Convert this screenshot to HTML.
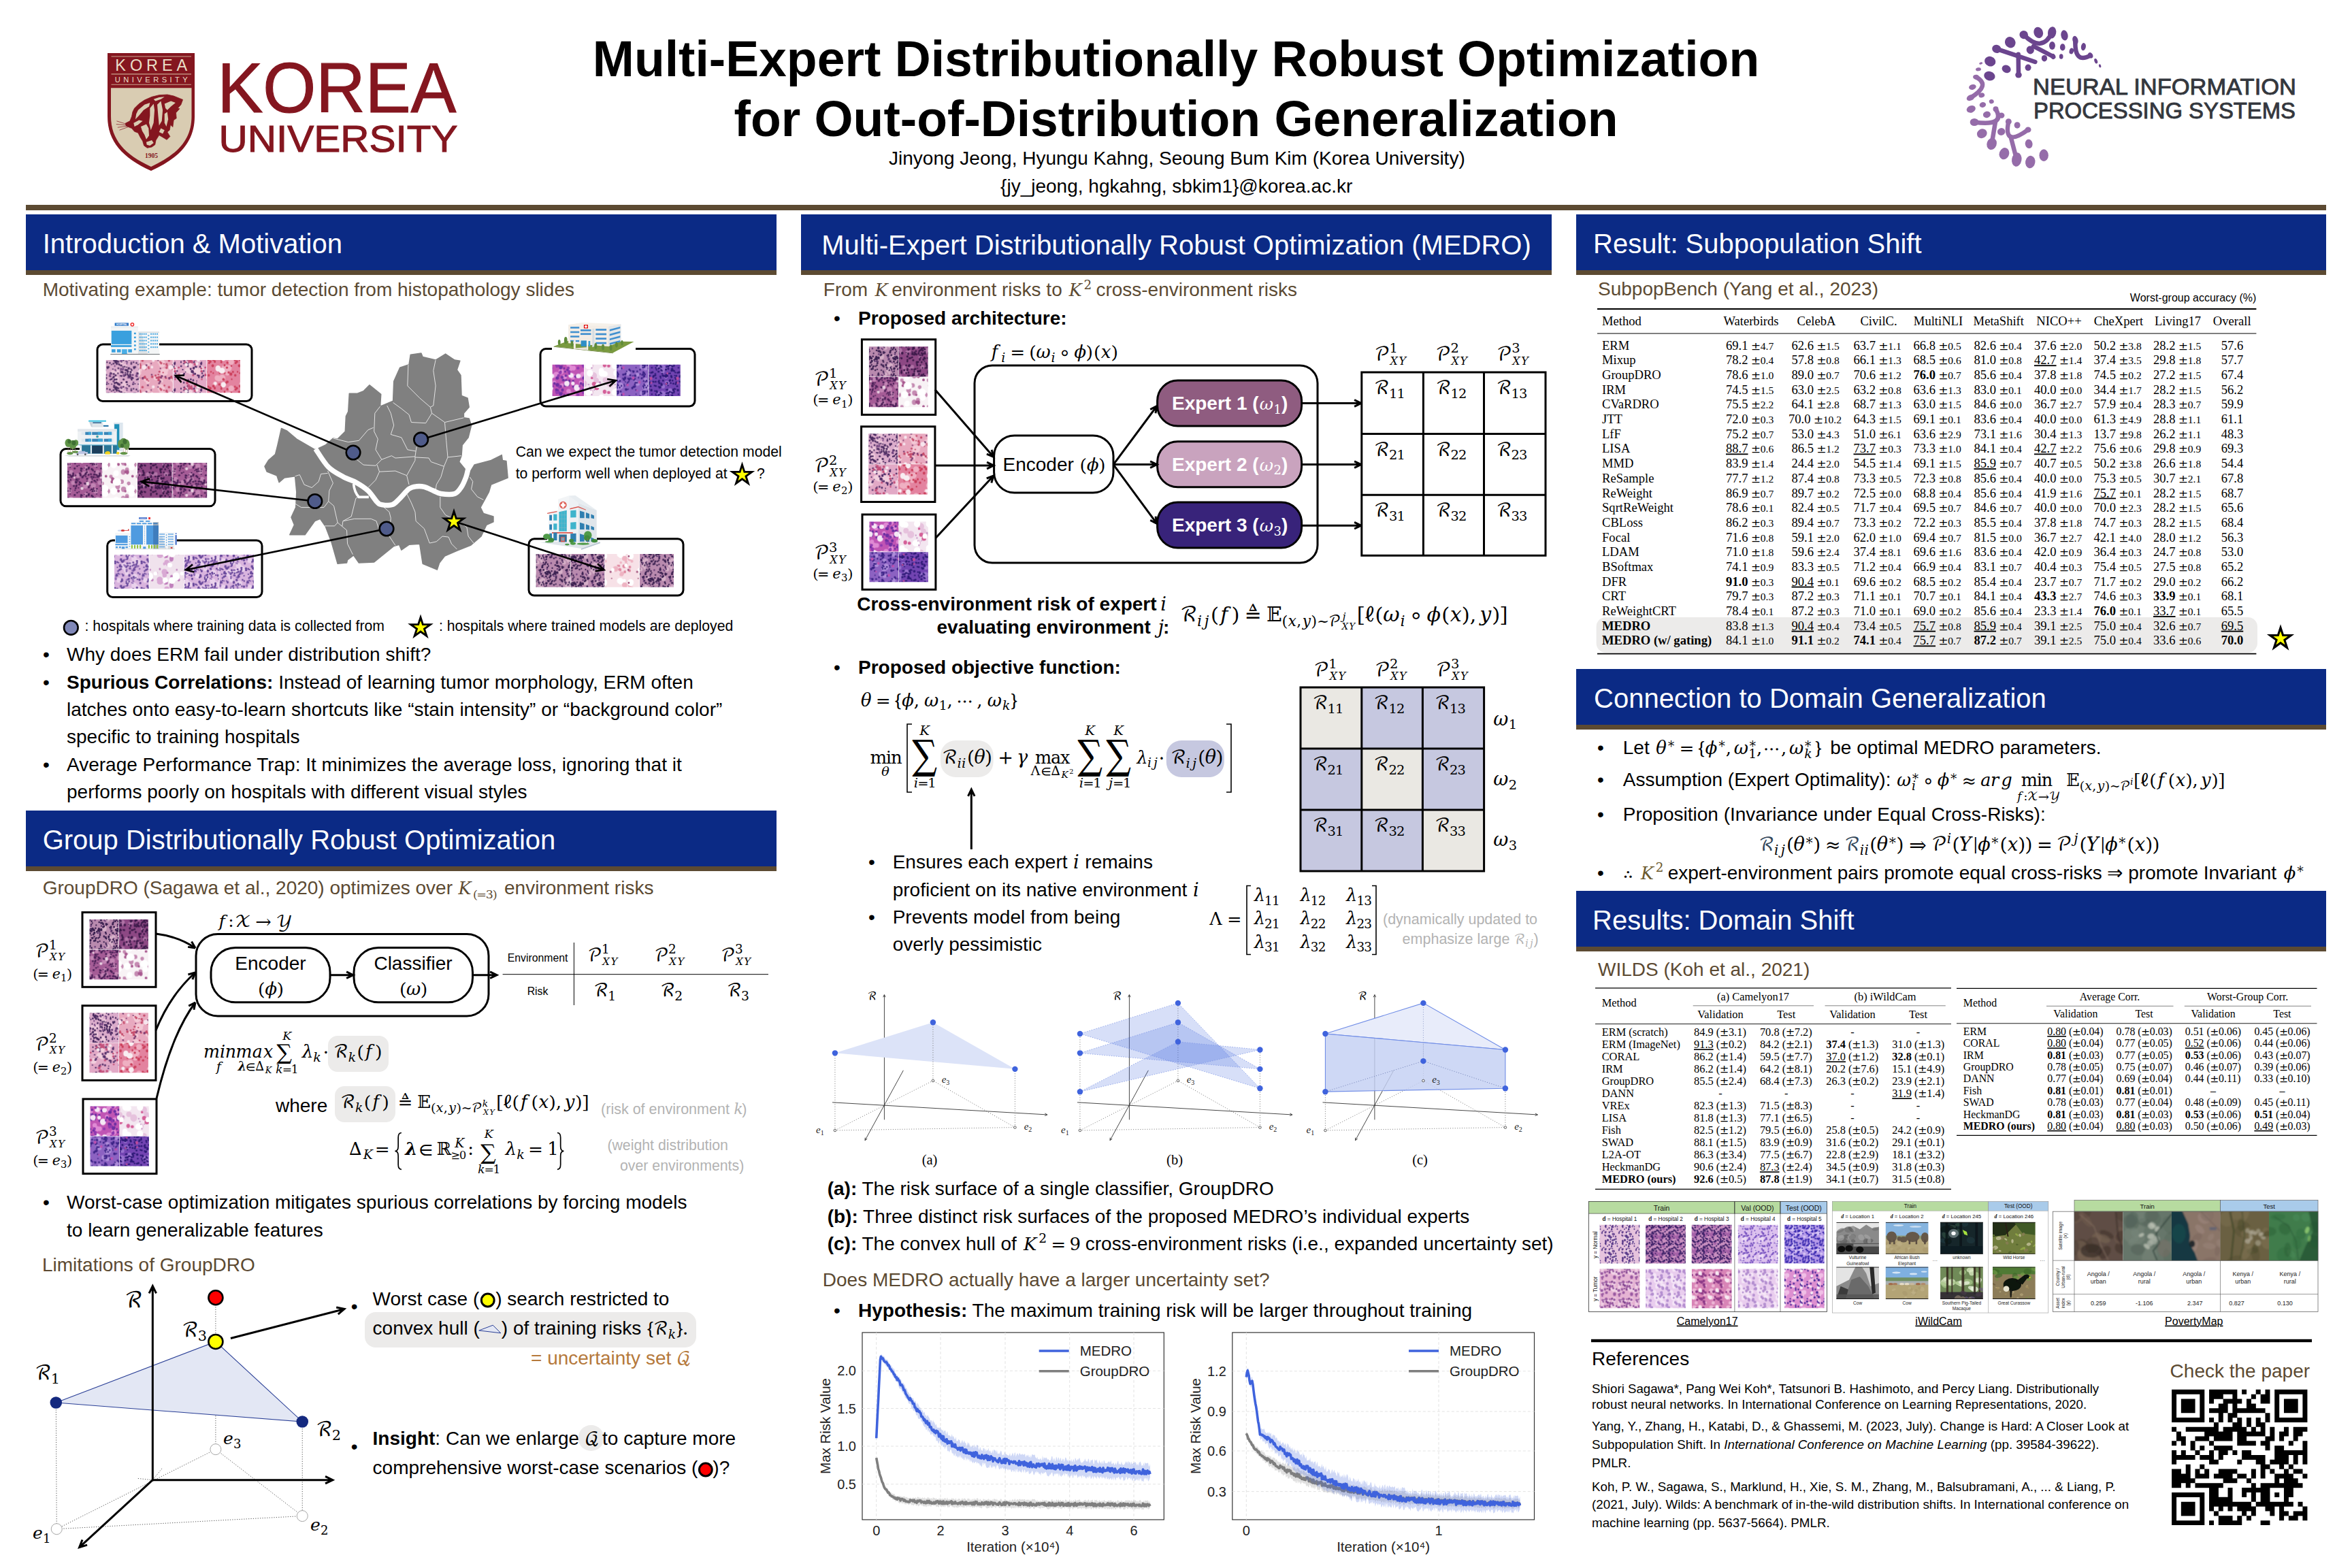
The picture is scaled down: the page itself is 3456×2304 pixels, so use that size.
<!DOCTYPE html>
<html lang="en"><head><meta charset="utf-8"><title>Multi-Expert Distributionally Robust Optimization for Out-of-Distribution Generalization</title>
<style>
html,body{margin:0;padding:0;background:#fff}
#poster{position:relative;width:3456px;height:2304px;background:#fff;overflow:hidden;font-family:"Liberation Sans",sans-serif}
.t{position:absolute;white-space:nowrap}
.bar{position:absolute;background:#0b2a85}
.brn{position:absolute;background:#5c4a32}
#ov{position:absolute;left:0;top:0}
</style></head>
<body>
<div id="poster">
<div class="brn" style="left:38px;top:301px;width:3380px;height:8px"></div>
<div class="t" style="left:1728px;top:43px;font-size:73.3px;line-height:88px;color:#000;font-weight:bold;transform:translateX(-50%);">Multi-Expert Distributionally Robust Optimization</div>
<div class="t" style="left:1728px;top:131px;font-size:73.3px;line-height:88px;color:#000;font-weight:bold;transform:translateX(-50%);">for Out-of-Distribution Generalization</div>
<div class="t" style="left:1729.4px;top:216px;font-size:28px;line-height:34px;color:#000;transform:translateX(-50%);">Jinyong Jeong, Hyungu Kahng, Seoung Bum Kim (Korea University)</div>
<div class="t" style="left:1728.7px;top:257px;font-size:28px;line-height:34px;color:#000;transform:translateX(-50%);">{jy_jeong, hgkahng, sbkim1}@korea.ac.kr</div>
<div class="bar" style="left:38px;top:315px;width:1103px;height:82px"></div>
<div class="brn" style="left:38px;top:397px;width:1103px;height:7px"></div>
<div class="t" style="left:62.7px;top:334px;font-size:40px;line-height:48px;color:#fff;">Introduction &amp; Motivation</div>
<div class="bar" style="left:1177px;top:315px;width:1103px;height:82px"></div>
<div class="brn" style="left:1177px;top:397px;width:1103px;height:7px"></div>
<div class="t" style="left:1207.3px;top:336px;font-size:40px;line-height:48px;color:#fff;">Multi-Expert Distributionally Robust Optimization (MEDRO)</div>
<div class="bar" style="left:2316px;top:315px;width:1102px;height:82px"></div>
<div class="brn" style="left:2316px;top:397px;width:1102px;height:7px"></div>
<div class="t" style="left:2341px;top:334px;font-size:40px;line-height:48px;color:#fff;">Result: Subpopulation Shift</div>
<div class="bar" style="left:38px;top:1191px;width:1103px;height:82px"></div>
<div class="brn" style="left:38px;top:1273px;width:1103px;height:7px"></div>
<div class="t" style="left:62.7px;top:1210px;font-size:40px;line-height:48px;color:#fff;">Group Distributionally Robust Optimization</div>
<div class="bar" style="left:2316px;top:983px;width:1102px;height:81.5px"></div>
<div class="brn" style="left:2316px;top:1064.5px;width:1102px;height:7px"></div>
<div class="t" style="left:2342px;top:1002px;font-size:40px;line-height:48px;color:#fff;">Connection to Domain Generalization</div>
<div class="bar" style="left:2316px;top:1309px;width:1102px;height:82px"></div>
<div class="brn" style="left:2316px;top:1391px;width:1102px;height:7px"></div>
<div class="t" style="left:2340px;top:1328px;font-size:40px;line-height:48px;color:#fff;">Results: Domain Shift</div>
<div class="t" style="left:62.7px;top:409px;font-size:28px;line-height:34px;color:#5c4a32;">Motivating example: tumor detection from histopathology slides</div>
<div class="t" style="left:63px;top:945px;font-size:28px;line-height:34px;color:#000;">•</div>
<div class="t" style="left:98px;top:945px;font-size:28px;line-height:34px;color:#000;">Why does ERM fail under distribution shift?</div>
<div class="t" style="left:63px;top:986px;font-size:28px;line-height:34px;color:#000;">•</div>
<div class="t" style="left:98px;top:986px;font-size:28px;line-height:34px;color:#000;"><b>Spurious Correlations:</b> Instead of learning tumor morphology, ERM often</div>
<div class="t" style="left:98px;top:1026px;font-size:28px;line-height:34px;color:#000;">latches onto easy-to-learn shortcuts like “stain intensity” or “background color”</div>
<div class="t" style="left:98px;top:1066px;font-size:28px;line-height:34px;color:#000;">specific to training hospitals</div>
<div class="t" style="left:63px;top:1107px;font-size:28px;line-height:34px;color:#000;">•</div>
<div class="t" style="left:98px;top:1107px;font-size:28px;line-height:34px;color:#000;">Average Performance Trap: It minimizes the average loss, ignoring that it</div>
<div class="t" style="left:98px;top:1147px;font-size:28px;line-height:34px;color:#000;">performs poorly on hospitals with different visual styles</div>
<div class="t" style="left:62.7px;top:1288px;font-size:28px;line-height:34px;color:#5c4a32;">GroupDRO (Sagawa et al., 2020) optimizes over</div>
<div class="t" style="left:741px;top:1288px;font-size:28px;line-height:34px;color:#5c4a32;">environment risks</div>
<div class="t" style="left:405px;top:1608px;font-size:28px;line-height:34px;color:#000;">where</div>
<div class="t" style="left:63px;top:1750px;font-size:28px;line-height:34px;color:#000;">•</div>
<div class="t" style="left:98px;top:1750px;font-size:28px;line-height:34px;color:#000;">Worst-case optimization mitigates spurious correlations by forcing models</div>
<div class="t" style="left:98px;top:1791px;font-size:28px;line-height:34px;color:#000;">to learn generalizable features</div>
<div class="t" style="left:62px;top:1842px;font-size:28px;line-height:34px;color:#5c4a32;">Limitations of GroupDRO</div>
<div class="t" style="left:1209.8px;top:409px;font-size:28px;line-height:34px;color:#5c4a32;">From</div>
<div class="t" style="left:1310.2px;top:409px;font-size:28px;line-height:34px;color:#5c4a32;">environment risks to</div>
<div class="t" style="left:1610.4px;top:409px;font-size:28px;line-height:34px;color:#5c4a32;">cross-environment risks</div>
<div class="t" style="left:1225px;top:451px;font-size:28px;line-height:34px;color:#000;">•</div>
<div class="t" style="left:1261px;top:451px;font-size:28px;line-height:34px;color:#000;font-weight:bold;">Proposed architecture:</div>
<div class="t" style="left:1225px;top:964px;font-size:28px;line-height:34px;color:#000;">•</div>
<div class="t" style="left:1261px;top:964px;font-size:28px;line-height:34px;color:#000;font-weight:bold;">Proposed objective function:</div>
<div class="t" style="left:1276px;top:1250px;font-size:28px;line-height:34px;color:#000;">•</div>
<div class="t" style="left:1311.7px;top:1250px;font-size:28px;line-height:34px;color:#000;">Ensures each expert</div>
<div class="t" style="left:1594.32px;top:1250px;font-size:28px;line-height:34px;color:#000;">remains</div>
<div class="t" style="left:1311.7px;top:1291px;font-size:28px;line-height:34px;color:#000;">proficient on its native environment</div>
<div class="t" style="left:1276px;top:1331px;font-size:28px;line-height:34px;color:#000;">•</div>
<div class="t" style="left:1311.7px;top:1331px;font-size:28px;line-height:34px;color:#000;">Prevents model from being</div>
<div class="t" style="left:1311.7px;top:1371px;font-size:28px;line-height:34px;color:#000;">overly pessimistic</div>
<div class="t" style="left:1215.7px;top:1730px;font-size:28px;line-height:34px;color:#000;"><b>(a):</b> The risk surface of a single classifier, GroupDRO</div>
<div class="t" style="left:1215.7px;top:1771px;font-size:28px;line-height:34px;color:#000;"><b>(b):</b> Three distinct risk surfaces of the proposed MEDRO’s individual experts</div>
<div class="t" style="left:1215.7px;top:1811px;font-size:28px;line-height:34px;color:#000;"><b>(c):</b> The convex hull of</div>
<div class="t" style="left:1594.81px;top:1811px;font-size:28px;line-height:34px;color:#000;">cross-environment risks (i.e., expanded uncertainty set)</div>
<div class="t" style="left:1208.8px;top:1864px;font-size:28px;line-height:34px;color:#5c4a32;">Does MEDRO actually have a larger uncertainty set?</div>
<div class="t" style="left:1225px;top:1909px;font-size:28px;line-height:34px;color:#000;">•</div>
<div class="t" style="left:1261px;top:1909px;font-size:28px;line-height:34px;color:#000;"><b>Hypothesis:</b> The maximum training risk will be larger throughout training</div>
<div class="t" style="left:2348px;top:408px;font-size:28px;line-height:34px;color:#5c4a32;">SubpopBench (Yang et al., 2023)</div>
<div class="t" style="left:2347px;top:1082px;font-size:28px;line-height:34px;color:#000;">•</div>
<div class="t" style="left:2384.8px;top:1082px;font-size:28px;line-height:34px;color:#000;">Let</div>
<div class="t" style="left:2689.21px;top:1082px;font-size:28px;line-height:34px;color:#000;">be optimal MEDRO parameters.</div>
<div class="t" style="left:2347px;top:1129px;font-size:28px;line-height:34px;color:#000;">•</div>
<div class="t" style="left:2384.8px;top:1129px;font-size:28px;line-height:34px;color:#000;">Assumption (Expert Optimality):</div>
<div class="t" style="left:2347px;top:1180px;font-size:28px;line-height:34px;color:#000;">•</div>
<div class="t" style="left:2384.8px;top:1180px;font-size:28px;line-height:34px;color:#000;">Proposition (Invariance under Equal Cross-Risks):</div>
<div class="t" style="left:2347px;top:1266px;font-size:28px;line-height:34px;color:#000;">•</div>
<div class="t" style="left:2450.67px;top:1266px;font-size:28px;line-height:34px;color:#000;">expert-environment pairs promote equal cross-risks ⇒ promote Invariant</div>
<div class="t" style="left:2348px;top:1408px;font-size:28px;line-height:34px;color:#5c4a32;">WILDS (Koh et al., 2021)</div>
<div class="t" style="left:2339px;top:1980px;font-size:28px;line-height:34px;color:#000;">References</div>
<div class="t" style="left:2339px;top:2030px;font-size:18.7px;line-height:22px;color:#000;">Shiori Sagawa*, Pang Wei Koh*, Tatsunori B. Hashimoto, and Percy Liang. Distributionally</div>
<div class="t" style="left:2339px;top:2053px;font-size:18.7px;line-height:22px;color:#000;">robust neural networks. In International Conference on Learning Representations, 2020.</div>
<div class="t" style="left:2339px;top:2084px;font-size:18.8px;line-height:23px;color:#000;">Yang, Y., Zhang, H., Katabi, D., &amp; Ghassemi, M. (2023, July). Change is Hard: A Closer Look at</div>
<div class="t" style="left:2339px;top:2111px;font-size:18.8px;line-height:23px;color:#000;">Subpopulation Shift. In <i>International Conference on Machine Learning</i> (pp. 39584-39622).</div>
<div class="t" style="left:2339px;top:2138px;font-size:18.8px;line-height:23px;color:#000;">PMLR.</div>
<div class="t" style="left:2339px;top:2173px;font-size:18.8px;line-height:23px;color:#000;">Koh, P. W., Sagawa, S., Marklund, H., Xie, S. M., Zhang, M., Balsubramani, A., ... &amp; Liang, P.</div>
<div class="t" style="left:2339px;top:2199px;font-size:18.8px;line-height:23px;color:#000;">(2021, July). Wilds: A benchmark of in-the-wild distribution shifts. In International conference on</div>
<div class="t" style="left:2339px;top:2226px;font-size:18.8px;line-height:23px;color:#000;">machine learning (pp. 5637-5664). PMLR.</div>
<div class="t" style="left:3188.6px;top:1998px;font-size:28px;line-height:34px;color:#5c4a32;">Check the paper</div>
<svg id="ov" width="3456" height="2304" viewBox="0 0 3456 2304" font-family="&quot;Liberation Sans&quot;, sans-serif">
<defs>
<pattern id="pA" width="50" height="50" patternUnits="userSpaceOnUse"><rect width="50" height="50" fill="#dbaccb"/><path d="M6.9 3.5a5.8 4.8 0 1 0 11.5 0a5.8 5.8 0 1 0 -11.5 0M6.9 53.5a5.8 6.6 0 1 0 11.5 0a5.8 5.8 0 1 0 -11.5 0M-0 25.2a3.4 3.2 0 1 0 6.9 0a3.4 3.4 0 1 0 -6.9 0M50 25.2a3.4 3.2 0 1 0 6.9 0a3.4 3.4 0 1 0 -6.9 0M-0.7 39.7a3.3 3.5 0 1 0 6.7 0a3.3 3.3 0 1 0 -6.7 0M49.3 39.7a3.3 3.3 0 1 0 6.7 0a3.3 3.3 0 1 0 -6.7 0M26.5 1.5a3.4 2.9 0 1 0 6.9 0a3.4 3.4 0 1 0 -6.9 0M26.5 51.5a3.4 3.6 0 1 0 6.9 0a3.4 3.4 0 1 0 -6.9 0M33.7 1.6a4.3 4.8 0 1 0 8.6 0a4.3 4.3 0 1 0 -8.6 0M33.7 51.6a4.3 3.8 0 1 0 8.6 0a4.3 4.3 0 1 0 -8.6 0M42.9 33.5a3.7 4.2 0 1 0 7.3 0a3.7 3.7 0 1 0 -7.3 0M-7.1 33.5a3.7 3.4 0 1 0 7.3 0a3.7 3.7 0 1 0 -7.3 0M-3.4 24.6a5.1 4.6 0 1 0 10.2 0a5.1 5.1 0 1 0 -10.2 0M46.6 24.6a5.1 5.4 0 1 0 10.2 0a5.1 5.1 0 1 0 -10.2 0M31.6 15.6a5.1 6.1 0 1 0 10.1 0a5.1 5.1 0 1 0 -10.1 0" fill="#ecc6da"/><path d="M38.2 4.2a1.4 1.3 0 1 0 2.7 0a1.4 1.4 0 1 0 -2.7 0M35.5 35.7a1.9 2.2 0 1 0 3.7 0a1.9 1.9 0 1 0 -3.7 0M2.1 7.1a1.6 1.8 0 1 0 3.1 0a1.6 1.6 0 1 0 -3.1 0M47.7 42a1.5 1.5 0 1 0 3 0a1.5 1.5 0 1 0 -3 0M-2.3 42a1.5 1.3 0 1 0 3 0a1.5 1.5 0 1 0 -3 0M39.4 36.6a1.4 1.4 0 1 0 2.8 0a1.4 1.4 0 1 0 -2.8 0M17.4 33.1a1.6 1.6 0 1 0 3.2 0a1.6 1.6 0 1 0 -3.2 0M38.6 44.6a1.8 1.5 0 1 0 3.7 0a1.8 1.8 0 1 0 -3.7 0M30.8 27.1a1.7 1.9 0 1 0 3.5 0a1.7 1.7 0 1 0 -3.5 0M29.6 19.3a1.5 1.3 0 1 0 2.9 0a1.5 1.5 0 1 0 -2.9 0M5.5 5.7a2 1.7 0 1 0 4.1 0a2 2 0 1 0 -4.1 0M14 48.2a1.6 1.7 0 1 0 3.2 0a1.6 1.6 0 1 0 -3.2 0M10.7 9.7a1.9 1.9 0 1 0 3.9 0a1.9 1.9 0 1 0 -3.9 0M22.7 34.6a1.7 1.5 0 1 0 3.4 0a1.7 1.7 0 1 0 -3.4 0M16.4 13a1.5 1.8 0 1 0 3.1 0a1.5 1.5 0 1 0 -3.1 0M29.4 35.9a1.8 1.6 0 1 0 3.7 0a1.8 1.8 0 1 0 -3.7 0M13.5 13.9a1.3 1.3 0 1 0 2.5 0a1.3 1.3 0 1 0 -2.5 0M10.8 6.1a1.7 1.5 0 1 0 3.3 0a1.7 1.7 0 1 0 -3.3 0M16.3 24.6a1.7 1.6 0 1 0 3.5 0a1.7 1.7 0 1 0 -3.5 0M41 37a1.3 1.2 0 1 0 2.6 0a1.3 1.3 0 1 0 -2.6 0M40.1 25a2.1 2.4 0 1 0 4.2 0a2.1 2.1 0 1 0 -4.2 0M47.2 3a1.7 1.5 0 1 0 3.4 0a1.7 1.7 0 1 0 -3.4 0M-2.8 3a1.7 1.4 0 1 0 3.4 0a1.7 1.7 0 1 0 -3.4 0M0.8 41.6a1.5 1.6 0 1 0 3 0a1.5 1.5 0 1 0 -3 0M22.3 9.2a1.7 1.8 0 1 0 3.5 0a1.7 1.7 0 1 0 -3.5 0M45.7 1.6a2 1.6 0 1 0 4 0a2 2 0 1 0 -4 0M45.7 51.6a2 1.7 0 1 0 4 0a2 2 0 1 0 -4 0M36.7 31.5a1.9 1.6 0 1 0 3.8 0a1.9 1.9 0 1 0 -3.8 0M7.3 8.3a1.7 1.9 0 1 0 3.5 0a1.7 1.7 0 1 0 -3.5 0M26.5 24.4a1.2 1.2 0 1 0 2.5 0a1.2 1.2 0 1 0 -2.5 0M1.9 47.8a1.8 2.1 0 1 0 3.6 0a1.8 1.8 0 1 0 -3.6 0M18.6 44.2a1.4 1.5 0 1 0 2.7 0a1.4 1.4 0 1 0 -2.7 0M24.7 4.2a2 2.4 0 1 0 4 0a2 2 0 1 0 -4 0M9 28a1.8 1.7 0 1 0 3.6 0a1.8 1.8 0 1 0 -3.6 0M26.2 37.6a1.4 1.2 0 1 0 2.8 0a1.4 1.4 0 1 0 -2.8 0M6.2 2.2a1.6 1.4 0 1 0 3.3 0a1.6 1.6 0 1 0 -3.3 0M11.4 1.5a1.9 2.1 0 1 0 3.9 0a1.9 1.9 0 1 0 -3.9 0M11.4 51.5a1.9 2.1 0 1 0 3.9 0a1.9 1.9 0 1 0 -3.9 0M12 2.2a1.7 1.5 0 1 0 3.4 0a1.7 1.7 0 1 0 -3.4 0M25.9 15a1.7 1.7 0 1 0 3.5 0a1.7 1.7 0 1 0 -3.5 0M2.3 3.2a1.4 1.2 0 1 0 2.7 0a1.4 1.4 0 1 0 -2.7 0M34.3 29.9a1.8 1.9 0 1 0 3.7 0a1.8 1.8 0 1 0 -3.7 0M35.3 15.4a1.7 2 0 1 0 3.4 0a1.7 1.7 0 1 0 -3.4 0M4.6 48.3a2.1 2 0 1 0 4.2 0a2.1 2.1 0 1 0 -4.2 0M4.6 -1.7a2.1 2.3 0 1 0 4.2 0a2.1 2.1 0 1 0 -4.2 0M42.8 8.9a1.4 1.4 0 1 0 2.8 0a1.4 1.4 0 1 0 -2.8 0M5.7 32.6a1.3 1.1 0 1 0 2.6 0a1.3 1.3 0 1 0 -2.6 0M-1.7 29.4a1.7 1.5 0 1 0 3.4 0a1.7 1.7 0 1 0 -3.4 0M48.3 29.4a1.7 1.7 0 1 0 3.4 0a1.7 1.7 0 1 0 -3.4 0M20.3 42.5a1.7 1.4 0 1 0 3.3 0a1.7 1.7 0 1 0 -3.3 0M23.6 15.9a1.4 1.7 0 1 0 2.9 0a1.4 1.4 0 1 0 -2.9 0M43.9 1.7a1.8 1.9 0 1 0 3.6 0a1.8 1.8 0 1 0 -3.6 0M43.9 51.7a1.8 2.1 0 1 0 3.6 0a1.8 1.8 0 1 0 -3.6 0M43.7 39.3a2 1.8 0 1 0 4 0a2 2 0 1 0 -4 0M29.7 10.9a2 2.2 0 1 0 4.1 0a2 2 0 1 0 -4.1 0M6.6 0.5a1.9 2.2 0 1 0 3.8 0a1.9 1.9 0 1 0 -3.8 0M6.6 50.5a1.9 1.9 0 1 0 3.8 0a1.9 1.9 0 1 0 -3.8 0M34.9 21.4a1.9 2 0 1 0 3.9 0a1.9 1.9 0 1 0 -3.9 0M29.7 5.3a1.9 1.9 0 1 0 3.9 0a1.9 1.9 0 1 0 -3.9 0M44.8 9.2a1.6 1.7 0 1 0 3.3 0a1.6 1.6 0 1 0 -3.3 0M37.4 23.3a2 2.1 0 1 0 4 0a2 2 0 1 0 -4 0M13.2 36a1.6 1.6 0 1 0 3.1 0a1.6 1.6 0 1 0 -3.1 0M31.9 22.4a1.7 1.6 0 1 0 3.3 0a1.7 1.7 0 1 0 -3.3 0M31.5 16a1.9 1.6 0 1 0 3.7 0a1.9 1.9 0 1 0 -3.7 0M13.5 33.2a1.2 1.1 0 1 0 2.4 0a1.2 1.2 0 1 0 -2.4 0M4.8 48a1.6 1.6 0 1 0 3.3 0a1.6 1.6 0 1 0 -3.3 0M43.7 48a1.4 1.3 0 1 0 2.8 0a1.4 1.4 0 1 0 -2.8 0M13.9 15.9a1.6 1.9 0 1 0 3.2 0a1.6 1.6 0 1 0 -3.2 0M33 32.3a2.1 2.4 0 1 0 4.1 0a2.1 2.1 0 1 0 -4.1 0M10.7 8.8a2 2.2 0 1 0 4 0a2 2 0 1 0 -4 0M5.8 25.5a1.3 1.2 0 1 0 2.5 0a1.3 1.3 0 1 0 -2.5 0M38.1 24.9a1.3 1.4 0 1 0 2.6 0a1.3 1.3 0 1 0 -2.6 0M28.8 45.8a1.2 1.5 0 1 0 2.5 0a1.2 1.2 0 1 0 -2.5 0M41 38.1a1.4 1.5 0 1 0 2.8 0a1.4 1.4 0 1 0 -2.8 0M28.7 12.5a1.5 1.3 0 1 0 3.1 0a1.5 1.5 0 1 0 -3.1 0M4.1 20.8a1.9 1.5 0 1 0 3.7 0a1.9 1.9 0 1 0 -3.7 0M8 44.9a2.1 1.9 0 1 0 4.1 0a2.1 2.1 0 1 0 -4.1 0M12.9 46.1a1.3 1.2 0 1 0 2.6 0a1.3 1.3 0 1 0 -2.6 0M44.4 21.8a1.8 1.7 0 1 0 3.7 0a1.8 1.8 0 1 0 -3.7 0M-1.8 15.7a2 1.9 0 1 0 4 0a2 2 0 1 0 -4 0M48.2 15.7a2 1.6 0 1 0 4 0a2 2 0 1 0 -4 0M4.6 42.5a1.3 1.1 0 1 0 2.6 0a1.3 1.3 0 1 0 -2.6 0M30.4 29.6a2 2.3 0 1 0 4 0a2 2 0 1 0 -4 0M38.8 32.2a1.6 1.9 0 1 0 3.3 0a1.6 1.6 0 1 0 -3.3 0M13.9 12.3a2.1 2.2 0 1 0 4.2 0a2.1 2.1 0 1 0 -4.2 0M16.3 7.2a1.6 1.7 0 1 0 3.2 0a1.6 1.6 0 1 0 -3.2 0M45.3 32.4a1.3 1.2 0 1 0 2.6 0a1.3 1.3 0 1 0 -2.6 0M20.6 23.7a1.2 1.2 0 1 0 2.4 0a1.2 1.2 0 1 0 -2.4 0M33.3 7.9a1.9 2 0 1 0 3.8 0a1.9 1.9 0 1 0 -3.8 0M2.6 47.9a1.9 1.6 0 1 0 3.9 0a1.9 1.9 0 1 0 -3.9 0M23.9 4a1.7 1.6 0 1 0 3.4 0a1.7 1.7 0 1 0 -3.4 0M8.2 12a1.8 1.5 0 1 0 3.5 0a1.8 1.8 0 1 0 -3.5 0M17.9 42.5a1.4 1.5 0 1 0 2.7 0a1.4 1.4 0 1 0 -2.7 0M-0.5 9.5a1.6 1.4 0 1 0 3.2 0a1.6 1.6 0 1 0 -3.2 0M49.5 9.5a1.6 1.5 0 1 0 3.2 0a1.6 1.6 0 1 0 -3.2 0" fill="#4a2a60"/><path d="M3.4 31.6a1.5 1.4 0 1 0 3.1 0a1.5 1.5 0 1 0 -3.1 0M31.1 19.1a1.3 1.3 0 1 0 2.6 0a1.3 1.3 0 1 0 -2.6 0M32.1 40.2a1.5 1.8 0 1 0 3.1 0a1.5 1.5 0 1 0 -3.1 0M23.3 9.7a2 1.9 0 1 0 4 0a2 2 0 1 0 -4 0M11.9 12.8a1.4 1.6 0 1 0 2.7 0a1.4 1.4 0 1 0 -2.7 0M32.9 47.5a1.6 1.8 0 1 0 3.2 0a1.6 1.6 0 1 0 -3.2 0M16.1 7.8a1.5 1.4 0 1 0 3 0a1.5 1.5 0 1 0 -3 0M43.1 30.9a2 2 0 1 0 4 0a2 2 0 1 0 -4 0M-1.4 7.2a1.8 1.5 0 1 0 3.6 0a1.8 1.8 0 1 0 -3.6 0M48.6 7.2a1.8 1.8 0 1 0 3.6 0a1.8 1.8 0 1 0 -3.6 0M17.2 21.2a1.7 1.9 0 1 0 3.4 0a1.7 1.7 0 1 0 -3.4 0M7 12.2a1.7 1.9 0 1 0 3.4 0a1.7 1.7 0 1 0 -3.4 0M5 35.6a1.5 1.7 0 1 0 3 0a1.5 1.5 0 1 0 -3 0M14.7 6.9a1.5 1.8 0 1 0 3 0a1.5 1.5 0 1 0 -3 0M23.4 6.1a1.7 1.7 0 1 0 3.3 0a1.7 1.7 0 1 0 -3.3 0M43.7 45.4a1.7 1.7 0 1 0 3.3 0a1.7 1.7 0 1 0 -3.3 0M30 18a1.9 2.2 0 1 0 3.8 0a1.9 1.9 0 1 0 -3.8 0M34.3 49.4a1.4 1.4 0 1 0 2.8 0a1.4 1.4 0 1 0 -2.8 0M34.3 -0.6a1.4 1.2 0 1 0 2.8 0a1.4 1.4 0 1 0 -2.8 0M47 46.6a1.8 1.9 0 1 0 3.5 0a1.8 1.8 0 1 0 -3.5 0M-3 46.6a1.8 1.7 0 1 0 3.5 0a1.8 1.8 0 1 0 -3.5 0M44.6 30.3a1.8 2.2 0 1 0 3.7 0a1.8 1.8 0 1 0 -3.7 0M47.8 45.5a1.8 1.7 0 1 0 3.6 0a1.8 1.8 0 1 0 -3.6 0M-2.2 45.5a1.8 1.8 0 1 0 3.6 0a1.8 1.8 0 1 0 -3.6 0" fill="#7a4a86"/></pattern>
<pattern id="pB" width="50" height="50" patternUnits="userSpaceOnUse"><rect width="50" height="50" fill="#e8a9bf"/><path d="M19.9 14.7a6.3 7.5 0 1 0 12.6 0a6.3 6.3 0 1 0 -12.6 0M27.5 32.5a4.7 4.3 0 1 0 9.5 0a4.7 4.7 0 1 0 -9.5 0M45.6 48.7a3.8 4.3 0 1 0 7.5 0a3.8 3.8 0 1 0 -7.5 0M45.6 -1.3a3.8 4.5 0 1 0 7.5 0a3.8 3.8 0 1 0 -7.5 0M-4.4 48.7a3.8 3.4 0 1 0 7.5 0a3.8 3.8 0 1 0 -7.5 0M-4.4 -1.3a3.8 3.5 0 1 0 7.5 0a3.8 3.8 0 1 0 -7.5 0M31 26.9a3.7 3.7 0 1 0 7.4 0a3.7 3.7 0 1 0 -7.4 0M44.9 17.4a4.2 4 0 1 0 8.5 0a4.2 4.2 0 1 0 -8.5 0M-5.1 17.4a4.2 4.1 0 1 0 8.5 0a4.2 4.2 0 1 0 -8.5 0M22.4 30.6a6.7 7.1 0 1 0 13.4 0a6.7 6.7 0 1 0 -13.4 0M10.3 41.1a4.5 4.8 0 1 0 9 0a4.5 4.5 0 1 0 -9 0M17.3 10.2a6.6 6.2 0 1 0 13.3 0a6.6 6.6 0 1 0 -13.3 0M21.2 47.2a3.5 3.9 0 1 0 7 0a3.5 3.5 0 1 0 -7 0M21.2 -2.8a3.5 3.7 0 1 0 7 0a3.5 3.5 0 1 0 -7 0M41.9 45.7a3.6 3.1 0 1 0 7.3 0a3.6 3.6 0 1 0 -7.3 0" fill="#f3c8d5"/><path d="M43.1 24.9a1.9 2 0 1 0 3.9 0a1.9 1.9 0 1 0 -3.9 0M12.2 37.4a1.8 1.6 0 1 0 3.5 0a1.8 1.8 0 1 0 -3.5 0M43.1 41.8a1.8 1.6 0 1 0 3.6 0a1.8 1.8 0 1 0 -3.6 0M20.7 40a1.8 2 0 1 0 3.6 0a1.8 1.8 0 1 0 -3.6 0M34.5 19a1.4 1.6 0 1 0 2.9 0a1.4 1.4 0 1 0 -2.9 0M20.9 11.7a1.6 1.7 0 1 0 3.3 0a1.6 1.6 0 1 0 -3.3 0M17.6 35.6a1.6 1.3 0 1 0 3.2 0a1.6 1.6 0 1 0 -3.2 0M31.6 41.8a1.9 1.9 0 1 0 3.8 0a1.9 1.9 0 1 0 -3.8 0M17 40.8a2.3 2.5 0 1 0 4.7 0a2.3 2.3 0 1 0 -4.7 0M32.3 16.1a2.3 2.3 0 1 0 4.6 0a2.3 2.3 0 1 0 -4.6 0M19.2 30.3a2.1 1.7 0 1 0 4.2 0a2.1 2.1 0 1 0 -4.2 0M41.9 39.1a1.9 2 0 1 0 3.8 0a1.9 1.9 0 1 0 -3.8 0M-0.3 23.7a1.6 1.7 0 1 0 3.3 0a1.6 1.6 0 1 0 -3.3 0M49.7 23.7a1.6 2 0 1 0 3.3 0a1.6 1.6 0 1 0 -3.3 0M32.4 22.6a2.3 2.5 0 1 0 4.6 0a2.3 2.3 0 1 0 -4.6 0M40.3 41a1.6 1.8 0 1 0 3.1 0a1.6 1.6 0 1 0 -3.1 0M-1 21.2a1.8 2 0 1 0 3.6 0a1.8 1.8 0 1 0 -3.6 0M49 21.2a1.8 2.1 0 1 0 3.6 0a1.8 1.8 0 1 0 -3.6 0M22.3 13.8a2.2 2.3 0 1 0 4.4 0a2.2 2.2 0 1 0 -4.4 0M26.7 31.8a1.5 1.2 0 1 0 3 0a1.5 1.5 0 1 0 -3 0M37.1 9.3a2.3 2 0 1 0 4.6 0a2.3 2.3 0 1 0 -4.6 0M28.3 15.2a1.5 1.3 0 1 0 3 0a1.5 1.5 0 1 0 -3 0M28.9 6.2a1.8 1.6 0 1 0 3.6 0a1.8 1.8 0 1 0 -3.6 0M-0.7 47.2a1.3 1.6 0 1 0 2.7 0a1.3 1.3 0 1 0 -2.7 0M49.3 47.2a1.3 1.2 0 1 0 2.7 0a1.3 1.3 0 1 0 -2.7 0M46 44.7a1.9 1.7 0 1 0 3.7 0a1.9 1.9 0 1 0 -3.7 0M5.6 39.8a2.1 1.8 0 1 0 4.1 0a2.1 2.1 0 1 0 -4.1 0M17.4 45.6a2.4 1.9 0 1 0 4.7 0a2.4 2.4 0 1 0 -4.7 0M14 41.6a2.1 2.1 0 1 0 4.3 0a2.1 2.1 0 1 0 -4.3 0" fill="#c64d6c"/><path d="M5.1 35.7a1.6 1.5 0 1 0 3.3 0a1.6 1.6 0 1 0 -3.3 0M4.5 14.5a1.2 1.4 0 1 0 2.5 0a1.2 1.2 0 1 0 -2.5 0M24 38.4a2 1.8 0 1 0 4 0a2 2 0 1 0 -4 0M30.7 39.7a1.8 2.1 0 1 0 3.6 0a1.8 1.8 0 1 0 -3.6 0M17.2 9.1a1.4 1.3 0 1 0 2.9 0a1.4 1.4 0 1 0 -2.9 0M22.4 41.3a1.9 1.7 0 1 0 3.9 0a1.9 1.9 0 1 0 -3.9 0M37.8 42.5a2 1.8 0 1 0 3.9 0a2 2 0 1 0 -3.9 0M18.7 2a2 1.8 0 1 0 4 0a2 2 0 1 0 -4 0M44.9 18.2a1.8 1.6 0 1 0 3.5 0a1.8 1.8 0 1 0 -3.5 0M20.9 48.6a1.8 1.9 0 1 0 3.5 0a1.8 1.8 0 1 0 -3.5 0M20.9 -1.4a1.8 1.7 0 1 0 3.5 0a1.8 1.8 0 1 0 -3.5 0M21.7 24a1.3 1.3 0 1 0 2.7 0a1.3 1.3 0 1 0 -2.7 0M47.7 5.6a1.8 1.6 0 1 0 3.6 0a1.8 1.8 0 1 0 -3.6 0M-2.3 5.6a1.8 2 0 1 0 3.6 0a1.8 1.8 0 1 0 -3.6 0" fill="#7c3b70"/><path d="M5.1 21.3a2.2 2.3 0 1 0 4.3 0a2.2 2.2 0 1 0 -4.3 0M38.1 21.7a4.3 4.5 0 1 0 8.7 0a4.3 4.3 0 1 0 -8.7 0M6.9 8.4a2.8 3.3 0 1 0 5.6 0a2.8 2.8 0 1 0 -5.6 0" fill="#f7e6ee"/></pattern>
<pattern id="pAB" width="50" height="50" patternUnits="userSpaceOnUse"><rect width="50" height="50" fill="#e2a9c6"/><path d="M22.3 6.6a5.1 4.7 0 1 0 10.3 0a5.1 5.1 0 1 0 -10.3 0M41.6 9.6a5.3 4.6 0 1 0 10.6 0a5.3 5.3 0 1 0 -10.6 0M-8.4 9.6a5.3 6.3 0 1 0 10.6 0a5.3 5.3 0 1 0 -10.6 0M38.7 5.4a4.9 4.4 0 1 0 9.9 0a4.9 4.9 0 1 0 -9.9 0M22.1 42.5a3.5 3.1 0 1 0 6.9 0a3.5 3.5 0 1 0 -6.9 0M-0.8 3.2a4.5 3.9 0 1 0 9 0a4.5 4.5 0 1 0 -9 0M-0.8 53.2a4.5 3.8 0 1 0 9 0a4.5 4.5 0 1 0 -9 0M49.2 3.2a4.5 4.9 0 1 0 9 0a4.5 4.5 0 1 0 -9 0M49.2 53.2a4.5 4.1 0 1 0 9 0a4.5 4.5 0 1 0 -9 0M11.4 16.9a5.5 5 0 1 0 11 0a5.5 5.5 0 1 0 -11 0M27.7 46.8a4.7 4.3 0 1 0 9.4 0a4.7 4.7 0 1 0 -9.4 0M27.7 -3.2a4.7 4 0 1 0 9.4 0a4.7 4.7 0 1 0 -9.4 0M28.4 8.8a4.2 4.7 0 1 0 8.4 0a4.2 4.2 0 1 0 -8.4 0" fill="#f2cfdd"/><path d="M37.6 13.9a1.5 1.4 0 1 0 3.1 0a1.5 1.5 0 1 0 -3.1 0M13.3 24.8a1.3 1.1 0 1 0 2.6 0a1.3 1.3 0 1 0 -2.6 0M5.7 16.5a1.7 1.6 0 1 0 3.4 0a1.7 1.7 0 1 0 -3.4 0M19.6 38.7a1.9 1.8 0 1 0 3.8 0a1.9 1.9 0 1 0 -3.8 0M42.6 0a1.7 1.9 0 1 0 3.4 0a1.7 1.7 0 1 0 -3.4 0M42.6 50a1.7 1.7 0 1 0 3.4 0a1.7 1.7 0 1 0 -3.4 0M19.5 12.9a1.9 1.7 0 1 0 3.8 0a1.9 1.9 0 1 0 -3.8 0M26.3 35.8a1.9 2.3 0 1 0 3.9 0a1.9 1.9 0 1 0 -3.9 0M6.8 7.8a1.4 1.6 0 1 0 2.9 0a1.4 1.4 0 1 0 -2.9 0M27.5 36.7a1.6 1.6 0 1 0 3.2 0a1.6 1.6 0 1 0 -3.2 0M47.4 19.6a1.6 1.7 0 1 0 3.2 0a1.6 1.6 0 1 0 -3.2 0M-2.6 19.6a1.6 1.8 0 1 0 3.2 0a1.6 1.6 0 1 0 -3.2 0M43.9 26.5a1.2 1 0 1 0 2.5 0a1.2 1.2 0 1 0 -2.5 0M-0.4 0.1a1.8 1.7 0 1 0 3.6 0a1.8 1.8 0 1 0 -3.6 0M-0.4 50.1a1.8 1.5 0 1 0 3.6 0a1.8 1.8 0 1 0 -3.6 0M49.6 0.1a1.8 2 0 1 0 3.6 0a1.8 1.8 0 1 0 -3.6 0M49.6 50.1a1.8 1.9 0 1 0 3.6 0a1.8 1.8 0 1 0 -3.6 0M24.2 42a1.3 1.3 0 1 0 2.6 0a1.3 1.3 0 1 0 -2.6 0M27.8 24.1a1.4 1.6 0 1 0 2.8 0a1.4 1.4 0 1 0 -2.8 0M41.1 49.7a1.7 1.5 0 1 0 3.5 0a1.7 1.7 0 1 0 -3.5 0M41.1 -0.3a1.7 1.6 0 1 0 3.5 0a1.7 1.7 0 1 0 -3.5 0M0 49.2a1.6 1.4 0 1 0 3.2 0a1.6 1.6 0 1 0 -3.2 0M0 -0.8a1.6 1.3 0 1 0 3.2 0a1.6 1.6 0 1 0 -3.2 0M13.9 48.7a1.8 1.5 0 1 0 3.6 0a1.8 1.8 0 1 0 -3.6 0M13.9 -1.3a1.8 1.6 0 1 0 3.6 0a1.8 1.8 0 1 0 -3.6 0M45.1 15.9a1.9 2 0 1 0 3.8 0a1.9 1.9 0 1 0 -3.8 0M1.5 43.6a2 2.3 0 1 0 3.9 0a2 2 0 1 0 -3.9 0M3.8 11.9a1.5 1.7 0 1 0 3 0a1.5 1.5 0 1 0 -3 0M26.4 48.4a1.9 1.6 0 1 0 3.8 0a1.9 1.9 0 1 0 -3.8 0M26.4 -1.6a1.9 2 0 1 0 3.8 0a1.9 1.9 0 1 0 -3.8 0M3.1 41.1a1.2 1.1 0 1 0 2.4 0a1.2 1.2 0 1 0 -2.4 0M29.5 41.5a1.3 1.5 0 1 0 2.6 0a1.3 1.3 0 1 0 -2.6 0M2.9 19a1.9 1.9 0 1 0 3.8 0a1.9 1.9 0 1 0 -3.8 0M32.1 23.4a1.8 2 0 1 0 3.6 0a1.8 1.8 0 1 0 -3.6 0M22.8 9.5a1.2 1.2 0 1 0 2.4 0a1.2 1.2 0 1 0 -2.4 0M9.6 15.5a1.4 1.2 0 1 0 2.8 0a1.4 1.4 0 1 0 -2.8 0M47 16.8a2 1.6 0 1 0 4 0a2 2 0 1 0 -4 0M-3 16.8a2 2.1 0 1 0 4 0a2 2 0 1 0 -4 0M43.1 30.8a1.4 1.5 0 1 0 2.8 0a1.4 1.4 0 1 0 -2.8 0M25.8 26.3a1.7 1.8 0 1 0 3.4 0a1.7 1.7 0 1 0 -3.4 0M37.4 2.4a2.1 2.2 0 1 0 4.1 0a2.1 2.1 0 1 0 -4.1 0M17.3 5.3a1.4 1.2 0 1 0 2.8 0a1.4 1.4 0 1 0 -2.8 0M37.5 11a1.3 1.3 0 1 0 2.6 0a1.3 1.3 0 1 0 -2.6 0M33.9 8.4a2 2.3 0 1 0 3.9 0a2 2 0 1 0 -3.9 0M31.8 3.9a1.9 2.2 0 1 0 3.8 0a1.9 1.9 0 1 0 -3.8 0M19.4 43.9a1.5 1.3 0 1 0 3 0a1.5 1.5 0 1 0 -3 0M40 12.8a2 2.2 0 1 0 4 0a2 2 0 1 0 -4 0M19.1 29.6a1.7 1.6 0 1 0 3.4 0a1.7 1.7 0 1 0 -3.4 0M38.5 41.7a1.4 1.5 0 1 0 2.8 0a1.4 1.4 0 1 0 -2.8 0M36.5 25a1.9 2.3 0 1 0 3.8 0a1.9 1.9 0 1 0 -3.8 0M35.4 8.8a2.1 2.4 0 1 0 4.1 0a2.1 2.1 0 1 0 -4.1 0M14.2 40.8a1.3 1.4 0 1 0 2.5 0a1.3 1.3 0 1 0 -2.5 0M26.6 44.3a1.6 1.7 0 1 0 3.2 0a1.6 1.6 0 1 0 -3.2 0M39 40.2a1.4 1.2 0 1 0 2.9 0a1.4 1.4 0 1 0 -2.9 0M18.2 15.1a2.1 1.7 0 1 0 4.2 0a2.1 2.1 0 1 0 -4.2 0" fill="#54306a"/><path d="M39.6 35.9a2.4 2.1 0 1 0 4.8 0a2.4 2.4 0 1 0 -4.8 0M39 44.9a2.4 2.6 0 1 0 4.9 0a2.4 2.4 0 1 0 -4.9 0M30.3 39.4a2.5 2.8 0 1 0 4.9 0a2.5 2.5 0 1 0 -4.9 0M1.4 3a2.1 1.7 0 1 0 4.2 0a2.1 2.1 0 1 0 -4.2 0M34.3 41a2 2 0 1 0 3.9 0a2 2 0 1 0 -3.9 0M9.8 15.4a2 1.8 0 1 0 3.9 0a2 2 0 1 0 -3.9 0M36.3 15.6a2 2 0 1 0 4 0a2 2 0 1 0 -4 0M28.4 27a1.5 1.8 0 1 0 3 0a1.5 1.5 0 1 0 -3 0M24.6 30a2.5 2.7 0 1 0 5.1 0a2.5 2.5 0 1 0 -5.1 0M33.2 36.6a1.9 1.9 0 1 0 3.8 0a1.9 1.9 0 1 0 -3.8 0M20.6 41a2.2 2.6 0 1 0 4.5 0a2.2 2.2 0 1 0 -4.5 0M3 23.3a1.6 1.8 0 1 0 3.3 0a1.6 1.6 0 1 0 -3.3 0M9.4 1.3a1.8 1.7 0 1 0 3.6 0a1.8 1.8 0 1 0 -3.6 0M9.4 51.3a1.8 2 0 1 0 3.6 0a1.8 1.8 0 1 0 -3.6 0M27.5 35.6a2.5 2.3 0 1 0 4.9 0a2.5 2.5 0 1 0 -4.9 0M1.8 8.4a2.3 2 0 1 0 4.7 0a2.3 2.3 0 1 0 -4.7 0M28 41a1.6 1.4 0 1 0 3.2 0a1.6 1.6 0 1 0 -3.2 0" fill="#c4507a"/><path d="M45.1 38a2.9 2.4 0 1 0 5.9 0a2.9 2.9 0 1 0 -5.9 0M-4.9 38a2.9 3.3 0 1 0 5.9 0a2.9 2.9 0 1 0 -5.9 0M22.3 46.1a3 2.6 0 1 0 6.1 0a3 3 0 1 0 -6.1 0M42.8 43.9a2.8 2.9 0 1 0 5.6 0a2.8 2.8 0 1 0 -5.6 0" fill="#f6e9ef"/></pattern>
<pattern id="pB2" width="50" height="50" patternUnits="userSpaceOnUse"><rect width="50" height="50" fill="#e3839f"/><path d="M32.4 49.8a5.2 5.1 0 1 0 10.4 0a5.2 5.2 0 1 0 -10.4 0M32.4 -0.2a5.2 5.5 0 1 0 10.4 0a5.2 5.2 0 1 0 -10.4 0M36.6 2.2a3.7 4.2 0 1 0 7.5 0a3.7 3.7 0 1 0 -7.5 0M36.6 52.2a3.7 3.8 0 1 0 7.5 0a3.7 3.7 0 1 0 -7.5 0M1.7 39.5a4.7 5 0 1 0 9.3 0a4.7 4.7 0 1 0 -9.3 0M3.6 31.1a5.5 5.9 0 1 0 11 0a5.5 5.5 0 1 0 -11 0M-4.2 30.8a6 5 0 1 0 12.1 0a6 6 0 1 0 -12.1 0M45.8 30.8a6 6.4 0 1 0 12.1 0a6 6 0 1 0 -12.1 0M40 49.9a6.4 6.6 0 1 0 12.8 0a6.4 6.4 0 1 0 -12.8 0M40 -0.1a6.4 5.9 0 1 0 12.8 0a6.4 6.4 0 1 0 -12.8 0M-10 49.9a6.4 7 0 1 0 12.8 0a6.4 6.4 0 1 0 -12.8 0M-10 -0.1a6.4 6.1 0 1 0 12.8 0a6.4 6.4 0 1 0 -12.8 0M28.8 11.4a3.8 3.4 0 1 0 7.5 0a3.8 3.8 0 1 0 -7.5 0M8 19.7a5.5 5.1 0 1 0 11 0a5.5 5.5 0 1 0 -11 0" fill="#efb0c2"/><path d="M-0.6 26a1.8 1.6 0 1 0 3.5 0a1.8 1.8 0 1 0 -3.5 0M49.4 26a1.8 1.9 0 1 0 3.5 0a1.8 1.8 0 1 0 -3.5 0M46.5 2.6a2.5 2.3 0 1 0 5 0a2.5 2.5 0 1 0 -5 0M-3.5 2.6a2.5 2.5 0 1 0 5 0a2.5 2.5 0 1 0 -5 0M40.1 40.7a1.8 1.7 0 1 0 3.6 0a1.8 1.8 0 1 0 -3.6 0M26.2 26.7a2.5 3 0 1 0 5.1 0a2.5 2.5 0 1 0 -5.1 0M15.3 38.5a1.7 1.6 0 1 0 3.3 0a1.7 1.7 0 1 0 -3.3 0M1.7 9.4a2 1.6 0 1 0 3.9 0a2 2 0 1 0 -3.9 0M3.7 7.1a2.5 2.4 0 1 0 5.1 0a2.5 2.5 0 1 0 -5.1 0M30.8 19a1.9 2 0 1 0 3.7 0a1.9 1.9 0 1 0 -3.7 0M13 2.2a1.6 1.5 0 1 0 3.2 0a1.6 1.6 0 1 0 -3.2 0M28.2 40.5a1.5 1.6 0 1 0 3 0a1.5 1.5 0 1 0 -3 0M4.5 21.1a1.8 1.7 0 1 0 3.5 0a1.8 1.8 0 1 0 -3.5 0M27.7 15.1a2.4 2.8 0 1 0 4.9 0a2.4 2.4 0 1 0 -4.9 0M3.4 30.4a2.1 2.2 0 1 0 4.3 0a2.1 2.1 0 1 0 -4.3 0M43.2 19.8a1.8 2 0 1 0 3.5 0a1.8 1.8 0 1 0 -3.5 0M43.1 16a1.4 1.5 0 1 0 2.8 0a1.4 1.4 0 1 0 -2.8 0M10.4 42.5a2.6 2.7 0 1 0 5.1 0a2.6 2.6 0 1 0 -5.1 0M18.9 16.3a1.8 2.1 0 1 0 3.6 0a1.8 1.8 0 1 0 -3.6 0M47 11.8a2.5 2.3 0 1 0 5.1 0a2.5 2.5 0 1 0 -5.1 0M-3 11.8a2.5 2.6 0 1 0 5.1 0a2.5 2.5 0 1 0 -5.1 0M18.8 45a2.4 2.2 0 1 0 4.8 0a2.4 2.4 0 1 0 -4.8 0M12.4 27.1a1.5 1.8 0 1 0 3.1 0a1.5 1.5 0 1 0 -3.1 0M-0.4 40.4a1.8 2.1 0 1 0 3.6 0a1.8 1.8 0 1 0 -3.6 0M49.6 40.4a1.8 1.9 0 1 0 3.6 0a1.8 1.8 0 1 0 -3.6 0M40.8 36.2a2.1 2 0 1 0 4.1 0a2.1 2.1 0 1 0 -4.1 0M21.7 19a2.4 2.6 0 1 0 4.9 0a2.4 2.4 0 1 0 -4.9 0M24 38.2a1.5 1.7 0 1 0 3.1 0a1.5 1.5 0 1 0 -3.1 0M4.5 21a2 2.4 0 1 0 4.1 0a2 2 0 1 0 -4.1 0M1.5 9.5a2 2 0 1 0 4 0a2 2 0 1 0 -4 0M38.9 12a2.3 2.3 0 1 0 4.6 0a2.3 2.3 0 1 0 -4.6 0M19.9 21.4a2.1 2.3 0 1 0 4.2 0a2.1 2.1 0 1 0 -4.2 0M6.7 39.2a2.1 2.6 0 1 0 4.3 0a2.1 2.1 0 1 0 -4.3 0M37.2 35.3a2.3 2.2 0 1 0 4.5 0a2.3 2.3 0 1 0 -4.5 0" fill="#cc405c"/><path d="M34 31.7a4.8 5.3 0 1 0 9.5 0a4.8 4.8 0 1 0 -9.5 0M44.2 12.3a4.7 5.6 0 1 0 9.5 0a4.7 4.7 0 1 0 -9.5 0M-5.8 12.3a4.7 5.1 0 1 0 9.5 0a4.7 4.7 0 1 0 -9.5 0M31 10.1a2.8 2.6 0 1 0 5.5 0a2.8 2.8 0 1 0 -5.5 0M40.2 36.5a5.8 4.8 0 1 0 11.7 0a5.8 5.8 0 1 0 -11.7 0M-9.8 36.5a5.8 5.9 0 1 0 11.7 0a5.8 5.8 0 1 0 -11.7 0" fill="#f8eef2"/></pattern>
<pattern id="pD" width="50" height="50" patternUnits="userSpaceOnUse"><rect width="50" height="50" fill="#a55c96"/><path d="M0.6 18.9a4.3 4.5 0 1 0 8.6 0a4.3 4.3 0 1 0 -8.6 0M16.2 5.2a3.9 3.8 0 1 0 7.9 0a3.9 3.9 0 1 0 -7.9 0M28.9 38.2a4.9 4.3 0 1 0 9.8 0a4.9 4.9 0 1 0 -9.8 0M12.4 14.9a3.4 3.7 0 1 0 6.7 0a3.4 3.4 0 1 0 -6.7 0M14.5 38.1a4.6 5.6 0 1 0 9.3 0a4.6 4.6 0 1 0 -9.3 0M17.9 13.6a4.1 4.1 0 1 0 8.3 0a4.1 4.1 0 1 0 -8.3 0M37.9 13.4a4.2 4.8 0 1 0 8.3 0a4.2 4.2 0 1 0 -8.3 0M23.7 27.8a3.7 3 0 1 0 7.4 0a3.7 3.7 0 1 0 -7.4 0M33.7 47.9a4.5 3.6 0 1 0 8.9 0a4.5 4.5 0 1 0 -8.9 0M33.7 -2.1a4.5 4.4 0 1 0 8.9 0a4.5 4.5 0 1 0 -8.9 0M42.1 32.5a3.8 4.4 0 1 0 7.7 0a3.8 3.8 0 1 0 -7.7 0" fill="#c284b3"/><path d="M-0.1 26.6a1.9 2.1 0 1 0 3.9 0a1.9 1.9 0 1 0 -3.9 0M49.9 26.6a1.9 2 0 1 0 3.9 0a1.9 1.9 0 1 0 -3.9 0M23.2 5.3a1.9 2.2 0 1 0 3.7 0a1.9 1.9 0 1 0 -3.7 0M32.5 22.1a2 1.9 0 1 0 4.1 0a2 2 0 1 0 -4.1 0M34.6 16.7a1.8 2 0 1 0 3.7 0a1.8 1.8 0 1 0 -3.7 0M3.1 29a1.4 1.7 0 1 0 2.9 0a1.4 1.4 0 1 0 -2.9 0M11.5 22a2 1.8 0 1 0 3.9 0a2 2 0 1 0 -3.9 0M39.5 27.3a1.6 1.8 0 1 0 3.3 0a1.6 1.6 0 1 0 -3.3 0M30.8 48.6a1.5 1.7 0 1 0 2.9 0a1.5 1.5 0 1 0 -2.9 0M30.8 -1.4a1.5 1.2 0 1 0 2.9 0a1.5 1.5 0 1 0 -2.9 0M14.1 19.5a1.5 1.8 0 1 0 3.1 0a1.5 1.5 0 1 0 -3.1 0M27 46.7a1.2 1.1 0 1 0 2.4 0a1.2 1.2 0 1 0 -2.4 0M9 5.8a1.9 1.9 0 1 0 3.8 0a1.9 1.9 0 1 0 -3.8 0M27.4 16.6a2 1.9 0 1 0 4 0a2 2 0 1 0 -4 0M10.7 6.3a1.6 1.7 0 1 0 3.3 0a1.6 1.6 0 1 0 -3.3 0M25.9 38a1.5 1.4 0 1 0 3 0a1.5 1.5 0 1 0 -3 0M18.3 20.9a1.4 1.6 0 1 0 2.8 0a1.4 1.4 0 1 0 -2.8 0M40.4 21.2a2.1 2.1 0 1 0 4.1 0a2.1 2.1 0 1 0 -4.1 0M0.4 30.9a1.5 1.6 0 1 0 3 0a1.5 1.5 0 1 0 -3 0M-0.3 32.3a2.1 2 0 1 0 4.2 0a2.1 2.1 0 1 0 -4.2 0M49.7 32.3a2.1 2.4 0 1 0 4.2 0a2.1 2.1 0 1 0 -4.2 0M34.5 11.8a1.9 1.8 0 1 0 3.8 0a1.9 1.9 0 1 0 -3.8 0M-1.1 18.8a1.6 1.4 0 1 0 3.2 0a1.6 1.6 0 1 0 -3.2 0M48.9 18.8a1.6 1.5 0 1 0 3.2 0a1.6 1.6 0 1 0 -3.2 0M44.2 15.2a1.7 1.7 0 1 0 3.3 0a1.7 1.7 0 1 0 -3.3 0M20.5 0.8a1.3 1.2 0 1 0 2.6 0a1.3 1.3 0 1 0 -2.6 0M20.5 50.8a1.3 1.4 0 1 0 2.6 0a1.3 1.3 0 1 0 -2.6 0M1.8 1.3a1.6 1.8 0 1 0 3.2 0a1.6 1.6 0 1 0 -3.2 0M1.8 51.3a1.6 1.3 0 1 0 3.2 0a1.6 1.6 0 1 0 -3.2 0M10.8 41a1.5 1.4 0 1 0 3 0a1.5 1.5 0 1 0 -3 0M19.3 8.2a1.8 1.7 0 1 0 3.7 0a1.8 1.8 0 1 0 -3.7 0M30.2 25.8a1.5 1.2 0 1 0 2.9 0a1.5 1.5 0 1 0 -2.9 0M20.6 30.1a1.4 1.5 0 1 0 2.8 0a1.4 1.4 0 1 0 -2.8 0M29.7 21.5a1.4 1.5 0 1 0 2.7 0a1.4 1.4 0 1 0 -2.7 0M16.4 17.9a1.5 1.7 0 1 0 3 0a1.5 1.5 0 1 0 -3 0M34 28.8a1.6 1.8 0 1 0 3.2 0a1.6 1.6 0 1 0 -3.2 0M46.7 5.6a2 2 0 1 0 4 0a2 2 0 1 0 -4 0M-3.3 5.6a2 1.9 0 1 0 4 0a2 2 0 1 0 -4 0M28.9 45a1.9 1.6 0 1 0 3.8 0a1.9 1.9 0 1 0 -3.8 0M20.2 25.3a2.1 1.8 0 1 0 4.2 0a2.1 2.1 0 1 0 -4.2 0M43.6 18.6a1.3 1.1 0 1 0 2.6 0a1.3 1.3 0 1 0 -2.6 0M6.6 31.9a1.6 1.4 0 1 0 3.1 0a1.6 1.6 0 1 0 -3.1 0M39 3.6a1.2 1.3 0 1 0 2.4 0a1.2 1.2 0 1 0 -2.4 0M5.3 25.7a1.4 1.5 0 1 0 2.8 0a1.4 1.4 0 1 0 -2.8 0M2 25.9a1.5 1.5 0 1 0 3 0a1.5 1.5 0 1 0 -3 0M6.6 30.9a1.4 1.4 0 1 0 2.9 0a1.4 1.4 0 1 0 -2.9 0M17.6 15.8a2 1.9 0 1 0 3.9 0a2 2 0 1 0 -3.9 0M37.3 22.6a1.2 1.2 0 1 0 2.4 0a1.2 1.2 0 1 0 -2.4 0M38.9 44.2a1.6 1.7 0 1 0 3.3 0a1.6 1.6 0 1 0 -3.3 0M8.4 33.2a1.9 2.2 0 1 0 3.8 0a1.9 1.9 0 1 0 -3.8 0M19 8.2a1.8 1.7 0 1 0 3.7 0a1.8 1.8 0 1 0 -3.7 0M31.1 8.9a1.9 2.2 0 1 0 3.8 0a1.9 1.9 0 1 0 -3.8 0M6.6 15.2a2 1.7 0 1 0 4 0a2 2 0 1 0 -4 0M48 46.7a1.3 1.5 0 1 0 2.7 0a1.3 1.3 0 1 0 -2.7 0M-2 46.7a1.3 1.4 0 1 0 2.7 0a1.3 1.3 0 1 0 -2.7 0M5.8 35.9a1.5 1.6 0 1 0 2.9 0a1.5 1.5 0 1 0 -2.9 0M9 9.6a1.3 1.1 0 1 0 2.5 0a1.3 1.3 0 1 0 -2.5 0M4.4 42.4a1.3 1.1 0 1 0 2.7 0a1.3 1.3 0 1 0 -2.7 0M22.9 17.5a1.9 2.2 0 1 0 3.9 0a1.9 1.9 0 1 0 -3.9 0M28.3 21.7a1.5 1.7 0 1 0 3.1 0a1.5 1.5 0 1 0 -3.1 0M34.1 48.3a1.6 1.3 0 1 0 3.2 0a1.6 1.6 0 1 0 -3.2 0M29 6.8a2 2.4 0 1 0 4 0a2 2 0 1 0 -4 0M35.5 29a1.4 1.5 0 1 0 2.9 0a1.4 1.4 0 1 0 -2.9 0M-0.9 31.5a2.1 1.8 0 1 0 4.1 0a2.1 2.1 0 1 0 -4.1 0M49.1 31.5a2.1 2.2 0 1 0 4.1 0a2.1 2.1 0 1 0 -4.1 0M33.5 17.4a1.7 1.3 0 1 0 3.3 0a1.7 1.7 0 1 0 -3.3 0M19.7 12.5a2 2.1 0 1 0 4 0a2 2 0 1 0 -4 0M44.3 18a1.6 1.7 0 1 0 3.1 0a1.6 1.6 0 1 0 -3.1 0M7.8 18.2a1.9 1.9 0 1 0 3.7 0a1.9 1.9 0 1 0 -3.7 0M23.6 3.9a1.9 2.1 0 1 0 3.9 0a1.9 1.9 0 1 0 -3.9 0M41.2 19.7a1.3 1.4 0 1 0 2.6 0a1.3 1.3 0 1 0 -2.6 0M37.6 31.3a1.2 1.3 0 1 0 2.4 0a1.2 1.2 0 1 0 -2.4 0M-0.1 39.4a1.8 1.5 0 1 0 3.5 0a1.8 1.8 0 1 0 -3.5 0M49.9 39.4a1.8 1.5 0 1 0 3.5 0a1.8 1.8 0 1 0 -3.5 0M28.9 31.1a1.8 1.8 0 1 0 3.7 0a1.8 1.8 0 1 0 -3.7 0M45.5 38.6a1.7 2 0 1 0 3.4 0a1.7 1.7 0 1 0 -3.4 0M37.9 17.9a2.1 1.9 0 1 0 4.2 0a2.1 2.1 0 1 0 -4.2 0M23.6 41a1.7 1.7 0 1 0 3.3 0a1.7 1.7 0 1 0 -3.3 0M1.1 37.5a1.5 1.2 0 1 0 3 0a1.5 1.5 0 1 0 -3 0M33.1 42.5a1.3 1.5 0 1 0 2.6 0a1.3 1.3 0 1 0 -2.6 0M-1.2 43a1.7 2 0 1 0 3.4 0a1.7 1.7 0 1 0 -3.4 0M48.8 43a1.7 1.7 0 1 0 3.4 0a1.7 1.7 0 1 0 -3.4 0M38.7 48.1a1.3 1.2 0 1 0 2.6 0a1.3 1.3 0 1 0 -2.6 0M43.4 19.6a2 1.7 0 1 0 3.9 0a2 2 0 1 0 -3.9 0M15.6 4.8a1.2 1.2 0 1 0 2.4 0a1.2 1.2 0 1 0 -2.4 0M5.6 49.6a1.3 1.3 0 1 0 2.6 0a1.3 1.3 0 1 0 -2.6 0M5.6 -0.4a1.3 1.2 0 1 0 2.6 0a1.3 1.3 0 1 0 -2.6 0M18 34.8a1.3 1.6 0 1 0 2.6 0a1.3 1.3 0 1 0 -2.6 0M19.4 6.9a1.6 1.8 0 1 0 3.3 0a1.6 1.6 0 1 0 -3.3 0M10.4 10.8a1.3 1.1 0 1 0 2.5 0a1.3 1.3 0 1 0 -2.5 0M32.8 45.3a1.4 1.4 0 1 0 2.8 0a1.4 1.4 0 1 0 -2.8 0M16.3 34.1a1.5 1.6 0 1 0 2.9 0a1.5 1.5 0 1 0 -2.9 0" fill="#4a1f57"/><path d="M20.4 34.2a2.9 3 0 1 0 5.7 0a2.9 2.9 0 1 0 -5.7 0M46.3 22.8a1.9 2.2 0 1 0 3.8 0a1.9 1.9 0 1 0 -3.8 0M-3.7 22.8a1.9 2 0 1 0 3.8 0a1.9 1.9 0 1 0 -3.8 0M9.8 43.1a2.8 3.1 0 1 0 5.6 0a2.8 2.8 0 1 0 -5.6 0" fill="#e8cfe0"/></pattern>
<pattern id="pC" width="50" height="50" patternUnits="userSpaceOnUse"><rect width="50" height="50" fill="#f8f2f5"/><path d="M9.7 25.1a2.5 2.8 0 1 0 5 0a2.5 2.5 0 1 0 -5 0M6.8 27.6a4.8 4.6 0 1 0 9.6 0a4.8 4.8 0 1 0 -9.6 0M44.7 36.6a3.6 3.8 0 1 0 7.3 0a3.6 3.6 0 1 0 -7.3 0M-5.3 36.6a3.6 3.8 0 1 0 7.3 0a3.6 3.6 0 1 0 -7.3 0M14.8 49.8a3.2 3.8 0 1 0 6.4 0a3.2 3.2 0 1 0 -6.4 0M14.8 -0.2a3.2 3.7 0 1 0 6.4 0a3.2 3.2 0 1 0 -6.4 0M-2 12.9a3.4 3.9 0 1 0 6.9 0a3.4 3.4 0 1 0 -6.9 0M48 12.9a3.4 3 0 1 0 6.9 0a3.4 3.4 0 1 0 -6.9 0M26.4 18.4a4.4 5.1 0 1 0 8.7 0a4.4 4.4 0 1 0 -8.7 0M33.8 9.7a4.3 4.2 0 1 0 8.6 0a4.3 4.3 0 1 0 -8.6 0M37.1 23.5a4.7 5.6 0 1 0 9.4 0a4.7 4.7 0 1 0 -9.4 0M36.8 41.3a4.5 4.6 0 1 0 8.9 0a4.5 4.5 0 1 0 -8.9 0" fill="#c58bb2"/><path d="M6.3 49.3a2.4 2 0 1 0 4.9 0a2.4 2.4 0 1 0 -4.9 0M6.3 -0.7a2.4 2.4 0 1 0 4.9 0a2.4 2.4 0 1 0 -4.9 0M17.3 10a3.4 2.9 0 1 0 6.8 0a3.4 3.4 0 1 0 -6.8 0M43.3 27.5a1.9 1.8 0 1 0 3.7 0a1.9 1.9 0 1 0 -3.7 0M19.5 5.9a3 3.2 0 1 0 6.1 0a3 3 0 1 0 -6.1 0M46 41.5a3.1 3.7 0 1 0 6.1 0a3.1 3.1 0 1 0 -6.1 0M-4 41.5a3.1 3.6 0 1 0 6.1 0a3.1 3.1 0 1 0 -6.1 0M29.7 27a2.5 2.9 0 1 0 5.1 0a2.5 2.5 0 1 0 -5.1 0M43.1 41.5a3.2 2.6 0 1 0 6.4 0a3.2 3.2 0 1 0 -6.4 0M18.4 4.4a2.7 2.8 0 1 0 5.3 0a2.7 2.7 0 1 0 -5.3 0" fill="#a8588f"/><path d="M23.1 42.9a4.9 5.3 0 1 0 9.8 0a4.9 4.9 0 1 0 -9.8 0M21.4 10.7a7.9 6.5 0 1 0 15.8 0a7.9 7.9 0 1 0 -15.8 0M16.9 26.8a6.4 7.6 0 1 0 12.8 0a6.4 6.4 0 1 0 -12.8 0M22.4 44.3a5.2 5.1 0 1 0 10.4 0a5.2 5.2 0 1 0 -10.4 0M1.7 32a5.7 6.3 0 1 0 11.4 0a5.7 5.7 0 1 0 -11.4 0M-2.2 23.2a7.8 6.3 0 1 0 15.7 0a7.8 7.8 0 1 0 -15.7 0M47.8 23.2a7.8 8.3 0 1 0 15.7 0a7.8 7.8 0 1 0 -15.7 0" fill="#ffffff"/></pattern>
<pattern id="pD2" width="50" height="50" patternUnits="userSpaceOnUse"><rect width="50" height="50" fill="#8d4884"/><path d="M15.7 6.1a2.6 2.2 0 1 0 5.1 0a2.6 2.6 0 1 0 -5.1 0M34.9 25.1a3.5 4 0 1 0 6.9 0a3.5 3.5 0 1 0 -6.9 0M6.1 35.2a4.5 5.1 0 1 0 9 0a4.5 4.5 0 1 0 -9 0M25.8 43.6a4.4 5.2 0 1 0 8.7 0a4.4 4.4 0 1 0 -8.7 0M36.8 34.1a4.1 3.4 0 1 0 8.3 0a4.1 4.1 0 1 0 -8.3 0M0.1 24a3.4 3.7 0 1 0 6.8 0a3.4 3.4 0 1 0 -6.8 0M45 24.9a3 3.4 0 1 0 6 0a3 3 0 1 0 -6 0M-5 24.9a3 3.5 0 1 0 6 0a3 3 0 1 0 -6 0M45.6 44.4a2.5 2.8 0 1 0 5.1 0a2.5 2.5 0 1 0 -5.1 0M-4.4 44.4a2.5 2.9 0 1 0 5.1 0a2.5 2.5 0 1 0 -5.1 0M19 24.6a3.9 3.6 0 1 0 7.8 0a3.9 3.9 0 1 0 -7.8 0M40.5 46.7a3.5 3.6 0 1 0 7.1 0a3.5 3.5 0 1 0 -7.1 0M40.5 -3.3a3.5 3.6 0 1 0 7.1 0a3.5 3.5 0 1 0 -7.1 0" fill="#b073a6"/><path d="M15.9 11.2a1.8 1.7 0 1 0 3.6 0a1.8 1.8 0 1 0 -3.6 0M21.8 26.3a1.3 1.2 0 1 0 2.5 0a1.3 1.3 0 1 0 -2.5 0M25.4 8.4a2 1.9 0 1 0 4.1 0a2 2 0 1 0 -4.1 0M44 48.8a1.8 2.1 0 1 0 3.6 0a1.8 1.8 0 1 0 -3.6 0M44 -1.2a1.8 2 0 1 0 3.6 0a1.8 1.8 0 1 0 -3.6 0M23.2 48.5a1.3 1.5 0 1 0 2.6 0a1.3 1.3 0 1 0 -2.6 0M46.2 7.9a1.9 1.9 0 1 0 3.9 0a1.9 1.9 0 1 0 -3.9 0M-3.8 7.9a1.9 1.7 0 1 0 3.9 0a1.9 1.9 0 1 0 -3.9 0M44.6 0.6a1.4 1.5 0 1 0 2.8 0a1.4 1.4 0 1 0 -2.8 0M44.6 50.6a1.4 1.2 0 1 0 2.8 0a1.4 1.4 0 1 0 -2.8 0M5.7 33a1.9 1.5 0 1 0 3.8 0a1.9 1.9 0 1 0 -3.8 0M40.1 21.4a1.9 1.7 0 1 0 3.9 0a1.9 1.9 0 1 0 -3.9 0M26 41a1.6 1.8 0 1 0 3.2 0a1.6 1.6 0 1 0 -3.2 0M12.1 33.4a1.8 1.5 0 1 0 3.7 0a1.8 1.8 0 1 0 -3.7 0M9.5 0.9a1.9 1.6 0 1 0 3.7 0a1.9 1.9 0 1 0 -3.7 0M9.5 50.9a1.9 1.7 0 1 0 3.7 0a1.9 1.9 0 1 0 -3.7 0M36.8 30.5a1.7 1.5 0 1 0 3.3 0a1.7 1.7 0 1 0 -3.3 0M1.1 29a1.7 1.6 0 1 0 3.4 0a1.7 1.7 0 1 0 -3.4 0M3.3 11.5a2 2.2 0 1 0 4 0a2 2 0 1 0 -4 0M24.4 40.9a1.3 1.4 0 1 0 2.6 0a1.3 1.3 0 1 0 -2.6 0M17.1 32.9a1.5 1.2 0 1 0 2.9 0a1.5 1.5 0 1 0 -2.9 0M17.2 21.1a1.6 1.7 0 1 0 3.2 0a1.6 1.6 0 1 0 -3.2 0M40.5 36a1.6 1.4 0 1 0 3.1 0a1.6 1.6 0 1 0 -3.1 0M44.3 35a1.9 2.2 0 1 0 3.8 0a1.9 1.9 0 1 0 -3.8 0M31.6 35.7a1.8 1.9 0 1 0 3.6 0a1.8 1.8 0 1 0 -3.6 0M26.2 45.7a1.4 1.7 0 1 0 2.8 0a1.4 1.4 0 1 0 -2.8 0M10.3 15.5a1.7 1.5 0 1 0 3.5 0a1.7 1.7 0 1 0 -3.5 0M28.5 19.9a1.6 1.8 0 1 0 3.2 0a1.6 1.6 0 1 0 -3.2 0M30.4 7.3a1.3 1.3 0 1 0 2.7 0a1.3 1.3 0 1 0 -2.7 0M9 44.6a1.6 1.8 0 1 0 3.1 0a1.6 1.6 0 1 0 -3.1 0M15 44.4a1.8 1.6 0 1 0 3.6 0a1.8 1.8 0 1 0 -3.6 0M17.9 6.7a1.5 1.6 0 1 0 3 0a1.5 1.5 0 1 0 -3 0M1.8 49.7a2 2 0 1 0 3.9 0a2 2 0 1 0 -3.9 0M1.8 -0.3a2 2 0 1 0 3.9 0a2 2 0 1 0 -3.9 0M6.2 46.5a1.4 1.2 0 1 0 2.9 0a1.4 1.4 0 1 0 -2.9 0M10.5 18.6a1.5 1.5 0 1 0 3.1 0a1.5 1.5 0 1 0 -3.1 0M23.5 38.1a1.4 1.6 0 1 0 2.7 0a1.4 1.4 0 1 0 -2.7 0M44.4 41.6a2 2.1 0 1 0 4 0a2 2 0 1 0 -4 0M6.2 39.6a1.4 1.4 0 1 0 2.8 0a1.4 1.4 0 1 0 -2.8 0M42.7 11.2a1.7 1.8 0 1 0 3.5 0a1.7 1.7 0 1 0 -3.5 0M5.8 47.8a1.5 1.5 0 1 0 2.9 0a1.5 1.5 0 1 0 -2.9 0M42.5 30.3a1.8 2 0 1 0 3.6 0a1.8 1.8 0 1 0 -3.6 0M32.7 48.3a2.1 2.5 0 1 0 4.1 0a2.1 2.1 0 1 0 -4.1 0M32.7 -1.7a2.1 2.1 0 1 0 4.1 0a2.1 2.1 0 1 0 -4.1 0M25.7 49a1.9 1.9 0 1 0 3.7 0a1.9 1.9 0 1 0 -3.7 0M25.7 -1a1.9 1.9 0 1 0 3.7 0a1.9 1.9 0 1 0 -3.7 0M11.1 20.9a2 2.1 0 1 0 4 0a2 2 0 1 0 -4 0M16.7 2.2a1.6 1.8 0 1 0 3.3 0a1.6 1.6 0 1 0 -3.3 0M19.4 15.3a1.8 2 0 1 0 3.6 0a1.8 1.8 0 1 0 -3.6 0M24.3 7a2.1 2.3 0 1 0 4.2 0a2.1 2.1 0 1 0 -4.2 0M16.4 42.9a2 1.9 0 1 0 4 0a2 2 0 1 0 -4 0M11.8 32.1a2 2 0 1 0 4 0a2 2 0 1 0 -4 0M12.3 26.9a1.2 1.3 0 1 0 2.4 0a1.2 1.2 0 1 0 -2.4 0M21.5 0.4a1.9 2.3 0 1 0 3.8 0a1.9 1.9 0 1 0 -3.8 0M21.5 50.4a1.9 1.8 0 1 0 3.8 0a1.9 1.9 0 1 0 -3.8 0M17.6 30.6a1.3 1.4 0 1 0 2.6 0a1.3 1.3 0 1 0 -2.6 0M43.9 40.3a1.6 1.6 0 1 0 3.2 0a1.6 1.6 0 1 0 -3.2 0M3.1 37.9a1.3 1.3 0 1 0 2.6 0a1.3 1.3 0 1 0 -2.6 0M22.4 10.4a2 2.3 0 1 0 4 0a2 2 0 1 0 -4 0M-1.3 7.8a1.7 1.4 0 1 0 3.5 0a1.7 1.7 0 1 0 -3.5 0M48.7 7.8a1.7 2.1 0 1 0 3.5 0a1.7 1.7 0 1 0 -3.5 0M42.2 4.6a2.1 2.3 0 1 0 4.2 0a2.1 2.1 0 1 0 -4.2 0M28.6 19.3a1.5 1.7 0 1 0 3 0a1.5 1.5 0 1 0 -3 0M27.6 17.7a1.9 1.7 0 1 0 3.8 0a1.9 1.9 0 1 0 -3.8 0M21.8 43.8a1.7 1.6 0 1 0 3.5 0a1.7 1.7 0 1 0 -3.5 0M19.3 48.3a1.8 1.7 0 1 0 3.7 0a1.8 1.8 0 1 0 -3.7 0M19.3 -1.7a1.8 2.1 0 1 0 3.7 0a1.8 1.8 0 1 0 -3.7 0M3.5 38.4a2 2.2 0 1 0 4 0a2 2 0 1 0 -4 0M13.7 49.4a1.8 1.9 0 1 0 3.6 0a1.8 1.8 0 1 0 -3.6 0M13.7 -0.6a1.8 1.9 0 1 0 3.6 0a1.8 1.8 0 1 0 -3.6 0M14.3 37.7a1.8 1.9 0 1 0 3.7 0a1.8 1.8 0 1 0 -3.7 0M5.6 29.2a1.9 2 0 1 0 3.9 0a1.9 1.9 0 1 0 -3.9 0M46.2 40.6a1.7 1.6 0 1 0 3.4 0a1.7 1.7 0 1 0 -3.4 0M46.3 21.4a2 1.8 0 1 0 3.9 0a2 2 0 1 0 -3.9 0M-3.7 21.4a2 2.3 0 1 0 3.9 0a2 2 0 1 0 -3.9 0M31.2 34.6a1.9 2.2 0 1 0 3.8 0a1.9 1.9 0 1 0 -3.8 0M13 15a1.8 1.6 0 1 0 3.6 0a1.8 1.8 0 1 0 -3.6 0M42.6 14a1.7 1.6 0 1 0 3.4 0a1.7 1.7 0 1 0 -3.4 0M5.5 36.6a1.7 1.6 0 1 0 3.5 0a1.7 1.7 0 1 0 -3.5 0M44.9 22.2a1.9 2.3 0 1 0 3.9 0a1.9 1.9 0 1 0 -3.9 0M7.4 49.7a2 1.7 0 1 0 3.9 0a2 2 0 1 0 -3.9 0M7.4 -0.3a2 1.6 0 1 0 3.9 0a2 2 0 1 0 -3.9 0M1.5 6.4a1.8 1.6 0 1 0 3.7 0a1.8 1.8 0 1 0 -3.7 0M2.1 45.7a1.3 1.5 0 1 0 2.6 0a1.3 1.3 0 1 0 -2.6 0M31.6 8a1.9 2 0 1 0 3.8 0a1.9 1.9 0 1 0 -3.8 0M31.7 31.8a1.7 1.6 0 1 0 3.4 0a1.7 1.7 0 1 0 -3.4 0M26.4 26.3a1.5 1.8 0 1 0 3 0a1.5 1.5 0 1 0 -3 0M7.8 28.2a1.8 1.6 0 1 0 3.7 0a1.8 1.8 0 1 0 -3.7 0M14.4 47.2a1.4 1.5 0 1 0 2.7 0a1.4 1.4 0 1 0 -2.7 0M18.2 42.3a1.8 2.1 0 1 0 3.7 0a1.8 1.8 0 1 0 -3.7 0M2.6 40.8a1.9 2.2 0 1 0 3.9 0a1.9 1.9 0 1 0 -3.9 0M10.3 15.7a2.1 1.9 0 1 0 4.1 0a2.1 2.1 0 1 0 -4.1 0M29.3 21.8a1.9 2.2 0 1 0 3.8 0a1.9 1.9 0 1 0 -3.8 0M5.4 1.5a1.6 1.7 0 1 0 3.3 0a1.6 1.6 0 1 0 -3.3 0M5.4 51.5a1.6 1.9 0 1 0 3.3 0a1.6 1.6 0 1 0 -3.3 0M20.7 2.1a1.5 1.7 0 1 0 2.9 0a1.5 1.5 0 1 0 -2.9 0M19.6 40a2 2.3 0 1 0 3.9 0a2 2 0 1 0 -3.9 0M43.4 28a1.6 1.8 0 1 0 3.2 0a1.6 1.6 0 1 0 -3.2 0M45.7 23.1a1.9 2 0 1 0 3.8 0a1.9 1.9 0 1 0 -3.8 0M25.7 13.5a1.3 1.4 0 1 0 2.6 0a1.3 1.3 0 1 0 -2.6 0M40.6 47.2a1.2 1.3 0 1 0 2.4 0a1.2 1.2 0 1 0 -2.4 0M29.3 25.5a1.7 1.9 0 1 0 3.3 0a1.7 1.7 0 1 0 -3.3 0M13.8 32.5a2 1.9 0 1 0 4 0a2 2 0 1 0 -4 0M15.9 9.6a1.9 1.6 0 1 0 3.8 0a1.9 1.9 0 1 0 -3.8 0" fill="#3d194a"/></pattern>
<pattern id="pE" width="50" height="50" patternUnits="userSpaceOnUse"><rect width="50" height="50" fill="#d9b4de"/><path d="M23.6 14.5a4.7 4 0 1 0 9.5 0a4.7 4.7 0 1 0 -9.5 0M40.7 24.9a5.8 5 0 1 0 11.7 0a5.8 5.8 0 1 0 -11.7 0M-9.3 24.9a5.8 6.9 0 1 0 11.7 0a5.8 5.8 0 1 0 -11.7 0M20.7 41.5a3.8 3.1 0 1 0 7.6 0a3.8 3.8 0 1 0 -7.6 0M35 19.2a5.4 4.6 0 1 0 10.8 0a5.4 5.4 0 1 0 -10.8 0M29.9 28.5a4.7 5.3 0 1 0 9.3 0a4.7 4.7 0 1 0 -9.3 0M39.3 2.9a3.5 3.9 0 1 0 7 0a3.5 3.5 0 1 0 -7 0M39.3 52.9a3.5 3.2 0 1 0 7 0a3.5 3.5 0 1 0 -7 0M15.6 32.5a5.8 6.6 0 1 0 11.7 0a5.8 5.8 0 1 0 -11.7 0M7.1 9a4.4 4.9 0 1 0 8.8 0a4.4 4.4 0 1 0 -8.8 0M36 2.7a5.4 5.9 0 1 0 10.9 0a5.4 5.4 0 1 0 -10.9 0M36 52.7a5.4 6.2 0 1 0 10.9 0a5.4 5.4 0 1 0 -10.9 0M22.7 45.6a3.7 4.4 0 1 0 7.5 0a3.7 3.7 0 1 0 -7.5 0" fill="#ead2ec"/><path d="M-1.7 8.2a2.2 2.4 0 1 0 4.4 0a2.2 2.2 0 1 0 -4.4 0M48.3 8.2a2.2 2.6 0 1 0 4.4 0a2.2 2.2 0 1 0 -4.4 0M44 26.6a1.8 1.8 0 1 0 3.6 0a1.8 1.8 0 1 0 -3.6 0M29.7 27.2a1.6 1.5 0 1 0 3.2 0a1.6 1.6 0 1 0 -3.2 0M34.3 45.5a2.2 2.2 0 1 0 4.4 0a2.2 2.2 0 1 0 -4.4 0M11.8 31a2.1 2.2 0 1 0 4.2 0a2.1 2.1 0 1 0 -4.2 0M4.5 6.9a1.4 1.6 0 1 0 2.7 0a1.4 1.4 0 1 0 -2.7 0M37.3 3a2.1 2.5 0 1 0 4.2 0a2.1 2.1 0 1 0 -4.2 0M25.5 27.2a1.9 2.3 0 1 0 3.8 0a1.9 1.9 0 1 0 -3.8 0M13.4 20.6a2.2 2 0 1 0 4.3 0a2.2 2.2 0 1 0 -4.3 0M16.4 24a2.1 2 0 1 0 4.1 0a2.1 2.1 0 1 0 -4.1 0M40.3 34.9a1.7 2 0 1 0 3.4 0a1.7 1.7 0 1 0 -3.4 0M41.7 33.4a1.8 1.7 0 1 0 3.5 0a1.8 1.8 0 1 0 -3.5 0M26.6 7.9a1.8 1.7 0 1 0 3.6 0a1.8 1.8 0 1 0 -3.6 0M15.5 9.4a2.1 2.3 0 1 0 4.1 0a2.1 2.1 0 1 0 -4.1 0M9.6 26.2a1.3 1.2 0 1 0 2.7 0a1.3 1.3 0 1 0 -2.7 0M31.5 33.1a1.5 1.7 0 1 0 2.9 0a1.5 1.5 0 1 0 -2.9 0M38.4 37.7a1.6 1.4 0 1 0 3.1 0a1.6 1.6 0 1 0 -3.1 0M34.1 5.2a1.6 1.5 0 1 0 3.3 0a1.6 1.6 0 1 0 -3.3 0M4.6 1.2a1.7 1.7 0 1 0 3.5 0a1.7 1.7 0 1 0 -3.5 0M4.6 51.2a1.7 1.7 0 1 0 3.5 0a1.7 1.7 0 1 0 -3.5 0M8.2 42a1.8 1.7 0 1 0 3.6 0a1.8 1.8 0 1 0 -3.6 0M35.4 46.6a1.8 1.5 0 1 0 3.6 0a1.8 1.8 0 1 0 -3.6 0M43.6 22.9a2.1 2.5 0 1 0 4.2 0a2.1 2.1 0 1 0 -4.2 0M30 37.2a1.8 1.6 0 1 0 3.6 0a1.8 1.8 0 1 0 -3.6 0M7.3 34.8a1.4 1.5 0 1 0 2.8 0a1.4 1.4 0 1 0 -2.8 0M14 33.8a2.1 1.9 0 1 0 4.3 0a2.1 2.1 0 1 0 -4.3 0M27.3 14.9a1.5 1.6 0 1 0 3.1 0a1.5 1.5 0 1 0 -3.1 0M19.5 20.9a1.4 1.2 0 1 0 2.8 0a1.4 1.4 0 1 0 -2.8 0M29.3 11.4a1.5 1.5 0 1 0 2.9 0a1.5 1.5 0 1 0 -2.9 0M28.5 6.5a1.9 2.2 0 1 0 3.8 0a1.9 1.9 0 1 0 -3.8 0M15.8 7.4a1.4 1.2 0 1 0 2.7 0a1.4 1.4 0 1 0 -2.7 0M38.8 5.3a1.6 1.7 0 1 0 3.2 0a1.6 1.6 0 1 0 -3.2 0M45 7.4a1.5 1.6 0 1 0 3 0a1.5 1.5 0 1 0 -3 0M46.3 45.7a1.6 1.3 0 1 0 3.1 0a1.6 1.6 0 1 0 -3.1 0M2.1 24.2a2.2 2.6 0 1 0 4.4 0a2.2 2.2 0 1 0 -4.4 0M37.8 30.2a2 2.1 0 1 0 4 0a2 2 0 1 0 -4 0M39.5 39.4a1.8 1.9 0 1 0 3.6 0a1.8 1.8 0 1 0 -3.6 0M23.6 33.7a1.9 2.1 0 1 0 3.7 0a1.9 1.9 0 1 0 -3.7 0M13.9 11.9a1.7 1.6 0 1 0 3.5 0a1.7 1.7 0 1 0 -3.5 0M-0.8 37.8a1.4 1.2 0 1 0 2.9 0a1.4 1.4 0 1 0 -2.9 0M49.2 37.8a1.4 1.6 0 1 0 2.9 0a1.4 1.4 0 1 0 -2.9 0M-0.7 47.6a1.6 1.9 0 1 0 3.2 0a1.6 1.6 0 1 0 -3.2 0M49.3 47.6a1.6 1.6 0 1 0 3.2 0a1.6 1.6 0 1 0 -3.2 0M23.9 14.6a1.7 1.8 0 1 0 3.4 0a1.7 1.7 0 1 0 -3.4 0M15.2 23.7a1.7 2 0 1 0 3.5 0a1.7 1.7 0 1 0 -3.5 0M25.5 19.6a1.5 1.5 0 1 0 3 0a1.5 1.5 0 1 0 -3 0M17.8 50a1.9 1.6 0 1 0 3.7 0a1.9 1.9 0 1 0 -3.7 0M17.8 -0a1.9 1.8 0 1 0 3.7 0a1.9 1.9 0 1 0 -3.7 0M5.3 48.3a1.7 1.8 0 1 0 3.5 0a1.7 1.7 0 1 0 -3.5 0M5.3 -1.7a1.7 1.6 0 1 0 3.5 0a1.7 1.7 0 1 0 -3.5 0M7.4 0.6a1.5 1.6 0 1 0 3.1 0a1.5 1.5 0 1 0 -3.1 0M7.4 50.6a1.5 1.8 0 1 0 3.1 0a1.5 1.5 0 1 0 -3.1 0M6.7 25a1.9 1.8 0 1 0 3.8 0a1.9 1.9 0 1 0 -3.8 0M24.7 42.3a1.4 1.4 0 1 0 2.7 0a1.4 1.4 0 1 0 -2.7 0M8.9 46.9a1.4 1.3 0 1 0 2.7 0a1.4 1.4 0 1 0 -2.7 0M10.7 39.4a2 2.3 0 1 0 4.1 0a2 2 0 1 0 -4.1 0M42.1 4.5a1.4 1.3 0 1 0 2.9 0a1.4 1.4 0 1 0 -2.9 0M15.7 7.6a1.9 1.8 0 1 0 3.8 0a1.9 1.9 0 1 0 -3.8 0M37 40.6a1.8 2.1 0 1 0 3.5 0a1.8 1.8 0 1 0 -3.5 0M23.9 11.8a1.6 1.4 0 1 0 3.2 0a1.6 1.6 0 1 0 -3.2 0M33.8 5.2a1.5 1.4 0 1 0 2.9 0a1.5 1.5 0 1 0 -2.9 0M11.5 33.1a1.7 1.6 0 1 0 3.3 0a1.7 1.7 0 1 0 -3.3 0M29.2 6.6a1.4 1.4 0 1 0 2.8 0a1.4 1.4 0 1 0 -2.8 0M25.9 17.8a1.8 1.8 0 1 0 3.5 0a1.8 1.8 0 1 0 -3.5 0M42.1 29.8a2.2 1.9 0 1 0 4.4 0a2.2 2.2 0 1 0 -4.4 0M35.3 31.9a1.5 1.5 0 1 0 3.1 0a1.5 1.5 0 1 0 -3.1 0M36.7 26a1.8 1.5 0 1 0 3.6 0a1.8 1.8 0 1 0 -3.6 0M26.5 31.8a1.9 1.7 0 1 0 3.9 0a1.9 1.9 0 1 0 -3.9 0M13.4 38.3a1.9 1.7 0 1 0 3.9 0a1.9 1.9 0 1 0 -3.9 0M46.4 32.5a1.6 1.8 0 1 0 3.2 0a1.6 1.6 0 1 0 -3.2 0M0.2 14.6a1.8 1.9 0 1 0 3.5 0a1.8 1.8 0 1 0 -3.5 0M2.4 27.4a2.1 1.8 0 1 0 4.2 0a2.1 2.1 0 1 0 -4.2 0M32.2 37.7a1.4 1.1 0 1 0 2.8 0a1.4 1.4 0 1 0 -2.8 0M19.2 22.6a1.8 1.8 0 1 0 3.6 0a1.8 1.8 0 1 0 -3.6 0M29.2 0a2.1 2.4 0 1 0 4.1 0a2.1 2.1 0 1 0 -4.1 0M29.2 50a2.1 2.3 0 1 0 4.1 0a2.1 2.1 0 1 0 -4.1 0M16.3 47.5a1.3 1.1 0 1 0 2.6 0a1.3 1.3 0 1 0 -2.6 0" fill="#69499c"/><path d="M40.3 31.4a1.7 1.6 0 1 0 3.4 0a1.7 1.7 0 1 0 -3.4 0M36.7 10.9a1.9 2.1 0 1 0 3.8 0a1.9 1.9 0 1 0 -3.8 0M19.7 30.3a1.5 1.5 0 1 0 3.1 0a1.5 1.5 0 1 0 -3.1 0M36.1 7.8a1.8 1.9 0 1 0 3.6 0a1.8 1.8 0 1 0 -3.6 0M34.9 41a1.8 1.6 0 1 0 3.6 0a1.8 1.8 0 1 0 -3.6 0M11.4 47.6a1.6 1.8 0 1 0 3.2 0a1.6 1.6 0 1 0 -3.2 0M36.4 15a1.4 1.2 0 1 0 2.8 0a1.4 1.4 0 1 0 -2.8 0M3.5 6a2.2 2.1 0 1 0 4.3 0a2.2 2.2 0 1 0 -4.3 0M21.1 32a2.1 2.4 0 1 0 4.3 0a2.1 2.1 0 1 0 -4.3 0M24.4 8.9a2.1 1.7 0 1 0 4.2 0a2.1 2.1 0 1 0 -4.2 0M30.9 27.2a1.8 2.1 0 1 0 3.7 0a1.8 1.8 0 1 0 -3.7 0M22.3 20.3a1.6 1.4 0 1 0 3.3 0a1.6 1.6 0 1 0 -3.3 0M34.4 13.7a1.3 1.2 0 1 0 2.6 0a1.3 1.3 0 1 0 -2.6 0M44.2 33a2.2 2.4 0 1 0 4.4 0a2.2 2.2 0 1 0 -4.4 0M24.1 39.7a2 2.4 0 1 0 4.1 0a2 2 0 1 0 -4.1 0M41 31.6a1.5 1.6 0 1 0 2.9 0a1.5 1.5 0 1 0 -2.9 0" fill="#9570b8"/></pattern>
<pattern id="pE2" width="50" height="50" patternUnits="userSpaceOnUse"><rect width="50" height="50" fill="#f0e2ed"/><path d="M10.2 34.2a5.5 5.4 0 1 0 11 0a5.5 5.5 0 1 0 -11 0M31.4 24.8a2.5 2.9 0 1 0 5 0a2.5 2.5 0 1 0 -5 0M34.4 41.5a5.8 4.8 0 1 0 11.6 0a5.8 5.8 0 1 0 -11.6 0M44.6 29.2a4.2 4 0 1 0 8.5 0a4.2 4.2 0 1 0 -8.5 0M-5.4 29.2a4.2 3.8 0 1 0 8.5 0a4.2 4.2 0 1 0 -8.5 0M45.9 7.1a2.3 2.5 0 1 0 4.5 0a2.3 2.3 0 1 0 -4.5 0M-4.1 7.1a2.3 2 0 1 0 4.5 0a2.3 2.3 0 1 0 -4.5 0M3.4 7.9a3.9 3.4 0 1 0 7.7 0a3.9 3.9 0 1 0 -7.7 0M43 22.5a5.5 6.6 0 1 0 11.1 0a5.5 5.5 0 1 0 -11.1 0M-7 22.5a5.5 6.4 0 1 0 11.1 0a5.5 5.5 0 1 0 -11.1 0M-2 4.7a5 4.3 0 1 0 10 0a5 5 0 1 0 -10 0M-2 54.7a5 4.4 0 1 0 10 0a5 5 0 1 0 -10 0M48 4.7a5 5.7 0 1 0 10 0a5 5 0 1 0 -10 0M48 54.7a5 5.2 0 1 0 10 0a5 5 0 1 0 -10 0M33.9 37.1a5.6 5.1 0 1 0 11.3 0a5.6 5.6 0 1 0 -11.3 0M1.5 9.4a2.2 2 0 1 0 4.5 0a2.2 2.2 0 1 0 -4.5 0" fill="#d9a9d4"/><path d="M22.7 37.6a2.6 2.9 0 1 0 5.3 0a2.6 2.6 0 1 0 -5.3 0M9.1 31.2a3.2 3 0 1 0 6.4 0a3.2 3.2 0 1 0 -6.4 0M8 0.2a3.2 2.9 0 1 0 6.5 0a3.2 3.2 0 1 0 -6.5 0M8 50.2a3.2 3.3 0 1 0 6.5 0a3.2 3.2 0 1 0 -6.5 0M37.9 17a1.9 2.3 0 1 0 3.8 0a1.9 1.9 0 1 0 -3.8 0M2 24.4a2.1 1.8 0 1 0 4.2 0a2.1 2.1 0 1 0 -4.2 0M20 18.5a1.7 1.8 0 1 0 3.4 0a1.7 1.7 0 1 0 -3.4 0M7.8 47.6a3.9 3.5 0 1 0 7.7 0a3.9 3.9 0 1 0 -7.7 0M7.8 -2.4a3.9 4.6 0 1 0 7.7 0a3.9 3.9 0 1 0 -7.7 0M-2.1 43.5a3.6 2.9 0 1 0 7.2 0a3.6 3.6 0 1 0 -7.2 0M47.9 43.5a3.6 4.2 0 1 0 7.2 0a3.6 3.6 0 1 0 -7.2 0" fill="#c07fbc"/><path d="M27.7 25.8a3.8 3.2 0 1 0 7.6 0a3.8 3.8 0 1 0 -7.6 0M6.5 39a6.3 6 0 1 0 12.7 0a6.3 6.3 0 1 0 -12.7 0M3.8 9.8a4.7 4.2 0 1 0 9.5 0a4.7 4.7 0 1 0 -9.5 0M-4.7 38.5a4.8 3.9 0 1 0 9.5 0a4.8 4.8 0 1 0 -9.5 0M45.3 38.5a4.8 5 0 1 0 9.5 0a4.8 4.8 0 1 0 -9.5 0M14 30.4a6.5 7.7 0 1 0 12.9 0a6.5 6.5 0 1 0 -12.9 0" fill="#ffffff"/></pattern>
<pattern id="pG" width="50" height="50" patternUnits="userSpaceOnUse"><rect width="50" height="50" fill="#c055b4"/><path d="M6.9 33.4a4.1 4.8 0 1 0 8.2 0a4.1 4.1 0 1 0 -8.2 0M-2.7 27.1a4.2 4.1 0 1 0 8.4 0a4.2 4.2 0 1 0 -8.4 0M47.3 27.1a4.2 4.4 0 1 0 8.4 0a4.2 4.2 0 1 0 -8.4 0M22.6 46.6a5.9 6.4 0 1 0 11.8 0a5.9 5.9 0 1 0 -11.8 0M22.6 -3.4a5.9 6.4 0 1 0 11.8 0a5.9 5.9 0 1 0 -11.8 0M1.7 33.9a4.6 4.2 0 1 0 9.1 0a4.6 4.6 0 1 0 -9.1 0M21 10.4a3.4 4.1 0 1 0 6.9 0a3.4 3.4 0 1 0 -6.9 0M38.6 1.3a4.8 3.9 0 1 0 9.6 0a4.8 4.8 0 1 0 -9.6 0M38.6 51.3a4.8 4 0 1 0 9.6 0a4.8 4.8 0 1 0 -9.6 0M32.7 40.2a4.8 4.7 0 1 0 9.5 0a4.8 4.8 0 1 0 -9.5 0M11.8 20.6a5.5 6.1 0 1 0 10.9 0a5.5 5.5 0 1 0 -10.9 0M4.6 49.4a5 5.3 0 1 0 9.9 0a5 5 0 1 0 -9.9 0M4.6 -0.6a5 4.9 0 1 0 9.9 0a5 5 0 1 0 -9.9 0M35.7 15.8a3.5 3.4 0 1 0 7 0a3.5 3.5 0 1 0 -7 0" fill="#e08ad4"/><path d="M12.1 49.7a2.5 2.4 0 1 0 5 0a2.5 2.5 0 1 0 -5 0M12.1 -0.3a2.5 2.4 0 1 0 5 0a2.5 2.5 0 1 0 -5 0M22.4 12.4a2.5 2.8 0 1 0 5 0a2.5 2.5 0 1 0 -5 0M44.8 10.4a2.4 2.8 0 1 0 4.8 0a2.4 2.4 0 1 0 -4.8 0M34.1 18.4a2.5 2.1 0 1 0 4.9 0a2.5 2.5 0 1 0 -4.9 0M44.1 47.7a2.2 2.5 0 1 0 4.5 0a2.2 2.2 0 1 0 -4.5 0M18.1 20.8a2.3 2.3 0 1 0 4.6 0a2.3 2.3 0 1 0 -4.6 0M42.5 15.9a2.4 2.5 0 1 0 4.7 0a2.4 2.4 0 1 0 -4.7 0M44.6 6.9a2.4 2.4 0 1 0 4.7 0a2.4 2.4 0 1 0 -4.7 0M8 8.1a2.2 2.5 0 1 0 4.4 0a2.2 2.2 0 1 0 -4.4 0M33.6 32.5a3.1 3.7 0 1 0 6.3 0a3.1 3.1 0 1 0 -6.3 0M27.1 15a3.5 3.8 0 1 0 7 0a3.5 3.5 0 1 0 -7 0M39.2 6.4a2.5 2 0 1 0 4.9 0a2.5 2.5 0 1 0 -4.9 0M30 48a2.2 2.7 0 1 0 4.5 0a2.2 2.2 0 1 0 -4.5 0M30 -2a2.2 2.1 0 1 0 4.5 0a2.2 2.2 0 1 0 -4.5 0M41.4 34a1.9 1.9 0 1 0 3.9 0a1.9 1.9 0 1 0 -3.9 0M36.6 0.8a2.8 2.9 0 1 0 5.7 0a2.8 2.8 0 1 0 -5.7 0M36.6 50.8a2.8 3.1 0 1 0 5.7 0a2.8 2.8 0 1 0 -5.7 0M35.5 31.2a2.7 2.7 0 1 0 5.4 0a2.7 2.7 0 1 0 -5.4 0M37.7 24.8a2.5 2.5 0 1 0 4.9 0a2.5 2.5 0 1 0 -4.9 0M46.9 37a2.5 2.1 0 1 0 5 0a2.5 2.5 0 1 0 -5 0M-3.1 37a2.5 2.8 0 1 0 5 0a2.5 2.5 0 1 0 -5 0M10.8 20.5a2.5 2.2 0 1 0 5 0a2.5 2.5 0 1 0 -5 0M29.3 25.2a2.2 2.6 0 1 0 4.4 0a2.2 2.2 0 1 0 -4.4 0M43.2 40.4a2 1.7 0 1 0 4.1 0a2 2 0 1 0 -4.1 0M34.9 40.1a1.9 2.1 0 1 0 3.8 0a1.9 1.9 0 1 0 -3.8 0M-2.1 13.7a2.9 3.2 0 1 0 5.8 0a2.9 2.9 0 1 0 -5.8 0M47.9 13.7a2.9 2.7 0 1 0 5.8 0a2.9 2.9 0 1 0 -5.8 0M31.6 29.7a2.3 2.7 0 1 0 4.6 0a2.3 2.3 0 1 0 -4.6 0M-1.4 14.6a2.6 2.7 0 1 0 5.1 0a2.6 2.6 0 1 0 -5.1 0M48.6 14.6a2.6 2.5 0 1 0 5.1 0a2.6 2.6 0 1 0 -5.1 0M26 24.4a2.7 3 0 1 0 5.4 0a2.7 2.7 0 1 0 -5.4 0M8.2 18.7a2.2 1.9 0 1 0 4.4 0a2.2 2.2 0 1 0 -4.4 0M-0.9 11.9a2.4 2.5 0 1 0 4.8 0a2.4 2.4 0 1 0 -4.8 0M49.1 11.9a2.4 2.6 0 1 0 4.8 0a2.4 2.4 0 1 0 -4.8 0M26.9 2.3a3.3 3 0 1 0 6.7 0a3.3 3.3 0 1 0 -6.7 0M26.9 52.3a3.3 3.7 0 1 0 6.7 0a3.3 3.3 0 1 0 -6.7 0M1 7.9a2.2 2 0 1 0 4.3 0a2.2 2.2 0 1 0 -4.3 0" fill="#6d2fa2"/><path d="M6.5 12.4a3.3 3.6 0 1 0 6.6 0a3.3 3.3 0 1 0 -6.6 0M11.5 20.3a5.6 6.2 0 1 0 11.3 0a5.6 5.6 0 1 0 -11.3 0M15.5 48.8a4.5 4.2 0 1 0 9 0a4.5 4.5 0 1 0 -9 0M15.5 -1.2a4.5 4 0 1 0 9 0a4.5 4.5 0 1 0 -9 0M1.4 47.4a4.7 5.7 0 1 0 9.5 0a4.7 4.7 0 1 0 -9.5 0M1.4 -2.6a4.7 4.6 0 1 0 9.5 0a4.7 4.7 0 1 0 -9.5 0M43.4 12.6a4.9 5 0 1 0 9.9 0a4.9 4.9 0 1 0 -9.9 0M-6.6 12.6a4.9 5.8 0 1 0 9.9 0a4.9 4.9 0 1 0 -9.9 0" fill="#f5e8f5"/><path d="M32 19.8a2.3 1.9 0 1 0 4.5 0a2.3 2.3 0 1 0 -4.5 0M30.5 30.6a2 1.8 0 1 0 4 0a2 2 0 1 0 -4 0M26.1 28.4a1.8 1.8 0 1 0 3.6 0a1.8 1.8 0 1 0 -3.6 0M-0.3 40.5a2.8 3.1 0 1 0 5.7 0a2.8 2.8 0 1 0 -5.7 0M49.7 40.5a2.8 2.4 0 1 0 5.7 0a2.8 2.8 0 1 0 -5.7 0M16.7 33.9a2.7 2.4 0 1 0 5.4 0a2.7 2.7 0 1 0 -5.4 0M27.3 30.9a2 1.7 0 1 0 3.9 0a2 2 0 1 0 -3.9 0M32.8 42.1a3.1 3.1 0 1 0 6.3 0a3.1 3.1 0 1 0 -6.3 0M0.7 44a2.3 2.5 0 1 0 4.6 0a2.3 2.3 0 1 0 -4.6 0M-1.5 33.5a2.6 2.4 0 1 0 5.3 0a2.6 2.6 0 1 0 -5.3 0M48.5 33.5a2.6 2.6 0 1 0 5.3 0a2.6 2.6 0 1 0 -5.3 0M30.5 47.6a2.2 2 0 1 0 4.3 0a2.2 2.2 0 1 0 -4.3 0M20.4 17.6a2 2.4 0 1 0 4.1 0a2 2 0 1 0 -4.1 0M30 29.1a2.4 2.1 0 1 0 4.9 0a2.4 2.4 0 1 0 -4.9 0" fill="#9038b0"/></pattern>
<pattern id="pH" width="50" height="50" patternUnits="userSpaceOnUse"><rect width="50" height="50" fill="#f3e6f0"/><path d="M-1.2 26.9a6.3 7.5 0 1 0 12.6 0a6.3 6.3 0 1 0 -12.6 0M48.8 26.9a6.3 5.7 0 1 0 12.6 0a6.3 6.3 0 1 0 -12.6 0M5.5 36.3a4.8 4.6 0 1 0 9.5 0a4.8 4.8 0 1 0 -9.5 0M12.7 41.4a3.5 4 0 1 0 6.9 0a3.5 3.5 0 1 0 -6.9 0M-4.6 8.1a4.9 4.4 0 1 0 9.7 0a4.9 4.9 0 1 0 -9.7 0M45.4 8.1a4.9 4.5 0 1 0 9.7 0a4.9 4.9 0 1 0 -9.7 0M25.1 34a3.1 3.5 0 1 0 6.2 0a3.1 3.1 0 1 0 -6.2 0M22.2 35.2a5.1 5.1 0 1 0 10.2 0a5.1 5.1 0 1 0 -10.2 0M29.8 41.7a6.4 7.5 0 1 0 12.9 0a6.4 6.4 0 1 0 -12.9 0M15.9 22.1a3 2.7 0 1 0 6.1 0a3 3 0 1 0 -6.1 0" fill="#e6c2dd"/><path d="M2 42.6a4 4 0 1 0 8 0a4 4 0 1 0 -8 0M22.5 7.2a3.4 3.4 0 1 0 6.7 0a3.4 3.4 0 1 0 -6.7 0M6.7 0.1a4.3 4.1 0 1 0 8.6 0a4.3 4.3 0 1 0 -8.6 0M6.7 50.1a4.3 5 0 1 0 8.6 0a4.3 4.3 0 1 0 -8.6 0M-0.3 31.4a2.2 2.1 0 1 0 4.5 0a2.2 2.2 0 1 0 -4.5 0M49.7 31.4a2.2 1.9 0 1 0 4.5 0a2.2 2.2 0 1 0 -4.5 0M30.4 8.8a3.1 2.8 0 1 0 6.3 0a3.1 3.1 0 1 0 -6.3 0" fill="#d45f98"/><path d="M39.1 9a7.1 5.8 0 1 0 14.2 0a7.1 7.1 0 1 0 -14.2 0M-10.9 9a7.1 7.1 0 1 0 14.2 0a7.1 7.1 0 1 0 -14.2 0M20.3 24a5.8 5.2 0 1 0 11.6 0a5.8 5.8 0 1 0 -11.6 0M15 17.7a4.8 5.3 0 1 0 9.5 0a4.8 4.8 0 1 0 -9.5 0M42.2 21.8a6 6.8 0 1 0 12 0a6 6 0 1 0 -12 0M-7.8 21.8a6 6.8 0 1 0 12 0a6 6 0 1 0 -12 0M14.7 21.8a6 6.9 0 1 0 12 0a6 6 0 1 0 -12 0M8.5 45.4a4.4 4.6 0 1 0 8.7 0a4.4 4.4 0 1 0 -8.7 0" fill="#ffffff"/><path d="M15 39.5a1.9 2.2 0 1 0 3.8 0a1.9 1.9 0 1 0 -3.8 0M0 12.5a1.6 1.6 0 1 0 3.2 0a1.6 1.6 0 1 0 -3.2 0M46.7 48.9a1.3 1 0 1 0 2.5 0a1.3 1.3 0 1 0 -2.5 0M46.7 -1.1a1.3 1.2 0 1 0 2.5 0a1.3 1.3 0 1 0 -2.5 0M48.3 4.3a1.3 1.1 0 1 0 2.6 0a1.3 1.3 0 1 0 -2.6 0M-1.7 4.3a1.3 1.4 0 1 0 2.6 0a1.3 1.3 0 1 0 -2.6 0M5.3 3.9a1.2 1.3 0 1 0 2.4 0a1.2 1.2 0 1 0 -2.4 0M44.3 43.6a1.5 1.7 0 1 0 3 0a1.5 1.5 0 1 0 -3 0" fill="#c89ac8"/></pattern>
<pattern id="pF" width="50" height="50" patternUnits="userSpaceOnUse"><rect width="50" height="50" fill="#8c62c2"/><path d="M3.8 28.3a3.3 3.9 0 1 0 6.5 0a3.3 3.3 0 1 0 -6.5 0M38.1 18.3a2.6 2.4 0 1 0 5.1 0a2.6 2.6 0 1 0 -5.1 0M21.8 0.6a4.4 5.2 0 1 0 8.8 0a4.4 4.4 0 1 0 -8.8 0M21.8 50.6a4.4 3.9 0 1 0 8.8 0a4.4 4.4 0 1 0 -8.8 0M6.4 13a3.3 3.2 0 1 0 6.6 0a3.3 3.3 0 1 0 -6.6 0M40.6 4a3.5 3.8 0 1 0 7 0a3.5 3.5 0 1 0 -7 0M4.2 27.5a5 5.4 0 1 0 10 0a5 5 0 1 0 -10 0M7.7 24.5a4.9 5.7 0 1 0 9.7 0a4.9 4.9 0 1 0 -9.7 0M40.6 21.5a4 3.5 0 1 0 8 0a4 4 0 1 0 -8 0M6 41.8a3.7 4.1 0 1 0 7.4 0a3.7 3.7 0 1 0 -7.4 0M-1.5 38.9a4.9 4.8 0 1 0 9.8 0a4.9 4.9 0 1 0 -9.8 0M48.5 38.9a4.9 3.9 0 1 0 9.8 0a4.9 4.9 0 1 0 -9.8 0" fill="#ad8cd9"/><path d="M5.2 22.4a1.4 1.4 0 1 0 2.9 0a1.4 1.4 0 1 0 -2.9 0M2.6 40.6a1.9 1.7 0 1 0 3.9 0a1.9 1.9 0 1 0 -3.9 0M38.3 25.9a1.6 1.7 0 1 0 3.2 0a1.6 1.6 0 1 0 -3.2 0M11.3 36a1.5 1.3 0 1 0 2.9 0a1.5 1.5 0 1 0 -2.9 0M2.5 36.1a2 2.1 0 1 0 4 0a2 2 0 1 0 -4 0M0.4 10.9a1.9 2 0 1 0 3.8 0a1.9 1.9 0 1 0 -3.8 0M20.4 31.3a1.3 1.2 0 1 0 2.7 0a1.3 1.3 0 1 0 -2.7 0M7.2 3.6a1.4 1.3 0 1 0 2.7 0a1.4 1.4 0 1 0 -2.7 0M6 1.2a1.5 1.2 0 1 0 3 0a1.5 1.5 0 1 0 -3 0M6 51.2a1.5 1.8 0 1 0 3 0a1.5 1.5 0 1 0 -3 0M38.4 19.3a1.8 1.7 0 1 0 3.7 0a1.8 1.8 0 1 0 -3.7 0M3.4 49.3a2 2.3 0 1 0 4 0a2 2 0 1 0 -4 0M3.4 -0.7a2 2.3 0 1 0 4 0a2 2 0 1 0 -4 0M28.7 11.5a1.8 1.7 0 1 0 3.5 0a1.8 1.8 0 1 0 -3.5 0M39.6 32.8a1.5 1.3 0 1 0 3.1 0a1.5 1.5 0 1 0 -3.1 0M40.4 40.7a1.2 1.3 0 1 0 2.5 0a1.2 1.2 0 1 0 -2.5 0M28.6 5a1.9 1.6 0 1 0 3.8 0a1.9 1.9 0 1 0 -3.8 0M36.5 12.1a1.5 1.7 0 1 0 3 0a1.5 1.5 0 1 0 -3 0M5.2 7.3a1.9 1.6 0 1 0 3.8 0a1.9 1.9 0 1 0 -3.8 0M12.4 25a1.5 1.8 0 1 0 3.1 0a1.5 1.5 0 1 0 -3.1 0M30.2 5.4a1.2 1.4 0 1 0 2.4 0a1.2 1.2 0 1 0 -2.4 0M32.3 28.9a2 1.8 0 1 0 4 0a2 2 0 1 0 -4 0M19.4 3.2a1.8 1.9 0 1 0 3.5 0a1.8 1.8 0 1 0 -3.5 0M17.9 22.5a1.2 1.3 0 1 0 2.4 0a1.2 1.2 0 1 0 -2.4 0M47.6 44.8a1.5 1.2 0 1 0 2.9 0a1.5 1.5 0 1 0 -2.9 0M-2.4 44.8a1.5 1.4 0 1 0 2.9 0a1.5 1.5 0 1 0 -2.9 0M4.6 28.7a1.5 1.6 0 1 0 3 0a1.5 1.5 0 1 0 -3 0M3.4 26a1.9 1.6 0 1 0 3.8 0a1.9 1.9 0 1 0 -3.8 0M37 27.3a1.8 1.6 0 1 0 3.7 0a1.8 1.8 0 1 0 -3.7 0M45 9.6a1.3 1.2 0 1 0 2.5 0a1.3 1.3 0 1 0 -2.5 0M35 47.8a2 2.1 0 1 0 4 0a2 2 0 1 0 -4 0M22.1 48.1a1.7 1.4 0 1 0 3.4 0a1.7 1.7 0 1 0 -3.4 0M24.9 11.2a1.6 1.8 0 1 0 3.2 0a1.6 1.6 0 1 0 -3.2 0M13.1 42a1.5 1.7 0 1 0 3.1 0a1.5 1.5 0 1 0 -3.1 0M24 18.8a1.5 1.8 0 1 0 3 0a1.5 1.5 0 1 0 -3 0M16.7 12.9a2 2.1 0 1 0 3.9 0a2 2 0 1 0 -3.9 0M20.2 17.5a1.2 1.3 0 1 0 2.4 0a1.2 1.2 0 1 0 -2.4 0M19.9 2a2 1.8 0 1 0 4 0a2 2 0 1 0 -4 0M19.9 52a2 2.2 0 1 0 4 0a2 2 0 1 0 -4 0M27.3 44.6a1.7 1.8 0 1 0 3.3 0a1.7 1.7 0 1 0 -3.3 0M4.5 35.6a1.5 1.5 0 1 0 3.1 0a1.5 1.5 0 1 0 -3.1 0M4.2 16.5a1.4 1.3 0 1 0 2.8 0a1.4 1.4 0 1 0 -2.8 0M27 13.9a1.7 1.6 0 1 0 3.4 0a1.7 1.7 0 1 0 -3.4 0M6.7 24.4a1.5 1.3 0 1 0 3 0a1.5 1.5 0 1 0 -3 0M32.5 12.2a1.3 1.2 0 1 0 2.7 0a1.3 1.3 0 1 0 -2.7 0M5.9 39a1.8 1.7 0 1 0 3.6 0a1.8 1.8 0 1 0 -3.6 0M5.8 5.8a1.3 1.1 0 1 0 2.6 0a1.3 1.3 0 1 0 -2.6 0M23.2 23a1.7 1.6 0 1 0 3.3 0a1.7 1.7 0 1 0 -3.3 0M5.1 15.2a1.2 1.1 0 1 0 2.4 0a1.2 1.2 0 1 0 -2.4 0M22.2 32.2a1.8 1.4 0 1 0 3.6 0a1.8 1.8 0 1 0 -3.6 0M37.2 12a2 1.6 0 1 0 4 0a2 2 0 1 0 -4 0M21.3 32.5a1.9 1.9 0 1 0 3.9 0a1.9 1.9 0 1 0 -3.9 0M48.2 2.9a1.3 1.2 0 1 0 2.5 0a1.3 1.3 0 1 0 -2.5 0M-1.8 2.9a1.3 1.3 0 1 0 2.5 0a1.3 1.3 0 1 0 -2.5 0M1.3 4.6a1.7 1.5 0 1 0 3.5 0a1.7 1.7 0 1 0 -3.5 0M35.2 27.1a2 1.8 0 1 0 3.9 0a2 2 0 1 0 -3.9 0M29.6 46.9a1.4 1.3 0 1 0 2.7 0a1.4 1.4 0 1 0 -2.7 0M19 9.7a2 2 0 1 0 3.9 0a2 2 0 1 0 -3.9 0M5.6 39.8a1.7 1.7 0 1 0 3.5 0a1.7 1.7 0 1 0 -3.5 0M41.3 19.6a1.5 1.2 0 1 0 3 0a1.5 1.5 0 1 0 -3 0M20.6 32.2a2.1 1.7 0 1 0 4.1 0a2.1 2.1 0 1 0 -4.1 0M15.3 3.9a2.1 2.1 0 1 0 4.2 0a2.1 2.1 0 1 0 -4.2 0M6.6 35.8a1.7 1.9 0 1 0 3.5 0a1.7 1.7 0 1 0 -3.5 0M34.2 6.1a1.3 1.2 0 1 0 2.6 0a1.3 1.3 0 1 0 -2.6 0M26.1 12.9a1.9 1.6 0 1 0 3.9 0a1.9 1.9 0 1 0 -3.9 0M7.5 17.4a1.2 1.1 0 1 0 2.5 0a1.2 1.2 0 1 0 -2.5 0M37.4 22.5a1.8 1.8 0 1 0 3.6 0a1.8 1.8 0 1 0 -3.6 0M15.3 11.2a1.5 1.3 0 1 0 3.1 0a1.5 1.5 0 1 0 -3.1 0M3.9 8.6a1.4 1.3 0 1 0 2.8 0a1.4 1.4 0 1 0 -2.8 0M9 28.2a1.7 1.9 0 1 0 3.4 0a1.7 1.7 0 1 0 -3.4 0M34.8 48.9a1.7 1.8 0 1 0 3.4 0a1.7 1.7 0 1 0 -3.4 0M34.8 -1.1a1.7 1.8 0 1 0 3.4 0a1.7 1.7 0 1 0 -3.4 0M42.2 48.2a1.6 1.3 0 1 0 3.1 0a1.6 1.6 0 1 0 -3.1 0M18.5 25.3a1.3 1.1 0 1 0 2.6 0a1.3 1.3 0 1 0 -2.6 0M25.3 31.4a1.4 1.4 0 1 0 2.8 0a1.4 1.4 0 1 0 -2.8 0M3 3.5a1.8 2 0 1 0 3.5 0a1.8 1.8 0 1 0 -3.5 0M18.5 14.9a1.2 1.2 0 1 0 2.4 0a1.2 1.2 0 1 0 -2.4 0M19.6 11.8a1.6 1.5 0 1 0 3.2 0a1.6 1.6 0 1 0 -3.2 0M33.5 47.2a1.3 1 0 1 0 2.6 0a1.3 1.3 0 1 0 -2.6 0M9.7 15.9a1.6 1.5 0 1 0 3.1 0a1.6 1.6 0 1 0 -3.1 0M42.8 19.3a1.2 1.1 0 1 0 2.4 0a1.2 1.2 0 1 0 -2.4 0M37.6 5.7a2 2.3 0 1 0 4 0a2 2 0 1 0 -4 0M38.2 5.9a1.9 1.9 0 1 0 3.7 0a1.9 1.9 0 1 0 -3.7 0M26.2 17.3a1.6 1.4 0 1 0 3.2 0a1.6 1.6 0 1 0 -3.2 0M32.9 30.4a1.7 1.4 0 1 0 3.4 0a1.7 1.7 0 1 0 -3.4 0M35.8 13.4a1.8 2 0 1 0 3.6 0a1.8 1.8 0 1 0 -3.6 0" fill="#3b2286"/><path d="M33.6 10.1a2.6 3.1 0 1 0 5.3 0a2.6 2.6 0 1 0 -5.3 0M23.1 23.7a2.4 2.1 0 1 0 4.8 0a2.4 2.4 0 1 0 -4.8 0M41.8 34.1a1.6 1.4 0 1 0 3.2 0a1.6 1.6 0 1 0 -3.2 0M46 18.3a2 2.1 0 1 0 3.9 0a2 2 0 1 0 -3.9 0M15.3 40.7a2.4 2.7 0 1 0 4.9 0a2.4 2.4 0 1 0 -4.9 0" fill="#c050b0"/></pattern>
<pattern id="pF2" width="50" height="50" patternUnits="userSpaceOnUse"><rect width="50" height="50" fill="#7244b2"/><path d="M44.4 27a3.9 3.8 0 1 0 7.8 0a3.9 3.9 0 1 0 -7.8 0M-5.6 27a3.9 3.4 0 1 0 7.8 0a3.9 3.9 0 1 0 -7.8 0M-1.9 19.9a3.8 4.2 0 1 0 7.5 0a3.8 3.8 0 1 0 -7.5 0M48.1 19.9a3.8 3.5 0 1 0 7.5 0a3.8 3.8 0 1 0 -7.5 0M44.4 5.6a4.1 3.4 0 1 0 8.3 0a4.1 4.1 0 1 0 -8.3 0M-5.6 5.6a4.1 3.7 0 1 0 8.3 0a4.1 4.1 0 1 0 -8.3 0M2.2 48.9a4.2 4.3 0 1 0 8.4 0a4.2 4.2 0 1 0 -8.4 0M2.2 -1.1a4.2 4.8 0 1 0 8.4 0a4.2 4.2 0 1 0 -8.4 0M43 18.9a4.7 4.3 0 1 0 9.3 0a4.7 4.7 0 1 0 -9.3 0M-7 18.9a4.7 5 0 1 0 9.3 0a4.7 4.7 0 1 0 -9.3 0M37.3 18.9a4.1 4.5 0 1 0 8.3 0a4.1 4.1 0 1 0 -8.3 0M1.4 38.1a3 2.7 0 1 0 6 0a3 3 0 1 0 -6 0M7.2 14.2a4.9 4.7 0 1 0 9.7 0a4.9 4.9 0 1 0 -9.7 0" fill="#9770ce"/><path d="M41.4 6.8a1.4 1.1 0 1 0 2.8 0a1.4 1.4 0 1 0 -2.8 0M22 47.5a1.7 1.8 0 1 0 3.3 0a1.7 1.7 0 1 0 -3.3 0M6.8 3a1.4 1.7 0 1 0 2.8 0a1.4 1.4 0 1 0 -2.8 0M33 46.5a1.9 1.7 0 1 0 3.8 0a1.9 1.9 0 1 0 -3.8 0M8.2 30.6a1.3 1.3 0 1 0 2.7 0a1.3 1.3 0 1 0 -2.7 0M24.8 12.6a2.1 1.7 0 1 0 4.1 0a2.1 2.1 0 1 0 -4.1 0M44.1 2a2.1 2 0 1 0 4.1 0a2.1 2.1 0 1 0 -4.1 0M44.1 52a2.1 1.8 0 1 0 4.1 0a2.1 2.1 0 1 0 -4.1 0M29.7 35.4a1.6 1.5 0 1 0 3.1 0a1.6 1.6 0 1 0 -3.1 0M31.9 13.7a1.5 1.6 0 1 0 3 0a1.5 1.5 0 1 0 -3 0M21.2 41.7a1.6 1.7 0 1 0 3.2 0a1.6 1.6 0 1 0 -3.2 0M25.8 11.9a1.5 1.6 0 1 0 3.1 0a1.5 1.5 0 1 0 -3.1 0M21.8 35.2a1.8 1.9 0 1 0 3.6 0a1.8 1.8 0 1 0 -3.6 0M10.2 43.4a2 1.9 0 1 0 4 0a2 2 0 1 0 -4 0M43.7 23.8a1.4 1.2 0 1 0 2.9 0a1.4 1.4 0 1 0 -2.9 0M32.5 34.4a1.8 1.7 0 1 0 3.6 0a1.8 1.8 0 1 0 -3.6 0M3.1 0.2a1.8 1.9 0 1 0 3.5 0a1.8 1.8 0 1 0 -3.5 0M3.1 50.2a1.8 2.1 0 1 0 3.5 0a1.8 1.8 0 1 0 -3.5 0M38.2 27.4a2.1 1.7 0 1 0 4.2 0a2.1 2.1 0 1 0 -4.2 0M45.2 25.7a1.6 1.7 0 1 0 3.2 0a1.6 1.6 0 1 0 -3.2 0M15.6 25.1a2 2.1 0 1 0 4 0a2 2 0 1 0 -4 0M44.3 24.6a1.4 1.4 0 1 0 2.7 0a1.4 1.4 0 1 0 -2.7 0M35.7 15.6a1.8 1.9 0 1 0 3.5 0a1.8 1.8 0 1 0 -3.5 0M16.3 0a1.8 1.7 0 1 0 3.7 0a1.8 1.8 0 1 0 -3.7 0M16.3 50a1.8 2.2 0 1 0 3.7 0a1.8 1.8 0 1 0 -3.7 0M-1.1 35.2a1.7 2 0 1 0 3.5 0a1.7 1.7 0 1 0 -3.5 0M48.9 35.2a1.7 2 0 1 0 3.5 0a1.7 1.7 0 1 0 -3.5 0M42 36.3a1.8 2 0 1 0 3.6 0a1.8 1.8 0 1 0 -3.6 0M35.1 24a1.5 1.3 0 1 0 3.1 0a1.5 1.5 0 1 0 -3.1 0M17.7 26.1a2 1.8 0 1 0 4 0a2 2 0 1 0 -4 0M42.9 39a1.5 1.6 0 1 0 3 0a1.5 1.5 0 1 0 -3 0M47 44.2a1.9 1.8 0 1 0 3.8 0a1.9 1.9 0 1 0 -3.8 0M-3 44.2a1.9 1.8 0 1 0 3.8 0a1.9 1.9 0 1 0 -3.8 0M18 14a1.6 1.8 0 1 0 3.2 0a1.6 1.6 0 1 0 -3.2 0M34.9 14.1a1.8 1.9 0 1 0 3.6 0a1.8 1.8 0 1 0 -3.6 0M3.5 11.7a1.4 1.2 0 1 0 2.9 0a1.4 1.4 0 1 0 -2.9 0M32.8 31.8a1.5 1.8 0 1 0 3.1 0a1.5 1.5 0 1 0 -3.1 0M18.8 9.5a1.6 1.5 0 1 0 3.2 0a1.6 1.6 0 1 0 -3.2 0M7.1 17.6a1.8 1.9 0 1 0 3.7 0a1.8 1.8 0 1 0 -3.7 0M2.9 33.1a1.7 1.5 0 1 0 3.5 0a1.7 1.7 0 1 0 -3.5 0M12.3 35.6a1.9 2.1 0 1 0 3.8 0a1.9 1.9 0 1 0 -3.8 0M15 44.1a1.7 1.8 0 1 0 3.4 0a1.7 1.7 0 1 0 -3.4 0M13.3 16.1a1.3 1.1 0 1 0 2.7 0a1.3 1.3 0 1 0 -2.7 0M33.5 4.4a1.8 1.7 0 1 0 3.6 0a1.8 1.8 0 1 0 -3.6 0M14 22.6a2 2 0 1 0 3.9 0a2 2 0 1 0 -3.9 0M20.2 29.2a1.7 1.4 0 1 0 3.4 0a1.7 1.7 0 1 0 -3.4 0M9.4 44.2a1.9 2.1 0 1 0 3.9 0a1.9 1.9 0 1 0 -3.9 0M46.3 34.5a1.8 2 0 1 0 3.6 0a1.8 1.8 0 1 0 -3.6 0M6.7 22.1a1.9 1.6 0 1 0 3.8 0a1.9 1.9 0 1 0 -3.8 0M31.4 3.7a1.3 1.2 0 1 0 2.5 0a1.3 1.3 0 1 0 -2.5 0M33.9 39.5a1.6 1.7 0 1 0 3.2 0a1.6 1.6 0 1 0 -3.2 0M18.1 16.6a1.4 1.3 0 1 0 2.7 0a1.4 1.4 0 1 0 -2.7 0M45.6 31.2a1.6 1.6 0 1 0 3.2 0a1.6 1.6 0 1 0 -3.2 0M28.7 36.9a1.7 1.7 0 1 0 3.3 0a1.7 1.7 0 1 0 -3.3 0M12.7 37.4a2 2.1 0 1 0 4.1 0a2 2 0 1 0 -4.1 0M3.2 18.4a1.8 1.6 0 1 0 3.6 0a1.8 1.8 0 1 0 -3.6 0M41.9 6.5a2 2.2 0 1 0 4 0a2 2 0 1 0 -4 0M27.1 28.4a2 2 0 1 0 4 0a2 2 0 1 0 -4 0M44.3 49.2a1.3 1.5 0 1 0 2.6 0a1.3 1.3 0 1 0 -2.6 0M44.3 -0.8a1.3 1.3 0 1 0 2.6 0a1.3 1.3 0 1 0 -2.6 0M40.4 7.4a1.9 1.9 0 1 0 3.9 0a1.9 1.9 0 1 0 -3.9 0M33.7 19.5a1.3 1.3 0 1 0 2.6 0a1.3 1.3 0 1 0 -2.6 0M44.5 18.6a1.5 1.6 0 1 0 3 0a1.5 1.5 0 1 0 -3 0M20.9 0.8a1.6 1.4 0 1 0 3.1 0a1.6 1.6 0 1 0 -3.1 0M20.9 50.8a1.6 1.8 0 1 0 3.1 0a1.6 1.6 0 1 0 -3.1 0M32.6 31.4a1.6 1.5 0 1 0 3.2 0a1.6 1.6 0 1 0 -3.2 0M20 38.7a1.5 1.6 0 1 0 3 0a1.5 1.5 0 1 0 -3 0M9.4 15.5a2.1 1.9 0 1 0 4.2 0a2.1 2.1 0 1 0 -4.2 0M12.9 25.4a1.9 2.2 0 1 0 3.8 0a1.9 1.9 0 1 0 -3.8 0M11.7 48.9a1.6 1.4 0 1 0 3.3 0a1.6 1.6 0 1 0 -3.3 0M11.7 -1.1a1.6 1.3 0 1 0 3.3 0a1.6 1.6 0 1 0 -3.3 0M6.1 17.4a1.5 1.6 0 1 0 3.1 0a1.5 1.5 0 1 0 -3.1 0M39.8 48.7a2.1 2.3 0 1 0 4.2 0a2.1 2.1 0 1 0 -4.2 0M39.8 -1.3a2.1 2.2 0 1 0 4.2 0a2.1 2.1 0 1 0 -4.2 0M38.6 46.2a1.5 1.5 0 1 0 3 0a1.5 1.5 0 1 0 -3 0M2.2 35.9a2.1 2.4 0 1 0 4.1 0a2.1 2.1 0 1 0 -4.1 0M24.4 29.5a1.9 1.7 0 1 0 3.8 0a1.9 1.9 0 1 0 -3.8 0M42.2 17.1a1.9 1.9 0 1 0 3.9 0a1.9 1.9 0 1 0 -3.9 0M28.8 45.8a1.3 1.4 0 1 0 2.5 0a1.3 1.3 0 1 0 -2.5 0M10.7 30.4a1.5 1.5 0 1 0 3 0a1.5 1.5 0 1 0 -3 0M4.9 34.9a1.9 1.7 0 1 0 3.8 0a1.9 1.9 0 1 0 -3.8 0M29.5 46.8a1.6 1.4 0 1 0 3.2 0a1.6 1.6 0 1 0 -3.2 0M2.3 23a2 2.4 0 1 0 4 0a2 2 0 1 0 -4 0M19.2 34.5a1.2 1.1 0 1 0 2.5 0a1.2 1.2 0 1 0 -2.5 0M39.6 44.4a1.8 1.6 0 1 0 3.6 0a1.8 1.8 0 1 0 -3.6 0M21.1 10.2a1.2 1.3 0 1 0 2.5 0a1.2 1.2 0 1 0 -2.5 0M34.2 21.2a1.3 1.5 0 1 0 2.6 0a1.3 1.3 0 1 0 -2.6 0M41.7 20.5a1.2 1.2 0 1 0 2.5 0a1.2 1.2 0 1 0 -2.5 0M23.5 4.8a1.9 1.5 0 1 0 3.9 0a1.9 1.9 0 1 0 -3.9 0M46.4 34.8a1.3 1.5 0 1 0 2.6 0a1.3 1.3 0 1 0 -2.6 0M16.1 11.9a2.1 1.7 0 1 0 4.1 0a2.1 2.1 0 1 0 -4.1 0M26.2 19.9a1.6 1.6 0 1 0 3.2 0a1.6 1.6 0 1 0 -3.2 0M14.4 17.5a1.9 1.7 0 1 0 3.8 0a1.9 1.9 0 1 0 -3.8 0M38.4 21.1a2 2.3 0 1 0 4 0a2 2 0 1 0 -4 0M6.1 35.8a1.3 1.4 0 1 0 2.7 0a1.3 1.3 0 1 0 -2.7 0M30.2 37.3a1.2 1 0 1 0 2.4 0a1.2 1.2 0 1 0 -2.4 0M39.1 5.8a1.7 1.4 0 1 0 3.4 0a1.7 1.7 0 1 0 -3.4 0M5 48.6a1.7 1.7 0 1 0 3.5 0a1.7 1.7 0 1 0 -3.5 0M5 -1.4a1.7 1.9 0 1 0 3.5 0a1.7 1.7 0 1 0 -3.5 0M5.3 11.3a1.7 2 0 1 0 3.5 0a1.7 1.7 0 1 0 -3.5 0" fill="#2d1976"/><path d="M24.8 48.5a1.7 1.8 0 1 0 3.4 0a1.7 1.7 0 1 0 -3.4 0M24.8 -1.5a1.7 1.7 0 1 0 3.4 0a1.7 1.7 0 1 0 -3.4 0M23.9 40.1a2.3 2.7 0 1 0 4.5 0a2.3 2.3 0 1 0 -4.5 0M3.2 0.2a1.7 1.7 0 1 0 3.4 0a1.7 1.7 0 1 0 -3.4 0M3.2 50.2a1.7 1.8 0 1 0 3.4 0a1.7 1.7 0 1 0 -3.4 0M5.2 30.6a1.9 1.6 0 1 0 3.8 0a1.9 1.9 0 1 0 -3.8 0" fill="#c04a9a"/></pattern>
<pattern id="pI" width="50" height="50" patternUnits="userSpaceOnUse"><rect width="50" height="50" fill="#b98aae"/><path d="M-3.7 45.2a4.5 5.4 0 1 0 9 0a4.5 4.5 0 1 0 -9 0M46.3 45.2a4.5 4.2 0 1 0 9 0a4.5 4.5 0 1 0 -9 0M3.3 26.6a3.7 4 0 1 0 7.3 0a3.7 3.7 0 1 0 -7.3 0M47 7.1a2.5 2.4 0 1 0 5 0a2.5 2.5 0 1 0 -5 0M-3 7.1a2.5 2.7 0 1 0 5 0a2.5 2.5 0 1 0 -5 0M16.5 33.3a4.4 3.7 0 1 0 8.9 0a4.4 4.4 0 1 0 -8.9 0M29.9 25.5a4.7 5.5 0 1 0 9.4 0a4.7 4.7 0 1 0 -9.4 0M15.1 31a2.8 2.4 0 1 0 5.6 0a2.8 2.8 0 1 0 -5.6 0M38.5 9.5a3.5 3 0 1 0 6.9 0a3.5 3.5 0 1 0 -6.9 0M-2 42.2a4 3.8 0 1 0 8.1 0a4 4 0 1 0 -8.1 0M48 42.2a4 4.7 0 1 0 8.1 0a4 4 0 1 0 -8.1 0M40.4 45.1a4.6 5.1 0 1 0 9.2 0a4.6 4.6 0 1 0 -9.2 0M43.3 1.7a4.4 3.9 0 1 0 8.7 0a4.4 4.4 0 1 0 -8.7 0M43.3 51.7a4.4 4.1 0 1 0 8.7 0a4.4 4.4 0 1 0 -8.7 0M-6.7 1.7a4.4 3.9 0 1 0 8.7 0a4.4 4.4 0 1 0 -8.7 0M-6.7 51.7a4.4 4.2 0 1 0 8.7 0a4.4 4.4 0 1 0 -8.7 0" fill="#d6b0c8"/><path d="M6.4 31.1a1.7 1.4 0 1 0 3.4 0a1.7 1.7 0 1 0 -3.4 0M14 29.3a1.9 1.8 0 1 0 3.9 0a1.9 1.9 0 1 0 -3.9 0M32.8 22a1.6 1.7 0 1 0 3.1 0a1.6 1.6 0 1 0 -3.1 0M19.3 32a1.5 1.5 0 1 0 2.9 0a1.5 1.5 0 1 0 -2.9 0M14.4 41.7a1.6 1.3 0 1 0 3.2 0a1.6 1.6 0 1 0 -3.2 0M48.3 1a1.4 1.5 0 1 0 2.8 0a1.4 1.4 0 1 0 -2.8 0M48.3 51a1.4 1.3 0 1 0 2.8 0a1.4 1.4 0 1 0 -2.8 0M-1.7 1a1.4 1.4 0 1 0 2.8 0a1.4 1.4 0 1 0 -2.8 0M-1.7 51a1.4 1.3 0 1 0 2.8 0a1.4 1.4 0 1 0 -2.8 0M11.2 27.2a1.6 1.7 0 1 0 3.1 0a1.6 1.6 0 1 0 -3.1 0M9.5 12.6a1.5 1.2 0 1 0 2.9 0a1.5 1.5 0 1 0 -2.9 0M45.9 22.5a1.7 1.4 0 1 0 3.4 0a1.7 1.7 0 1 0 -3.4 0M11.4 26.2a1.7 1.7 0 1 0 3.3 0a1.7 1.7 0 1 0 -3.3 0M1.6 9.6a1.5 1.7 0 1 0 3.1 0a1.5 1.5 0 1 0 -3.1 0M16.8 45.3a1.5 1.9 0 1 0 3.1 0a1.5 1.5 0 1 0 -3.1 0M14.7 34.5a1.3 1.4 0 1 0 2.6 0a1.3 1.3 0 1 0 -2.6 0M23.1 34.6a1.2 1 0 1 0 2.5 0a1.2 1.2 0 1 0 -2.5 0M8.4 47.9a1.3 1.1 0 1 0 2.5 0a1.3 1.3 0 1 0 -2.5 0M24.4 42a1.5 1.6 0 1 0 3.1 0a1.5 1.5 0 1 0 -3.1 0M24.3 31.3a1.7 1.6 0 1 0 3.4 0a1.7 1.7 0 1 0 -3.4 0M17.4 49.2a1.3 1.3 0 1 0 2.6 0a1.3 1.3 0 1 0 -2.6 0M17.4 -0.8a1.3 1.3 0 1 0 2.6 0a1.3 1.3 0 1 0 -2.6 0M18.1 19.7a1.5 1.5 0 1 0 3 0a1.5 1.5 0 1 0 -3 0M22.9 26a1.8 2.1 0 1 0 3.6 0a1.8 1.8 0 1 0 -3.6 0M41.2 42.7a1.9 1.7 0 1 0 3.8 0a1.9 1.9 0 1 0 -3.8 0M0 46.7a1.7 2 0 1 0 3.5 0a1.7 1.7 0 1 0 -3.5 0M9 31.1a1.9 1.9 0 1 0 3.8 0a1.9 1.9 0 1 0 -3.8 0M37 6.1a1.6 1.4 0 1 0 3.2 0a1.6 1.6 0 1 0 -3.2 0M8.7 18.7a1.7 1.4 0 1 0 3.4 0a1.7 1.7 0 1 0 -3.4 0M-1.2 34.7a1.4 1.5 0 1 0 2.9 0a1.4 1.4 0 1 0 -2.9 0M48.8 34.7a1.4 1.3 0 1 0 2.9 0a1.4 1.4 0 1 0 -2.9 0M14.5 34.1a2 2.1 0 1 0 3.9 0a2 2 0 1 0 -3.9 0M23 27.9a2.1 1.8 0 1 0 4.1 0a2.1 2.1 0 1 0 -4.1 0M32.7 1.5a1.5 1.4 0 1 0 3 0a1.5 1.5 0 1 0 -3 0M32.7 51.5a1.5 1.7 0 1 0 3 0a1.5 1.5 0 1 0 -3 0M28.2 20.9a1.2 1.3 0 1 0 2.5 0a1.2 1.2 0 1 0 -2.5 0M22.1 44a1.6 1.7 0 1 0 3.2 0a1.6 1.6 0 1 0 -3.2 0M16.8 25.4a1.6 1.7 0 1 0 3.2 0a1.6 1.6 0 1 0 -3.2 0M16.4 48.6a1.7 1.6 0 1 0 3.4 0a1.7 1.7 0 1 0 -3.4 0M16.4 -1.4a1.7 1.8 0 1 0 3.4 0a1.7 1.7 0 1 0 -3.4 0M7.3 3.4a1.4 1.3 0 1 0 2.8 0a1.4 1.4 0 1 0 -2.8 0M36.6 3.4a1.3 1.5 0 1 0 2.7 0a1.3 1.3 0 1 0 -2.7 0M12.4 37.3a1.9 1.7 0 1 0 3.8 0a1.9 1.9 0 1 0 -3.8 0M21.1 1.4a1.7 1.8 0 1 0 3.4 0a1.7 1.7 0 1 0 -3.4 0M21.1 51.4a1.7 1.9 0 1 0 3.4 0a1.7 1.7 0 1 0 -3.4 0M7.9 26.3a1.7 1.4 0 1 0 3.4 0a1.7 1.7 0 1 0 -3.4 0M18.2 44a1.7 1.6 0 1 0 3.5 0a1.7 1.7 0 1 0 -3.5 0M9.7 43.9a1.6 1.3 0 1 0 3.3 0a1.6 1.6 0 1 0 -3.3 0M6.1 35.3a1.8 1.7 0 1 0 3.7 0a1.8 1.8 0 1 0 -3.7 0M27.2 15.5a1.5 1.7 0 1 0 2.9 0a1.5 1.5 0 1 0 -2.9 0M37.7 45a1.4 1.4 0 1 0 2.7 0a1.4 1.4 0 1 0 -2.7 0M30.6 17.3a2 2.3 0 1 0 4.1 0a2 2 0 1 0 -4.1 0M-0.6 15.4a1.9 1.7 0 1 0 3.8 0a1.9 1.9 0 1 0 -3.8 0M49.4 15.4a1.9 1.6 0 1 0 3.8 0a1.9 1.9 0 1 0 -3.8 0M6.5 48.6a1.9 1.9 0 1 0 3.7 0a1.9 1.9 0 1 0 -3.7 0M6.5 -1.4a1.9 1.8 0 1 0 3.7 0a1.9 1.9 0 1 0 -3.7 0M35.7 42.4a1.9 2.2 0 1 0 3.9 0a1.9 1.9 0 1 0 -3.9 0M21.7 29.9a2.1 2.2 0 1 0 4.1 0a2.1 2.1 0 1 0 -4.1 0M9.3 27.3a1.6 1.7 0 1 0 3.2 0a1.6 1.6 0 1 0 -3.2 0M27.2 28.2a2 2 0 1 0 3.9 0a2 2 0 1 0 -3.9 0M8.9 38.4a1.3 1.1 0 1 0 2.7 0a1.3 1.3 0 1 0 -2.7 0M-0 34.5a1.6 1.9 0 1 0 3.3 0a1.6 1.6 0 1 0 -3.3 0M50 34.5a1.6 1.8 0 1 0 3.3 0a1.6 1.6 0 1 0 -3.3 0M43.7 23.5a1.2 1.4 0 1 0 2.4 0a1.2 1.2 0 1 0 -2.4 0M42.2 46.4a1.8 1.7 0 1 0 3.6 0a1.8 1.8 0 1 0 -3.6 0M23.5 14.1a1.7 1.7 0 1 0 3.5 0a1.7 1.7 0 1 0 -3.5 0M25.2 38.1a1.7 1.5 0 1 0 3.3 0a1.7 1.7 0 1 0 -3.3 0M41.3 40.9a1.9 2.3 0 1 0 3.9 0a1.9 1.9 0 1 0 -3.9 0M47.9 1.7a1.4 1.6 0 1 0 2.9 0a1.4 1.4 0 1 0 -2.9 0M-2.1 1.7a1.4 1.2 0 1 0 2.9 0a1.4 1.4 0 1 0 -2.9 0M26.7 9.7a2 2 0 1 0 3.9 0a2 2 0 1 0 -3.9 0M6.4 8.8a1.6 1.3 0 1 0 3.1 0a1.6 1.6 0 1 0 -3.1 0M25 49.8a1.4 1.5 0 1 0 2.9 0a1.4 1.4 0 1 0 -2.9 0M25 -0.2a1.4 1.3 0 1 0 2.9 0a1.4 1.4 0 1 0 -2.9 0M36.9 18.5a1.9 1.9 0 1 0 3.7 0a1.9 1.9 0 1 0 -3.7 0M43.4 49.5a1.5 1.4 0 1 0 3 0a1.5 1.5 0 1 0 -3 0M43.4 -0.5a1.5 1.2 0 1 0 3 0a1.5 1.5 0 1 0 -3 0M-1.2 18a2.1 2 0 1 0 4.2 0a2.1 2.1 0 1 0 -4.2 0M48.8 18a2.1 1.9 0 1 0 4.2 0a2.1 2.1 0 1 0 -4.2 0M10.7 44a2.1 2.2 0 1 0 4.2 0a2.1 2.1 0 1 0 -4.2 0M8.2 29.3a1.3 1.2 0 1 0 2.6 0a1.3 1.3 0 1 0 -2.6 0M11.1 15.8a1.3 1.3 0 1 0 2.7 0a1.3 1.3 0 1 0 -2.7 0M47.1 30.5a1.6 1.8 0 1 0 3.1 0a1.6 1.6 0 1 0 -3.1 0M-2.9 30.5a1.6 1.3 0 1 0 3.1 0a1.6 1.6 0 1 0 -3.1 0M1.3 23.2a1.9 1.7 0 1 0 3.9 0a1.9 1.9 0 1 0 -3.9 0M4.5 28.4a2 2.1 0 1 0 4.1 0a2 2 0 1 0 -4.1 0M35.6 33.5a1.8 1.9 0 1 0 3.6 0a1.8 1.8 0 1 0 -3.6 0M12.3 28.6a2.1 1.7 0 1 0 4.1 0a2.1 2.1 0 1 0 -4.1 0M1 13.7a1.4 1.5 0 1 0 2.8 0a1.4 1.4 0 1 0 -2.8 0M30.7 23.5a1.9 1.9 0 1 0 3.8 0a1.9 1.9 0 1 0 -3.8 0M43.7 37.4a1.3 1.5 0 1 0 2.6 0a1.3 1.3 0 1 0 -2.6 0M14.1 49.5a1.7 1.5 0 1 0 3.3 0a1.7 1.7 0 1 0 -3.3 0M14.1 -0.5a1.7 1.4 0 1 0 3.3 0a1.7 1.7 0 1 0 -3.3 0M38.5 8.9a1.2 1.4 0 1 0 2.5 0a1.2 1.2 0 1 0 -2.5 0M45.1 25a2 1.8 0 1 0 3.9 0a2 2 0 1 0 -3.9 0M29.2 15.4a1.8 2.1 0 1 0 3.6 0a1.8 1.8 0 1 0 -3.6 0M6.1 10a1.5 1.3 0 1 0 2.9 0a1.5 1.5 0 1 0 -2.9 0M39.6 17.9a1.3 1.1 0 1 0 2.6 0a1.3 1.3 0 1 0 -2.6 0M2.2 49.7a1.5 1.8 0 1 0 3 0a1.5 1.5 0 1 0 -3 0M2.2 -0.3a1.5 1.6 0 1 0 3 0a1.5 1.5 0 1 0 -3 0M27.2 7a1.5 1.3 0 1 0 3.1 0a1.5 1.5 0 1 0 -3.1 0M32.9 40.8a1.5 1.6 0 1 0 2.9 0a1.5 1.5 0 1 0 -2.9 0M25.8 34.9a1.5 1.7 0 1 0 3.1 0a1.5 1.5 0 1 0 -3.1 0M36.6 17.1a1.7 1.9 0 1 0 3.4 0a1.7 1.7 0 1 0 -3.4 0M4.7 4.5a1.3 1.3 0 1 0 2.6 0a1.3 1.3 0 1 0 -2.6 0M35.5 43.4a1.8 2.1 0 1 0 3.6 0a1.8 1.8 0 1 0 -3.6 0M3.8 12.7a1.8 1.5 0 1 0 3.7 0a1.8 1.8 0 1 0 -3.7 0M36.9 36.1a1.4 1.2 0 1 0 2.7 0a1.4 1.4 0 1 0 -2.7 0" fill="#3a2050"/><path d="M15.8 10.4a1.6 1.9 0 1 0 3.3 0a1.6 1.6 0 1 0 -3.3 0M8.1 21.6a1.7 1.5 0 1 0 3.4 0a1.7 1.7 0 1 0 -3.4 0M45 47a1.5 1.8 0 1 0 3 0a1.5 1.5 0 1 0 -3 0M27.8 21.7a1.4 1.6 0 1 0 2.8 0a1.4 1.4 0 1 0 -2.8 0M33.5 10.2a1.3 1.2 0 1 0 2.6 0a1.3 1.3 0 1 0 -2.6 0M2.4 2.1a1.3 1.4 0 1 0 2.6 0a1.3 1.3 0 1 0 -2.6 0M35 12a1.4 1.5 0 1 0 2.9 0a1.4 1.4 0 1 0 -2.9 0M46 31.3a1.6 1.7 0 1 0 3.2 0a1.6 1.6 0 1 0 -3.2 0M20.1 34.5a1.7 1.9 0 1 0 3.4 0a1.7 1.7 0 1 0 -3.4 0M24.6 34.8a1.6 1.5 0 1 0 3.2 0a1.6 1.6 0 1 0 -3.2 0M1.8 44.7a1.3 1.3 0 1 0 2.6 0a1.3 1.3 0 1 0 -2.6 0M45.4 26.9a1.5 1.7 0 1 0 2.9 0a1.5 1.5 0 1 0 -2.9 0M3 36.9a1.3 1.6 0 1 0 2.7 0a1.3 1.3 0 1 0 -2.7 0M38.1 6.9a1.2 1.4 0 1 0 2.4 0a1.2 1.2 0 1 0 -2.4 0" fill="#6b3f7a"/></pattern>
<pattern id="pJ" width="50" height="50" patternUnits="userSpaceOnUse"><rect width="50" height="50" fill="#f7e1e7"/><path d="M20.6 15a2.7 2.5 0 1 0 5.4 0a2.7 2.7 0 1 0 -5.4 0M4.9 9.9a4.8 4 0 1 0 9.7 0a4.8 4.8 0 1 0 -9.7 0M0.8 37.9a3.9 3.2 0 1 0 7.9 0a3.9 3.9 0 1 0 -7.9 0M15.6 10.1a3.3 3.7 0 1 0 6.5 0a3.3 3.3 0 1 0 -6.5 0M37.5 29.2a5.1 5.6 0 1 0 10.2 0a5.1 5.1 0 1 0 -10.2 0M3 38.6a2.2 2.4 0 1 0 4.3 0a2.2 2.2 0 1 0 -4.3 0M-0.1 39.9a3.8 3.3 0 1 0 7.6 0a3.8 3.8 0 1 0 -7.6 0M49.9 39.9a3.8 3.7 0 1 0 7.6 0a3.8 3.8 0 1 0 -7.6 0M9.5 15.3a2.7 2.4 0 1 0 5.5 0a2.7 2.7 0 1 0 -5.5 0M9.9 20.9a3 3.3 0 1 0 5.9 0a3 3 0 1 0 -5.9 0M0.3 17.4a2.2 2.1 0 1 0 4.5 0a2.2 2.2 0 1 0 -4.5 0" fill="#eeb3c2"/><path d="M46.8 23.6a2.2 1.9 0 1 0 4.5 0a2.2 2.2 0 1 0 -4.5 0M-3.2 23.6a2.2 2.5 0 1 0 4.5 0a2.2 2.2 0 1 0 -4.5 0M45.3 22.8a1.7 1.6 0 1 0 3.4 0a1.7 1.7 0 1 0 -3.4 0M-2.4 30.5a3.1 3.4 0 1 0 6.2 0a3.1 3.1 0 1 0 -6.2 0M47.6 30.5a3.1 2.5 0 1 0 6.2 0a3.1 3.1 0 1 0 -6.2 0M17 25.5a2.5 2.9 0 1 0 5 0a2.5 2.5 0 1 0 -5 0M5.5 24.1a3.5 3.7 0 1 0 7 0a3.5 3.5 0 1 0 -7 0M8 34.7a2.2 2.2 0 1 0 4.3 0a2.2 2.2 0 1 0 -4.3 0M16.3 32.4a2.6 2.9 0 1 0 5.2 0a2.6 2.6 0 1 0 -5.2 0" fill="#e08aa2"/><path d="M-4.8 2.2a6 6.5 0 1 0 12 0a6 6 0 1 0 -12 0M-4.8 52.2a6 5.8 0 1 0 12 0a6 6 0 1 0 -12 0M45.2 2.2a6 5.4 0 1 0 12 0a6 6 0 1 0 -12 0M45.2 52.2a6 6.5 0 1 0 12 0a6 6 0 1 0 -12 0M6 1.1a3.1 3.2 0 1 0 6.2 0a3.1 3.1 0 1 0 -6.2 0M6 51.1a3.1 3.2 0 1 0 6.2 0a3.1 3.1 0 1 0 -6.2 0M15.7 4.8a5.5 5.6 0 1 0 10.9 0a5.5 5.5 0 1 0 -10.9 0M15.7 54.8a5.5 6.1 0 1 0 10.9 0a5.5 5.5 0 1 0 -10.9 0M34.3 31.1a3.1 3.1 0 1 0 6.1 0a3.1 3.1 0 1 0 -6.1 0M9.1 22.4a3.2 3.6 0 1 0 6.4 0a3.2 3.2 0 1 0 -6.4 0" fill="#ffffff"/><path d="M34.1 47.2a1.2 1.2 0 1 0 2.4 0a1.2 1.2 0 1 0 -2.4 0M15.8 5.7a1.7 1.5 0 1 0 3.3 0a1.7 1.7 0 1 0 -3.3 0M14.7 30.9a1.9 2.1 0 1 0 3.8 0a1.9 1.9 0 1 0 -3.8 0M31.3 34.8a2 2.1 0 1 0 4 0a2 2 0 1 0 -4 0" fill="#a0507a"/></pattern>
<pattern id="pK" width="50" height="50" patternUnits="userSpaceOnUse"><rect width="50" height="50" fill="#e6c3dd"/><path d="M7 4.9a5 4.5 0 1 0 10 0a5 5 0 1 0 -10 0M7 54.9a5 5.2 0 1 0 10 0a5 5 0 1 0 -10 0M2.7 49a5 4.6 0 1 0 10 0a5 5 0 1 0 -10 0M2.7 -1a5 4.1 0 1 0 10 0a5 5 0 1 0 -10 0M37.8 44.9a4 3.4 0 1 0 8 0a4 4 0 1 0 -8 0M44.5 44.7a4.4 3.7 0 1 0 8.8 0a4.4 4.4 0 1 0 -8.8 0M-5.5 44.7a4.4 4.8 0 1 0 8.8 0a4.4 4.4 0 1 0 -8.8 0M44.4 15.1a4.1 4.7 0 1 0 8.2 0a4.1 4.1 0 1 0 -8.2 0M-5.6 15.1a4.1 4.5 0 1 0 8.2 0a4.1 4.1 0 1 0 -8.2 0M42.1 31.1a3.7 4.4 0 1 0 7.4 0a3.7 3.7 0 1 0 -7.4 0M36.5 43.3a4 3.7 0 1 0 8 0a4 4 0 1 0 -8 0M45.4 46.3a3.3 2.7 0 1 0 6.6 0a3.3 3.3 0 1 0 -6.6 0M-4.6 46.3a3.3 2.8 0 1 0 6.6 0a3.3 3.3 0 1 0 -6.6 0" fill="#f3e0ee"/><path d="M31.1 12.5a2 2 0 1 0 4 0a2 2 0 1 0 -4 0M46.3 24a1.9 1.6 0 1 0 3.8 0a1.9 1.9 0 1 0 -3.8 0M-3.7 24a1.9 1.7 0 1 0 3.8 0a1.9 1.9 0 1 0 -3.8 0M14.8 10.5a1.9 1.8 0 1 0 3.8 0a1.9 1.9 0 1 0 -3.8 0M9 10.3a1.9 2 0 1 0 3.8 0a1.9 1.9 0 1 0 -3.8 0M35.9 17.6a1.9 1.9 0 1 0 3.9 0a1.9 1.9 0 1 0 -3.9 0M1.6 6.7a2.1 2.5 0 1 0 4.2 0a2.1 2.1 0 1 0 -4.2 0M1 24.3a1.8 1.7 0 1 0 3.6 0a1.8 1.8 0 1 0 -3.6 0M46.7 42.1a2.4 2.1 0 1 0 4.7 0a2.4 2.4 0 1 0 -4.7 0M-3.3 42.1a2.4 2.1 0 1 0 4.7 0a2.4 2.4 0 1 0 -4.7 0M25 21.9a2.1 1.7 0 1 0 4.2 0a2.1 2.1 0 1 0 -4.2 0M36.1 50a3 3 0 1 0 5.9 0a3 3 0 1 0 -5.9 0M36.1 -0a3 2.8 0 1 0 5.9 0a3 3 0 1 0 -5.9 0M3.5 49.4a2.3 1.9 0 1 0 4.7 0a2.3 2.3 0 1 0 -4.7 0M3.5 -0.6a2.3 2.8 0 1 0 4.7 0a2.3 2.3 0 1 0 -4.7 0M30.1 37.1a2.4 2.2 0 1 0 4.9 0a2.4 2.4 0 1 0 -4.9 0M37.7 37.3a2.4 2.8 0 1 0 4.8 0a2.4 2.4 0 1 0 -4.8 0M6.5 48a2.5 2.1 0 1 0 5 0a2.5 2.5 0 1 0 -5 0M6.5 -2a2.5 2.8 0 1 0 5 0a2.5 2.5 0 1 0 -5 0M40.8 41a2.3 2.4 0 1 0 4.7 0a2.3 2.3 0 1 0 -4.7 0M28 35.8a2.3 1.9 0 1 0 4.6 0a2.3 2.3 0 1 0 -4.6 0M15 17.8a1.9 1.6 0 1 0 3.7 0a1.9 1.9 0 1 0 -3.7 0M31.5 25.8a2 2.3 0 1 0 4.1 0a2 2 0 1 0 -4.1 0M-0.2 0a2.6 3 0 1 0 5.2 0a2.6 2.6 0 1 0 -5.2 0M-0.2 50a2.6 3 0 1 0 5.2 0a2.6 2.6 0 1 0 -5.2 0M49.8 0a2.6 2.7 0 1 0 5.2 0a2.6 2.6 0 1 0 -5.2 0M49.8 50a2.6 2.5 0 1 0 5.2 0a2.6 2.6 0 1 0 -5.2 0M10.3 46.9a2.6 2.3 0 1 0 5.2 0a2.6 2.6 0 1 0 -5.2 0M41 37.3a3 2.8 0 1 0 5.9 0a3 3 0 1 0 -5.9 0M19.7 28.8a2.2 2 0 1 0 4.3 0a2.2 2.2 0 1 0 -4.3 0M43.6 41.2a2.9 3.2 0 1 0 5.7 0a2.9 2.9 0 1 0 -5.7 0M29.9 2a2.8 2.4 0 1 0 5.6 0a2.8 2.8 0 1 0 -5.6 0M29.9 52a2.8 2.9 0 1 0 5.6 0a2.8 2.8 0 1 0 -5.6 0M29.7 10a2.7 2.2 0 1 0 5.3 0a2.7 2.7 0 1 0 -5.3 0M3.2 38.1a2.2 2.2 0 1 0 4.4 0a2.2 2.2 0 1 0 -4.4 0M29 26.9a2.8 3.2 0 1 0 5.6 0a2.8 2.8 0 1 0 -5.6 0M10.6 4.9a2.4 2.8 0 1 0 4.7 0a2.4 2.4 0 1 0 -4.7 0M9.7 39.4a2.3 2.8 0 1 0 4.7 0a2.3 2.3 0 1 0 -4.7 0M-0 10a2.7 3.2 0 1 0 5.5 0a2.7 2.7 0 1 0 -5.5 0M50 10a2.7 3.2 0 1 0 5.5 0a2.7 2.7 0 1 0 -5.5 0M40.6 14.3a2.4 2 0 1 0 4.9 0a2.4 2.4 0 1 0 -4.9 0M21.3 24.7a1.9 1.7 0 1 0 3.8 0a1.9 1.9 0 1 0 -3.8 0M41.1 26.7a2.6 3 0 1 0 5.2 0a2.6 2.6 0 1 0 -5.2 0M44.8 47.6a2.1 2.2 0 1 0 4.2 0a2.1 2.1 0 1 0 -4.2 0M1.7 12a2.3 1.8 0 1 0 4.5 0a2.3 2.3 0 1 0 -4.5 0M3.5 31.9a2.8 2.6 0 1 0 5.6 0a2.8 2.8 0 1 0 -5.6 0M6 32.5a2 2.3 0 1 0 4 0a2 2 0 1 0 -4 0M-1.7 11.2a2.9 3.1 0 1 0 5.8 0a2.9 2.9 0 1 0 -5.8 0M48.3 11.2a2.9 2.7 0 1 0 5.8 0a2.9 2.9 0 1 0 -5.8 0M1.1 32.3a2.4 1.9 0 1 0 4.7 0a2.4 2.4 0 1 0 -4.7 0M43.5 5.1a2.7 2.7 0 1 0 5.4 0a2.7 2.7 0 1 0 -5.4 0M30.2 5a2.8 3.4 0 1 0 5.7 0a2.8 2.8 0 1 0 -5.7 0M-2.2 17.9a2.6 2.6 0 1 0 5.1 0a2.6 2.6 0 1 0 -5.1 0M47.8 17.9a2.6 2.9 0 1 0 5.1 0a2.6 2.6 0 1 0 -5.1 0" fill="#5a3a8a"/></pattern>
<pattern id="pM" width="50" height="50" patternUnits="userSpaceOnUse"><rect width="50" height="50" fill="#e5b3d3"/><path d="M35.5 37.5a4.4 3.6 0 1 0 8.8 0a4.4 4.4 0 1 0 -8.8 0M15.2 43.1a7.2 7.5 0 1 0 14.4 0a7.2 7.2 0 1 0 -14.4 0M15.2 -6.9a7.2 8.3 0 1 0 14.4 0a7.2 7.2 0 1 0 -14.4 0M12 39.5a7.1 6 0 1 0 14.3 0a7.1 7.1 0 1 0 -14.3 0M34.1 47.3a5.5 5.4 0 1 0 11 0a5.5 5.5 0 1 0 -11 0M34.1 -2.7a5.5 4.6 0 1 0 11 0a5.5 5.5 0 1 0 -11 0M31.4 48.2a6.6 7.6 0 1 0 13.3 0a6.6 6.6 0 1 0 -13.3 0M31.4 -1.8a6.6 7.2 0 1 0 13.3 0a6.6 6.6 0 1 0 -13.3 0M27.3 47.9a5.4 4.7 0 1 0 10.9 0a5.4 5.4 0 1 0 -10.9 0M27.3 -2.1a5.4 4.5 0 1 0 10.9 0a5.4 5.4 0 1 0 -10.9 0M20.8 22.4a4.7 5.1 0 1 0 9.5 0a4.7 4.7 0 1 0 -9.5 0M17.8 27a5.9 6.1 0 1 0 11.8 0a5.9 5.9 0 1 0 -11.8 0M35.9 27.9a6.5 6.6 0 1 0 13 0a6.5 6.5 0 1 0 -13 0M2.4 30.3a5.1 4.5 0 1 0 10.2 0a5.1 5.1 0 1 0 -10.2 0" fill="#f1d3e6"/><path d="M-1.9 3.9a4 4.3 0 1 0 8 0a4 4 0 1 0 -8 0M-1.9 53.9a4 3.9 0 1 0 8 0a4 4 0 1 0 -8 0M48.1 3.9a4 4.5 0 1 0 8 0a4 4 0 1 0 -8 0M48.1 53.9a4 4 0 1 0 8 0a4 4 0 1 0 -8 0M39.8 30.9a3 2.8 0 1 0 6 0a3 3 0 1 0 -6 0M21.4 8.3a4.4 5.1 0 1 0 8.7 0a4.4 4.4 0 1 0 -8.7 0M36.9 13.5a2.7 3 0 1 0 5.5 0a2.7 2.7 0 1 0 -5.5 0M8 41.1a2.9 2.7 0 1 0 5.8 0a2.9 2.9 0 1 0 -5.8 0M9.7 34.8a3.7 4.4 0 1 0 7.4 0a3.7 3.7 0 1 0 -7.4 0M35.4 9.1a3.1 3.2 0 1 0 6.3 0a3.1 3.1 0 1 0 -6.3 0M14.6 22.6a2.7 3.2 0 1 0 5.4 0a2.7 2.7 0 1 0 -5.4 0M9.3 23.3a2.5 2.1 0 1 0 5 0a2.5 2.5 0 1 0 -5 0M21.2 24.9a3.8 3.6 0 1 0 7.7 0a3.8 3.8 0 1 0 -7.7 0M10.4 37.8a2.8 2.3 0 1 0 5.6 0a2.8 2.8 0 1 0 -5.6 0M36.8 25.7a3.1 3.6 0 1 0 6.2 0a3.1 3.1 0 1 0 -6.2 0M-2.9 22.8a4.3 4.8 0 1 0 8.6 0a4.3 4.3 0 1 0 -8.6 0M47.1 22.8a4.3 4 0 1 0 8.6 0a4.3 4.3 0 1 0 -8.6 0M39.2 7.9a2.7 2.7 0 1 0 5.3 0a2.7 2.7 0 1 0 -5.3 0M16.5 36.4a3.3 3 0 1 0 6.6 0a3.3 3.3 0 1 0 -6.6 0M19 41.3a3.1 2.6 0 1 0 6.2 0a3.1 3.1 0 1 0 -6.2 0M33.9 48.1a4.4 5 0 1 0 8.9 0a4.4 4.4 0 1 0 -8.9 0M33.9 -1.9a4.4 3.8 0 1 0 8.9 0a4.4 4.4 0 1 0 -8.9 0M44.1 44.2a3.6 3.8 0 1 0 7.2 0a3.6 3.6 0 1 0 -7.2 0M-5.9 44.2a3.6 3.4 0 1 0 7.2 0a3.6 3.6 0 1 0 -7.2 0" fill="#9a5aa2"/><path d="M2.3 42.5a2.3 2.2 0 1 0 4.7 0a2.3 2.3 0 1 0 -4.7 0M18.2 33.6a2 2 0 1 0 4.1 0a2 2 0 1 0 -4.1 0M-0.8 30.6a2.6 2.3 0 1 0 5.1 0a2.6 2.6 0 1 0 -5.1 0M49.2 30.6a2.6 2.9 0 1 0 5.1 0a2.6 2.6 0 1 0 -5.1 0M8.5 45.4a2.7 2.4 0 1 0 5.5 0a2.7 2.7 0 1 0 -5.5 0M3.4 33.2a2.9 3.3 0 1 0 5.7 0a2.9 2.9 0 1 0 -5.7 0M15.7 21.6a2.8 2.4 0 1 0 5.7 0a2.8 2.8 0 1 0 -5.7 0M42.5 25.1a2.2 2.1 0 1 0 4.4 0a2.2 2.2 0 1 0 -4.4 0M28.8 43.5a2.6 2.4 0 1 0 5.3 0a2.6 2.6 0 1 0 -5.3 0" fill="#7a3c8a"/></pattern>
<pattern id="pL" width="50" height="50" patternUnits="userSpaceOnUse"><rect width="50" height="50" fill="#c98fc0"/><path d="M41.8 46.2a3.4 3.4 0 1 0 6.8 0a3.4 3.4 0 1 0 -6.8 0M18.5 0.4a5.4 6.4 0 1 0 10.7 0a5.4 5.4 0 1 0 -10.7 0M18.5 50.4a5.4 5.7 0 1 0 10.7 0a5.4 5.4 0 1 0 -10.7 0M39.1 5.5a4.9 5.4 0 1 0 9.7 0a4.9 4.9 0 1 0 -9.7 0M35.2 49.3a5.5 4.6 0 1 0 11.1 0a5.5 5.5 0 1 0 -11.1 0M35.2 -0.7a5.5 6.2 0 1 0 11.1 0a5.5 5.5 0 1 0 -11.1 0M39.2 39.7a3.2 2.9 0 1 0 6.3 0a3.2 3.2 0 1 0 -6.3 0M12.8 46.6a4.3 3.8 0 1 0 8.7 0a4.3 4.3 0 1 0 -8.7 0M12.8 -3.4a4.3 3.8 0 1 0 8.7 0a4.3 4.3 0 1 0 -8.7 0M24.4 45.9a5.9 5.4 0 1 0 11.8 0a5.9 5.9 0 1 0 -11.8 0M24.4 -4.1a5.9 6.6 0 1 0 11.8 0a5.9 5.9 0 1 0 -11.8 0M33 16.6a4.7 4.4 0 1 0 9.4 0a4.7 4.7 0 1 0 -9.4 0M-2.9 25.7a4.6 4.2 0 1 0 9.2 0a4.6 4.6 0 1 0 -9.2 0M47.1 25.7a4.6 4.4 0 1 0 9.2 0a4.6 4.6 0 1 0 -9.2 0M18.3 44.9a3.6 3.4 0 1 0 7.2 0a3.6 3.6 0 1 0 -7.2 0" fill="#a562a8"/><path d="M34.4 31.8a2.5 2.3 0 1 0 5.1 0a2.5 2.5 0 1 0 -5.1 0M26.8 39.8a3 2.6 0 1 0 6 0a3 3 0 1 0 -6 0M8.2 41.4a2.9 2.6 0 1 0 5.8 0a2.9 2.9 0 1 0 -5.8 0M25.7 33.2a2.7 2.2 0 1 0 5.4 0a2.7 2.7 0 1 0 -5.4 0M4.6 32.7a1.9 1.8 0 1 0 3.9 0a1.9 1.9 0 1 0 -3.9 0M15.1 40.9a1.8 1.9 0 1 0 3.7 0a1.8 1.8 0 1 0 -3.7 0M8.8 27.6a2.5 2.5 0 1 0 4.9 0a2.5 2.5 0 1 0 -4.9 0M18 6.1a1.8 1.8 0 1 0 3.7 0a1.8 1.8 0 1 0 -3.7 0M15.1 11.5a2 1.8 0 1 0 3.9 0a2 2 0 1 0 -3.9 0M15.6 20.5a2.9 3.2 0 1 0 5.8 0a2.9 2.9 0 1 0 -5.8 0M15.3 37.3a2.4 2.2 0 1 0 4.7 0a2.4 2.4 0 1 0 -4.7 0M-2.8 47a2.9 2.5 0 1 0 5.9 0a2.9 2.9 0 1 0 -5.9 0M47.2 47a2.9 2.9 0 1 0 5.9 0a2.9 2.9 0 1 0 -5.9 0M25.6 47.5a2.1 1.8 0 1 0 4.2 0a2.1 2.1 0 1 0 -4.2 0M15.9 44.4a2.2 2.3 0 1 0 4.4 0a2.2 2.2 0 1 0 -4.4 0M27.5 20a2 1.9 0 1 0 3.9 0a2 2 0 1 0 -3.9 0M1.3 18a2.6 3 0 1 0 5.1 0a2.6 2.6 0 1 0 -5.1 0M30.1 29.3a2.6 2.2 0 1 0 5.1 0a2.6 2.6 0 1 0 -5.1 0M35.9 19.6a2.9 3.3 0 1 0 5.9 0a2.9 2.9 0 1 0 -5.9 0M16.5 34.4a2.6 3 0 1 0 5.2 0a2.6 2.6 0 1 0 -5.2 0M15.6 14.7a2.6 2.9 0 1 0 5.1 0a2.6 2.6 0 1 0 -5.1 0M36.6 35.5a2.1 2.1 0 1 0 4.3 0a2.1 2.1 0 1 0 -4.3 0M24.5 12.3a2.8 2.6 0 1 0 5.6 0a2.8 2.8 0 1 0 -5.6 0M46.7 37.9a2.8 2.4 0 1 0 5.6 0a2.8 2.8 0 1 0 -5.6 0M-3.3 37.9a2.8 2.8 0 1 0 5.6 0a2.8 2.8 0 1 0 -5.6 0M3.1 33.8a2.1 1.8 0 1 0 4.2 0a2.1 2.1 0 1 0 -4.2 0M40.9 28.4a2.6 3.1 0 1 0 5.2 0a2.6 2.6 0 1 0 -5.2 0M45.2 13.5a1.9 1.7 0 1 0 3.8 0a1.9 1.9 0 1 0 -3.8 0M19.6 39a2.6 2.1 0 1 0 5.1 0a2.6 2.6 0 1 0 -5.1 0M44.9 49.4a2.1 2.5 0 1 0 4.2 0a2.1 2.1 0 1 0 -4.2 0M44.9 -0.6a2.1 1.7 0 1 0 4.2 0a2.1 2.1 0 1 0 -4.2 0M7.1 15.5a3 2.5 0 1 0 6 0a3 3 0 1 0 -6 0M12.5 47.6a2.4 2 0 1 0 4.7 0a2.4 2.4 0 1 0 -4.7 0M20.6 21.6a1.9 2.2 0 1 0 3.8 0a1.9 1.9 0 1 0 -3.8 0M13.5 21a2.1 2.2 0 1 0 4.3 0a2.1 2.1 0 1 0 -4.3 0M17.3 16.4a1.8 1.7 0 1 0 3.7 0a1.8 1.8 0 1 0 -3.7 0M7.1 4.2a2.3 2.6 0 1 0 4.5 0a2.3 2.3 0 1 0 -4.5 0M13.9 45.9a2.9 2.5 0 1 0 5.7 0a2.9 2.9 0 1 0 -5.7 0M40.2 37.3a2.6 2.8 0 1 0 5.2 0a2.6 2.6 0 1 0 -5.2 0M11.5 8.3a2 2.4 0 1 0 4 0a2 2 0 1 0 -4 0M46.9 20.4a2.7 2.8 0 1 0 5.4 0a2.7 2.7 0 1 0 -5.4 0M-3.1 20.4a2.7 3 0 1 0 5.4 0a2.7 2.7 0 1 0 -5.4 0M-0.9 42.6a2.9 2.6 0 1 0 5.8 0a2.9 2.9 0 1 0 -5.8 0M49.1 42.6a2.9 2.9 0 1 0 5.8 0a2.9 2.9 0 1 0 -5.8 0M14.5 23.9a2.1 2.4 0 1 0 4.1 0a2.1 2.1 0 1 0 -4.1 0M47.2 2.5a1.9 1.8 0 1 0 3.8 0a1.9 1.9 0 1 0 -3.8 0M-2.8 2.5a1.9 1.5 0 1 0 3.8 0a1.9 1.9 0 1 0 -3.8 0M15.4 6.8a1.8 1.7 0 1 0 3.7 0a1.8 1.8 0 1 0 -3.7 0M34.9 10.8a1.9 2.1 0 1 0 3.8 0a1.9 1.9 0 1 0 -3.8 0M26.8 13a2.3 2.3 0 1 0 4.7 0a2.3 2.3 0 1 0 -4.7 0M20.8 18.1a1.9 1.9 0 1 0 3.9 0a1.9 1.9 0 1 0 -3.9 0M21.8 9.9a1.9 2.1 0 1 0 3.8 0a1.9 1.9 0 1 0 -3.8 0M30.1 2.3a2 1.7 0 1 0 4 0a2 2 0 1 0 -4 0M4 46.6a2.7 3.1 0 1 0 5.4 0a2.7 2.7 0 1 0 -5.4 0M1.4 48.8a1.9 1.6 0 1 0 3.8 0a1.9 1.9 0 1 0 -3.8 0M1.4 -1.2a1.9 2 0 1 0 3.8 0a1.9 1.9 0 1 0 -3.8 0M9.3 17.2a2 1.7 0 1 0 4.1 0a2 2 0 1 0 -4.1 0M23 17.8a1.9 1.8 0 1 0 3.7 0a1.9 1.9 0 1 0 -3.7 0M16.5 0.7a2.9 3.1 0 1 0 5.7 0a2.9 2.9 0 1 0 -5.7 0M16.5 50.7a2.9 2.9 0 1 0 5.7 0a2.9 2.9 0 1 0 -5.7 0M39.8 21.7a3 3.2 0 1 0 6 0a3 3 0 1 0 -6 0M42.9 8.9a2.3 2.2 0 1 0 4.6 0a2.3 2.3 0 1 0 -4.6 0M-1.5 43a2 2 0 1 0 3.9 0a2 2 0 1 0 -3.9 0M48.5 43a2 2.2 0 1 0 3.9 0a2 2 0 1 0 -3.9 0M42.3 7.3a1.9 1.6 0 1 0 3.7 0a1.9 1.9 0 1 0 -3.7 0M22.5 33.5a2.8 2.7 0 1 0 5.6 0a2.8 2.8 0 1 0 -5.6 0M40.5 21.9a2.5 2.3 0 1 0 5 0a2.5 2.5 0 1 0 -5 0M33.3 30.2a2.2 2.1 0 1 0 4.4 0a2.2 2.2 0 1 0 -4.4 0M33.7 17a2.6 2.7 0 1 0 5.3 0a2.6 2.6 0 1 0 -5.3 0" fill="#3d2068"/></pattern>
<pattern id="pP" width="50" height="50" patternUnits="userSpaceOnUse"><rect width="50" height="50" fill="#e9cdee"/><path d="M19.9 24.4a4.8 5.7 0 1 0 9.6 0a4.8 4.8 0 1 0 -9.6 0M33.7 17.3a6.9 5.8 0 1 0 13.7 0a6.9 6.9 0 1 0 -13.7 0M40.4 26.3a7.9 8.5 0 1 0 15.8 0a7.9 7.9 0 1 0 -15.8 0M-9.6 26.3a7.9 8.6 0 1 0 15.8 0a7.9 7.9 0 1 0 -15.8 0M8.9 43.1a7.7 9.1 0 1 0 15.4 0a7.7 7.7 0 1 0 -15.4 0M8.9 -6.9a7.7 6.4 0 1 0 15.4 0a7.7 7.7 0 1 0 -15.4 0M7.4 31.6a4.7 4.7 0 1 0 9.4 0a4.7 4.7 0 1 0 -9.4 0M5.1 30.8a4.4 4.2 0 1 0 8.8 0a4.4 4.4 0 1 0 -8.8 0M10.3 25.4a5.8 6.2 0 1 0 11.6 0a5.8 5.8 0 1 0 -11.6 0M8.3 41.2a4.7 4.1 0 1 0 9.4 0a4.7 4.7 0 1 0 -9.4 0M-5.7 42.8a7.1 6.4 0 1 0 14.1 0a7.1 7.1 0 1 0 -14.1 0M44.3 42.8a7.1 8.4 0 1 0 14.1 0a7.1 7.1 0 1 0 -14.1 0M35.1 10.9a6.1 6.4 0 1 0 12.3 0a6.1 6.1 0 1 0 -12.3 0" fill="#f5e6f7"/><path d="M12.2 48.8a4.2 4.4 0 1 0 8.3 0a4.2 4.2 0 1 0 -8.3 0M12.2 -1.2a4.2 4.8 0 1 0 8.3 0a4.2 4.2 0 1 0 -8.3 0M4.6 23.1a4.1 4.4 0 1 0 8.2 0a4.1 4.1 0 1 0 -8.2 0M32.2 16.3a4.1 4.3 0 1 0 8.1 0a4.1 4.1 0 1 0 -8.1 0M24.8 47.6a3.9 3.7 0 1 0 7.9 0a3.9 3.9 0 1 0 -7.9 0M24.8 -2.4a3.9 4.1 0 1 0 7.9 0a3.9 3.9 0 1 0 -7.9 0M29.5 5.9a4.3 3.7 0 1 0 8.6 0a4.3 4.3 0 1 0 -8.6 0M9.2 18.3a4.1 4.4 0 1 0 8.2 0a4.1 4.1 0 1 0 -8.2 0M23.8 49.9a4.4 5.2 0 1 0 8.8 0a4.4 4.4 0 1 0 -8.8 0M23.8 -0.1a4.4 4.9 0 1 0 8.8 0a4.4 4.4 0 1 0 -8.8 0M29.2 17.5a2.6 2.7 0 1 0 5.2 0a2.6 2.6 0 1 0 -5.2 0M45.5 27.4a2.9 2.4 0 1 0 5.8 0a2.9 2.9 0 1 0 -5.8 0M-4.5 27.4a2.9 2.5 0 1 0 5.8 0a2.9 2.9 0 1 0 -5.8 0M7.9 11.8a4.4 3.8 0 1 0 8.8 0a4.4 4.4 0 1 0 -8.8 0M26.5 35.3a3.7 3.7 0 1 0 7.3 0a3.7 3.7 0 1 0 -7.3 0M-1.2 16.1a2.8 2.6 0 1 0 5.7 0a2.8 2.8 0 1 0 -5.7 0M48.8 16.1a2.8 3.1 0 1 0 5.7 0a2.8 2.8 0 1 0 -5.7 0M-0.4 40.2a3.9 4.2 0 1 0 7.8 0a3.9 3.9 0 1 0 -7.8 0M49.6 40.2a3.9 3.2 0 1 0 7.8 0a3.9 3.9 0 1 0 -7.8 0M15.7 26.1a3.7 3.2 0 1 0 7.4 0a3.7 3.7 0 1 0 -7.4 0M11 45.6a3.1 2.6 0 1 0 6.2 0a3.1 3.1 0 1 0 -6.2 0M2.8 44.4a4 3.7 0 1 0 8.1 0a4 4 0 1 0 -8.1 0" fill="#b48fd0"/></pattern>
<pattern id="pN" width="50" height="50" patternUnits="userSpaceOnUse"><rect width="50" height="50" fill="#d884b6"/><path d="M44.2 26.3a4.7 4.6 0 1 0 9.4 0a4.7 4.7 0 1 0 -9.4 0M-5.8 26.3a4.7 4.3 0 1 0 9.4 0a4.7 4.7 0 1 0 -9.4 0M8.7 0.2a4.5 4.1 0 1 0 8.9 0a4.5 4.5 0 1 0 -8.9 0M8.7 50.2a4.5 4.8 0 1 0 8.9 0a4.5 4.5 0 1 0 -8.9 0M5 35.5a5.6 4.6 0 1 0 11.1 0a5.6 5.6 0 1 0 -11.1 0M1.4 14.3a6.6 5.8 0 1 0 13.2 0a6.6 6.6 0 1 0 -13.2 0M33.6 35.6a3.4 4.1 0 1 0 6.8 0a3.4 3.4 0 1 0 -6.8 0M3.1 32.4a4.6 5 0 1 0 9.2 0a4.6 4.6 0 1 0 -9.2 0M5.8 37.4a3.4 2.9 0 1 0 6.8 0a3.4 3.4 0 1 0 -6.8 0M9.2 21.1a4.8 4.8 0 1 0 9.7 0a4.8 4.8 0 1 0 -9.7 0M36.7 0.2a4.1 3.4 0 1 0 8.2 0a4.1 4.1 0 1 0 -8.2 0M36.7 50.2a4.1 3.4 0 1 0 8.2 0a4.1 4.1 0 1 0 -8.2 0M33.5 25.9a4.9 4.1 0 1 0 9.9 0a4.9 4.9 0 1 0 -9.9 0" fill="#edb7d6"/><path d="M31.8 46.2a4.3 4.8 0 1 0 8.6 0a4.3 4.3 0 1 0 -8.6 0M31.8 -3.8a4.3 5.1 0 1 0 8.6 0a4.3 4.3 0 1 0 -8.6 0M30.5 15.2a3.9 3.6 0 1 0 7.7 0a3.9 3.9 0 1 0 -7.7 0M10.3 17.5a4.3 4.2 0 1 0 8.6 0a4.3 4.3 0 1 0 -8.6 0M2 35.2a2.8 2.6 0 1 0 5.7 0a2.8 2.8 0 1 0 -5.7 0M31.7 35.5a4 3.4 0 1 0 7.9 0a4 4 0 1 0 -7.9 0M2.6 36.6a2.8 3.1 0 1 0 5.6 0a2.8 2.8 0 1 0 -5.6 0M36.4 19.8a3.9 3.5 0 1 0 7.8 0a3.9 3.9 0 1 0 -7.8 0M13.6 40.9a2.7 2.5 0 1 0 5.3 0a2.7 2.7 0 1 0 -5.3 0M-0.6 18a2.6 3 0 1 0 5.2 0a2.6 2.6 0 1 0 -5.2 0M49.4 18a2.6 2.5 0 1 0 5.2 0a2.6 2.6 0 1 0 -5.2 0M18.8 13.8a4.1 4.6 0 1 0 8.2 0a4.1 4.1 0 1 0 -8.2 0M34.7 2.9a3.2 3.4 0 1 0 6.3 0a3.2 3.2 0 1 0 -6.3 0M34.7 52.9a3.2 3.6 0 1 0 6.3 0a3.2 3.2 0 1 0 -6.3 0M19.8 37a3.1 3.2 0 1 0 6.3 0a3.1 3.1 0 1 0 -6.3 0M24.9 38.8a4.4 5 0 1 0 8.8 0a4.4 4.4 0 1 0 -8.8 0M23.1 38.6a4.3 3.9 0 1 0 8.7 0a4.3 4.3 0 1 0 -8.7 0M19.5 18.1a4.3 4 0 1 0 8.5 0a4.3 4.3 0 1 0 -8.5 0M25 21.6a3.9 3.6 0 1 0 7.8 0a3.9 3.9 0 1 0 -7.8 0M15.6 32.3a3.1 3 0 1 0 6.2 0a3.1 3.1 0 1 0 -6.2 0M30.6 23.5a2.5 2.9 0 1 0 5 0a2.5 2.5 0 1 0 -5 0" fill="#8e3a88"/><path d="M24.2 16.7a3.2 2.7 0 1 0 6.4 0a3.2 3.2 0 1 0 -6.4 0M-3.1 32.3a4.4 3.8 0 1 0 8.8 0a4.4 4.4 0 1 0 -8.8 0M46.9 32.3a4.4 5 0 1 0 8.8 0a4.4 4.4 0 1 0 -8.8 0M0 34.1a5 5.4 0 1 0 9.9 0a5 5 0 1 0 -9.9 0M19.7 12.4a5 5.7 0 1 0 9.9 0a5 5 0 1 0 -9.9 0" fill="#f8eaf2"/></pattern>
<pattern id="pO" width="50" height="50" patternUnits="userSpaceOnUse"><rect width="50" height="50" fill="#dcc0ee"/><path d="M16.2 9.2a3.6 4 0 1 0 7.1 0a3.6 3.6 0 1 0 -7.1 0M37.8 46.1a3.5 3.2 0 1 0 7.1 0a3.5 3.5 0 1 0 -7.1 0M10.6 25.6a4.4 4.7 0 1 0 8.9 0a4.4 4.4 0 1 0 -8.9 0M30.5 22.7a5.9 5.8 0 1 0 11.8 0a5.9 5.9 0 1 0 -11.8 0M11.5 36.1a3.2 2.6 0 1 0 6.3 0a3.2 3.2 0 1 0 -6.3 0M27.1 21.1a5 5.7 0 1 0 10.1 0a5 5 0 1 0 -10.1 0M25.9 33a4.5 4.3 0 1 0 8.9 0a4.5 4.5 0 1 0 -8.9 0M36.1 21.2a3.5 3.4 0 1 0 7 0a3.5 3.5 0 1 0 -7 0M15.7 3.2a3.1 3.5 0 1 0 6.3 0a3.1 3.1 0 1 0 -6.3 0M30.8 15.4a5.9 6.5 0 1 0 11.7 0a5.9 5.9 0 1 0 -11.7 0" fill="#eddcf6"/><path d="M22.6 32.5a2.1 1.7 0 1 0 4.2 0a2.1 2.1 0 1 0 -4.2 0M37 3.4a2.4 2.3 0 1 0 4.8 0a2.4 2.4 0 1 0 -4.8 0M-2.6 17.8a2.7 2.8 0 1 0 5.5 0a2.7 2.7 0 1 0 -5.5 0M47.4 17.8a2.7 2.5 0 1 0 5.5 0a2.7 2.7 0 1 0 -5.5 0M46.7 21.1a2.1 2.3 0 1 0 4.1 0a2.1 2.1 0 1 0 -4.1 0M-3.3 21.1a2.1 2.2 0 1 0 4.1 0a2.1 2.1 0 1 0 -4.1 0M3.1 33.8a2.9 3.4 0 1 0 5.8 0a2.9 2.9 0 1 0 -5.8 0M11.1 33a2.6 2.6 0 1 0 5.2 0a2.6 2.6 0 1 0 -5.2 0M43.4 23.9a2.1 2 0 1 0 4.3 0a2.1 2.1 0 1 0 -4.3 0M3.9 7.5a2.4 2.6 0 1 0 4.8 0a2.4 2.4 0 1 0 -4.8 0M7.4 37.9a2.7 2.3 0 1 0 5.5 0a2.7 2.7 0 1 0 -5.5 0M42.6 42a2.8 2.5 0 1 0 5.5 0a2.8 2.8 0 1 0 -5.5 0M5 47.9a1.9 1.9 0 1 0 3.9 0a1.9 1.9 0 1 0 -3.9 0M-0.1 21.6a1.9 2.1 0 1 0 3.9 0a1.9 1.9 0 1 0 -3.9 0M49.9 21.6a1.9 1.6 0 1 0 3.9 0a1.9 1.9 0 1 0 -3.9 0M42.2 25.4a2.3 2.8 0 1 0 4.7 0a2.3 2.3 0 1 0 -4.7 0M18.4 11.2a2.6 2.1 0 1 0 5.1 0a2.6 2.6 0 1 0 -5.1 0M1.4 40.9a2.4 2.6 0 1 0 4.7 0a2.4 2.4 0 1 0 -4.7 0M13.2 17.5a1.9 1.7 0 1 0 3.8 0a1.9 1.9 0 1 0 -3.8 0M15.8 14.3a2.8 3 0 1 0 5.6 0a2.8 2.8 0 1 0 -5.6 0M31.4 26.8a2.7 2.7 0 1 0 5.4 0a2.7 2.7 0 1 0 -5.4 0M6.8 40.2a2.4 2.4 0 1 0 4.8 0a2.4 2.4 0 1 0 -4.8 0M35.8 40.3a2.5 2.4 0 1 0 5 0a2.5 2.5 0 1 0 -5 0M31.9 33.9a1.9 1.6 0 1 0 3.7 0a1.9 1.9 0 1 0 -3.7 0M11.2 30.3a1.9 2 0 1 0 3.9 0a1.9 1.9 0 1 0 -3.9 0M9.2 22.8a2.5 2.1 0 1 0 4.9 0a2.5 2.5 0 1 0 -4.9 0M28.9 40.7a2.2 2.3 0 1 0 4.4 0a2.2 2.2 0 1 0 -4.4 0M4.5 2.6a1.9 1.8 0 1 0 3.8 0a1.9 1.9 0 1 0 -3.8 0M30.2 14.6a2.2 2.5 0 1 0 4.4 0a2.2 2.2 0 1 0 -4.4 0M25.1 8.7a2.7 2.4 0 1 0 5.4 0a2.7 2.7 0 1 0 -5.4 0M14.3 46a2 2.2 0 1 0 4.1 0a2 2 0 1 0 -4.1 0M27.5 34.8a1.8 1.5 0 1 0 3.7 0a1.8 1.8 0 1 0 -3.7 0M17.3 4.1a1.8 1.9 0 1 0 3.7 0a1.8 1.8 0 1 0 -3.7 0M31.6 12.2a2.3 2.1 0 1 0 4.5 0a2.3 2.3 0 1 0 -4.5 0M0.6 39.6a2.3 2.5 0 1 0 4.5 0a2.3 2.3 0 1 0 -4.5 0M38.5 5.1a2.9 2.9 0 1 0 5.7 0a2.9 2.9 0 1 0 -5.7 0M40.4 11.4a2.9 3 0 1 0 5.8 0a2.9 2.9 0 1 0 -5.8 0M38.2 42.2a2.7 3.1 0 1 0 5.4 0a2.7 2.7 0 1 0 -5.4 0M35.2 11.7a2.3 2.7 0 1 0 4.5 0a2.3 2.3 0 1 0 -4.5 0M44.8 10.4a2.5 2.2 0 1 0 5.1 0a2.5 2.5 0 1 0 -5.1 0M34.7 50a2.8 3.2 0 1 0 5.6 0a2.8 2.8 0 1 0 -5.6 0M34.7 -0a2.8 2.4 0 1 0 5.6 0a2.8 2.8 0 1 0 -5.6 0" fill="#7a55c2"/></pattern>
<pattern id="pQ" width="50" height="50" patternUnits="userSpaceOnUse"><rect width="50" height="50" fill="#b59ae8"/><path d="M5.9 22.2a4 3.4 0 1 0 8.1 0a4 4 0 1 0 -8.1 0M22.8 1.8a4.9 5.1 0 1 0 9.8 0a4.9 4.9 0 1 0 -9.8 0M22.8 51.8a4.9 3.9 0 1 0 9.8 0a4.9 4.9 0 1 0 -9.8 0M23 26a5.4 6.2 0 1 0 10.8 0a5.4 5.4 0 1 0 -10.8 0M18.1 1.3a5.3 4.4 0 1 0 10.5 0a5.3 5.3 0 1 0 -10.5 0M18.1 51.3a5.3 5.4 0 1 0 10.5 0a5.3 5.3 0 1 0 -10.5 0M26 43.4a5.5 5.4 0 1 0 11 0a5.5 5.5 0 1 0 -11 0M42.6 11.6a5.8 5.9 0 1 0 11.5 0a5.8 5.8 0 1 0 -11.5 0M-7.4 11.6a5.8 5.7 0 1 0 11.5 0a5.8 5.8 0 1 0 -11.5 0M0.8 4.6a3.9 3.4 0 1 0 7.9 0a3.9 3.9 0 1 0 -7.9 0M30.3 14a4.1 4.2 0 1 0 8.2 0a4.1 4.1 0 1 0 -8.2 0" fill="#d5c4f4"/><path d="M21.8 42.4a2.5 2.2 0 1 0 5.1 0a2.5 2.5 0 1 0 -5.1 0M13.8 48.4a2.1 1.9 0 1 0 4.2 0a2.1 2.1 0 1 0 -4.2 0M13.8 -1.6a2.1 2.2 0 1 0 4.2 0a2.1 2.1 0 1 0 -4.2 0M28.4 6.9a2 2.1 0 1 0 4 0a2 2 0 1 0 -4 0M3.7 12.9a2 2.2 0 1 0 4 0a2 2 0 1 0 -4 0M41.3 19.3a2.1 1.9 0 1 0 4.2 0a2.1 2.1 0 1 0 -4.2 0M31.2 7.2a2.7 2.8 0 1 0 5.4 0a2.7 2.7 0 1 0 -5.4 0M4.1 35.8a2.4 2.8 0 1 0 4.8 0a2.4 2.4 0 1 0 -4.8 0M17.9 48.2a2.1 2.5 0 1 0 4.1 0a2.1 2.1 0 1 0 -4.1 0M17.9 -1.8a2.1 1.7 0 1 0 4.1 0a2.1 2.1 0 1 0 -4.1 0M43.7 3.8a2.8 3.3 0 1 0 5.6 0a2.8 2.8 0 1 0 -5.6 0M12 31.1a2.7 3.1 0 1 0 5.3 0a2.7 2.7 0 1 0 -5.3 0M2.7 40a2.8 2.4 0 1 0 5.7 0a2.8 2.8 0 1 0 -5.7 0M7.1 47.1a2.5 2.4 0 1 0 5.1 0a2.5 2.5 0 1 0 -5.1 0M19.3 36.7a2.7 2.7 0 1 0 5.3 0a2.7 2.7 0 1 0 -5.3 0M45 41.9a2.6 2.4 0 1 0 5.3 0a2.6 2.6 0 1 0 -5.3 0M-5 41.9a2.6 2.5 0 1 0 5.3 0a2.6 2.6 0 1 0 -5.3 0M28.7 33.7a2 1.7 0 1 0 3.9 0a2 2 0 1 0 -3.9 0M10.3 41.6a2 2.4 0 1 0 4.1 0a2 2 0 1 0 -4.1 0M5.3 33.9a2.6 2.1 0 1 0 5.2 0a2.6 2.6 0 1 0 -5.2 0M28.4 35.6a2.2 2.2 0 1 0 4.4 0a2.2 2.2 0 1 0 -4.4 0M11.1 36.7a2.3 2.2 0 1 0 4.6 0a2.3 2.3 0 1 0 -4.6 0M35.7 39.9a2.3 2.2 0 1 0 4.5 0a2.3 2.3 0 1 0 -4.5 0M35.8 22.5a2.8 2.5 0 1 0 5.6 0a2.8 2.8 0 1 0 -5.6 0M18.4 30.1a2.1 1.7 0 1 0 4.2 0a2.1 2.1 0 1 0 -4.2 0M16 13.3a2.9 2.3 0 1 0 5.8 0a2.9 2.9 0 1 0 -5.8 0M28.6 23.5a2.6 3.1 0 1 0 5.2 0a2.6 2.6 0 1 0 -5.2 0M34.5 23.6a2.1 2.3 0 1 0 4.3 0a2.1 2.1 0 1 0 -4.3 0M30 38.2a2.1 1.9 0 1 0 4.1 0a2.1 2.1 0 1 0 -4.1 0M18.8 46.2a2.1 2 0 1 0 4.1 0a2.1 2.1 0 1 0 -4.1 0M21.2 16.4a2.7 3.2 0 1 0 5.5 0a2.7 2.7 0 1 0 -5.5 0M0.7 26.9a2.7 2.4 0 1 0 5.4 0a2.7 2.7 0 1 0 -5.4 0M45.4 27.7a2.1 2 0 1 0 4.1 0a2.1 2.1 0 1 0 -4.1 0M38.6 17.6a2.8 2.6 0 1 0 5.5 0a2.8 2.8 0 1 0 -5.5 0M1.9 5.7a1.9 1.6 0 1 0 3.7 0a1.9 1.9 0 1 0 -3.7 0M19.5 30.8a2.7 2.8 0 1 0 5.3 0a2.7 2.7 0 1 0 -5.3 0M35.2 46.9a1.9 2 0 1 0 3.9 0a1.9 1.9 0 1 0 -3.9 0M28.6 48.4a2.5 2.8 0 1 0 4.9 0a2.5 2.5 0 1 0 -4.9 0M28.6 -1.6a2.5 2.4 0 1 0 4.9 0a2.5 2.5 0 1 0 -4.9 0M7 45.1a2.9 2.6 0 1 0 5.9 0a2.9 2.9 0 1 0 -5.9 0M18.9 44.8a2.4 2.1 0 1 0 4.9 0a2.4 2.4 0 1 0 -4.9 0M45 27.3a3 2.9 0 1 0 6 0a3 3 0 1 0 -6 0M-5 27.3a3 2.8 0 1 0 6 0a3 3 0 1 0 -6 0M27.9 14.5a2 2.2 0 1 0 4 0a2 2 0 1 0 -4 0M30 41.6a1.9 1.5 0 1 0 3.8 0a1.9 1.9 0 1 0 -3.8 0M20.1 29.2a2.9 2.4 0 1 0 5.8 0a2.9 2.9 0 1 0 -5.8 0M41.9 5.3a2.3 2.4 0 1 0 4.5 0a2.3 2.3 0 1 0 -4.5 0M42.4 15.2a2.1 2 0 1 0 4.2 0a2.1 2.1 0 1 0 -4.2 0M34.3 39.3a2.1 2.1 0 1 0 4.2 0a2.1 2.1 0 1 0 -4.2 0M12.7 9.7a2.8 2.4 0 1 0 5.7 0a2.8 2.8 0 1 0 -5.7 0M19.8 20.1a2 2.1 0 1 0 4.1 0a2 2 0 1 0 -4.1 0M36.5 46.6a2.7 2.4 0 1 0 5.4 0a2.7 2.7 0 1 0 -5.4 0M31.6 3.8a2.1 1.8 0 1 0 4.2 0a2.1 2.1 0 1 0 -4.2 0M18.6 44.9a2.6 2.8 0 1 0 5.2 0a2.6 2.6 0 1 0 -5.2 0M39.5 3.8a2.5 2.4 0 1 0 4.9 0a2.5 2.5 0 1 0 -4.9 0M0 30.5a2.5 2.1 0 1 0 5 0a2.5 2.5 0 1 0 -5 0M3.6 45.7a2.5 2.2 0 1 0 4.9 0a2.5 2.5 0 1 0 -4.9 0M11.1 32a2.8 3 0 1 0 5.7 0a2.8 2.8 0 1 0 -5.7 0M38.6 5.6a2.9 3.4 0 1 0 5.8 0a2.9 2.9 0 1 0 -5.8 0M39.4 27.7a2.5 2 0 1 0 5 0a2.5 2.5 0 1 0 -5 0" fill="#3a2ab0"/></pattern>
<pattern id="pR" width="50" height="50" patternUnits="userSpaceOnUse"><rect width="50" height="50" fill="#dd8fd0"/><path d="M13.3 9.5a6.6 6.9 0 1 0 13.2 0a6.6 6.6 0 1 0 -13.2 0M19.9 34.8a6.4 6.9 0 1 0 12.8 0a6.4 6.4 0 1 0 -12.8 0M3.3 49.6a3.5 3 0 1 0 7 0a3.5 3.5 0 1 0 -7 0M3.3 -0.4a3.5 3 0 1 0 7 0a3.5 3.5 0 1 0 -7 0M17 33.5a3.6 3.1 0 1 0 7.1 0a3.6 3.6 0 1 0 -7.1 0M20 43.1a3.2 3.8 0 1 0 6.5 0a3.2 3.2 0 1 0 -6.5 0M8.5 44a3.9 4.5 0 1 0 7.8 0a3.9 3.9 0 1 0 -7.8 0M43.8 48.8a5.6 6.6 0 1 0 11.2 0a5.6 5.6 0 1 0 -11.2 0M43.8 -1.2a5.6 6.2 0 1 0 11.2 0a5.6 5.6 0 1 0 -11.2 0M-6.2 48.8a5.6 4.5 0 1 0 11.2 0a5.6 5.6 0 1 0 -11.2 0M-6.2 -1.2a5.6 5.6 0 1 0 11.2 0a5.6 5.6 0 1 0 -11.2 0M13.9 19.3a5 5 0 1 0 10 0a5 5 0 1 0 -10 0M14.4 6.9a4.7 4.4 0 1 0 9.4 0a4.7 4.7 0 1 0 -9.4 0M39.1 1a3.5 3.6 0 1 0 7.1 0a3.5 3.5 0 1 0 -7.1 0M39.1 51a3.5 2.9 0 1 0 7.1 0a3.5 3.5 0 1 0 -7.1 0" fill="#f0c0e6"/><path d="M10.8 35.4a3.5 3.3 0 1 0 6.9 0a3.5 3.5 0 1 0 -6.9 0M-1.3 23.2a2.5 2.4 0 1 0 5.1 0a2.5 2.5 0 1 0 -5.1 0M48.7 23.2a2.5 2.7 0 1 0 5.1 0a2.5 2.5 0 1 0 -5.1 0M16.4 17.3a3 3.1 0 1 0 6.1 0a3 3 0 1 0 -6.1 0M25.8 16.8a2.7 2.9 0 1 0 5.4 0a2.7 2.7 0 1 0 -5.4 0M44.6 40a3.4 3.8 0 1 0 6.8 0a3.4 3.4 0 1 0 -6.8 0M-5.4 40a3.4 2.8 0 1 0 6.8 0a3.4 3.4 0 1 0 -6.8 0M13.4 12a2.7 3 0 1 0 5.3 0a2.7 2.7 0 1 0 -5.3 0M33.3 4a2.1 1.9 0 1 0 4.2 0a2.1 2.1 0 1 0 -4.2 0M-0.7 28a2.3 2.7 0 1 0 4.6 0a2.3 2.3 0 1 0 -4.6 0M49.3 28a2.3 2.4 0 1 0 4.6 0a2.3 2.3 0 1 0 -4.6 0M34.7 21.8a2.7 2.3 0 1 0 5.4 0a2.7 2.7 0 1 0 -5.4 0M15.8 48.6a3.4 3.8 0 1 0 6.9 0a3.4 3.4 0 1 0 -6.9 0M15.8 -1.4a3.4 3.7 0 1 0 6.9 0a3.4 3.4 0 1 0 -6.9 0M3.4 49.6a3.3 3.1 0 1 0 6.7 0a3.3 3.3 0 1 0 -6.7 0M3.4 -0.4a3.3 3.5 0 1 0 6.7 0a3.3 3.3 0 1 0 -6.7 0M11.7 44.4a2.4 2.8 0 1 0 4.8 0a2.4 2.4 0 1 0 -4.8 0M42.7 9.5a3.1 2.5 0 1 0 6.2 0a3.1 3.1 0 1 0 -6.2 0M13.7 10a2.6 2.7 0 1 0 5.2 0a2.6 2.6 0 1 0 -5.2 0M6.5 26.5a2.6 2.8 0 1 0 5.2 0a2.6 2.6 0 1 0 -5.2 0M31.7 12.3a3.3 2.7 0 1 0 6.6 0a3.3 3.3 0 1 0 -6.6 0" fill="#4a2a9a"/><path d="M43 18.3a2.9 3.4 0 1 0 5.9 0a2.9 2.9 0 1 0 -5.9 0M13.9 22.1a4.1 3.9 0 1 0 8.1 0a4.1 4.1 0 1 0 -8.1 0M37.3 16.7a3.2 2.9 0 1 0 6.4 0a3.2 3.2 0 1 0 -6.4 0M15.7 9.2a2.9 2.7 0 1 0 5.8 0a2.9 2.9 0 1 0 -5.8 0M44.3 36.8a4.3 5 0 1 0 8.6 0a4.3 4.3 0 1 0 -8.6 0M-5.7 36.8a4.3 3.8 0 1 0 8.6 0a4.3 4.3 0 1 0 -8.6 0" fill="#f8eaf6"/></pattern>
<filter id="bl" x="-20%" y="-20%" width="140%" height="140%"><feGaussianBlur stdDeviation="0.9"/></filter>
<filter id="bl2" x="-20%" y="-20%" width="140%" height="140%"><feGaussianBlur stdDeviation="1.8"/></filter>
</defs>
<path d="M158 78 H286 V171 C286 208 264 232 222 251 C180 232 158 208 158 171 Z" fill="#84161f"/>
<path d="M163 129.3 H281.5 V171 C281.5 205 261 227 222 245 C183 227 163 205 163 171 Z" fill="#d9ccb2"/>
<line x1="163.5" y1="83" x2="281" y2="83" stroke="#c9a58f" stroke-width="1.1"/>
<line x1="163.5" y1="108.9" x2="281" y2="108.9" stroke="#c9a58f" stroke-width="1.1"/>
<line x1="163.5" y1="124.3" x2="281" y2="124.3" stroke="#c9a58f" stroke-width="1.1"/>
<text x="222.3" y="104.3" font-size="23.5" fill="#eadfc8" text-anchor="middle" textLength="106" lengthAdjust="spacing">KOREA</text>
<text x="222.3" y="121" font-size="11.2" fill="#eadfc8" text-anchor="middle" textLength="107" lengthAdjust="spacing">UNIVERSITY</text>
<text x="222.5" y="231.5" font-size="9.5" font-family='"Liberation Serif", serif' fill="#84161f" text-anchor="middle" font-weight="bold">1905</text>
<polygon points="197.59,159.1 204.28,152.41 212.32,147.05 223.03,142.36 233.75,139.68 245.8,139.01 255.17,141.02 268.57,146.38 265.89,153.75 261.2,159.1 263.88,159.77 258.52,165.8 259.19,173.83 255.17,176.51 253.83,186.56 250.49,183.21 249.15,191.24 245.8,193.92 249.82,200.62 245.13,205.31 238.43,201.29 233.75,198.61 229.06,205.98 227.72,212.67 223.03,216.02 216.34,217.36 211.65,214.01 209.64,207.31 206.29,201.96 202.94,195.26 197.59,193.25 193.57,188.57 185.53,185.22 184.19,181.2 190.89,177.85 193.57,171.16 194.91,164.46" fill="#84161f" stroke="#84161f" stroke-width="0.8" stroke-linejoin="round"/>
<polygon points="202.94,161.78 212.32,153.75 220.35,151.07 219.01,156.42 210.98,161.78 204.28,169.82 198.93,175.17 200.27,167.14" fill="#d9ccb2"/>
<polygon points="220.35,159.1 225.71,152.41 227.05,161.78 225.71,180.53 221.69,191.24 219.01,180.53 220.35,169.82" fill="#d9ccb2"/>
<polygon points="231.07,153.75 236.42,148.39 239.1,161.78 237.76,177.85 233.75,184.55 232.41,169.82" fill="#d9ccb2"/>
<polygon points="241.78,152.41 251.16,148.39 257.85,151.07 251.16,156.42 245.8,161.78 243.12,159.1" fill="#d9ccb2"/>
<polygon points="206.96,185.89 215,182.54 218.34,188.57 219.01,199.28 215,204.64 212.32,197.94 208.97,192.58" fill="#d9ccb2"/>
<polygon points="215,208.65 223.03,205.98 225.71,209.99 220.35,214.01 215.67,212.67" fill="#d9ccb2"/>
<polygon points="196.25,180.53 204.28,176.51 209.64,177.85 202.94,183.21 197.59,185.89" fill="#d9ccb2"/>
<polygon points="241.78,167.14 245.8,164.46 247.14,175.17 244.46,185.89 241.78,180.53" fill="#d9ccb2"/>
<polygon points="236.42,188.57 241.78,191.24 239.1,196.6 233.75,193.92" fill="#d9ccb2"/>
<polygon points="225.71,145.71 233.75,143.03 241.78,142.36 236.42,145.71 228.39,148.39" fill="#d9ccb2"/>
<line x1="186.2" y1="182.54" x2="171.47" y2="177.85" stroke="#84161f" stroke-width="0.7"/>
<line x1="186.2" y1="183.88" x2="170.8" y2="182.54" stroke="#84161f" stroke-width="0.7"/>
<line x1="186.87" y1="185.22" x2="172.81" y2="187.23" stroke="#84161f" stroke-width="0.7"/>
<line x1="188.21" y1="186.56" x2="175.49" y2="191.24" stroke="#84161f" stroke-width="0.7"/>
<line x1="196.25" y1="180.53" x2="202.94" y2="176.51" stroke="#84161f" stroke-width="0.7"/>
<text x="319.5" y="164.5" font-size="104" fill="#84161f" textLength="351" lengthAdjust="spacingAndGlyphs" stroke="#84161f" stroke-width="1.2">KOREA</text>
<text x="321.5" y="223" font-size="55" fill="#84161f" textLength="351" lengthAdjust="spacingAndGlyphs" stroke="#84161f" stroke-width="1.1">UNIVERSITY</text>
<path d="M2973.67 51.1 Q3000.78 78.21 3015.14 47.91" fill="none" stroke="#6b458e" stroke-width="6.5" stroke-linecap="round"/>
<path d="M2933.8 71.83 Q2962.9 81.4 2990.41 90.97" fill="none" stroke="#6b458e" stroke-width="6.5" stroke-linecap="round"/>
<path d="M2965.69 79.81 L2966.01 110.11" fill="none" stroke="#6b458e" stroke-width="6.5" stroke-linecap="round"/>
<path d="M2988.02 67.85 L3016.73 83" fill="none" stroke="#6b458e" stroke-width="6.5" stroke-linecap="round"/>
<path d="M3049.43 59.07 Q3047.83 94.8 3071.75 81.4" fill="none" stroke="#6b458e" stroke-width="6.5" stroke-linecap="round"/>
<path d="M2903.81 113.3 Q2925.82 125.26 2895.52 143.6" fill="none" stroke="#956ca9" stroke-width="6.5" stroke-linecap="round"/>
<path d="M2932.52 160.35 Q2947.59 185.87 2901.1 179.49" fill="none" stroke="#956ca9" stroke-width="6.5" stroke-linecap="round"/>
<path d="M2932.2 177.89 L2926.62 211.39" fill="none" stroke="#956ca9" stroke-width="6.5" stroke-linecap="round"/>
<path d="M2951.34 178.69 Q2943.37 217.37 2980.05 190.65" fill="none" stroke="#956ca9" stroke-width="6.5" stroke-linecap="round"/>
<path d="M2954.53 201.02 L2963.3 234.51" fill="none" stroke="#956ca9" stroke-width="6.5" stroke-linecap="round"/>
<ellipse cx="2995.2" cy="47.91" rx="6.7" ry="8.29" fill="#6b458e" transform="rotate(-20 2995.2 47.91)"/>
<ellipse cx="3015.14" cy="47.91" rx="6.06" ry="8.77" fill="#6b458e" transform="rotate(10 3015.14 47.91)"/>
<ellipse cx="3033.48" cy="51.9" rx="5.1" ry="7.66" fill="#6b458e" transform="rotate(-10 3033.48 51.9)"/>
<ellipse cx="3049.43" cy="59.07" rx="3.99" ry="6.38" fill="#6b458e" transform="rotate(-15 3049.43 59.07)"/>
<ellipse cx="3061.39" cy="68.64" rx="3.51" ry="5.58" fill="#6b458e" transform="rotate(10 3061.39 68.64)"/>
<ellipse cx="2973.67" cy="51.1" rx="6.38" ry="6.06" fill="#6b458e" transform="rotate(30 2973.67 51.1)"/>
<ellipse cx="2953.73" cy="62.26" rx="7.66" ry="8.29" fill="#6b458e" transform="rotate(-30 2953.73 62.26)"/>
<ellipse cx="2933.8" cy="71.83" rx="6.7" ry="6.06" fill="#6b458e" transform="rotate(20 2933.8 71.83)"/>
<ellipse cx="2924.23" cy="90.18" rx="8.29" ry="7.18" fill="#6b458e" transform="rotate(20 2924.23 90.18)"/>
<ellipse cx="2923.43" cy="111.71" rx="8.29" ry="6.7" fill="#6b458e" transform="rotate(15 2923.43 111.71)"/>
<ellipse cx="2948.15" cy="101.34" rx="6.7" ry="5.58" fill="#6b458e" transform="rotate(25 2948.15 101.34)"/>
<ellipse cx="2983.24" cy="73.43" rx="5.58" ry="6.06" fill="#6b458e" transform="rotate(-20 2983.24 73.43)"/>
<ellipse cx="2980.05" cy="99.27" rx="4.47" ry="4.78" fill="#6b458e" transform="rotate(0 2980.05 99.27)"/>
<ellipse cx="3003.97" cy="85.71" rx="4.15" ry="4.78" fill="#6b458e" transform="rotate(0 3003.97 85.71)"/>
<ellipse cx="3015.45" cy="67.05" rx="4.47" ry="6.06" fill="#6b458e" transform="rotate(0 3015.45 67.05)"/>
<ellipse cx="3030.77" cy="69.44" rx="3.83" ry="5.1" fill="#6b458e" transform="rotate(0 3030.77 69.44)"/>
<ellipse cx="3043.84" cy="75.02" rx="3.19" ry="4.47" fill="#6b458e" transform="rotate(15 3043.84 75.02)"/>
<ellipse cx="3028.69" cy="83" rx="2.87" ry="3.83" fill="#6b458e" transform="rotate(0 3028.69 83)"/>
<ellipse cx="3016.73" cy="83" rx="3.51" ry="4.15" fill="#6b458e" transform="rotate(-30 3016.73 83)"/>
<ellipse cx="3079.73" cy="89.7" rx="2.23" ry="3.83" fill="#6b458e" transform="rotate(-20 3079.73 89.7)"/>
<ellipse cx="3085.63" cy="96.87" rx="1.59" ry="2.55" fill="#6b458e" transform="rotate(-20 3085.63 96.87)"/>
<ellipse cx="2966.01" cy="110.11" rx="4.78" ry="4.47" fill="#6b458e" transform="rotate(0 2966.01 110.11)"/>
<ellipse cx="3071.75" cy="81.4" rx="3.19" ry="4.47" fill="#6b458e" transform="rotate(-30 3071.75 81.4)"/>
<ellipse cx="3054.21" cy="83" rx="2.23" ry="2.23" fill="#6b458e" transform="rotate(0 3054.21 83)"/>
<ellipse cx="2910.67" cy="93.05" rx="2.55" ry="1.59" fill="#956ca9" transform="rotate(-15 2910.67 93.05)"/>
<ellipse cx="2907" cy="101.82" rx="3.99" ry="2.55" fill="#956ca9" transform="rotate(-10 2907 101.82)"/>
<ellipse cx="2903.81" cy="113.3" rx="4.78" ry="3.51" fill="#956ca9" transform="rotate(10 2903.81 113.3)"/>
<ellipse cx="2898.39" cy="127.97" rx="5.42" ry="3.83" fill="#956ca9" transform="rotate(-15 2898.39 127.97)"/>
<ellipse cx="2911.79" cy="139.94" rx="4.47" ry="3.51" fill="#956ca9" transform="rotate(-15 2911.79 139.94)"/>
<ellipse cx="2895.52" cy="143.6" rx="6.06" ry="4.15" fill="#956ca9" transform="rotate(-25 2895.52 143.6)"/>
<ellipse cx="2926.3" cy="149.19" rx="3.51" ry="3.19" fill="#956ca9" transform="rotate(-10 2926.3 149.19)"/>
<ellipse cx="2913.38" cy="153.97" rx="4.78" ry="3.83" fill="#956ca9" transform="rotate(-15 2913.38 153.97)"/>
<ellipse cx="2896.32" cy="160.35" rx="6.7" ry="5.1" fill="#956ca9" transform="rotate(-20 2896.32 160.35)"/>
<ellipse cx="2932.52" cy="160.35" rx="3.99" ry="3.99" fill="#956ca9" transform="rotate(0 2932.52 160.35)"/>
<ellipse cx="2919.44" cy="168.33" rx="5.58" ry="4.78" fill="#956ca9" transform="rotate(-15 2919.44 168.33)"/>
<ellipse cx="2940.97" cy="169.6" rx="4.47" ry="4.15" fill="#956ca9" transform="rotate(0 2940.97 169.6)"/>
<ellipse cx="2901.1" cy="179.49" rx="6.38" ry="5.58" fill="#956ca9" transform="rotate(0 2901.1 179.49)"/>
<ellipse cx="2951.34" cy="178.69" rx="4.47" ry="4.47" fill="#956ca9" transform="rotate(0 2951.34 178.69)"/>
<ellipse cx="2964.1" cy="183.96" rx="4.47" ry="4.78" fill="#956ca9" transform="rotate(0 2964.1 183.96)"/>
<ellipse cx="2980.05" cy="190.65" rx="4.47" ry="4.15" fill="#956ca9" transform="rotate(0 2980.05 190.65)"/>
<ellipse cx="2912.26" cy="196.24" rx="7.66" ry="6.7" fill="#956ca9" transform="rotate(-30 2912.26 196.24)"/>
<ellipse cx="2940.65" cy="193.52" rx="5.74" ry="5.42" fill="#956ca9" transform="rotate(-20 2940.65 193.52)"/>
<ellipse cx="2926.62" cy="211.39" rx="7.18" ry="8.77" fill="#956ca9" transform="rotate(20 2926.62 211.39)"/>
<ellipse cx="2981.16" cy="211.39" rx="5.42" ry="6.7" fill="#956ca9" transform="rotate(-10 2981.16 211.39)"/>
<ellipse cx="2944.96" cy="225.74" rx="7.18" ry="8.77" fill="#956ca9" transform="rotate(20 2944.96 225.74)"/>
<ellipse cx="3003.17" cy="228.13" rx="6.7" ry="8.77" fill="#956ca9" transform="rotate(0 3003.17 228.13)"/>
<ellipse cx="2963.3" cy="234.51" rx="7.18" ry="10.37" fill="#956ca9" transform="rotate(10 2963.3 234.51)"/>
<ellipse cx="2983.24" cy="238.02" rx="7.18" ry="9.25" fill="#956ca9" transform="rotate(10 2983.24 238.02)"/>
<text x="2987" y="138.5" font-size="33.5" fill="#34373d" textLength="387" lengthAdjust="spacingAndGlyphs" stroke="#34373d" stroke-width="0.9">NEURAL INFORMATION</text>
<text x="2988" y="174" font-size="33.5" fill="#34373d" textLength="385" lengthAdjust="spacingAndGlyphs" stroke="#34373d" stroke-width="0.9">PROCESSING SYSTEMS</text>
<polygon points="413.49,629.49 407.91,654.05 404.56,667.45 394.51,676.38 388.93,685.31 392.28,693.12 406.79,698.71 410.14,708.75 417.95,702.05 433.58,699.82 435.82,723.26 434.7,745.59 428,760.1 432.47,771.27 425.77,785.78 448.1,785.78 462.61,765.68 470.42,762.34 478.24,773.5 487.17,796.94 496.1,828.2 509.49,827.08 510.61,822.62 519.54,815.92 527.35,827.08 549.68,825.97 578.71,802.52 586.52,800.29 589.87,808.1 601.03,800.29 616.66,799.17 621.13,828.2 642.34,837.13 645.68,827.08 653.5,817.04 671.36,809.22 691.45,801.41 707.08,788.01 714.9,771.27 724.94,766.8 724.94,758.99 710.43,754.52 705.97,745.59 718.25,723.26 721.59,712.1 746.15,702.05 743.92,677.49 738.34,676.38 737.22,668.56 721.59,676.38 697.04,683.08 690.34,694.24 683.64,689.77 674.71,678.61 678.06,669.68 679.17,654.05 688.1,642.89 692.57,625.03 689.22,614.98 681.41,613.86 681.41,607.17 689.22,598.24 686.99,584.84 678.06,581.49 676.94,551.35 671.36,543.54 675.82,530.14 668.01,529.02 654.61,520.09 640.1,529.02 621.13,524.56 618.89,518.98 603.26,521.21 601.03,535.72 587.64,540.19 578.71,560.28 577.59,589.31 558.61,597.12 559.73,579.26 542.98,565.86 534.05,574.79 525.12,578.14 513.29,578.14 511.73,604.93 508.38,611.63 507.26,633.96 496.1,645.12 489.4,644.01 478.24,654.05 465.96,659.63 462.61,660.75 435.82,645.12 421.3,632.84" fill="#808080" stroke="#808080" stroke-width="1.5" stroke-linejoin="round"/>
<polyline points="599.92,535.72 598.8,566.98 616.66,584.84 632.29,598.24 636.75,596 640.1,566.98 636.75,544.65 640.1,529.02" fill="none" stroke="#e3e3e3" stroke-width="1"/>
<polyline points="577.59,591.54 589.87,600.47 601.03,609.4 604.38,620.56 625.59,621.68 634.52,607.17 632.29,598.24" fill="none" stroke="#e3e3e3" stroke-width="1"/>
<polyline points="634.52,607.17 653.5,620.56 681.41,613.86" fill="none" stroke="#e3e3e3" stroke-width="1"/>
<polyline points="653.5,620.56 655.73,647.35 657.96,671.91 678.06,669.68" fill="none" stroke="#e3e3e3" stroke-width="1"/>
<polyline points="568.66,596 574.24,607.17 578.71,625.03 574.24,638.42 589.87,642.89 598.8,660.75 611.08,662.98 612.19,656.28" fill="none" stroke="#e3e3e3" stroke-width="1"/>
<polyline points="558.61,597.12 550.8,607.17 549.68,633.96 555.26,645.12 551.91,660.75 560.84,675.26 575.36,669.68 580.94,673.03 609.96,670.8 611.08,662.98" fill="none" stroke="#e3e3e3" stroke-width="1"/>
<polyline points="489.4,644.01 511.73,649.59 527.35,647.35 540.75,631.73 548.56,628.38" fill="none" stroke="#e3e3e3" stroke-width="1"/>
<polyline points="522.89,674.15 534.05,683.08 551.91,684.19 560.84,675.26" fill="none" stroke="#e3e3e3" stroke-width="1"/>
<polyline points="554.15,683.08 557.49,693.12 580.94,692.01 597.68,698.71 609.96,676.38 609.96,670.8" fill="none" stroke="#e3e3e3" stroke-width="1"/>
<polyline points="609.96,671.91 630.06,673.03 633.4,678.61 652.38,685.31 657.96,671.91" fill="none" stroke="#e3e3e3" stroke-width="1"/>
<polyline points="652.38,685.31 647.92,700.94 641.22,712.1 640.1,721.03" fill="none" stroke="#e3e3e3" stroke-width="1"/>
<polyline points="597.68,698.71 601.03,712.1" fill="none" stroke="#e3e3e3" stroke-width="1"/>
<polyline points="557.49,693.12 551.91,705.4 540.75,716.57" fill="none" stroke="#e3e3e3" stroke-width="1"/>
<polyline points="433.58,699.82 440.28,697.59 446.98,712.1 458.14,716.57 468.19,707.64 471.54,696.47 481.59,695.36" fill="none" stroke="#e3e3e3" stroke-width="1"/>
<polyline points="481.59,692.01 489.4,709.87 483.82,721.03 482.7,736.66 476,745.59 442.51,745.59 433.58,740.01" fill="none" stroke="#e3e3e3" stroke-width="1"/>
<polyline points="482.7,736.66 490.52,743.36 496.1,767.92 502.8,773.5 503.91,765.68 516.19,758.99 522.89,732.19 527.35,729.96" fill="none" stroke="#e3e3e3" stroke-width="1"/>
<polyline points="477.12,772.83 491.63,772.83 496.1,767.92" fill="none" stroke="#e3e3e3" stroke-width="1"/>
<polyline points="502.8,773.5 509.49,779.08 510.61,799.17 518.42,814.8" fill="none" stroke="#e3e3e3" stroke-width="1"/>
<polyline points="503.91,765.68 520.66,762.34 545.22,762.34 553.03,765.68 556.38,776.85" fill="none" stroke="#e3e3e3" stroke-width="1"/>
<polyline points="563.08,744.47 572.01,752.29 574.24,761.22 572.01,788.01 580.94,801.41" fill="none" stroke="#e3e3e3" stroke-width="1"/>
<polyline points="597.68,725.5 604.38,738.89 609.96,752.29 611.08,765.68 623.36,776.85 631.17,798.06 641.22,795.82 650.15,788.01 659.08,789.13 663.55,799.17 671.36,806.99" fill="none" stroke="#e3e3e3" stroke-width="1"/>
<polyline points="646.8,729.96 646.8,745.59 654.61,756.75 668.01,763.45 685.87,774.61 688.1,788.01 695.92,798.06" fill="none" stroke="#e3e3e3" stroke-width="1"/>
<polyline points="690.34,700.94 694.8,707.64 692.57,718.8 701.5,729.96 710.43,734.43" fill="none" stroke="#e3e3e3" stroke-width="1"/>
<path d="M463.72 659.63C466.89 664.1 475.82 679.54 482.7 686.43C489.59 693.31 498.33 697.22 505.03 700.94C511.73 704.66 516.94 705.4 522.89 708.75C528.84 712.1 535.54 716.19 540.75 721.03C545.96 725.87 550.8 734.35 554.15 737.78C557.49 741.2 557.12 740.94 560.84 741.57C564.57 742.2 572.01 743.13 576.47 741.57C580.94 740.01 583.54 736.06 587.64 732.19C591.73 728.32 596.94 721.25 601.03 718.35C605.12 715.45 608.47 715.26 612.19 714.78C615.92 714.3 619.26 714.41 623.36 715.45C627.45 716.49 632.66 719.36 636.75 721.03C640.85 722.71 642.71 724.75 647.92 725.5C653.13 726.24 662.99 727.17 668.01 725.5C673.03 723.82 675.27 719.54 678.06 715.45C680.85 711.36 683.16 705.22 684.76 700.94C686.36 696.66 687.17 691.64 687.66 689.77" fill="none" stroke="#fff" stroke-width="7.4" stroke-linecap="butt"/>
<path d="M519.54 710.98 Q520.66 723.26 527.35 730.41 L541.87 730.41" fill="none" stroke="#fff" stroke-width="3.6"/>
<path d="M234 506 H362 a8 8 0 0 1 8 8 V581.5 a8 8 0 0 1 -8 8 H151 a8 8 0 0 1 -8 -8 V514 a8 8 0 0 1 8 -8 H163" fill="#fff" stroke="#000" stroke-width="3"/>
<svg x="155.7" y="529" width="48.7" height="48.3" viewBox="17 29 62.44 61.92" preserveAspectRatio="none"><rect x="0" y="0" width="122.44" height="121.92" fill="url(#pA)"/></svg>
<svg x="205.2" y="529" width="48.7" height="48.3" viewBox="34 8 62.44 61.92" preserveAspectRatio="none"><rect x="0" y="0" width="122.44" height="121.92" fill="url(#pB)"/></svg>
<svg x="254.7" y="529" width="48.7" height="48.3" viewBox="1 37 62.44 61.92" preserveAspectRatio="none"><rect x="0" y="0" width="122.44" height="121.92" fill="url(#pAB)"/></svg>
<svg x="304.2" y="529" width="48.7" height="48.3" viewBox="18 16 62.44 61.92" preserveAspectRatio="none"><rect x="0" y="0" width="122.44" height="121.92" fill="url(#pB2)"/></svg>
<rect x="163.01" y="479.8" width="40.05" height="40.56" fill="#f3f5f6"/>
<rect x="163.01" y="479.8" width="40.05" height="1.02" fill="#e2e6e8"/>
<rect x="163.78" y="485.92" width="29.59" height="19.9" fill="#3aa0de"/>
<rect x="163.01" y="507.09" width="30.36" height="2.81" fill="#3aa0de"/>
<rect x="164.03" y="513.21" width="5.61" height="4.59" fill="#3aa0de"/>
<rect x="171.94" y="513.21" width="5.61" height="4.59" fill="#3aa0de"/>
<rect x="188.27" y="513.21" width="5.61" height="4.59" fill="#3aa0de"/>
<rect x="179.08" y="513.21" width="7.65" height="6.89" fill="#4aaee6"/>
<rect x="196.94" y="488.72" width="2.81" height="2.45" fill="#3aa0de"/>
<rect x="196.94" y="494.59" width="2.81" height="2.45" fill="#3aa0de"/>
<rect x="196.94" y="500.46" width="2.81" height="2.45" fill="#3aa0de"/>
<rect x="196.94" y="506.33" width="2.81" height="2.45" fill="#3aa0de"/>
<rect x="196.94" y="511.94" width="2.81" height="2.45" fill="#3aa0de"/>
<rect x="168.62" y="474.44" width="20.41" height="4.34" fill="#2f77c6"/>
<text x="178.83" y="477.86" font-size="3.1" fill="#fff" text-anchor="middle" font-weight="bold">HOSPITAL</text>
<circle cx="194.39" cy="476.84" r="2.86" fill="#ee2222"/>
<rect x="193.37" y="475.46" width="2.04" height="2.81" fill="#fff"/>
<rect x="192.96" y="476.33" width="2.86" height="1.07" fill="#fff"/>
<rect x="203.06" y="487.45" width="30.87" height="32.91" fill="#f4f6f7"/>
<rect x="203.06" y="487.45" width="30.87" height="1.28" fill="#d5d9dc"/>
<polygon points="203.06,488.72 207.65,488.72 216.84,520.36 203.06,520.36" fill="#dfe3e6"/>
<rect x="204.85" y="489.74" width="1.79" height="2.04" fill="#3aa0de"/>
<rect x="207.81" y="489.74" width="1.79" height="2.04" fill="#3aa0de"/>
<rect x="210.77" y="489.74" width="1.79" height="2.04" fill="#3aa0de"/>
<rect x="213.72" y="489.74" width="1.79" height="2.04" fill="#3aa0de"/>
<rect x="221.17" y="489.74" width="1.79" height="2.04" fill="#3aa0de"/>
<rect x="224.13" y="489.74" width="1.79" height="2.04" fill="#3aa0de"/>
<rect x="227.09" y="489.74" width="1.79" height="2.04" fill="#3aa0de"/>
<rect x="230.05" y="489.74" width="1.79" height="2.04" fill="#3aa0de"/>
<ellipse cx="218.27" cy="493.06" rx="1.22" ry="0.82" fill="#3aa0de"/>
<rect x="204.85" y="494.59" width="1.79" height="2.04" fill="#3aa0de"/>
<rect x="207.81" y="494.59" width="1.79" height="2.04" fill="#3aa0de"/>
<rect x="210.77" y="494.59" width="1.79" height="2.04" fill="#3aa0de"/>
<rect x="213.72" y="494.59" width="1.79" height="2.04" fill="#3aa0de"/>
<rect x="221.17" y="494.59" width="1.79" height="2.04" fill="#3aa0de"/>
<rect x="224.13" y="494.59" width="1.79" height="2.04" fill="#3aa0de"/>
<rect x="227.09" y="494.59" width="1.79" height="2.04" fill="#3aa0de"/>
<rect x="230.05" y="494.59" width="1.79" height="2.04" fill="#3aa0de"/>
<ellipse cx="218.27" cy="497.91" rx="1.22" ry="0.82" fill="#3aa0de"/>
<rect x="204.85" y="499.44" width="1.79" height="2.04" fill="#3aa0de"/>
<rect x="207.81" y="499.44" width="1.79" height="2.04" fill="#3aa0de"/>
<rect x="210.77" y="499.44" width="1.79" height="2.04" fill="#3aa0de"/>
<rect x="213.72" y="499.44" width="1.79" height="2.04" fill="#3aa0de"/>
<rect x="221.17" y="499.44" width="1.79" height="2.04" fill="#3aa0de"/>
<rect x="224.13" y="499.44" width="1.79" height="2.04" fill="#3aa0de"/>
<rect x="227.09" y="499.44" width="1.79" height="2.04" fill="#3aa0de"/>
<rect x="230.05" y="499.44" width="1.79" height="2.04" fill="#3aa0de"/>
<ellipse cx="218.27" cy="502.76" rx="1.22" ry="0.82" fill="#3aa0de"/>
<rect x="204.85" y="504.29" width="1.79" height="2.04" fill="#3aa0de"/>
<rect x="207.81" y="504.29" width="1.79" height="2.04" fill="#3aa0de"/>
<rect x="210.77" y="504.29" width="1.79" height="2.04" fill="#3aa0de"/>
<rect x="213.72" y="504.29" width="1.79" height="2.04" fill="#3aa0de"/>
<rect x="221.17" y="504.29" width="1.79" height="2.04" fill="#3aa0de"/>
<rect x="224.13" y="504.29" width="1.79" height="2.04" fill="#3aa0de"/>
<rect x="227.09" y="504.29" width="1.79" height="2.04" fill="#3aa0de"/>
<rect x="230.05" y="504.29" width="1.79" height="2.04" fill="#3aa0de"/>
<ellipse cx="218.27" cy="507.6" rx="1.22" ry="0.82" fill="#3aa0de"/>
<rect x="204.85" y="509.13" width="1.79" height="2.04" fill="#3aa0de"/>
<rect x="207.81" y="509.13" width="1.79" height="2.04" fill="#3aa0de"/>
<rect x="210.77" y="509.13" width="1.79" height="2.04" fill="#3aa0de"/>
<rect x="213.72" y="509.13" width="1.79" height="2.04" fill="#3aa0de"/>
<rect x="221.17" y="509.13" width="1.79" height="2.04" fill="#3aa0de"/>
<rect x="224.13" y="509.13" width="1.79" height="2.04" fill="#3aa0de"/>
<rect x="227.09" y="509.13" width="1.79" height="2.04" fill="#3aa0de"/>
<rect x="230.05" y="509.13" width="1.79" height="2.04" fill="#3aa0de"/>
<ellipse cx="218.27" cy="512.45" rx="1.22" ry="0.82" fill="#3aa0de"/>
<rect x="204.85" y="513.98" width="1.79" height="2.04" fill="#3aa0de"/>
<rect x="207.81" y="513.98" width="1.79" height="2.04" fill="#3aa0de"/>
<rect x="210.77" y="513.98" width="1.79" height="2.04" fill="#3aa0de"/>
<rect x="213.72" y="513.98" width="1.79" height="2.04" fill="#3aa0de"/>
<ellipse cx="218.27" cy="517.3" rx="1.22" ry="0.82" fill="#3aa0de"/>
<rect x="162.24" y="520" width="72.45" height="1.02" fill="#6f7477"/>
<path d="M189 659.6 H308 a8 8 0 0 1 8 8 V735.8 a8 8 0 0 1 -8 8 H97 a8 8 0 0 1 -8 -8 V667.6 a8 8 0 0 1 8 -8 H117" fill="#fff" stroke="#000" stroke-width="3"/>
<svg x="99" y="680" width="50.7" height="51.6" viewBox="35 45 65 66.15" preserveAspectRatio="none"><rect x="0" y="0" width="125" height="126.15" fill="url(#pD)"/></svg>
<svg x="150.5" y="680" width="50.7" height="51.6" viewBox="2 24 65 66.15" preserveAspectRatio="none"><rect x="0" y="0" width="125" height="126.15" fill="url(#pC)"/></svg>
<svg x="202" y="680" width="50.7" height="51.6" viewBox="19 3 65 66.15" preserveAspectRatio="none"><rect x="0" y="0" width="125" height="126.15" fill="url(#pD2)"/></svg>
<svg x="253.5" y="680" width="50.7" height="51.6" viewBox="36 32 65 66.15" preserveAspectRatio="none"><rect x="0" y="0" width="125" height="126.15" fill="url(#pD)"/></svg>
<rect x="167.14" y="620.97" width="13.52" height="42.09" fill="#dde6ee"/>
<rect x="168.16" y="623.27" width="7.14" height="37.76" fill="#1f90b8"/>
<rect x="135" y="620.2" width="16.33" height="7.65" fill="#dfe5ea"/>
<rect x="136.28" y="620.46" width="12.76" height="1.53" fill="#1f5f8f"/>
<polygon points="130.15,617.65 155.92,617.65 155.92,619.69 130.15,619.69" fill="#36bfe0"/>
<polygon points="130.92,619.69 135.51,619.69 135.51,627.35 133.98,627.35" fill="#c9d2da"/>
<rect x="151.84" y="624.8" width="7.65" height="2.04" fill="#1f6fa5"/>
<rect x="114.08" y="630.41" width="57.65" height="23.47" fill="#eef1f4"/>
<rect x="114.08" y="630.41" width="57.65" height="3.57" fill="#e2e7ec"/>
<rect x="119.69" y="634.74" width="46.94" height="4.34" fill="#dfe8ef"/>
<rect x="125.31" y="634.74" width="8.42" height="4.34" fill="#3b86b8"/>
<rect x="129.94" y="634.74" width="3.79" height="4.34" fill="#3ea3d6"/>
<rect x="135.26" y="634.74" width="15.56" height="4.34" fill="#3b86b8"/>
<rect x="143.81" y="634.74" width="7" height="4.34" fill="#3ea3d6"/>
<rect x="152.86" y="634.74" width="11.22" height="4.34" fill="#3b86b8"/>
<rect x="159.03" y="634.74" width="5.05" height="4.34" fill="#3ea3d6"/>
<rect x="119.69" y="644.69" width="46.94" height="4.34" fill="#dfe8ef"/>
<rect x="125.31" y="644.69" width="8.42" height="4.34" fill="#3b86b8"/>
<rect x="129.94" y="644.69" width="3.79" height="4.34" fill="#3ea3d6"/>
<rect x="135.26" y="644.69" width="15.56" height="4.34" fill="#3b86b8"/>
<rect x="143.81" y="644.69" width="7" height="4.34" fill="#3ea3d6"/>
<rect x="152.86" y="644.69" width="11.22" height="4.34" fill="#3b86b8"/>
<rect x="159.03" y="644.69" width="5.05" height="4.34" fill="#3ea3d6"/>
<circle cx="143.01" cy="641.48" r="1.84" fill="#2a9fc0" stroke="#d8c27a" stroke-width="0.4"/>
<rect x="118.16" y="653.88" width="53.57" height="12.76" fill="#2a7596"/>
<rect x="135.26" y="654.9" width="15.56" height="11.22" fill="#1d3f5c"/>
<rect x="115.1" y="653.11" width="56.63" height="1.17" fill="#7fc4dd"/>
<rect x="118.16" y="654.29" width="1.94" height="12.35" fill="#eef1f4"/>
<rect x="132.96" y="654.29" width="1.94" height="12.35" fill="#eef1f4"/>
<rect x="150.82" y="654.29" width="1.94" height="12.35" fill="#eef1f4"/>
<rect x="163.83" y="654.29" width="1.94" height="12.35" fill="#eef1f4"/>
<polygon points="94.18,669.18 191.89,669.18 188.57,670.46 101.84,670.46" fill="#c9cdd2"/>
<rect x="111.28" y="664.08" width="17.6" height="3.57" fill="#c3cbe6"/>
<rect x="115.61" y="662.81" width="9.69" height="2.04" fill="#b5bfdf"/>
<circle cx="114.08" cy="667.65" r="1.33" fill="#555"/>
<circle cx="125.31" cy="667.65" r="1.33" fill="#555"/>
<rect x="154.39" y="664.08" width="7.4" height="3.57" fill="#f2d322"/>
<rect x="156.17" y="663.06" width="4.34" height="1.79" fill="#e8c81c"/>
<rect x="171.22" y="664.08" width="4.08" height="3.57" fill="#f0d020"/>
<ellipse cx="100.31" cy="650.82" rx="4.85" ry="6.12" fill="#5f9447"/>
<ellipse cx="106.94" cy="653.37" rx="5.61" ry="6.63" fill="#5f9447"/>
<ellipse cx="111.53" cy="650.82" rx="3.57" ry="4.59" fill="#5f9447"/>
<ellipse cx="102.86" cy="666.12" rx="4.59" ry="2.04" fill="#5f9447"/>
<ellipse cx="110.51" cy="664.08" rx="4.59" ry="1.79" fill="#5f9447"/>
<ellipse cx="181.43" cy="650.82" rx="5.61" ry="7.14" fill="#5f9447"/>
<ellipse cx="186.02" cy="653.37" rx="4.59" ry="7.65" fill="#5f9447"/>
<ellipse cx="176.33" cy="652.35" rx="3.06" ry="6.12" fill="#5f9447"/>
<ellipse cx="181.94" cy="666.12" rx="5.61" ry="2.04" fill="#5f9447"/>
<ellipse cx="101.84" cy="648.78" rx="2.55" ry="3.06" fill="#3f6f33"/>
<ellipse cx="108.47" cy="650.82" rx="3.06" ry="3.57" fill="#3f6f33"/>
<ellipse cx="183.47" cy="648.78" rx="3.06" ry="4.08" fill="#3f6f33"/>
<ellipse cx="179.39" cy="654.9" rx="2.55" ry="3.06" fill="#3f6f33"/>
<rect x="99.8" y="657.45" width="0.51" height="8.16" fill="#b98f7a"/>
<rect x="102.86" y="657.45" width="0.51" height="8.16" fill="#b98f7a"/>
<rect x="106.43" y="657.45" width="0.51" height="8.16" fill="#b98f7a"/>
<rect x="110.51" y="657.45" width="0.51" height="8.16" fill="#b98f7a"/>
<rect x="180.92" y="657.45" width="0.51" height="8.16" fill="#b98f7a"/>
<rect x="183.98" y="657.45" width="0.51" height="8.16" fill="#b98f7a"/>
<rect x="186.79" y="657.45" width="0.51" height="8.16" fill="#b98f7a"/>
<path d="M259.6 794 H377 a8 8 0 0 1 8 8 V869.5 a8 8 0 0 1 -8 8 H165.7 a8 8 0 0 1 -8 -8 V802 a8 8 0 0 1 8 -8 H169" fill="#fff" stroke="#000" stroke-width="3"/>
<svg x="168" y="815" width="50.62" height="50" viewBox="3 11 64.9 64.1" preserveAspectRatio="none"><rect x="0" y="0" width="124.9" height="124.1" fill="url(#pE)"/></svg>
<svg x="219.43" y="815" width="50.62" height="50" viewBox="20 40 64.9 64.1" preserveAspectRatio="none"><rect x="0" y="0" width="124.9" height="124.1" fill="url(#pE2)"/></svg>
<svg x="270.85" y="815" width="50.62" height="50" viewBox="37 19 64.9 64.1" preserveAspectRatio="none"><rect x="0" y="0" width="124.9" height="124.1" fill="url(#pE)"/></svg>
<svg x="322.27" y="815" width="50.62" height="50" viewBox="4 48 64.9 64.1" preserveAspectRatio="none"><rect x="0" y="0" width="124.9" height="124.1" fill="url(#pE)"/></svg>
<rect x="169.18" y="782.81" width="22.96" height="23.98" fill="#f4f6f8"/>
<rect x="169.95" y="786.89" width="17.6" height="10.97" fill="#4f9be0"/>
<rect x="169.44" y="799.13" width="18.11" height="2.04" fill="#4f9be0"/>
<rect x="169.95" y="802.96" width="3.06" height="2.3" fill="#4f9be0"/>
<rect x="174.8" y="802.96" width="3.06" height="2.3" fill="#4f9be0"/>
<rect x="184.49" y="802.96" width="3.32" height="2.3" fill="#4f9be0"/>
<rect x="178.88" y="803.21" width="4.34" height="3.57" fill="#4f9be0"/>
<ellipse cx="190.46" cy="788.67" rx="0.82" ry="0.71" fill="#4f9be0"/>
<ellipse cx="190.46" cy="792.24" rx="0.82" ry="0.71" fill="#4f9be0"/>
<ellipse cx="190.46" cy="795.82" rx="0.82" ry="0.71" fill="#4f9be0"/>
<ellipse cx="190.46" cy="799.39" rx="0.82" ry="0.71" fill="#4f9be0"/>
<ellipse cx="190.46" cy="802.7" rx="0.82" ry="0.71" fill="#4f9be0"/>
<rect x="192.14" y="767.24" width="40.82" height="39.54" fill="#f4f6f8"/>
<rect x="225.05" y="767.24" width="7.91" height="39.54" fill="#a9b3bd"/>
<rect x="192.4" y="772.09" width="17.6" height="28.06" fill="#4f9be0"/>
<rect x="215.1" y="772.09" width="9.95" height="28.06" fill="#4f9be0"/>
<rect x="225.05" y="772.09" width="7.91" height="28.06" fill="#3f7dbd"/>
<rect x="192.91" y="768.37" width="6.38" height="1.84" fill="#4f9be0"/>
<rect x="200.97" y="768.37" width="6.38" height="1.84" fill="#4f9be0"/>
<rect x="209.03" y="768.37" width="6.38" height="1.84" fill="#4f9be0"/>
<rect x="217.09" y="768.37" width="6.38" height="1.84" fill="#4f9be0"/>
<rect x="225.15" y="768.37" width="6.38" height="1.84" fill="#3f7dbd"/>
<ellipse cx="212.55" cy="773.11" rx="0.66" ry="0.61" fill="#4f9be0"/>
<ellipse cx="212.55" cy="775.97" rx="0.66" ry="0.61" fill="#4f9be0"/>
<ellipse cx="212.55" cy="778.83" rx="0.66" ry="0.61" fill="#4f9be0"/>
<ellipse cx="212.55" cy="781.68" rx="0.66" ry="0.61" fill="#4f9be0"/>
<ellipse cx="212.55" cy="784.54" rx="0.66" ry="0.61" fill="#4f9be0"/>
<ellipse cx="212.55" cy="787.4" rx="0.66" ry="0.61" fill="#4f9be0"/>
<ellipse cx="212.55" cy="790.26" rx="0.66" ry="0.61" fill="#4f9be0"/>
<ellipse cx="212.55" cy="793.11" rx="0.66" ry="0.61" fill="#4f9be0"/>
<ellipse cx="212.55" cy="795.97" rx="0.66" ry="0.61" fill="#4f9be0"/>
<ellipse cx="212.55" cy="798.83" rx="0.66" ry="0.61" fill="#4f9be0"/>
<rect x="203.37" y="764.18" width="18.37" height="3.32" fill="#f1f4f6"/>
<rect x="204.9" y="764.95" width="6.12" height="1.89" fill="#4f9be0"/>
<rect x="214.08" y="764.95" width="6.12" height="1.89" fill="#4f9be0"/>
<rect x="204.13" y="760.1" width="11.99" height="2.81" fill="#4a74cc"/>
<text x="210.1" y="762.24" font-size="1.9" fill="#fff" text-anchor="middle" font-weight="bold">HOSPITAL</text>
<rect x="218.16" y="760" width="2.81" height="3.16" fill="#e33"/>
<ellipse cx="193.93" cy="803.21" rx="1.12" ry="3.06" fill="#8fc23a"/>
<ellipse cx="198.01" cy="803.21" rx="1.12" ry="3.06" fill="#8fc23a"/>
<ellipse cx="202.09" cy="803.21" rx="1.12" ry="3.06" fill="#8fc23a"/>
<ellipse cx="206.17" cy="803.21" rx="1.12" ry="3.06" fill="#8fc23a"/>
<ellipse cx="218.93" cy="803.21" rx="1.12" ry="3.06" fill="#8fc23a"/>
<ellipse cx="223.01" cy="803.21" rx="1.12" ry="3.06" fill="#8fc23a"/>
<ellipse cx="227.09" cy="803.21" rx="1.12" ry="3.06" fill="#8fc23a"/>
<ellipse cx="231.17" cy="803.21" rx="1.12" ry="3.06" fill="#8fc23a"/>
<rect x="210.26" y="803.21" width="4.08" height="3.57" fill="#4f9be0"/>
<ellipse cx="175.82" cy="779.74" rx="3.06" ry="1.12" fill="#c8d4ee"/>
<ellipse cx="180.41" cy="779.49" rx="2.81" ry="1.53" fill="#d23b3b"/>
<rect x="181.94" y="778.98" width="7.14" height="0.82" fill="#d23b3b"/>
<ellipse cx="188.83" cy="778.72" rx="0.82" ry="1.43" fill="#d23b3b"/>
<rect x="232.96" y="782.04" width="23.72" height="24.74" fill="#f4f6f8"/>
<polygon points="232.96,787.65 238.06,787.65 244.69,806.79 232.96,806.79" fill="#dde1e5"/>
<rect x="234.23" y="784.08" width="1.53" height="1.63" fill="#4f9be0"/>
<rect x="236.28" y="784.08" width="1.53" height="1.63" fill="#4f9be0"/>
<rect x="238.32" y="784.08" width="1.53" height="1.63" fill="#4f9be0"/>
<rect x="240.36" y="784.08" width="1.53" height="1.63" fill="#4f9be0"/>
<rect x="246.99" y="784.08" width="1.53" height="1.63" fill="#4f9be0"/>
<rect x="249.03" y="784.08" width="1.53" height="1.63" fill="#4f9be0"/>
<rect x="251.07" y="784.08" width="1.53" height="1.63" fill="#4f9be0"/>
<rect x="253.11" y="784.08" width="1.53" height="1.63" fill="#4f9be0"/>
<ellipse cx="244.54" cy="786.12" rx="0.77" ry="0.82" fill="#4f9be0"/>
<rect x="234.23" y="787.81" width="1.53" height="1.63" fill="#4f9be0"/>
<rect x="236.28" y="787.81" width="1.53" height="1.63" fill="#4f9be0"/>
<rect x="238.32" y="787.81" width="1.53" height="1.63" fill="#4f9be0"/>
<rect x="240.36" y="787.81" width="1.53" height="1.63" fill="#4f9be0"/>
<rect x="246.99" y="787.81" width="1.53" height="1.63" fill="#4f9be0"/>
<rect x="249.03" y="787.81" width="1.53" height="1.63" fill="#4f9be0"/>
<rect x="251.07" y="787.81" width="1.53" height="1.63" fill="#4f9be0"/>
<rect x="253.11" y="787.81" width="1.53" height="1.63" fill="#4f9be0"/>
<ellipse cx="244.54" cy="789.85" rx="0.77" ry="0.82" fill="#4f9be0"/>
<rect x="234.23" y="791.53" width="1.53" height="1.63" fill="#4f9be0"/>
<rect x="236.28" y="791.53" width="1.53" height="1.63" fill="#4f9be0"/>
<rect x="238.32" y="791.53" width="1.53" height="1.63" fill="#4f9be0"/>
<rect x="240.36" y="791.53" width="1.53" height="1.63" fill="#4f9be0"/>
<rect x="246.99" y="791.53" width="1.53" height="1.63" fill="#4f9be0"/>
<rect x="249.03" y="791.53" width="1.53" height="1.63" fill="#4f9be0"/>
<rect x="251.07" y="791.53" width="1.53" height="1.63" fill="#4f9be0"/>
<rect x="253.11" y="791.53" width="1.53" height="1.63" fill="#4f9be0"/>
<ellipse cx="244.54" cy="793.57" rx="0.77" ry="0.82" fill="#4f9be0"/>
<rect x="234.23" y="795.26" width="1.53" height="1.63" fill="#4f9be0"/>
<rect x="236.28" y="795.26" width="1.53" height="1.63" fill="#4f9be0"/>
<rect x="238.32" y="795.26" width="1.53" height="1.63" fill="#4f9be0"/>
<rect x="240.36" y="795.26" width="1.53" height="1.63" fill="#4f9be0"/>
<rect x="246.99" y="795.26" width="1.53" height="1.63" fill="#4f9be0"/>
<rect x="249.03" y="795.26" width="1.53" height="1.63" fill="#4f9be0"/>
<rect x="251.07" y="795.26" width="1.53" height="1.63" fill="#4f9be0"/>
<rect x="253.11" y="795.26" width="1.53" height="1.63" fill="#4f9be0"/>
<ellipse cx="244.54" cy="797.3" rx="0.77" ry="0.82" fill="#4f9be0"/>
<rect x="234.23" y="798.98" width="1.53" height="1.63" fill="#4f9be0"/>
<rect x="236.28" y="798.98" width="1.53" height="1.63" fill="#4f9be0"/>
<rect x="238.32" y="798.98" width="1.53" height="1.63" fill="#4f9be0"/>
<rect x="240.36" y="798.98" width="1.53" height="1.63" fill="#4f9be0"/>
<rect x="246.99" y="798.98" width="1.53" height="1.63" fill="#4f9be0"/>
<rect x="249.03" y="798.98" width="1.53" height="1.63" fill="#4f9be0"/>
<rect x="251.07" y="798.98" width="1.53" height="1.63" fill="#4f9be0"/>
<rect x="253.11" y="798.98" width="1.53" height="1.63" fill="#4f9be0"/>
<ellipse cx="244.54" cy="801.02" rx="0.77" ry="0.82" fill="#4f9be0"/>
<rect x="234.23" y="802.7" width="1.53" height="1.63" fill="#4f9be0"/>
<rect x="236.28" y="802.7" width="1.53" height="1.63" fill="#4f9be0"/>
<rect x="238.32" y="802.7" width="1.53" height="1.63" fill="#4f9be0"/>
<rect x="240.36" y="802.7" width="1.53" height="1.63" fill="#4f9be0"/>
<rect x="246.73" y="802.19" width="8.16" height="4.59" fill="#d5d8dc"/>
<rect x="250.82" y="803.98" width="2.55" height="2.04" fill="#d23b3b"/>
<rect x="257.45" y="786.12" width="2.3" height="14.54" fill="#4a74cc"/>
<circle cx="258.62" cy="783.98" r="1.02" fill="#4a74cc"/>
<rect x="169.18" y="806.43" width="87.76" height="0.71" fill="#cfd3d6"/>
<path d="M934 512.6 H1013 a8 8 0 0 1 8 8 V589 a8 8 0 0 1 -8 8 H802 a8 8 0 0 1 -8 -8 V520.6 a8 8 0 0 1 8 -8 H811" fill="#fff" stroke="#000" stroke-width="3"/>
<svg x="811.6" y="535.7" width="46.45" height="46.3" viewBox="21 27 59.55 59.36" preserveAspectRatio="none"><rect x="0" y="0" width="119.55" height="119.36" fill="url(#pG)"/></svg>
<svg x="858.85" y="535.7" width="46.45" height="46.3" viewBox="38 6 59.55 59.36" preserveAspectRatio="none"><rect x="0" y="0" width="119.55" height="119.36" fill="url(#pH)"/></svg>
<svg x="906.1" y="535.7" width="46.45" height="46.3" viewBox="5 35 59.55 59.36" preserveAspectRatio="none"><rect x="0" y="0" width="119.55" height="119.36" fill="url(#pF)"/></svg>
<svg x="953.35" y="535.7" width="46.45" height="46.3" viewBox="22 14 59.55 59.36" preserveAspectRatio="none"><rect x="0" y="0" width="119.55" height="119.36" fill="url(#pF2)"/></svg>
<polygon points="813.69,509.05 835.12,500.71 931.55,501.9 900.6,518.57" fill="#7a9a3f"/>
<polygon points="813.69,509.05 900.6,518.57 900.6,519.29 813.69,509.76" fill="#5f7a2c"/>
<polygon points="835.12,477.2 857.14,473.93 894.05,479.29 894.05,509.05 835.12,504.29" fill="#f3ede6"/>
<polygon points="835.12,477.2 857.14,473.93 912.5,476.31 894.05,479.58" fill="#f6f1ea"/>
<polygon points="894.05,479.58 912.5,476.31 912.5,501.31 894.05,509.35" fill="#e3e6e8"/>
<polygon points="870.24,483.15 873.51,482.86 873.51,509.05 870.24,510.24" fill="#d5dde2"/>
<rect x="838.1" y="480.18" width="13.1" height="2.5" fill="#3f8fcf"/>
<rect x="838.1" y="486.73" width="13.1" height="2.5" fill="#3f8fcf"/>
<rect x="838.1" y="493.27" width="13.1" height="2.5" fill="#3f8fcf"/>
<rect x="838.1" y="499.82" width="13.1" height="2.5" fill="#3f8fcf"/>
<rect x="852.98" y="484.05" width="15.48" height="2.68" fill="#3f8fcf"/>
<rect x="852.98" y="489.4" width="15.48" height="2.68" fill="#3f8fcf"/>
<rect x="875.3" y="483.15" width="15.77" height="2.68" fill="#3f8fcf"/>
<rect x="875.3" y="489.7" width="15.77" height="2.68" fill="#3f8fcf"/>
<rect x="875.3" y="496.25" width="15.77" height="2.68" fill="#3f8fcf"/>
<rect x="875.3" y="502.8" width="15.77" height="2.68" fill="#3f8fcf"/>
<polygon points="895.83,484.05 911.31,479.88 911.31,482.56 895.83,486.73" fill="#3f8fcf"/>
<polygon points="895.83,490.71 911.31,486.55 911.31,489.23 895.83,493.39" fill="#3f8fcf"/>
<polygon points="895.83,497.38 911.31,493.21 911.31,495.89 895.83,500.06" fill="#3f8fcf"/>
<polygon points="895.83,504.05 911.31,499.88 911.31,502.56 895.83,506.73" fill="#3f8fcf"/>
<rect x="857.86" y="477.2" width="6.13" height="5.36" fill="#e01818"/>
<rect x="860.12" y="478.1" width="1.61" height="3.57" fill="#fff"/>
<rect x="858.93" y="479.17" width="3.99" height="1.43" fill="#fff"/>
<polygon points="842.86,498.33 870.24,496.55 870.24,498.33 842.86,500.12" fill="#f1ebe3"/>
<polygon points="842.86,500.12 845.83,500.12 845.83,512.62 842.86,512.62" fill="#f6f1ea"/>
<polygon points="861.9,498.93 864.29,498.93 864.29,514.4 861.9,514.4" fill="#f6f1ea"/>
<rect x="853.57" y="500.42" width="8.33" height="8.63" fill="#2f8fc6"/>
<rect x="864.58" y="501.01" width="2.68" height="8.04" fill="#3f9fd0"/>
<polygon points="845.83,511.43 861.9,510.24 861.9,514.4 842.86,512.62" fill="#ebe3da"/>
<ellipse cx="821.73" cy="503.1" rx="1.9" ry="4.17" fill="#5f8a3a"/>
<ellipse cx="831.25" cy="500.12" rx="2.38" ry="5.21" fill="#5f8a3a"/>
<ellipse cx="840.48" cy="504.88" rx="1.9" ry="4.17" fill="#5f8a3a"/>
<ellipse cx="875.3" cy="508.45" rx="2" ry="4.38" fill="#5f8a3a"/>
<ellipse cx="886.01" cy="510.24" rx="2" ry="4.38" fill="#5f8a3a"/>
<ellipse cx="897.62" cy="510.83" rx="2" ry="4.38" fill="#5f8a3a"/>
<ellipse cx="905.95" cy="506.67" rx="1.9" ry="4.17" fill="#5f8a3a"/>
<ellipse cx="913.99" cy="503.69" rx="1.71" ry="3.75" fill="#5f8a3a"/>
<path d="M877 791.8 H996 a8 8 0 0 1 8 8 V867 a8 8 0 0 1 -8 8 H785 a8 8 0 0 1 -8 -8 V799.8 a8 8 0 0 1 8 -8 H804" fill="#fff" stroke="#000" stroke-width="3"/>
<svg x="787.6" y="813.9" width="50" height="48.9" viewBox="39 43 64.1 62.69" preserveAspectRatio="none"><rect x="0" y="0" width="124.1" height="122.69" fill="url(#pI)"/></svg>
<svg x="838.4" y="813.9" width="50" height="48.9" viewBox="6 22 64.1 62.69" preserveAspectRatio="none"><rect x="0" y="0" width="124.1" height="122.69" fill="url(#pI)"/></svg>
<svg x="889.2" y="813.9" width="50" height="48.9" viewBox="23 1 64.1 62.69" preserveAspectRatio="none"><rect x="0" y="0" width="124.1" height="122.69" fill="url(#pJ)"/></svg>
<svg x="940" y="813.9" width="50" height="48.9" viewBox="40 30 64.1 62.69" preserveAspectRatio="none"><rect x="0" y="0" width="124.1" height="122.69" fill="url(#pI)"/></svg>
<polygon points="793.77,796.9 850.59,792.31 881.87,796.33 854.03,806.08" fill="#dfe5ea"/>
<polygon points="854.03,806.08 881.87,796.33 881.87,798.34 854.03,808.09" fill="#b9c6d2"/>
<polygon points="806.11,752.14 820.17,749.84 820.17,796.33 806.11,794.61" fill="#f2f4f6"/>
<polygon points="820.17,733.49 835.38,728.61 835.38,796.9 820.17,796.33" fill="#f2f4f6"/>
<polygon points="835.38,728.61 849.73,738.94 849.73,798.62 835.38,796.9" fill="#eef1f4"/>
<polygon points="849.73,738.94 876.7,749.84 876.7,796.33 849.73,798.62" fill="#dfe5ea"/>
<polygon points="835.38,728.61 845.42,728.03 876.7,749.84 849.73,738.94" fill="#e8edf1"/>
<polygon points="804.1,753.86 818.45,750.99 818.45,752.14 804.1,755.12" fill="#d9534a"/>
<polygon points="837.39,746.97 849.73,744.1 860.92,748.69 860.92,749.84 849.73,745.54 837.39,748.41" fill="#d9534a"/>
<polygon points="810.99,781.98 841.41,781.98 842.27,783.7 810.99,783.7" fill="#d9534a"/>
<circle cx="827.35" cy="742.09" r="5.28" fill="#d9534a"/>
<circle cx="827.35" cy="742.09" r="4.48" fill="#e0665c"/>
<rect x="825.91" y="738.36" width="2.87" height="7.46" fill="#fff"/>
<rect x="823.9" y="740.77" width="6.89" height="2.75" fill="#fff"/>
<polygon points="821.32,752.14 832.8,749.84 832.8,780.83 821.32,780.83" fill="#3fb4cc"/>
<rect x="821.32" y="756.73" width="11.48" height="0.34" fill="#9fb8c0"/>
<rect x="821.32" y="762.47" width="11.48" height="0.34" fill="#9fb8c0"/>
<rect x="821.32" y="768.78" width="11.48" height="0.34" fill="#9fb8c0"/>
<rect x="821.32" y="775.09" width="11.48" height="0.34" fill="#9fb8c0"/>
<rect x="825.34" y="750.42" width="0.29" height="30.42" fill="#9fb8c0"/>
<rect x="829.35" y="750.42" width="0.29" height="30.42" fill="#9fb8c0"/>
<rect x="807.26" y="756.73" width="3.73" height="8.03" fill="#2f7fb0"/>
<rect x="813.29" y="755.58" width="5.16" height="9.18" fill="#3fb4cc"/>
<rect x="807.26" y="770.5" width="3.73" height="8.03" fill="#2f7fb0"/>
<rect x="813.29" y="769.35" width="5.16" height="9.18" fill="#3fb4cc"/>
<rect x="807.26" y="783.7" width="3.73" height="10.33" fill="#2f7fb0"/>
<rect x="813.29" y="782.55" width="5.16" height="11.48" fill="#2f7fb0"/>
<polygon points="838.25,750.13 846.57,749.56 846.57,760.17 838.25,760.46" fill="#3fb4cc"/>
<polygon points="838.25,767.63 846.57,767.06 846.57,777.39 838.25,777.68" fill="#3fb4cc"/>
<polygon points="838.25,784.28 846.57,783.7 846.57,796.33 838.25,796.61" fill="#2f7fb0"/>
<polygon points="852.02,750.42 858.62,752.42 858.62,761.32 852.02,761.32" fill="#2f7fb0"/>
<polygon points="860.92,753 866.08,755.01 866.08,761.84 860.92,761.32" fill="#2f7fb0"/>
<polygon points="868.38,755.58 872.97,757.59 872.97,762.35 868.38,761.32" fill="#2f7fb0"/>
<polygon points="852.02,767.63 858.62,769.64 858.62,777.96 852.02,777.96" fill="#2f7fb0"/>
<polygon points="860.92,770.22 866.08,772.22 866.08,778.48 860.92,777.96" fill="#2f7fb0"/>
<polygon points="868.38,772.8 872.97,774.81 872.97,779 868.38,777.96" fill="#2f7fb0"/>
<polygon points="852.02,784.28 858.62,786.28 858.62,795.75 852.02,795.75" fill="#2f7fb0"/>
<polygon points="860.92,786.86 866.08,788.87 866.08,796.27 860.92,795.75" fill="#2f7fb0"/>
<polygon points="868.38,789.44 872.97,791.45 872.97,796.79 868.38,795.75" fill="#2f7fb0"/>
<rect x="821.32" y="785.42" width="11.48" height="10.9" fill="#2f6f95"/>
<rect x="823.9" y="788.87" width="6.03" height="7.46" fill="#d9534a"/>
<rect x="825.05" y="789.73" width="1.72" height="4.88" fill="#6fb0c8"/>
<rect x="827.35" y="789.73" width="1.72" height="4.88" fill="#6fb0c8"/>
<ellipse cx="803.53" cy="788.29" rx="5.45" ry="4.02" fill="#4f9a48"/>
<ellipse cx="809.84" cy="793.46" rx="4.3" ry="3.16" fill="#3f8a3c"/>
<ellipse cx="863.79" cy="786.57" rx="5.74" ry="6.31" fill="#4f9a48"/>
<ellipse cx="862.64" cy="790.59" rx="4.59" ry="4.02" fill="#3f8a3c"/>
<ellipse cx="839.68" cy="794.61" rx="3.44" ry="2.87" fill="#3f8a3c"/>
<ellipse cx="841.98" cy="798.62" rx="4.02" ry="2.01" fill="#4f9a48"/>
<ellipse cx="856.9" cy="799.2" rx="9.18" ry="1.61" fill="#4f9a48"/>
<ellipse cx="873.54" cy="794.61" rx="4.59" ry="2.58" fill="#3f8a3c"/>
<ellipse cx="833.37" cy="800.06" rx="3.16" ry="1.43" fill="#4f9a48"/>
<ellipse cx="806.97" cy="796.04" rx="6.31" ry="1.26" fill="#4f9a48"/>
<rect x="863.33" y="790.59" width="0.69" height="6.89" fill="#8a6a4a"/>
<path d="M519 665L258 552M270.99 551.46L258 552L266.5 561.84" fill="none" stroke="#000" stroke-width="2.6" stroke-linejoin="miter"/>
<path d="M618.6 645.9L905 559M895.44 567.81L905 559L892.16 556.99" fill="none" stroke="#000" stroke-width="2.6" stroke-linejoin="miter"/>
<path d="M462.8 736.5L208 707.6M220.27 703.3L208 707.6L218.99 714.54" fill="none" stroke="#000" stroke-width="2.6" stroke-linejoin="miter"/>
<path d="M568 777L272.8 837.4M283.13 829.51L272.8 837.4L285.4 840.59" fill="none" stroke="#000" stroke-width="2.6" stroke-linejoin="miter"/>
<path d="M667 766L887.5 837.4M874.62 839.17L887.5 837.4L878.11 828.41" fill="none" stroke="#000" stroke-width="2.6" stroke-linejoin="miter"/>
<circle cx="519" cy="665" r="10.3" fill="#4f5b8a" stroke="#000" stroke-width="2.6"/>
<circle cx="618.6" cy="645.9" r="10.3" fill="#4f5b8a" stroke="#000" stroke-width="2.6"/>
<circle cx="462.8" cy="736.5" r="10.3" fill="#4f5b8a" stroke="#000" stroke-width="2.6"/>
<circle cx="568" cy="777" r="10.3" fill="#4f5b8a" stroke="#000" stroke-width="2.6"/>
<polygon points="667,751.4 670.39,761.83 681.36,761.83 672.49,768.28 675.88,778.72 667,772.27 658.12,778.72 661.51,768.28 652.64,761.83 663.61,761.83" fill="#ffff00" stroke="#000" stroke-width="2.9" stroke-linejoin="miter"/>
<text x="757.7" y="671" font-size="21.2">Can we expect the tumor detection model</text>
<text x="757.7" y="702.7" font-size="21.2">to perform well when deployed at</text>
<polygon points="1090.5,682.9 1093.89,693.33 1104.86,693.33 1095.99,699.78 1099.38,710.22 1090.5,703.77 1081.62,710.22 1085.01,699.78 1076.14,693.33 1087.11,693.33" fill="#ffff00" stroke="#000" stroke-width="2.9" stroke-linejoin="miter"/>
<text x="1112" y="702.7" font-size="21.2">?</text>
<circle cx="104.3" cy="922.3" r="10.3" fill="#8088b8" stroke="#000" stroke-width="2.6"/>
<text x="124.5" y="926.6" font-size="21.2">: hospitals where training data is collected from</text>
<polygon points="618,907.2 621.39,917.63 632.36,917.63 623.49,924.08 626.88,934.52 618,928.07 609.12,934.52 612.51,924.08 603.64,917.63 614.61,917.63" fill="#ffff00" stroke="#000" stroke-width="2.9" stroke-linejoin="miter"/>
<text x="645" y="926.6" font-size="21.2">: hospitals where trained models are deployed</text>
<text font-family='"DejaVu Math TeX Gyre", "DejaVu Serif", serif' fill="#5c4a32"><tspan x="671" y="1314.3" font-size="25.5" letter-spacing="-1.15">𝐾</tspan><tspan x="694.21" y="1319.91" font-size="17.44" letter-spacing="-0.78">(=3)</tspan></text>
<rect x="121" y="1340.6" width="108" height="109.7" fill="#fff" stroke="#000" stroke-width="3"/>
<svg x="131.5" y="1351.1" width="42.9" height="43.75" viewBox="7 9 55 56.09" preserveAspectRatio="none"><rect x="0" y="0" width="115" height="116.09" fill="url(#pI)"/></svg>
<svg x="175" y="1351.1" width="42.9" height="43.75" viewBox="24 38 55 56.09" preserveAspectRatio="none"><rect x="0" y="0" width="115" height="116.09" fill="url(#pD2)"/></svg>
<svg x="131.5" y="1395.45" width="42.9" height="43.75" viewBox="41 17 55 56.09" preserveAspectRatio="none"><rect x="0" y="0" width="115" height="116.09" fill="url(#pD)"/></svg>
<svg x="175" y="1395.45" width="42.9" height="43.75" viewBox="8 46 55 56.09" preserveAspectRatio="none"><rect x="0" y="0" width="115" height="116.09" fill="url(#pC)"/></svg>
<rect x="121" y="1477.7" width="108" height="109.7" fill="#fff" stroke="#000" stroke-width="3"/>
<svg x="131.5" y="1488.2" width="42.9" height="43.75" viewBox="25 25 55 56.09" preserveAspectRatio="none"><rect x="0" y="0" width="115" height="116.09" fill="url(#pA)"/></svg>
<svg x="175" y="1488.2" width="42.9" height="43.75" viewBox="42 4 55 56.09" preserveAspectRatio="none"><rect x="0" y="0" width="115" height="116.09" fill="url(#pB)"/></svg>
<svg x="131.5" y="1532.55" width="42.9" height="43.75" viewBox="9 33 55 56.09" preserveAspectRatio="none"><rect x="0" y="0" width="115" height="116.09" fill="url(#pAB)"/></svg>
<svg x="175" y="1532.55" width="42.9" height="43.75" viewBox="26 12 55 56.09" preserveAspectRatio="none"><rect x="0" y="0" width="115" height="116.09" fill="url(#pB2)"/></svg>
<rect x="122" y="1614.9" width="108" height="109.7" fill="#fff" stroke="#000" stroke-width="3"/>
<svg x="132.5" y="1625.4" width="42.9" height="43.75" viewBox="43 41 55 56.09" preserveAspectRatio="none"><rect x="0" y="0" width="115" height="116.09" fill="url(#pG)"/></svg>
<svg x="176" y="1625.4" width="42.9" height="43.75" viewBox="10 20 55 56.09" preserveAspectRatio="none"><rect x="0" y="0" width="115" height="116.09" fill="url(#pH)"/></svg>
<svg x="132.5" y="1669.75" width="42.9" height="43.75" viewBox="27 49 55 56.09" preserveAspectRatio="none"><rect x="0" y="0" width="115" height="116.09" fill="url(#pF)"/></svg>
<svg x="176" y="1669.75" width="42.9" height="43.75" viewBox="44 28 55 56.09" preserveAspectRatio="none"><rect x="0" y="0" width="115" height="116.09" fill="url(#pF2)"/></svg>
<text font-family='"DejaVu Math TeX Gyre", "DejaVu Serif", serif'><tspan x="51" y="1405.7" font-size="25.5" letter-spacing="-1.15">𝒫</tspan><tspan x="70.78" y="1411.31" font-size="15.06" letter-spacing="-0.68">𝑋𝑌</tspan><tspan x="71.88" y="1394.99" font-size="18.36" letter-spacing="-0.83">1</tspan></text>
<text font-family='"DejaVu Math TeX Gyre", "DejaVu Serif", serif'><tspan x="47.5" y="1437.5" font-size="20.4" letter-spacing="-0.92">(= 𝑒</tspan><tspan x="88.99" y="1441.99" font-size="14.69" letter-spacing="-0.66">1</tspan><tspan x="98.29" y="1437.5" font-size="20.4" letter-spacing="-0.92">)</tspan></text>
<text font-family='"DejaVu Math TeX Gyre", "DejaVu Serif", serif'><tspan x="51" y="1542.8" font-size="25.5" letter-spacing="-1.15">𝒫</tspan><tspan x="70.78" y="1548.41" font-size="15.06" letter-spacing="-0.68">𝑋𝑌</tspan><tspan x="71.88" y="1532.09" font-size="18.36" letter-spacing="-0.83">2</tspan></text>
<text font-family='"DejaVu Math TeX Gyre", "DejaVu Serif", serif'><tspan x="47.5" y="1574.6" font-size="20.4" letter-spacing="-0.92">(= 𝑒</tspan><tspan x="88.99" y="1579.09" font-size="14.69" letter-spacing="-0.66">2</tspan><tspan x="98.29" y="1574.6" font-size="20.4" letter-spacing="-0.92">)</tspan></text>
<text font-family='"DejaVu Math TeX Gyre", "DejaVu Serif", serif'><tspan x="51" y="1680" font-size="25.5" letter-spacing="-1.15">𝒫</tspan><tspan x="70.78" y="1685.61" font-size="15.06" letter-spacing="-0.68">𝑋𝑌</tspan><tspan x="71.88" y="1669.29" font-size="18.36" letter-spacing="-0.83">3</tspan></text>
<text font-family='"DejaVu Math TeX Gyre", "DejaVu Serif", serif'><tspan x="47.5" y="1711.8" font-size="20.4" letter-spacing="-0.92">(= 𝑒</tspan><tspan x="88.99" y="1716.29" font-size="14.69" letter-spacing="-0.66">3</tspan><tspan x="98.29" y="1711.8" font-size="20.4" letter-spacing="-0.92">)</tspan></text>
<rect x="288" y="1372.4" width="430" height="120.5" fill="#fff" stroke="#000" stroke-width="3" rx="32"/>
<rect x="310" y="1392.5" width="175" height="80.3" fill="#fff" stroke="#000" stroke-width="3" rx="36"/>
<rect x="520" y="1392.5" width="174.5" height="80.3" fill="#fff" stroke="#000" stroke-width="3" rx="36"/>
<text x="397.5" y="1425" font-size="28" text-anchor="middle">Encoder</text>
<text font-family='"DejaVu Math TeX Gyre", "DejaVu Serif", serif'><tspan x="378.1" y="1461.5" font-size="26" letter-spacing="-1.17">(𝜙)</tspan></text>
<text x="607" y="1425" font-size="28" text-anchor="middle">Classifier</text>
<text font-family='"DejaVu Math TeX Gyre", "DejaVu Serif", serif'><tspan x="585.98" y="1461.5" font-size="26" letter-spacing="-1.17">(𝜔)</tspan></text>
<text font-family='"DejaVu Math TeX Gyre", "DejaVu Serif", serif'><tspan x="318" y="1361.6" font-size="25" letter-spacing="-1.12">𝑓:</tspan><tspan x="345.12" y="1361.6" font-size="25" letter-spacing="-1.12">𝒳 → 𝒴</tspan></text>
<path d="M485 1432.7L519 1432.7M509.1 1437.48L519 1432.7L509.1 1427.92" fill="none" stroke="#000" stroke-width="3" stroke-linejoin="miter"/>
<path d="M694.5 1432.7L730 1432.7M720.1 1437.48L730 1432.7L720.1 1427.92" fill="none" stroke="#000" stroke-width="3" stroke-linejoin="miter"/>
<path d="M229 1372 Q262 1376 287 1393" fill="none" stroke="#000" stroke-width="3"/>
<line x1="287" y1="1393" x2="276.12" y2="1391.39" stroke="#000" stroke-width="3"/>
<line x1="287" y1="1393" x2="281.5" y2="1383.47" stroke="#000" stroke-width="3"/>
<path d="M229 1514 Q250 1462 287 1429" fill="none" stroke="#000" stroke-width="3"/>
<line x1="287" y1="1429" x2="282.79" y2="1439.16" stroke="#000" stroke-width="3"/>
<line x1="287" y1="1429" x2="276.42" y2="1432.02" stroke="#000" stroke-width="3"/>
<path d="M230 1614 Q252 1520 287 1473" fill="none" stroke="#000" stroke-width="3"/>
<line x1="287" y1="1473" x2="284.92" y2="1483.8" stroke="#000" stroke-width="3"/>
<line x1="287" y1="1473" x2="277.25" y2="1478.09" stroke="#000" stroke-width="3"/>
<line x1="843.4" y1="1385" x2="843.4" y2="1477" stroke="#000" stroke-width="1"/>
<line x1="738.6" y1="1431.7" x2="1129" y2="1431.7" stroke="#000" stroke-width="1"/>
<text x="790" y="1413" font-size="15.8" text-anchor="middle">Environment</text>
<text x="790" y="1462" font-size="15.8" text-anchor="middle">Risk</text>
<text font-family='"DejaVu Math TeX Gyre", "DejaVu Serif", serif'><tspan x="863.2" y="1412" font-size="25.5" letter-spacing="-1.15">𝒫</tspan><tspan x="882.98" y="1417.61" font-size="15.06" letter-spacing="-0.68">𝑋𝑌</tspan><tspan x="884.08" y="1401.29" font-size="18.36" letter-spacing="-0.83">1</tspan></text>
<text font-family='"DejaVu Math TeX Gyre", "DejaVu Serif", serif'><tspan x="871.93" y="1464" font-size="26" letter-spacing="-1.17">ℛ</tspan><tspan x="893.22" y="1469.72" font-size="18.72" letter-spacing="-0.84">1</tspan></text>
<text font-family='"DejaVu Math TeX Gyre", "DejaVu Serif", serif'><tspan x="961.2" y="1412" font-size="25.5" letter-spacing="-1.15">𝒫</tspan><tspan x="980.98" y="1417.61" font-size="15.06" letter-spacing="-0.68">𝑋𝑌</tspan><tspan x="982.08" y="1401.29" font-size="18.36" letter-spacing="-0.83">2</tspan></text>
<text font-family='"DejaVu Math TeX Gyre", "DejaVu Serif", serif'><tspan x="969.93" y="1464" font-size="26" letter-spacing="-1.17">ℛ</tspan><tspan x="991.22" y="1469.72" font-size="18.72" letter-spacing="-0.84">2</tspan></text>
<text font-family='"DejaVu Math TeX Gyre", "DejaVu Serif", serif'><tspan x="1059.1" y="1412" font-size="25.5" letter-spacing="-1.15">𝒫</tspan><tspan x="1078.88" y="1417.61" font-size="15.06" letter-spacing="-0.68">𝑋𝑌</tspan><tspan x="1079.98" y="1401.29" font-size="18.36" letter-spacing="-0.83">3</tspan></text>
<text font-family='"DejaVu Math TeX Gyre", "DejaVu Serif", serif'><tspan x="1067.83" y="1464" font-size="26" letter-spacing="-1.17">ℛ</tspan><tspan x="1089.12" y="1469.72" font-size="18.72" letter-spacing="-0.84">3</tspan></text>
<rect x="482" y="1522" width="89" height="53" fill="#ecebea" rx="14"/>
<text font-family='"DejaVu Math TeX Gyre", "DejaVu Serif", serif'><tspan x="298.77" y="1554.28" font-size="25.3" letter-spacing="-1.14">𝑚𝑖𝑛𝑚𝑎𝑥</tspan></text>
<text font-family='"DejaVu Math TeX Gyre", "DejaVu Serif", serif'><tspan x="315.23" y="1573.87" font-size="18.9" letter-spacing="-0.85">𝑓</tspan></text>
<text font-family='"DejaVu Math TeX Gyre", "DejaVu Serif", serif'><tspan x="347.6" y="1572.89" font-size="17.82" letter-spacing="-0.8">𝝀∈Δ</tspan><tspan x="388.38" y="1576.81" font-size="12.83" letter-spacing="-0.58">𝐾</tspan></text>
<text font-family='"DejaVu Math TeX Gyre", "DejaVu Serif", serif'><tspan x="404.53" y="1556.24" font-size="27" letter-spacing="-1.21">∑</tspan></text>
<text font-family='"DejaVu Math TeX Gyre", "DejaVu Serif", serif'><tspan x="413.6" y="1528.32" font-size="17.5" letter-spacing="-0.79">𝐾</tspan></text>
<text font-family='"DejaVu Math TeX Gyre", "DejaVu Serif", serif'><tspan x="404.58" y="1577.3" font-size="17" letter-spacing="-0.77">𝑘=1</tspan></text>
<text font-family='"DejaVu Math TeX Gyre", "DejaVu Serif", serif'><tspan x="440.81" y="1554.28" font-size="26.5" letter-spacing="-1.19">𝜆</tspan><tspan x="459.62" y="1560.11" font-size="19.08" letter-spacing="-0.86">𝑘</tspan></text>
<text font-family='"DejaVu Math TeX Gyre", "DejaVu Serif", serif'><tspan x="475.09" y="1554.28" font-size="26.5" letter-spacing="-1.19">·</tspan></text>
<text font-family='"DejaVu Math TeX Gyre", "DejaVu Serif", serif'><tspan x="489.79" y="1554.28" font-size="26" letter-spacing="-1.17">ℛ</tspan><tspan x="511.08" y="1560" font-size="18.72" letter-spacing="-0.84">𝑘</tspan><tspan x="523.52" y="1554.28" font-size="26" letter-spacing="-1.17">(𝑓)</tspan></text>
<rect x="492" y="1596" width="89" height="53" fill="#ecebea" rx="14"/>
<text font-family='"DejaVu Math TeX Gyre", "DejaVu Serif", serif'><tspan x="500.07" y="1628.24" font-size="26" letter-spacing="-1.17">ℛ</tspan><tspan x="521.37" y="1633.96" font-size="18.72" letter-spacing="-0.84">𝑘</tspan><tspan x="533.81" y="1628.24" font-size="26" letter-spacing="-1.17">(𝑓)</tspan></text>
<text font-family='"DejaVu Math TeX Gyre", "DejaVu Serif", serif'><tspan x="585.3" y="1628.24" font-size="26" letter-spacing="-1.17">≜</tspan></text>
<text font-family='"DejaVu Math TeX Gyre", "DejaVu Serif", serif'><tspan x="612.23" y="1628.24" font-size="26.2" letter-spacing="-1.18">𝔼</tspan><tspan x="632.23" y="1634" font-size="18.86" letter-spacing="-0.85">(𝑥,𝑦)~𝒫</tspan><tspan x="708.23" y="1638.15" font-size="11.54" letter-spacing="-0.52">𝑋𝑌</tspan><tspan x="708.23" y="1626.08" font-size="13.58" letter-spacing="-0.61">𝑘</tspan><tspan x="728.26" y="1628.24" font-size="26.2" letter-spacing="-1.18">[ℓ(𝑓(𝑥),</tspan><tspan x="826.45" y="1628.24" font-size="26.2" letter-spacing="-1.18">𝑦)]</tspan></text>
<text x="883.09" y="1637.06" font-size="21.5" fill="#b3b3b3">(risk of environment</text>
<text font-family='"DejaVu Math TeX Gyre", "DejaVu Serif", serif' fill="#b3b3b3"><tspan x="1077.53" y="1637.06" font-size="22" letter-spacing="-0.99">𝑘</tspan></text>
<text x="1090.27" y="1637.06" font-size="21.5" fill="#b3b3b3">)</text>
<text font-family='"DejaVu Math TeX Gyre", "DejaVu Serif", serif'><tspan x="511.83" y="1696.81" font-size="26" letter-spacing="-1.17">Δ</tspan><tspan x="532.03" y="1702.53" font-size="18.72" letter-spacing="-0.84">𝐾</tspan></text>
<text font-family='"DejaVu Math TeX Gyre", "DejaVu Serif", serif'><tspan x="551.5" y="1696.81" font-size="26" letter-spacing="-1.17">=</tspan></text>
<path d="M589.9 1664.48 Q585.15 1664.48 585.15 1671.48 V1684.42 Q585.15 1691.42 580.4 1691.42 Q585.15 1691.42 585.15 1698.42 V1711.36 Q585.15 1718.36 589.9 1718.36" fill="none" stroke="#000" stroke-width="1.7"/>
<text font-family='"DejaVu Math TeX Gyre", "DejaVu Serif", serif'><tspan x="592.15" y="1696.81" font-size="26" letter-spacing="-1.17">𝝀</tspan></text>
<text font-family='"DejaVu Math TeX Gyre", "DejaVu Serif", serif'><tspan x="615.17" y="1696.81" font-size="26" letter-spacing="-1.17">∈</tspan></text>
<text font-family='"DejaVu Math TeX Gyre", "DejaVu Serif", serif'><tspan x="640.64" y="1696.81" font-size="26" letter-spacing="-1.17">ℝ</tspan><tspan x="663.2" y="1702.53" font-size="15.91" letter-spacing="-0.72">≥0</tspan><tspan x="666.56" y="1685.89" font-size="18.72" letter-spacing="-0.84">𝐾</tspan></text>
<text font-family='"DejaVu Math TeX Gyre", "DejaVu Serif", serif'><tspan x="687.17" y="1696.81" font-size="26" letter-spacing="-1.17">:</tspan></text>
<text font-family='"DejaVu Math TeX Gyre", "DejaVu Serif", serif'><tspan x="704.28" y="1703.18" font-size="27" letter-spacing="-1.21">∑</tspan></text>
<text font-family='"DejaVu Math TeX Gyre", "DejaVu Serif", serif'><tspan x="709.93" y="1672.32" font-size="17.5" letter-spacing="-0.79">𝐾</tspan></text>
<text font-family='"DejaVu Math TeX Gyre", "DejaVu Serif", serif'><tspan x="701.39" y="1724.24" font-size="17" letter-spacing="-0.77">𝑘=1</tspan></text>
<text font-family='"DejaVu Math TeX Gyre", "DejaVu Serif", serif'><tspan x="739.58" y="1696.81" font-size="26.5" letter-spacing="-1.19">𝜆</tspan><tspan x="758.39" y="1702.64" font-size="19.08" letter-spacing="-0.86">𝑘</tspan></text>
<text font-family='"DejaVu Math TeX Gyre", "DejaVu Serif", serif'><tspan x="776.8" y="1696.81" font-size="26" letter-spacing="-1.17">=</tspan></text>
<text font-family='"DejaVu Math TeX Gyre", "DejaVu Serif", serif'><tspan x="804.23" y="1696.81" font-size="26" letter-spacing="-1.17">1</tspan></text>
<path d="M818.93 1664.48 Q823.68 1664.48 823.68 1671.48 V1684.42 Q823.68 1691.42 828.43 1691.42 Q823.68 1691.42 823.68 1698.42 V1711.36 Q823.68 1718.36 818.93 1718.36" fill="none" stroke="#000" stroke-width="1.7"/>
<text x="892.39" y="1690.44" font-size="21.3" fill="#b3b3b3">(weight distribution</text>
<text x="911.01" y="1720.32" font-size="21.3" fill="#b3b3b3">over environments)</text>
<line x1="82.28" y1="2061.06" x2="83.26" y2="2246.69" stroke="#555" stroke-width="1" stroke-dasharray="1.2 2.2"/>
<line x1="444.24" y1="2088.97" x2="444.24" y2="2227.58" stroke="#555" stroke-width="1" stroke-dasharray="1.2 2.2"/>
<line x1="316.89" y1="1906.77" x2="316.89" y2="2129.63" stroke="#555" stroke-width="1" stroke-dasharray="1.2 2.2"/>
<line x1="83.26" y1="2246.69" x2="444.24" y2="2227.58" stroke="#555" stroke-width="1" stroke-dasharray="1.2 2.2"/>
<line x1="444.24" y1="2227.58" x2="316.89" y2="2129.63" stroke="#555" stroke-width="1" stroke-dasharray="1.2 2.2"/>
<line x1="316.89" y1="2129.63" x2="83.26" y2="2246.69" stroke="#555" stroke-width="1" stroke-dasharray="1.2 2.2"/>
<line x1="224.32" y1="2174.69" x2="239.02" y2="2156.57" stroke="#555" stroke-width="1" stroke-dasharray="1.2 2.2"/>
<line x1="224.32" y1="2174.69" x2="200.81" y2="2172.24" stroke="#555" stroke-width="1" stroke-dasharray="1.2 2.2"/>
<polygon points="82.28,2061.06 316.89,1971.43 444.24,2088.97" fill="#e3e7f4" stroke="#2a3f96" stroke-width="1.1"/>
<path d="M224.32 2176.19L224.32 1889.63M229.54 1900.44L224.32 1889.63L219.1 1900.44" fill="none" stroke="#000" stroke-width="3" stroke-linejoin="miter"/>
<path d="M222.82 2174.69L488.81 2174.69M478 2179.91L488.81 2174.69L478 2169.47" fill="none" stroke="#000" stroke-width="3" stroke-linejoin="miter"/>
<path d="M224.32 2174.69L116.57 2273.62M121 2262.47L116.57 2273.62L128.06 2270.16" fill="none" stroke="#000" stroke-width="3" stroke-linejoin="miter"/>
<path d="M338.93 1966.53L505.95 1923.43M496.79 1931.18L505.95 1923.43L494.18 1921.07" fill="none" stroke="#000" stroke-width="3" stroke-linejoin="miter"/>
<circle cx="83.26" cy="2246.69" r="8" fill="#fff" stroke="#a6a6a6" stroke-width="1"/>
<circle cx="444.24" cy="2227.58" r="8" fill="#fff" stroke="#a6a6a6" stroke-width="1"/>
<circle cx="316.89" cy="2129.63" r="8" fill="#fff" stroke="#a6a6a6" stroke-width="1"/>
<circle cx="82.28" cy="2061.06" r="8.8" fill="#14297f"/>
<circle cx="444.24" cy="2088.97" r="8.8" fill="#14297f"/>
<circle cx="316.89" cy="1971.43" r="10.5" fill="#ffff00" stroke="#000" stroke-width="2.6"/>
<circle cx="316.89" cy="1906.77" r="10.5" fill="#ff0000" stroke="#000" stroke-width="2.6"/>
<text font-family='"DejaVu Math TeX Gyre", "DejaVu Serif", serif'><tspan x="183" y="1921" font-size="32" letter-spacing="-1.44">ℛ</tspan></text>
<text font-family='"DejaVu Math TeX Gyre", "DejaVu Serif", serif'><tspan x="51" y="2027" font-size="29" letter-spacing="-1.3">ℛ</tspan><tspan x="74.75" y="2033.38" font-size="20.88" letter-spacing="-0.94">1</tspan></text>
<text font-family='"DejaVu Math TeX Gyre", "DejaVu Serif", serif'><tspan x="464" y="2110" font-size="29" letter-spacing="-1.3">ℛ</tspan><tspan x="487.75" y="2116.38" font-size="20.88" letter-spacing="-0.94">2</tspan></text>
<text font-family='"DejaVu Math TeX Gyre", "DejaVu Serif", serif'><tspan x="267" y="1964" font-size="29" letter-spacing="-1.3">ℛ</tspan><tspan x="290.75" y="1970.38" font-size="20.88" letter-spacing="-0.94">3</tspan></text>
<text font-family='"DejaVu Math TeX Gyre", "DejaVu Serif", serif'><tspan x="47" y="2261" font-size="25" letter-spacing="-1.12">𝑒</tspan><tspan x="63" y="2266.5" font-size="18" letter-spacing="-0.81">1</tspan></text>
<text font-family='"DejaVu Math TeX Gyre", "DejaVu Serif", serif'><tspan x="455" y="2249" font-size="25" letter-spacing="-1.12">𝑒</tspan><tspan x="471" y="2254.5" font-size="18" letter-spacing="-0.81">2</tspan></text>
<text font-family='"DejaVu Math TeX Gyre", "DejaVu Serif", serif'><tspan x="327" y="2122" font-size="25" letter-spacing="-1.12">𝑒</tspan><tspan x="343" y="2127.5" font-size="18" letter-spacing="-0.81">3</tspan></text>
<rect x="536" y="1928" width="487" height="52" fill="#ecebea" rx="16"/>
<text x="520.6" y="1929" font-size="28" text-anchor="middle">•</text>
<text x="547.6" y="1917.5" font-size="28">Worst case (</text>
<circle cx="716.73" cy="1910.5" r="9.4" fill="#ffff00" stroke="#000" stroke-width="3"/>
<text x="728.23" y="1917.5" font-size="28">) search restricted to</text>
<text x="547.6" y="1960.8" font-size="28">convex hull (</text>
<polygon points="703.79,1955 724.29,1947.2 735.79,1958.8" fill="#e3e7f4" stroke="#2a3f96" stroke-width="1"/>
<text x="736.79" y="1960.8" font-size="28">) of training risks</text>
<text font-family='"DejaVu Math TeX Gyre", "DejaVu Serif", serif'><tspan x="949.97" y="1960.8" font-size="26" letter-spacing="-1.17">{ℛ</tspan><tspan x="980.96" y="1966.52" font-size="18.72" letter-spacing="-0.84">𝑘</tspan><tspan x="993.4" y="1960.8" font-size="26" letter-spacing="-1.17">}.</tspan></text>
<text x="780" y="2004.7" font-size="28" fill="#b5793c">= uncertainty set</text>
<text font-family='"DejaVu Math TeX Gyre", "DejaVu Serif", serif' fill="#b5793c"><tspan x="994.01" y="2004.7" font-size="26" letter-spacing="-1.17">𝒬</tspan></text>
<text x="520.6" y="2135" font-size="28" text-anchor="middle">•</text>
<text x="547.6" y="2123" font-size="28"><tspan font-weight="bold">Insight</tspan>: Can we enlarge</text>
<circle cx="868.55" cy="2113" r="19" fill="#ecebea"/>
<text font-family='"DejaVu Math TeX Gyre", "DejaVu Serif", serif'><tspan x="859.05" y="2123" font-size="26" letter-spacing="-1.17">𝒬</tspan></text>
<text x="885.05" y="2123" font-size="28">to capture more</text>
<text x="547.6" y="2166.3" font-size="28">comprehensive worst-case scenarios (</text>
<circle cx="1036.85" cy="2159.5" r="9.4" fill="#ff0000" stroke="#000" stroke-width="3"/>
<text x="1047.35" y="2166.3" font-size="28">)?</text>
<text font-family='"DejaVu Math TeX Gyre", "DejaVu Serif", serif' fill="#5c4a32"><tspan x="1283.3" y="435.3" font-size="25.5" letter-spacing="-1.15">𝐾</tspan></text>
<text font-family='"DejaVu Math TeX Gyre", "DejaVu Serif", serif' fill="#5c4a32"><tspan x="1568.3" y="435.3" font-size="25.5" letter-spacing="-1.15">𝐾</tspan><tspan x="1592.42" y="424.59" font-size="18.36" letter-spacing="-0.83">2</tspan></text>
<rect x="1266.4" y="498.8" width="108.3" height="110.6" fill="#fff" stroke="#000" stroke-width="3"/>
<svg x="1276.9" y="509.3" width="43.05" height="44.2" viewBox="11 7 55.19 56.67" preserveAspectRatio="none"><rect x="0" y="0" width="115.19" height="116.67" fill="url(#pI)"/></svg>
<svg x="1320.55" y="509.3" width="43.05" height="44.2" viewBox="28 36 55.19 56.67" preserveAspectRatio="none"><rect x="0" y="0" width="115.19" height="116.67" fill="url(#pD2)"/></svg>
<svg x="1276.9" y="554.1" width="43.05" height="44.2" viewBox="45 15 55.19 56.67" preserveAspectRatio="none"><rect x="0" y="0" width="115.19" height="116.67" fill="url(#pD)"/></svg>
<svg x="1320.55" y="554.1" width="43.05" height="44.2" viewBox="12 44 55.19 56.67" preserveAspectRatio="none"><rect x="0" y="0" width="115.19" height="116.67" fill="url(#pC)"/></svg>
<rect x="1265.6" y="626.8" width="108.3" height="110.7" fill="#fff" stroke="#000" stroke-width="3"/>
<svg x="1276.1" y="637.3" width="43.05" height="44.25" viewBox="29 23 55.19 56.73" preserveAspectRatio="none"><rect x="0" y="0" width="115.19" height="116.73" fill="url(#pA)"/></svg>
<svg x="1319.75" y="637.3" width="43.05" height="44.25" viewBox="46 2 55.19 56.73" preserveAspectRatio="none"><rect x="0" y="0" width="115.19" height="116.73" fill="url(#pB)"/></svg>
<svg x="1276.1" y="682.15" width="43.05" height="44.25" viewBox="13 31 55.19 56.73" preserveAspectRatio="none"><rect x="0" y="0" width="115.19" height="116.73" fill="url(#pAB)"/></svg>
<svg x="1319.75" y="682.15" width="43.05" height="44.25" viewBox="30 10 55.19 56.73" preserveAspectRatio="none"><rect x="0" y="0" width="115.19" height="116.73" fill="url(#pB2)"/></svg>
<rect x="1267" y="756" width="107.9" height="110.3" fill="#fff" stroke="#000" stroke-width="3"/>
<svg x="1277.5" y="766.5" width="42.85" height="44.05" viewBox="47 39 54.94 56.47" preserveAspectRatio="none"><rect x="0" y="0" width="114.94" height="116.47" fill="url(#pG)"/></svg>
<svg x="1320.95" y="766.5" width="42.85" height="44.05" viewBox="14 18 54.94 56.47" preserveAspectRatio="none"><rect x="0" y="0" width="114.94" height="116.47" fill="url(#pH)"/></svg>
<svg x="1277.5" y="811.15" width="42.85" height="44.05" viewBox="31 47 54.94 56.47" preserveAspectRatio="none"><rect x="0" y="0" width="114.94" height="116.47" fill="url(#pF)"/></svg>
<svg x="1320.95" y="811.15" width="42.85" height="44.05" viewBox="48 26 54.94 56.47" preserveAspectRatio="none"><rect x="0" y="0" width="114.94" height="116.47" fill="url(#pF2)"/></svg>
<text font-family='"DejaVu Math TeX Gyre", "DejaVu Serif", serif'><tspan x="1196" y="566.5" font-size="27" letter-spacing="-1.21">𝒫</tspan><tspan x="1216.95" y="572.44" font-size="15.94" letter-spacing="-0.72">𝑋𝑌</tspan><tspan x="1218.11" y="555.16" font-size="19.44" letter-spacing="-0.87">1</tspan></text>
<text font-family='"DejaVu Math TeX Gyre", "DejaVu Serif", serif'><tspan x="1193.6" y="594.1" font-size="20.8" letter-spacing="-0.94">(= 𝑒</tspan><tspan x="1235.91" y="598.68" font-size="14.98" letter-spacing="-0.67">1</tspan><tspan x="1245.38" y="594.1" font-size="20.8" letter-spacing="-0.94">)</tspan></text>
<text font-family='"DejaVu Math TeX Gyre", "DejaVu Serif", serif'><tspan x="1196" y="693.9" font-size="27" letter-spacing="-1.21">𝒫</tspan><tspan x="1216.95" y="699.84" font-size="15.94" letter-spacing="-0.72">𝑋𝑌</tspan><tspan x="1218.11" y="682.56" font-size="19.44" letter-spacing="-0.87">2</tspan></text>
<text font-family='"DejaVu Math TeX Gyre", "DejaVu Serif", serif'><tspan x="1193.6" y="721.5" font-size="20.8" letter-spacing="-0.94">(= 𝑒</tspan><tspan x="1235.91" y="726.08" font-size="14.98" letter-spacing="-0.67">2</tspan><tspan x="1245.38" y="721.5" font-size="20.8" letter-spacing="-0.94">)</tspan></text>
<text font-family='"DejaVu Math TeX Gyre", "DejaVu Serif", serif'><tspan x="1196" y="822.2" font-size="27" letter-spacing="-1.21">𝒫</tspan><tspan x="1216.95" y="828.14" font-size="15.94" letter-spacing="-0.72">𝑋𝑌</tspan><tspan x="1218.11" y="810.86" font-size="19.44" letter-spacing="-0.87">3</tspan></text>
<text font-family='"DejaVu Math TeX Gyre", "DejaVu Serif", serif'><tspan x="1193.6" y="849.8" font-size="20.8" letter-spacing="-0.94">(= 𝑒</tspan><tspan x="1235.91" y="854.38" font-size="14.98" letter-spacing="-0.67">3</tspan><tspan x="1245.38" y="849.8" font-size="20.8" letter-spacing="-0.94">)</tspan></text>
<rect x="1432" y="537" width="504" height="290" fill="#fff" stroke="#000" stroke-width="3" rx="26"/>
<text font-family='"DejaVu Math TeX Gyre", "DejaVu Serif", serif'><tspan x="1453" y="526.4" font-size="26" letter-spacing="-1.17">𝑓</tspan><tspan x="1470.81" y="532.12" font-size="18.72" letter-spacing="-0.84">𝑖</tspan><tspan x="1477.85" y="526.4" font-size="26" letter-spacing="-1.17"> = (𝜔</tspan><tspan x="1544.02" y="532.12" font-size="18.72" letter-spacing="-0.84">𝑖</tspan><tspan x="1551.05" y="526.4" font-size="26" letter-spacing="-1.17"> ∘ 𝜙)(𝑥)</tspan></text>
<rect x="1460.6" y="640" width="175.4" height="84" fill="#fff" stroke="#000" stroke-width="3" rx="30"/>
<text x="1473.5" y="692.4" font-size="28">Encoder</text>
<text font-family='"DejaVu Math TeX Gyre", "DejaVu Serif", serif'><tspan x="1585.57" y="692.4" font-size="26" letter-spacing="-1.17">(𝜙)</tspan></text>
<rect x="1700.6" y="559" width="212" height="67" fill="#8f5c80" stroke="#000" stroke-width="3" rx="30"/>
<text x="1722" y="602" font-size="28" fill="#fff" font-weight="bold">Expert 1 (</text>
<text font-family='"DejaVu Math TeX Gyre", "DejaVu Serif", serif' fill="#fff"><tspan x="1849.6" y="602" font-size="25" letter-spacing="-1.12">𝜔</tspan><tspan x="1871.58" y="607.5" font-size="18" letter-spacing="-0.81">1</tspan></text>
<text x="1882.97" y="602" font-size="28" fill="#fff" font-weight="bold">)</text>
<rect x="1700.6" y="648.8" width="212" height="67" fill="#c9a3be" stroke="#000" stroke-width="3" rx="30"/>
<text x="1722" y="691.8" font-size="28" fill="#fff" font-weight="bold">Expert 2 (</text>
<text font-family='"DejaVu Math TeX Gyre", "DejaVu Serif", serif' fill="#fff"><tspan x="1849.6" y="691.8" font-size="25" letter-spacing="-1.12">𝜔</tspan><tspan x="1871.58" y="697.3" font-size="18" letter-spacing="-0.81">2</tspan></text>
<text x="1882.97" y="691.8" font-size="28" fill="#fff" font-weight="bold">)</text>
<rect x="1700.6" y="738" width="212" height="67" fill="#38237a" stroke="#000" stroke-width="3" rx="30"/>
<text x="1722" y="781" font-size="28" fill="#fff" font-weight="bold">Expert 3 (</text>
<text font-family='"DejaVu Math TeX Gyre", "DejaVu Serif", serif' fill="#fff"><tspan x="1849.6" y="781" font-size="25" letter-spacing="-1.12">𝜔</tspan><tspan x="1871.58" y="786.5" font-size="18" letter-spacing="-0.81">3</tspan></text>
<text x="1882.97" y="781" font-size="28" fill="#fff" font-weight="bold">)</text>
<path d="M1373.9 572.4L1460 671.5M1449.89 667.16L1460 671.5L1457.12 660.88" fill="none" stroke="#000" stroke-width="3" stroke-linejoin="miter"/>
<path d="M1373.9 684L1460 684M1450.1 688.78L1460 684L1450.1 679.22" fill="none" stroke="#000" stroke-width="3" stroke-linejoin="miter"/>
<path d="M1374.9 790.4L1460 699M1456.75 709.51L1460 699L1449.75 702.99" fill="none" stroke="#000" stroke-width="3" stroke-linejoin="miter"/>
<path d="M1636 682.6L1700 596.5M1697.93 607.3L1700 596.5L1690.25 601.6" fill="none" stroke="#000" stroke-width="3" stroke-linejoin="miter"/>
<path d="M1636 682.6L1700 682.6M1690.1 687.38L1700 682.6L1690.1 677.82" fill="none" stroke="#000" stroke-width="3" stroke-linejoin="miter"/>
<path d="M1636 682.6L1700 769.5M1690.27 764.36L1700 769.5L1697.98 758.69" fill="none" stroke="#000" stroke-width="3" stroke-linejoin="miter"/>
<path d="M1912.6 592.5L2000 592.5M1990.1 597.28L2000 592.5L1990.1 587.72" fill="none" stroke="#000" stroke-width="3" stroke-linejoin="miter"/>
<path d="M1912.6 682.6L2000 682.6M1990.1 687.38L2000 682.6L1990.1 677.82" fill="none" stroke="#000" stroke-width="3" stroke-linejoin="miter"/>
<path d="M1912.6 772.2L2000 772.2M1990.1 776.98L2000 772.2L1990.1 767.42" fill="none" stroke="#000" stroke-width="3" stroke-linejoin="miter"/>
<rect x="2000.8" y="547" width="270.2" height="269.3" fill="#fff" stroke="#000" stroke-width="3"/>
<line x1="2091.4" y1="547" x2="2091.4" y2="816.3" stroke="#000" stroke-width="3"/>
<line x1="2180.5" y1="547" x2="2180.5" y2="816.3" stroke="#000" stroke-width="3"/>
<line x1="2000.8" y1="637.5" x2="2271" y2="637.5" stroke="#000" stroke-width="3"/>
<line x1="2000.8" y1="727.2" x2="2271" y2="727.2" stroke="#000" stroke-width="3"/>
<text font-family='"DejaVu Math TeX Gyre", "DejaVu Serif", serif'><tspan x="2019.43" y="529.8" font-size="27" letter-spacing="-1.21">𝒫</tspan><tspan x="2040.37" y="535.74" font-size="15.94" letter-spacing="-0.72">𝑋𝑌</tspan><tspan x="2041.54" y="518.46" font-size="19.44" letter-spacing="-0.87">1</tspan></text>
<text font-family='"DejaVu Math TeX Gyre", "DejaVu Serif", serif'><tspan x="2018.8" y="579" font-size="27" letter-spacing="-1.21">ℛ</tspan><tspan x="2040.91" y="584.94" font-size="19.44" letter-spacing="-0.87">11</tspan></text>
<text font-family='"DejaVu Math TeX Gyre", "DejaVu Serif", serif'><tspan x="2109.4" y="579" font-size="27" letter-spacing="-1.21">ℛ</tspan><tspan x="2131.51" y="584.94" font-size="19.44" letter-spacing="-0.87">12</tspan></text>
<text font-family='"DejaVu Math TeX Gyre", "DejaVu Serif", serif'><tspan x="2198.5" y="579" font-size="27" letter-spacing="-1.21">ℛ</tspan><tspan x="2220.61" y="584.94" font-size="19.44" letter-spacing="-0.87">13</tspan></text>
<text font-family='"DejaVu Math TeX Gyre", "DejaVu Serif", serif'><tspan x="2109.28" y="529.8" font-size="27" letter-spacing="-1.21">𝒫</tspan><tspan x="2130.22" y="535.74" font-size="15.94" letter-spacing="-0.72">𝑋𝑌</tspan><tspan x="2131.39" y="518.46" font-size="19.44" letter-spacing="-0.87">2</tspan></text>
<text font-family='"DejaVu Math TeX Gyre", "DejaVu Serif", serif'><tspan x="2018.8" y="669.5" font-size="27" letter-spacing="-1.21">ℛ</tspan><tspan x="2040.91" y="675.44" font-size="19.44" letter-spacing="-0.87">21</tspan></text>
<text font-family='"DejaVu Math TeX Gyre", "DejaVu Serif", serif'><tspan x="2109.4" y="669.5" font-size="27" letter-spacing="-1.21">ℛ</tspan><tspan x="2131.51" y="675.44" font-size="19.44" letter-spacing="-0.87">22</tspan></text>
<text font-family='"DejaVu Math TeX Gyre", "DejaVu Serif", serif'><tspan x="2198.5" y="669.5" font-size="27" letter-spacing="-1.21">ℛ</tspan><tspan x="2220.61" y="675.44" font-size="19.44" letter-spacing="-0.87">23</tspan></text>
<text font-family='"DejaVu Math TeX Gyre", "DejaVu Serif", serif'><tspan x="2199.08" y="529.8" font-size="27" letter-spacing="-1.21">𝒫</tspan><tspan x="2220.02" y="535.74" font-size="15.94" letter-spacing="-0.72">𝑋𝑌</tspan><tspan x="2221.19" y="518.46" font-size="19.44" letter-spacing="-0.87">3</tspan></text>
<text font-family='"DejaVu Math TeX Gyre", "DejaVu Serif", serif'><tspan x="2018.8" y="759.2" font-size="27" letter-spacing="-1.21">ℛ</tspan><tspan x="2040.91" y="765.14" font-size="19.44" letter-spacing="-0.87">31</tspan></text>
<text font-family='"DejaVu Math TeX Gyre", "DejaVu Serif", serif'><tspan x="2109.4" y="759.2" font-size="27" letter-spacing="-1.21">ℛ</tspan><tspan x="2131.51" y="765.14" font-size="19.44" letter-spacing="-0.87">32</tspan></text>
<text font-family='"DejaVu Math TeX Gyre", "DejaVu Serif", serif'><tspan x="2198.5" y="759.2" font-size="27" letter-spacing="-1.21">ℛ</tspan><tspan x="2220.61" y="765.14" font-size="19.44" letter-spacing="-0.87">33</tspan></text>
<text x="1699.6" y="897" font-size="28" text-anchor="end" font-weight="bold">Cross-environment risk of expert</text>
<text font-family='"DejaVu Math TeX Gyre", "DejaVu Serif", serif'><tspan x="1704.5" y="897" font-size="27" letter-spacing="-1.21">𝑖</tspan></text>
<text x="1690.8" y="931.4" font-size="28" text-anchor="end" font-weight="bold">evaluating environment</text>
<text font-family='"DejaVu Math TeX Gyre", "DejaVu Serif", serif'><tspan x="1696.7" y="931.4" font-size="27" letter-spacing="-1.21">𝑗</tspan></text>
<text x="1709" y="931.4" font-size="28" font-weight="bold">:</text>
<text font-family='"DejaVu Math TeX Gyre", "DejaVu Serif", serif'><tspan x="1734" y="913.3" font-size="30" letter-spacing="-1.35">ℛ</tspan><tspan x="1758.57" y="919.9" font-size="21.6" letter-spacing="-0.97">𝑖𝑗</tspan><tspan x="1777.74" y="913.3" font-size="30" letter-spacing="-1.35">(𝑓) ≜ 𝔼</tspan><tspan x="1882.8" y="919.9" font-size="21.6" letter-spacing="-0.97">(𝑥,𝑦)~𝒫</tspan><tspan x="1969.83" y="924.65" font-size="13.22" letter-spacing="-0.59">𝑋𝑌</tspan><tspan x="1969.83" y="910.83" font-size="15.55" letter-spacing="-0.7">𝑗</tspan><tspan x="1992.76" y="913.3" font-size="30" letter-spacing="-1.35">[ℓ(𝜔</tspan><tspan x="2057.02" y="919.9" font-size="21.6" letter-spacing="-0.97">𝑖</tspan><tspan x="2065.13" y="913.3" font-size="30" letter-spacing="-1.35"> ∘ 𝜙(𝑥),</tspan><tspan x="2170.86" y="913.3" font-size="30" letter-spacing="-1.35">𝑦)]</tspan></text>
<text font-family='"DejaVu Math TeX Gyre", "DejaVu Serif", serif'><tspan x="1263.7" y="1037.5" font-size="26" letter-spacing="-1.17">𝜃 = {𝜙, 𝜔</tspan><tspan x="1379.74" y="1043.22" font-size="18.72" letter-spacing="-0.84">1</tspan><tspan x="1391.58" y="1037.5" font-size="26" letter-spacing="-1.17">, ⋯ , 𝜔</tspan><tspan x="1472.29" y="1043.22" font-size="18.72" letter-spacing="-0.84">𝑘</tspan><tspan x="1484.73" y="1037.5" font-size="26" letter-spacing="-1.17">}</tspan></text>
<rect x="1382" y="1088" width="77.6" height="54" fill="#ecebea" rx="22"/>
<rect x="1713.8" y="1088" width="85" height="54" fill="#c6c8e0" rx="22"/>
<text font-family='"DejaVu Math TeX Gyre", "DejaVu Serif", serif'><tspan x="1278.4" y="1121.8" font-size="26" letter-spacing="-1.17">min</tspan></text>
<text font-family='"DejaVu Math TeX Gyre", "DejaVu Serif", serif'><tspan x="1294.22" y="1140.3" font-size="19.44" letter-spacing="-0.87">𝜃</tspan></text>
<path d="M1340 1064 H1333 V1164 H1340" fill="none" stroke="#000" stroke-width="1.6"/>
<path d="M1802 1064 H1809 V1164 H1802" fill="none" stroke="#000" stroke-width="1.6"/>
<text transform='translate(1358.5 1127.5) scale(0.86 1)' text-anchor='middle' font-size='51' font-family='"DejaVu Math TeX Gyre", "DejaVu Serif", serif'>∑</text>
<text font-family='"DejaVu Math TeX Gyre", "DejaVu Serif", serif'><tspan x="1349.5" y="1079.5" font-size="19.44" letter-spacing="-0.87">𝐾</tspan></text>
<text font-family='"DejaVu Math TeX Gyre", "DejaVu Serif", serif'><tspan x="1342.29" y="1156.8" font-size="19.44" letter-spacing="-0.87">𝑖=1</tspan></text>
<text font-family='"DejaVu Math TeX Gyre", "DejaVu Serif", serif'><tspan x="1384" y="1121.8" font-size="27" letter-spacing="-1.21">ℛ</tspan><tspan x="1406.11" y="1127.74" font-size="19.44" letter-spacing="-0.87">𝑖𝑖</tspan><tspan x="1419.91" y="1121.8" font-size="27" letter-spacing="-1.21">(𝜃)</tspan></text>
<text font-family='"DejaVu Math TeX Gyre", "DejaVu Serif", serif'><tspan x="1467" y="1121.8" font-size="27" letter-spacing="-1.21">+ 𝛾</tspan></text>
<text font-family='"DejaVu Math TeX Gyre", "DejaVu Serif", serif'><tspan x="1521" y="1121.8" font-size="25.5" letter-spacing="-1.15">max</tspan></text>
<text font-family='"DejaVu Math TeX Gyre", "DejaVu Serif", serif'><tspan x="1513.09" y="1138.8" font-size="18.9" letter-spacing="-0.85">Λ∈Δ</tspan><tspan x="1558.28" y="1142.96" font-size="13.61" letter-spacing="-0.61">𝐾</tspan><tspan x="1571.15" y="1137.24" font-size="9.8" letter-spacing="-0.44">2</tspan></text>
<text transform='translate(1601.5 1127.5) scale(0.86 1)' text-anchor='middle' font-size='51' font-family='"DejaVu Math TeX Gyre", "DejaVu Serif", serif'>∑</text>
<text font-family='"DejaVu Math TeX Gyre", "DejaVu Serif", serif'><tspan x="1592.5" y="1079.5" font-size="19.44" letter-spacing="-0.87">𝐾</tspan></text>
<text font-family='"DejaVu Math TeX Gyre", "DejaVu Serif", serif'><tspan x="1585.29" y="1156.8" font-size="19.44" letter-spacing="-0.87">𝑖=1</tspan></text>
<text transform='translate(1643.5 1127.5) scale(0.86 1)' text-anchor='middle' font-size='51' font-family='"DejaVu Math TeX Gyre", "DejaVu Serif", serif'>∑</text>
<text font-family='"DejaVu Math TeX Gyre", "DejaVu Serif", serif'><tspan x="1634.5" y="1079.5" font-size="19.44" letter-spacing="-0.87">𝐾</tspan></text>
<text font-family='"DejaVu Math TeX Gyre", "DejaVu Serif", serif'><tspan x="1625.56" y="1156.8" font-size="19.44" letter-spacing="-0.87">𝑗=1</tspan></text>
<text font-family='"DejaVu Math TeX Gyre", "DejaVu Serif", serif'><tspan x="1667.5" y="1121.8" font-size="25.5" letter-spacing="-1.15">𝜆</tspan><tspan x="1685.61" y="1127.41" font-size="18.36" letter-spacing="-0.83">𝑖𝑗</tspan></text>
<text font-family='"DejaVu Math TeX Gyre", "DejaVu Serif", serif'><tspan x="1703" y="1121.8" font-size="27" letter-spacing="-1.21">·</tspan></text>
<text font-family='"DejaVu Math TeX Gyre", "DejaVu Serif", serif'><tspan x="1720" y="1121.8" font-size="27" letter-spacing="-1.21">ℛ</tspan><tspan x="1742.11" y="1127.74" font-size="19.44" letter-spacing="-0.87">𝑖𝑗</tspan><tspan x="1759.37" y="1121.8" font-size="27" letter-spacing="-1.21">(𝜃)</tspan></text>
<path d="M1427.3 1248L1427.3 1160M1432.08 1169.9L1427.3 1160L1422.52 1169.9" fill="none" stroke="#000" stroke-width="3" stroke-linejoin="miter"/>
<text font-family='"DejaVu Math TeX Gyre", "DejaVu Serif", serif'><tspan x="1576.3" y="1276" font-size="27" letter-spacing="-1.21">𝑖</tspan></text>
<text font-family='"DejaVu Math TeX Gyre", "DejaVu Serif", serif'><tspan x="1752.16" y="1316.7" font-size="27" letter-spacing="-1.21">𝑖</tspan></text>
<rect x="1911" y="1010" width="89.8" height="90" fill="#eae8e3"/>
<rect x="2000.8" y="1010" width="89.6" height="90" fill="#c6c8e0"/>
<rect x="2090.4" y="1010" width="90.2" height="90" fill="#c6c8e0"/>
<rect x="1911" y="1100" width="89.8" height="89.9" fill="#c6c8e0"/>
<rect x="2000.8" y="1100" width="89.6" height="89.9" fill="#eae8e3"/>
<rect x="2090.4" y="1100" width="90.2" height="89.9" fill="#c6c8e0"/>
<rect x="1911" y="1189.9" width="89.8" height="90.1" fill="#c6c8e0"/>
<rect x="2000.8" y="1189.9" width="89.6" height="90.1" fill="#c6c8e0"/>
<rect x="2090.4" y="1189.9" width="90.2" height="90.1" fill="#eae8e3"/>
<rect x="1911" y="1010" width="269.6" height="270" fill="none" stroke="#000" stroke-width="3"/>
<line x1="2000.8" y1="1010" x2="2000.8" y2="1280" stroke="#000" stroke-width="3"/>
<line x1="2090.4" y1="1010" x2="2090.4" y2="1280" stroke="#000" stroke-width="3"/>
<line x1="1911" y1="1100" x2="2180.6" y2="1100" stroke="#000" stroke-width="3"/>
<line x1="1911" y1="1189.9" x2="2180.6" y2="1189.9" stroke="#000" stroke-width="3"/>
<text font-family='"DejaVu Math TeX Gyre", "DejaVu Serif", serif'><tspan x="1930.23" y="993.5" font-size="27" letter-spacing="-1.21">𝒫</tspan><tspan x="1951.17" y="999.44" font-size="15.94" letter-spacing="-0.72">𝑋𝑌</tspan><tspan x="1952.34" y="982.16" font-size="19.44" letter-spacing="-0.87">1</tspan></text>
<text font-family='"DejaVu Math TeX Gyre", "DejaVu Serif", serif'><tspan x="2193" y="1065.5" font-size="27" letter-spacing="-1.21">𝜔</tspan><tspan x="2216.73" y="1071.44" font-size="19.44" letter-spacing="-0.87">1</tspan></text>
<text font-family='"DejaVu Math TeX Gyre", "DejaVu Serif", serif'><tspan x="1928.5" y="1042" font-size="27" letter-spacing="-1.21">ℛ</tspan><tspan x="1950.61" y="1047.94" font-size="19.44" letter-spacing="-0.87">11</tspan></text>
<text font-family='"DejaVu Math TeX Gyre", "DejaVu Serif", serif'><tspan x="2018.3" y="1042" font-size="27" letter-spacing="-1.21">ℛ</tspan><tspan x="2040.41" y="1047.94" font-size="19.44" letter-spacing="-0.87">12</tspan></text>
<text font-family='"DejaVu Math TeX Gyre", "DejaVu Serif", serif'><tspan x="2107.9" y="1042" font-size="27" letter-spacing="-1.21">ℛ</tspan><tspan x="2130.01" y="1047.94" font-size="19.44" letter-spacing="-0.87">13</tspan></text>
<text font-family='"DejaVu Math TeX Gyre", "DejaVu Serif", serif'><tspan x="2019.93" y="993.5" font-size="27" letter-spacing="-1.21">𝒫</tspan><tspan x="2040.87" y="999.44" font-size="15.94" letter-spacing="-0.72">𝑋𝑌</tspan><tspan x="2042.04" y="982.16" font-size="19.44" letter-spacing="-0.87">2</tspan></text>
<text font-family='"DejaVu Math TeX Gyre", "DejaVu Serif", serif'><tspan x="2193" y="1154.3" font-size="27" letter-spacing="-1.21">𝜔</tspan><tspan x="2216.73" y="1160.24" font-size="19.44" letter-spacing="-0.87">2</tspan></text>
<text font-family='"DejaVu Math TeX Gyre", "DejaVu Serif", serif'><tspan x="1928.5" y="1132" font-size="27" letter-spacing="-1.21">ℛ</tspan><tspan x="1950.61" y="1137.94" font-size="19.44" letter-spacing="-0.87">21</tspan></text>
<text font-family='"DejaVu Math TeX Gyre", "DejaVu Serif", serif'><tspan x="2018.3" y="1132" font-size="27" letter-spacing="-1.21">ℛ</tspan><tspan x="2040.41" y="1137.94" font-size="19.44" letter-spacing="-0.87">22</tspan></text>
<text font-family='"DejaVu Math TeX Gyre", "DejaVu Serif", serif'><tspan x="2107.9" y="1132" font-size="27" letter-spacing="-1.21">ℛ</tspan><tspan x="2130.01" y="1137.94" font-size="19.44" letter-spacing="-0.87">23</tspan></text>
<text font-family='"DejaVu Math TeX Gyre", "DejaVu Serif", serif'><tspan x="2109.83" y="993.5" font-size="27" letter-spacing="-1.21">𝒫</tspan><tspan x="2130.77" y="999.44" font-size="15.94" letter-spacing="-0.72">𝑋𝑌</tspan><tspan x="2131.94" y="982.16" font-size="19.44" letter-spacing="-0.87">3</tspan></text>
<text font-family='"DejaVu Math TeX Gyre", "DejaVu Serif", serif'><tspan x="2193" y="1243.1" font-size="27" letter-spacing="-1.21">𝜔</tspan><tspan x="2216.73" y="1249.04" font-size="19.44" letter-spacing="-0.87">3</tspan></text>
<text font-family='"DejaVu Math TeX Gyre", "DejaVu Serif", serif'><tspan x="1928.5" y="1221.9" font-size="27" letter-spacing="-1.21">ℛ</tspan><tspan x="1950.61" y="1227.84" font-size="19.44" letter-spacing="-0.87">31</tspan></text>
<text font-family='"DejaVu Math TeX Gyre", "DejaVu Serif", serif'><tspan x="2018.3" y="1221.9" font-size="27" letter-spacing="-1.21">ℛ</tspan><tspan x="2040.41" y="1227.84" font-size="19.44" letter-spacing="-0.87">32</tspan></text>
<text font-family='"DejaVu Math TeX Gyre", "DejaVu Serif", serif'><tspan x="2107.9" y="1221.9" font-size="27" letter-spacing="-1.21">ℛ</tspan><tspan x="2130.01" y="1227.84" font-size="19.44" letter-spacing="-0.87">33</tspan></text>
<text font-family='"DejaVu Math TeX Gyre", "DejaVu Serif", serif'><tspan x="1775" y="1359" font-size="25.5" letter-spacing="-1.15">Λ =</tspan></text>
<path d="M1838 1301.5 H1832 V1402.5 H1838" fill="none" stroke="#000" stroke-width="1.6"/>
<path d="M2016 1301.5 H2022 V1402.5 H2016" fill="none" stroke="#000" stroke-width="1.6"/>
<text font-family='"DejaVu Math TeX Gyre", "DejaVu Serif", serif'><tspan x="1840" y="1324" font-size="25.5" letter-spacing="-1.15">𝜆</tspan><tspan x="1858.11" y="1329.61" font-size="18.36" letter-spacing="-0.83">11</tspan></text>
<text font-family='"DejaVu Math TeX Gyre", "DejaVu Serif", serif'><tspan x="1907.7" y="1324" font-size="25.5" letter-spacing="-1.15">𝜆</tspan><tspan x="1925.81" y="1329.61" font-size="18.36" letter-spacing="-0.83">12</tspan></text>
<text font-family='"DejaVu Math TeX Gyre", "DejaVu Serif", serif'><tspan x="1975.3" y="1324" font-size="25.5" letter-spacing="-1.15">𝜆</tspan><tspan x="1993.4" y="1329.61" font-size="18.36" letter-spacing="-0.83">13</tspan></text>
<text font-family='"DejaVu Math TeX Gyre", "DejaVu Serif", serif'><tspan x="1840" y="1358.4" font-size="25.5" letter-spacing="-1.15">𝜆</tspan><tspan x="1858.11" y="1364.01" font-size="18.36" letter-spacing="-0.83">21</tspan></text>
<text font-family='"DejaVu Math TeX Gyre", "DejaVu Serif", serif'><tspan x="1907.7" y="1358.4" font-size="25.5" letter-spacing="-1.15">𝜆</tspan><tspan x="1925.81" y="1364.01" font-size="18.36" letter-spacing="-0.83">22</tspan></text>
<text font-family='"DejaVu Math TeX Gyre", "DejaVu Serif", serif'><tspan x="1975.3" y="1358.4" font-size="25.5" letter-spacing="-1.15">𝜆</tspan><tspan x="1993.4" y="1364.01" font-size="18.36" letter-spacing="-0.83">23</tspan></text>
<text font-family='"DejaVu Math TeX Gyre", "DejaVu Serif", serif'><tspan x="1840" y="1392.6" font-size="25.5" letter-spacing="-1.15">𝜆</tspan><tspan x="1858.11" y="1398.21" font-size="18.36" letter-spacing="-0.83">31</tspan></text>
<text font-family='"DejaVu Math TeX Gyre", "DejaVu Serif", serif'><tspan x="1907.7" y="1392.6" font-size="25.5" letter-spacing="-1.15">𝜆</tspan><tspan x="1925.81" y="1398.21" font-size="18.36" letter-spacing="-0.83">32</tspan></text>
<text font-family='"DejaVu Math TeX Gyre", "DejaVu Serif", serif'><tspan x="1975.3" y="1392.6" font-size="25.5" letter-spacing="-1.15">𝜆</tspan><tspan x="1993.4" y="1398.21" font-size="18.36" letter-spacing="-0.83">33</tspan></text>
<text x="2032" y="1357.5" font-size="21.5" fill="#b3b3b3">(dynamically updated to</text>
<text x="2060.6" y="1386.8" font-size="21.5" fill="#b3b3b3">emphasize large</text>
<text font-family='"DejaVu Math TeX Gyre", "DejaVu Serif", serif' fill="#b3b3b3"><tspan x="2224.33" y="1386.8" font-size="20" letter-spacing="-0.9">ℛ</tspan><tspan x="2240.71" y="1391.2" font-size="14.4" letter-spacing="-0.65">𝑖𝑗</tspan></text>
<text x="2253.49" y="1386.8" font-size="21.5" fill="#b3b3b3">)</text>
<line x1="1226.94" y1="1660.98" x2="1491.42" y2="1656.57" stroke="#777" stroke-width="1" stroke-dasharray="1 2.4"/>
<line x1="1491.42" y1="1656.57" x2="1370.94" y2="1588" stroke="#777" stroke-width="1" stroke-dasharray="1 2.4"/>
<line x1="1370.94" y1="1588" x2="1226.94" y2="1660.98" stroke="#777" stroke-width="1" stroke-dasharray="1 2.4"/>
<path d="M1299.43 1645.3L1299.43 1461.63M1301.17 1465.23L1299.43 1461.63L1297.69 1465.23" fill="none" stroke="#333" stroke-width="0.9" stroke-linejoin="miter"/>
<path d="M1223.02 1619.83L1538.93 1637.96M1535.24 1639.49L1538.93 1637.96L1535.44 1636.01" fill="none" stroke="#333" stroke-width="0.9" stroke-linejoin="miter"/>
<path d="M1327.34 1572.81L1271.02 1675.67M1271.22 1671.67L1271.02 1675.67L1274.27 1673.35" fill="none" stroke="#333" stroke-width="0.9" stroke-linejoin="miter"/>
<polygon points="1226.94,1547.34 1370.94,1502.28 1491.42,1570.85" fill="#dce3f8"/>
<line x1="1226.94" y1="1660.98" x2="1226.94" y2="1547.34" stroke="#777" stroke-width="1" stroke-dasharray="1 2.4"/>
<line x1="1370.94" y1="1588" x2="1370.94" y2="1502.28" stroke="#777" stroke-width="1" stroke-dasharray="1 2.4"/>
<line x1="1491.42" y1="1656.57" x2="1491.42" y2="1570.85" stroke="#777" stroke-width="1" stroke-dasharray="1 2.4"/>
<circle cx="1226.94" cy="1547.34" r="4.2" fill="#3f63dd"/>
<circle cx="1370.94" cy="1502.28" r="4.2" fill="#3f63dd"/>
<circle cx="1491.42" cy="1570.85" r="4.2" fill="#3f63dd"/>
<circle cx="1226.94" cy="1660.98" r="1.8" fill="#fff" stroke="#333" stroke-width="0.8"/>
<circle cx="1491.42" cy="1656.57" r="1.8" fill="#fff" stroke="#333" stroke-width="0.8"/>
<circle cx="1370.94" cy="1588" r="1.8" fill="#fff" stroke="#333" stroke-width="0.8"/>
<text font-family='"DejaVu Math TeX Gyre", "DejaVu Serif", serif'><tspan x="1274.45" y="1468.98" font-size="16.2" letter-spacing="-0.73">ℛ</tspan></text>
<text x="1199.02" y="1664.89" font-size="15" font-family='"Liberation Serif", serif' fill="#222"><tspan font-style="italic">e</tspan><tspan font-size="10" dy="3">1</tspan></text>
<text x="1504.65" y="1660" font-size="15" font-family='"Liberation Serif", serif' fill="#222"><tspan font-style="italic">e</tspan><tspan font-size="10" dy="3">2</tspan></text>
<text x="1383.67" y="1591.43" font-size="15" font-family='"Liberation Serif", serif' fill="#222"><tspan font-style="italic">e</tspan><tspan font-size="10" dy="3">3</tspan></text>
<text x="1366.04" y="1711.42" font-size="20.5" font-family='"Liberation Serif", serif' text-anchor="middle">(a)</text>
<line x1="1586.93" y1="1660.98" x2="1851.42" y2="1656.57" stroke="#777" stroke-width="1" stroke-dasharray="1 2.4"/>
<line x1="1851.42" y1="1656.57" x2="1730.93" y2="1588" stroke="#777" stroke-width="1" stroke-dasharray="1 2.4"/>
<line x1="1730.93" y1="1588" x2="1586.93" y2="1660.98" stroke="#777" stroke-width="1" stroke-dasharray="1 2.4"/>
<path d="M1659.42 1645.3L1659.42 1461.63M1661.16 1465.23L1659.42 1461.63L1657.68 1465.23" fill="none" stroke="#333" stroke-width="0.9" stroke-linejoin="miter"/>
<path d="M1583.01 1619.83L1898.93 1637.96M1895.23 1639.49L1898.93 1637.96L1895.43 1636.01" fill="none" stroke="#333" stroke-width="0.9" stroke-linejoin="miter"/>
<path d="M1687.34 1572.81L1631.01 1675.67M1631.22 1671.67L1631.01 1675.67L1634.27 1673.35" fill="none" stroke="#333" stroke-width="0.9" stroke-linejoin="miter"/>
<line x1="1586.93" y1="1660.98" x2="1586.93" y2="1518.94" stroke="#777" stroke-width="1" stroke-dasharray="1 2.4"/>
<line x1="1730.93" y1="1588" x2="1730.93" y2="1473.88" stroke="#777" stroke-width="1" stroke-dasharray="1 2.4"/>
<line x1="1851.42" y1="1656.57" x2="1851.42" y2="1542.45" stroke="#777" stroke-width="1" stroke-dasharray="1 2.4"/>
<polygon points="1586.93,1518.94 1730.93,1473.88 1851.42,1599.26" fill="#4a6fe0" stroke="#7f97e6" stroke-width="0.8" fill-opacity="0.22" stroke-dasharray="1.5 2"/>
<polygon points="1586.93,1547.34 1730.93,1502.28 1851.42,1570.85" fill="#4a6fe0" stroke="#7f97e6" stroke-width="0.8" fill-opacity="0.22" stroke-dasharray="1.5 2"/>
<polygon points="1586.93,1604.16 1730.93,1530.69 1851.42,1542.45" fill="#4a6fe0" stroke="#7f97e6" stroke-width="0.8" fill-opacity="0.22" stroke-dasharray="1.5 2"/>
<circle cx="1586.93" cy="1518.94" r="4.2" fill="#3f63dd"/>
<circle cx="1730.93" cy="1473.88" r="4.2" fill="#3f63dd"/>
<circle cx="1851.42" cy="1599.26" r="4.2" fill="#3f63dd"/>
<circle cx="1586.93" cy="1547.34" r="4.2" fill="#3f63dd"/>
<circle cx="1730.93" cy="1502.28" r="4.2" fill="#3f63dd"/>
<circle cx="1851.42" cy="1570.85" r="4.2" fill="#3f63dd"/>
<circle cx="1586.93" cy="1604.16" r="4.2" fill="#3f63dd"/>
<circle cx="1730.93" cy="1530.69" r="4.2" fill="#3f63dd"/>
<circle cx="1851.42" cy="1542.45" r="4.2" fill="#3f63dd"/>
<circle cx="1586.93" cy="1660.98" r="1.8" fill="#fff" stroke="#333" stroke-width="0.8"/>
<circle cx="1851.42" cy="1656.57" r="1.8" fill="#fff" stroke="#333" stroke-width="0.8"/>
<circle cx="1730.93" cy="1588" r="1.8" fill="#fff" stroke="#333" stroke-width="0.8"/>
<text font-family='"DejaVu Math TeX Gyre", "DejaVu Serif", serif'><tspan x="1634.44" y="1468.98" font-size="16.2" letter-spacing="-0.73">ℛ</tspan></text>
<text x="1559.01" y="1664.89" font-size="15" font-family='"Liberation Serif", serif' fill="#222"><tspan font-style="italic">e</tspan><tspan font-size="10" dy="3">1</tspan></text>
<text x="1864.64" y="1660" font-size="15" font-family='"Liberation Serif", serif' fill="#222"><tspan font-style="italic">e</tspan><tspan font-size="10" dy="3">2</tspan></text>
<text x="1743.66" y="1591.43" font-size="15" font-family='"Liberation Serif", serif' fill="#222"><tspan font-style="italic">e</tspan><tspan font-size="10" dy="3">3</tspan></text>
<text x="1726.03" y="1711.42" font-size="20.5" font-family='"Liberation Serif", serif' text-anchor="middle">(b)</text>
<line x1="1947.42" y1="1660.98" x2="2211.9" y2="1656.57" stroke="#777" stroke-width="1" stroke-dasharray="1 2.4"/>
<line x1="2211.9" y1="1656.57" x2="2091.41" y2="1588" stroke="#777" stroke-width="1" stroke-dasharray="1 2.4"/>
<line x1="2091.41" y1="1588" x2="1947.42" y2="1660.98" stroke="#777" stroke-width="1" stroke-dasharray="1 2.4"/>
<path d="M2019.9 1645.3L2019.9 1461.63M2021.64 1465.23L2019.9 1461.63L2018.16 1465.23" fill="none" stroke="#333" stroke-width="0.9" stroke-linejoin="miter"/>
<path d="M1943.5 1619.83L2259.41 1637.96M2255.71 1639.49L2259.41 1637.96L2255.91 1636.01" fill="none" stroke="#333" stroke-width="0.9" stroke-linejoin="miter"/>
<path d="M2047.82 1572.81L1991.5 1675.67M1991.7 1671.67L1991.5 1675.67L1994.75 1673.35" fill="none" stroke="#333" stroke-width="0.9" stroke-linejoin="miter"/>
<line x1="1947.42" y1="1660.98" x2="1947.42" y2="1604.16" stroke="#777" stroke-width="1" stroke-dasharray="1 2.4"/>
<line x1="2091.41" y1="1588" x2="2091.41" y2="1473.88" stroke="#777" stroke-width="1" stroke-dasharray="1 2.4"/>
<line x1="2211.9" y1="1656.57" x2="2211.9" y2="1599.26" stroke="#777" stroke-width="1" stroke-dasharray="1 2.4"/>
<polygon points="1947.42,1518.94 2091.41,1473.88 2211.9,1542.45" fill="#e8ecfa" stroke="#6f8ce6" stroke-width="1.1"/>
<polygon points="1947.42,1518.94 2211.9,1542.45 2211.9,1599.26 1947.42,1604.16" fill="#c3cff3" stroke="#6f8ce6" stroke-width="1.1" fill-opacity="0.82"/>
<line x1="1947.42" y1="1604.16" x2="2091.41" y2="1559.1" stroke="#6f7fb5" stroke-width="1" stroke-dasharray="1 2.4"/>
<line x1="2091.41" y1="1559.1" x2="2211.9" y2="1599.26" stroke="#6f7fb5" stroke-width="1" stroke-dasharray="1 2.4"/>
<line x1="2091.41" y1="1559.1" x2="2091.41" y2="1473.88" stroke="#8c9ac8" stroke-width="1" stroke-dasharray="1 2.4"/>
<circle cx="1947.42" cy="1518.94" r="4.2" fill="#3f63dd"/>
<circle cx="2091.41" cy="1473.88" r="4.2" fill="#3f63dd"/>
<circle cx="2211.9" cy="1542.45" r="4.2" fill="#3f63dd"/>
<circle cx="2211.9" cy="1599.26" r="4.2" fill="#3f63dd"/>
<circle cx="1947.42" cy="1604.16" r="4.2" fill="#3f63dd"/>
<circle cx="2091.41" cy="1559.1" r="4.2" fill="#3f63dd"/>
<circle cx="1947.42" cy="1660.98" r="1.8" fill="#fff" stroke="#333" stroke-width="0.8"/>
<circle cx="2211.9" cy="1656.57" r="1.8" fill="#fff" stroke="#333" stroke-width="0.8"/>
<circle cx="2091.41" cy="1588" r="1.8" fill="#fff" stroke="#333" stroke-width="0.8"/>
<text font-family='"DejaVu Math TeX Gyre", "DejaVu Serif", serif'><tspan x="1994.93" y="1468.98" font-size="16.2" letter-spacing="-0.73">ℛ</tspan></text>
<text x="1919.5" y="1664.89" font-size="15" font-family='"Liberation Serif", serif' fill="#222"><tspan font-style="italic">e</tspan><tspan font-size="10" dy="3">1</tspan></text>
<text x="2225.13" y="1660" font-size="15" font-family='"Liberation Serif", serif' fill="#222"><tspan font-style="italic">e</tspan><tspan font-size="10" dy="3">2</tspan></text>
<text x="2104.15" y="1591.43" font-size="15" font-family='"Liberation Serif", serif' fill="#222"><tspan font-style="italic">e</tspan><tspan font-size="10" dy="3">3</tspan></text>
<text x="2086.52" y="1711.42" font-size="20.5" font-family='"Liberation Serif", serif' text-anchor="middle">(c)</text>
<text font-family='"DejaVu Math TeX Gyre", "DejaVu Serif", serif'><tspan x="1501.55" y="1837" font-size="26" letter-spacing="-1.17">𝐾</tspan><tspan x="1526.14" y="1826.08" font-size="18.72" letter-spacing="-0.84">2</tspan><tspan x="1537.99" y="1837" font-size="26" letter-spacing="-1.17"> = 9</tspan></text>
<rect x="1267" y="1958" width="443.3" height="275" fill="#fff" stroke="#333" stroke-width="1.2"/>
<line x1="1267" y1="2014.3" x2="1710.3" y2="2014.3" stroke="#e3e3e3" stroke-width="1" stroke-dasharray="4 3"/>
<text x="1258" y="2021.3" font-size="20" fill="#222" text-anchor="end">2.0</text>
<line x1="1267" y1="2069.6" x2="1710.3" y2="2069.6" stroke="#e3e3e3" stroke-width="1" stroke-dasharray="4 3"/>
<text x="1258" y="2076.6" font-size="20" fill="#222" text-anchor="end">1.5</text>
<line x1="1267" y1="2125" x2="1710.3" y2="2125" stroke="#e3e3e3" stroke-width="1" stroke-dasharray="4 3"/>
<text x="1258" y="2132" font-size="20" fill="#222" text-anchor="end">1.0</text>
<line x1="1267" y1="2180.8" x2="1710.3" y2="2180.8" stroke="#e3e3e3" stroke-width="1" stroke-dasharray="4 3"/>
<text x="1258" y="2187.8" font-size="20" fill="#222" text-anchor="end">0.5</text>
<line x1="1287.7" y1="1958" x2="1287.7" y2="2233" stroke="#e3e3e3" stroke-width="1" stroke-dasharray="4 3"/>
<text x="1287.7" y="2255.7" font-size="20" fill="#222" text-anchor="middle">0</text>
<line x1="1382" y1="1958" x2="1382" y2="2233" stroke="#e3e3e3" stroke-width="1" stroke-dasharray="4 3"/>
<text x="1382" y="2255.7" font-size="20" fill="#222" text-anchor="middle">2</text>
<line x1="1477" y1="1958" x2="1477" y2="2233" stroke="#e3e3e3" stroke-width="1" stroke-dasharray="4 3"/>
<text x="1477" y="2255.7" font-size="20" fill="#222" text-anchor="middle">3</text>
<line x1="1571.7" y1="1958" x2="1571.7" y2="2233" stroke="#e3e3e3" stroke-width="1" stroke-dasharray="4 3"/>
<text x="1571.7" y="2255.7" font-size="20" fill="#222" text-anchor="middle">4</text>
<line x1="1666" y1="1958" x2="1666" y2="2233" stroke="#e3e3e3" stroke-width="1" stroke-dasharray="4 3"/>
<text x="1666" y="2255.7" font-size="20" fill="#222" text-anchor="middle">6</text>
<text x="1488.65" y="2280" font-size="20.5" fill="#222" text-anchor="middle">Iteration (×10⁴)</text>
<text x="0" y="0" font-size="20.5" fill="#222" text-anchor="middle" transform="translate(1220 2095.5) rotate(-90)">Max Risk Value</text>
<polygon points="1287.7,2139.15 1288.66,2144.57 1289.62,2149.97 1290.57,2153.99 1291.53,2158.09 1292.49,2161.39 1293.45,2166.12 1294.4,2169.13 1295.36,2170.83 1296.32,2174.53 1297.28,2176.27 1298.24,2178.21 1299.19,2179.67 1300.15,2182.6 1301.11,2184.63 1302.07,2185.75 1303.03,2186.54 1303.98,2186.77 1304.94,2188.25 1305.9,2190.42 1306.86,2191.01 1307.82,2192.64 1308.77,2193.5 1309.73,2192.78 1310.69,2194.71 1311.65,2194.43 1312.6,2195.35 1313.56,2194.68 1314.52,2195.61 1315.48,2197.74 1316.44,2197.96 1317.39,2198.86 1318.35,2198.51 1319.31,2197.89 1320.27,2199.21 1321.23,2197.49 1322.18,2198.75 1323.14,2198.66 1324.1,2197.9 1325.06,2200.84 1326.01,2199.84 1326.97,2198.39 1327.93,2199.17 1328.89,2198.68 1329.85,2198.88 1330.8,2200.74 1331.76,2199.6 1332.72,2199.67 1333.68,2201.35 1334.63,2200.91 1335.59,2201.18 1336.55,2201.85 1337.51,2200.02 1338.47,2201.97 1339.42,2202.25 1340.38,2201.2 1341.34,2200.41 1342.3,2200.4 1343.26,2201.45 1344.21,2201.28 1345.17,2199.88 1346.13,2201.08 1347.09,2202.59 1348.05,2199.24 1349,2199.67 1349.96,2199.99 1350.92,2201.7 1351.88,2199.94 1352.83,2201.68 1353.79,2200.68 1354.75,2202.05 1355.71,2199.78 1356.67,2202.1 1357.62,2201.3 1358.58,2199.9 1359.54,2202.87 1360.5,2201 1361.45,2202.58 1362.41,2200.97 1363.37,2199.74 1364.33,2200.65 1365.29,2200.83 1366.24,2201.96 1367.2,2202.33 1368.16,2201.57 1369.12,2201.29 1370.08,2203.23 1371.03,2199.8 1371.99,2201.21 1372.95,2200.79 1373.91,2201.95 1374.87,2202.58 1375.82,2200.72 1376.78,2203.38 1377.74,2202.85 1378.7,2202.81 1379.65,2201.91 1380.61,2202.51 1381.57,2200.43 1382.53,2202.98 1383.49,2202 1384.44,2202.74 1385.4,2201.59 1386.36,2203.29 1387.32,2201.84 1388.28,2201.6 1389.23,2200.97 1390.19,2203.82 1391.15,2202.06 1392.11,2200.6 1393.06,2203.52 1394.02,2202.76 1394.98,2203.01 1395.94,2202.4 1396.9,2203.5 1397.85,2202.66 1398.81,2200.63 1399.77,2202.82 1400.73,2201.43 1401.68,2202.32 1402.64,2203.29 1403.6,2203.23 1404.56,2201.05 1405.52,2204.25 1406.47,2203.67 1407.43,2203.56 1408.39,2201.89 1409.35,2202.27 1410.31,2202.36 1411.26,2204.34 1412.22,2204.03 1413.18,2202.18 1414.14,2201.31 1415.1,2203.45 1416.05,2202.39 1417.01,2201.07 1417.97,2202.87 1418.93,2202.37 1419.88,2203.91 1420.84,2204.41 1421.8,2201.2 1422.76,2202.73 1423.72,2201.43 1424.67,2203.07 1425.63,2204.75 1426.59,2202.89 1427.55,2204.05 1428.51,2203.42 1429.46,2202.26 1430.42,2204.61 1431.38,2201.36 1432.34,2203.96 1433.29,2201.88 1434.25,2203.95 1435.21,2201.4 1436.17,2201.34 1437.13,2202.09 1438.08,2204.45 1439.04,2204.59 1440,2202.19 1440.96,2203.23 1441.91,2204.78 1442.87,2204.21 1443.83,2204.97 1444.79,2202.34 1445.75,2202.7 1446.7,2202.88 1447.66,2205.16 1448.62,2202.52 1449.58,2204.59 1450.54,2203.45 1451.49,2203.53 1452.45,2201.67 1453.41,2204.54 1454.37,2203.29 1455.33,2203.8 1456.28,2205.27 1457.24,2204.73 1458.2,2202.41 1459.16,2205.29 1460.11,2202.5 1461.07,2202.18 1462.03,2203.02 1462.99,2202.72 1463.95,2204.6 1464.9,2202.05 1465.86,2205.06 1466.82,2204.64 1467.78,2204.49 1468.74,2204.65 1469.69,2203.29 1470.65,2202.19 1471.61,2202.96 1472.57,2205.27 1473.52,2205.35 1474.48,2204.62 1475.44,2205.55 1476.4,2202.38 1477.36,2204.34 1478.31,2204.23 1479.27,2204.44 1480.23,2205.1 1481.19,2204.71 1482.14,2205.45 1483.1,2204.7 1484.06,2203.14 1485.02,2205.58 1485.98,2204.94 1486.93,2204.2 1487.89,2202.73 1488.85,2203.72 1489.81,2205.29 1490.77,2202.8 1491.72,2202.18 1492.68,2205.45 1493.64,2204.15 1494.6,2203 1495.56,2202.88 1496.51,2204.59 1497.47,2202.95 1498.43,2202.45 1499.39,2203.55 1500.34,2203.35 1501.3,2203.63 1502.26,2202.73 1503.22,2203.39 1504.18,2203.54 1505.13,2202.91 1506.09,2202.66 1507.05,2205.39 1508.01,2203.87 1508.97,2203.45 1509.92,2204.18 1510.88,2202.85 1511.84,2204.81 1512.8,2204.83 1513.75,2203.02 1514.71,2205.45 1515.67,2203.88 1516.63,2202.65 1517.59,2202.7 1518.54,2203.1 1519.5,2202.91 1520.46,2202.6 1521.42,2204.66 1522.38,2204.68 1523.33,2205.72 1524.29,2203.88 1525.25,2206.03 1526.21,2205.3 1527.16,2206.1 1528.12,2205.61 1529.08,2204.88 1530.04,2206.1 1531,2206.19 1531.95,2202.76 1532.91,2206.3 1533.87,2203.79 1534.83,2205 1535.79,2203.97 1536.74,2204.91 1537.7,2203.95 1538.66,2205.16 1539.62,2205.67 1540.57,2205.11 1541.53,2205.88 1542.49,2206.39 1543.45,2206.12 1544.41,2205.02 1545.36,2202.96 1546.32,2203.08 1547.28,2206.45 1548.24,2204.67 1549.2,2204.17 1550.15,2206.36 1551.11,2205.68 1552.07,2203.03 1553.03,2204 1553.98,2206.09 1554.94,2203.37 1555.9,2203.82 1556.86,2206.01 1557.82,2204.15 1558.77,2203.65 1559.73,2206.15 1560.69,2205.73 1561.65,2204.23 1562.61,2204.5 1563.56,2206.68 1564.52,2204.94 1565.48,2203.16 1566.44,2203.4 1567.39,2204.8 1568.35,2206.01 1569.31,2204.36 1570.27,2206.63 1571.23,2204.68 1572.18,2204.99 1573.14,2206.13 1574.1,2203.94 1575.06,2205.97 1576.02,2206.06 1576.97,2204.31 1577.93,2204.65 1578.89,2206.79 1579.85,2203.1 1580.8,2203.81 1581.76,2205.22 1582.72,2204.96 1583.68,2203.81 1584.64,2204.45 1585.59,2203.2 1586.55,2203.14 1587.51,2205.46 1588.47,2206.06 1589.42,2206.81 1590.38,2205.96 1591.34,2206.2 1592.3,2205.01 1593.26,2205.14 1594.21,2203.18 1595.17,2204.51 1596.13,2205.45 1597.09,2205.03 1598.05,2205.77 1599,2203.26 1599.96,2203.61 1600.92,2206.39 1601.88,2206 1602.84,2203.88 1603.79,2204.64 1604.75,2204.09 1605.71,2203.57 1606.67,2206.89 1607.62,2207.03 1608.58,2203.38 1609.54,2204.52 1610.5,2204.49 1611.46,2203.49 1612.41,2205.76 1613.37,2205.94 1614.33,2206.71 1615.29,2203.75 1616.24,2205.71 1617.2,2205.58 1618.16,2206.92 1619.12,2204.23 1620.08,2205.88 1621.03,2206.98 1621.99,2203.73 1622.95,2204.58 1623.91,2206.07 1624.87,2206.03 1625.82,2205.84 1626.78,2206.16 1627.74,2205.37 1628.7,2205.1 1629.65,2204.23 1630.61,2205.63 1631.57,2204.87 1632.53,2203.69 1633.49,2206.32 1634.44,2206.57 1635.4,2205.58 1636.36,2205.53 1637.32,2207.11 1638.28,2206.7 1639.23,2205.11 1640.19,2207.03 1641.15,2205.97 1642.11,2204.54 1643.07,2203.75 1644.02,2206.8 1644.98,2205.73 1645.94,2206.31 1646.9,2206.7 1647.85,2204.16 1648.81,2205.87 1649.77,2206.66 1650.73,2206.85 1651.69,2206.53 1652.64,2205.98 1653.6,2205.07 1654.56,2203.94 1655.52,2205.42 1656.47,2203.87 1657.43,2206.3 1658.39,2203.64 1659.35,2204.9 1660.31,2204.5 1661.26,2206.69 1662.22,2203.98 1663.18,2205.69 1664.14,2205.86 1665.1,2204.84 1666.05,2205.09 1667.01,2204.75 1667.97,2204.35 1668.93,2204.75 1669.88,2205.86 1670.84,2206.74 1671.8,2205.37 1672.76,2207.15 1673.72,2204.63 1674.67,2204.46 1675.63,2203.7 1676.59,2205.15 1677.55,2207.16 1678.51,2206.28 1679.46,2207.24 1680.42,2204.53 1681.38,2207.13 1682.34,2204.28 1683.3,2205.11 1684.25,2205.11 1685.21,2205.08 1686.17,2204.52 1687.13,2205.06 1688.08,2207.31 1689.04,2206.98 1690,2205.26 1690,2215.13 1689.04,2216.43 1688.08,2217.61 1687.13,2218.03 1686.17,2215.04 1685.21,2217.68 1684.25,2215.72 1683.3,2215.59 1682.34,2216.98 1681.38,2215.33 1680.42,2218.52 1679.46,2217.95 1678.51,2217.99 1677.55,2218.14 1676.59,2215.75 1675.63,2216.16 1674.67,2218.15 1673.72,2215.63 1672.76,2217.81 1671.8,2217.57 1670.84,2216.23 1669.88,2217.44 1668.93,2217.12 1667.97,2218.03 1667.01,2218.09 1666.05,2215.94 1665.1,2217 1664.14,2218.26 1663.18,2217.25 1662.22,2215.78 1661.26,2217.49 1660.31,2215.57 1659.35,2216.18 1658.39,2215.99 1657.43,2216.94 1656.47,2217.51 1655.52,2215.5 1654.56,2215.23 1653.6,2217.13 1652.64,2218.07 1651.69,2217.84 1650.73,2218.57 1649.77,2215.39 1648.81,2216 1647.85,2215.5 1646.9,2218.03 1645.94,2216.49 1644.98,2217.48 1644.02,2215.53 1643.07,2215.44 1642.11,2216.71 1641.15,2215.96 1640.19,2216.26 1639.23,2218.42 1638.28,2217.07 1637.32,2215.55 1636.36,2218.43 1635.4,2215.43 1634.44,2217.5 1633.49,2218.05 1632.53,2216.56 1631.57,2216.77 1630.61,2217.31 1629.65,2218.09 1628.7,2216.34 1627.74,2217.41 1626.78,2217.63 1625.82,2215.56 1624.87,2216.49 1623.91,2217.92 1622.95,2216.21 1621.99,2216.99 1621.03,2215.49 1620.08,2216.57 1619.12,2217.24 1618.16,2215.63 1617.2,2215.87 1616.24,2216.51 1615.29,2217.45 1614.33,2216.48 1613.37,2216.17 1612.41,2215.26 1611.46,2217.92 1610.5,2216.38 1609.54,2216.9 1608.58,2215.86 1607.62,2215.92 1606.67,2218.34 1605.71,2215.45 1604.75,2216.61 1603.79,2217.43 1602.84,2218.07 1601.88,2214.99 1600.92,2217.01 1599.96,2215.23 1599,2217.59 1598.05,2216.19 1597.09,2216.7 1596.13,2217.95 1595.17,2217.19 1594.21,2216.45 1593.26,2215.78 1592.3,2216.95 1591.34,2215.41 1590.38,2215.63 1589.42,2217.93 1588.47,2215.58 1587.51,2216.68 1586.55,2215.58 1585.59,2217.18 1584.64,2216.27 1583.68,2217.85 1582.72,2216.52 1581.76,2214.96 1580.8,2215.41 1579.85,2216.47 1578.89,2215.78 1577.93,2214.84 1576.97,2218 1576.02,2217.46 1575.06,2214.57 1574.1,2216.76 1573.14,2215.79 1572.18,2217.63 1571.23,2216.8 1570.27,2215.74 1569.31,2217.76 1568.35,2214.58 1567.39,2215.52 1566.44,2215.21 1565.48,2214.37 1564.52,2217.13 1563.56,2214.47 1562.61,2215.29 1561.65,2216.57 1560.69,2215.87 1559.73,2217.42 1558.77,2217.1 1557.82,2216.42 1556.86,2214.75 1555.9,2217.75 1554.94,2214.75 1553.98,2215.97 1553.03,2214.79 1552.07,2215.9 1551.11,2214.91 1550.15,2216.48 1549.2,2214.94 1548.24,2217.31 1547.28,2217.36 1546.32,2214.71 1545.36,2214.68 1544.41,2215.56 1543.45,2216.42 1542.49,2216.18 1541.53,2217.42 1540.57,2217.7 1539.62,2217.39 1538.66,2217.26 1537.7,2215.72 1536.74,2214.59 1535.79,2214.72 1534.83,2215.66 1533.87,2214.9 1532.91,2216.26 1531.95,2215.94 1531,2215.47 1530.04,2215.06 1529.08,2217.69 1528.12,2215.79 1527.16,2216.63 1526.21,2215.85 1525.25,2214.86 1524.29,2215.57 1523.33,2214.13 1522.38,2215.97 1521.42,2214.75 1520.46,2216.39 1519.5,2217.44 1518.54,2217.05 1517.59,2215.11 1516.63,2214.31 1515.67,2215.41 1514.71,2216.35 1513.75,2216.47 1512.8,2217.15 1511.84,2216.72 1510.88,2214.38 1509.92,2215.24 1508.97,2215.88 1508.01,2215.21 1507.05,2216.85 1506.09,2214.4 1505.13,2214.14 1504.18,2216.64 1503.22,2215.19 1502.26,2213.81 1501.3,2216.01 1500.34,2216.52 1499.39,2215.62 1498.43,2215.93 1497.47,2214.78 1496.51,2216.34 1495.56,2216.34 1494.6,2213.81 1493.64,2214.74 1492.68,2217.12 1491.72,2213.86 1490.77,2215.93 1489.81,2216.63 1488.85,2215.31 1487.89,2215.15 1486.93,2216.67 1485.98,2216.74 1485.02,2214.84 1484.06,2215.21 1483.1,2215.4 1482.14,2214.55 1481.19,2216.07 1480.23,2215.16 1479.27,2214.67 1478.31,2215.07 1477.36,2216.93 1476.4,2215.11 1475.44,2214.49 1474.48,2215.57 1473.52,2214.76 1472.57,2213.93 1471.61,2215.54 1470.65,2214.66 1469.69,2215.49 1468.74,2215.97 1467.78,2215.62 1466.82,2213.8 1465.86,2213.19 1464.9,2213.09 1463.95,2214.49 1462.99,2216.51 1462.03,2214.25 1461.07,2214.11 1460.11,2215.05 1459.16,2213.68 1458.2,2215.89 1457.24,2214.88 1456.28,2216.2 1455.33,2213.53 1454.37,2214.24 1453.41,2216.26 1452.45,2215.46 1451.49,2216.31 1450.54,2216.38 1449.58,2216.27 1448.62,2215.2 1447.66,2213.24 1446.7,2213.06 1445.75,2215.11 1444.79,2213.07 1443.83,2213.48 1442.87,2216.29 1441.91,2216.35 1440.96,2215 1440,2216.01 1439.04,2214.37 1438.08,2214.56 1437.13,2214.42 1436.17,2213.69 1435.21,2215.35 1434.25,2213.64 1433.29,2213.94 1432.34,2214.71 1431.38,2215.33 1430.42,2213.94 1429.46,2215.67 1428.51,2214.73 1427.55,2214.49 1426.59,2213.28 1425.63,2215.29 1424.67,2214.08 1423.72,2212.85 1422.76,2214.58 1421.8,2213.64 1420.84,2213.07 1419.88,2215.45 1418.93,2213.35 1417.97,2212.77 1417.01,2215.46 1416.05,2215.26 1415.1,2214.19 1414.14,2215.32 1413.18,2213.54 1412.22,2215 1411.26,2212.7 1410.31,2215.22 1409.35,2213.39 1408.39,2214.92 1407.43,2215.6 1406.47,2214.88 1405.52,2214.7 1404.56,2215.55 1403.6,2212.9 1402.64,2215.38 1401.68,2215.59 1400.73,2214.09 1399.77,2214.55 1398.81,2214.54 1397.85,2212.51 1396.9,2212.05 1395.94,2213.61 1394.98,2215.28 1394.02,2213.98 1393.06,2214.98 1392.11,2214.82 1391.15,2212.3 1390.19,2211.8 1389.23,2213.46 1388.28,2215.07 1387.32,2212.57 1386.36,2214.4 1385.4,2214.21 1384.44,2212.7 1383.49,2214.9 1382.53,2213.16 1381.57,2212.34 1380.61,2211.58 1379.65,2214.57 1378.7,2214.47 1377.74,2213.46 1376.78,2213.39 1375.82,2214.69 1374.87,2212.19 1373.91,2211.68 1372.95,2212.71 1371.99,2212.46 1371.03,2212.19 1370.08,2211.85 1369.12,2211.95 1368.16,2213.88 1367.2,2213.84 1366.24,2211.74 1365.29,2213.75 1364.33,2211.73 1363.37,2214.5 1362.41,2211 1361.45,2214.25 1360.5,2214.42 1359.54,2212.44 1358.58,2213.85 1357.62,2213.17 1356.67,2213.5 1355.71,2211.92 1354.75,2211.52 1353.79,2212.4 1352.83,2210.8 1351.88,2210.89 1350.92,2212.49 1349.96,2212.71 1349,2213.43 1348.05,2210.91 1347.09,2211.88 1346.13,2213.11 1345.17,2209.82 1344.21,2211.14 1343.26,2210.48 1342.3,2212.4 1341.34,2211.66 1340.38,2210.77 1339.42,2212.02 1338.47,2209.71 1337.51,2209.21 1336.55,2210.45 1335.59,2211.23 1334.63,2210.9 1333.68,2209.41 1332.72,2209.19 1331.76,2210.7 1330.8,2209.97 1329.85,2211.06 1328.89,2208.59 1327.93,2209.4 1326.97,2207.79 1326.01,2209.63 1325.06,2208.65 1324.1,2207.41 1323.14,2207.82 1322.18,2209.17 1321.23,2208.82 1320.27,2207.8 1319.31,2205.68 1318.35,2205.26 1317.39,2205.76 1316.44,2206 1315.48,2206.23 1314.52,2203.6 1313.56,2204.32 1312.6,2203.78 1311.65,2203.63 1310.69,2200.92 1309.73,2201.03 1308.77,2201.47 1307.82,2198.71 1306.86,2198.51 1305.9,2198.2 1304.94,2195.79 1303.98,2195.53 1303.03,2194.48 1302.07,2191.93 1301.11,2192.14 1300.15,2189.69 1299.19,2186.63 1298.24,2184.94 1297.28,2184.2 1296.32,2180.94 1295.36,2177.63 1294.4,2175.24 1293.45,2171.2 1292.49,2168.69 1291.53,2164.98 1290.57,2161.4 1289.62,2156.48 1288.66,2151.74 1287.7,2147.06" fill="#7f7f7f" fill-opacity="0.25"/>
<polyline points="1287.7,2142.16 1288.66,2147.4 1289.62,2152.39 1290.57,2158.52 1291.53,2161.24 1292.49,2165.69 1293.45,2168.78 1294.4,2170.96 1295.36,2174.79 1296.32,2177.91 1297.28,2179.05 1298.24,2182.36 1299.19,2185.08 1300.15,2186.93 1301.11,2188.31 1302.07,2188.37 1303.03,2189.75 1303.98,2191.65 1304.94,2193.47 1305.9,2192.98 1306.86,2194.4 1307.82,2197.07 1308.77,2197.25 1309.73,2198.04 1310.69,2198.91 1311.65,2198.86 1312.6,2199.82 1313.56,2200.71 1314.52,2200.39 1315.48,2202.04 1316.44,2202.35 1317.39,2201.16 1318.35,2203.4 1319.31,2200.87 1320.27,2201.96 1321.23,2201.52 1322.18,2202.18 1323.14,2204.8 1324.1,2202.99 1325.06,2202.32 1326.01,2202.55 1326.97,2203.37 1327.93,2205.14 1328.89,2203.77 1329.85,2204.44 1330.8,2206.1 1331.76,2206.19 1332.72,2206.09 1333.68,2206.67 1334.63,2206.67 1335.59,2207.14 1336.55,2206.86 1337.51,2203.9 1338.47,2204.96 1339.42,2204.79 1340.38,2204.4 1341.34,2205.91 1342.3,2204.67 1343.26,2204.19 1344.21,2207.23 1345.17,2206.18 1346.13,2207.16 1347.09,2208.25 1348.05,2205.15 1349,2205.57 1349.96,2206.15 1350.92,2204.66 1351.88,2205.46 1352.83,2204.89 1353.79,2207.83 1354.75,2206.83 1355.71,2206.5 1356.67,2207.23 1357.62,2208.41 1358.58,2206.53 1359.54,2207.15 1360.5,2208.81 1361.45,2207.61 1362.41,2205.36 1363.37,2208.17 1364.33,2207.35 1365.29,2205.42 1366.24,2208.56 1367.2,2208.06 1368.16,2207.18 1369.12,2209.21 1370.08,2208.84 1371.03,2209.04 1371.99,2207.37 1372.95,2209.06 1373.91,2207.36 1374.87,2208.83 1375.82,2206.09 1376.78,2206.86 1377.74,2205.63 1378.7,2206.36 1379.65,2209.27 1380.61,2208.59 1381.57,2206.16 1382.53,2208.88 1383.49,2209.34 1384.44,2206.59 1385.4,2209.78 1386.36,2206.05 1387.32,2209.45 1388.28,2209.39 1389.23,2209.36 1390.19,2207.14 1391.15,2206.62 1392.11,2209.79 1393.06,2208.54 1394.02,2207.27 1394.98,2208.34 1395.94,2207.13 1396.9,2206.34 1397.85,2205.94 1398.81,2209.94 1399.77,2207.15 1400.73,2209.32 1401.68,2208.39 1402.64,2209.16 1403.6,2206.77 1404.56,2209.08 1405.52,2208.97 1406.47,2209.08 1407.43,2210.02 1408.39,2208.49 1409.35,2208.98 1410.31,2207.79 1411.26,2209.77 1412.22,2207.32 1413.18,2208.03 1414.14,2206.75 1415.1,2208.77 1416.05,2209.99 1417.01,2208.09 1417.97,2207.39 1418.93,2210.19 1419.88,2207.18 1420.84,2209.73 1421.8,2209.48 1422.76,2208.78 1423.72,2209.64 1424.67,2208.48 1425.63,2208.24 1426.59,2209.43 1427.55,2208.26 1428.51,2210.71 1429.46,2208.24 1430.42,2207.59 1431.38,2210.78 1432.34,2209.99 1433.29,2206.69 1434.25,2207.43 1435.21,2206.82 1436.17,2209.32 1437.13,2210.52 1438.08,2210.12 1439.04,2208.85 1440,2210.67 1440.96,2209.93 1441.91,2210.59 1442.87,2207.64 1443.83,2209.65 1444.79,2209.9 1445.75,2210.56 1446.7,2207.79 1447.66,2209.58 1448.62,2207.27 1449.58,2207.02 1450.54,2209.9 1451.49,2210.82 1452.45,2207.48 1453.41,2210.31 1454.37,2210.46 1455.33,2209.53 1456.28,2207.17 1457.24,2208.68 1458.2,2208.23 1459.16,2211.14 1460.11,2208.4 1461.07,2208.91 1462.03,2208.41 1462.99,2209.72 1463.95,2210.02 1464.9,2210.66 1465.86,2209.89 1466.82,2211.19 1467.78,2208.66 1468.74,2207.62 1469.69,2208.91 1470.65,2209.89 1471.61,2211.42 1472.57,2211.33 1473.52,2210.26 1474.48,2208.09 1475.44,2210.95 1476.4,2207.57 1477.36,2211.12 1478.31,2208.84 1479.27,2207.49 1480.23,2208.61 1481.19,2208.88 1482.14,2208.47 1483.1,2211.38 1484.06,2209.29 1485.02,2209.33 1485.98,2209.05 1486.93,2209.65 1487.89,2209.81 1488.85,2210.08 1489.81,2208.76 1490.77,2209.1 1491.72,2208.83 1492.68,2210.53 1493.64,2209.94 1494.6,2210.43 1495.56,2209.82 1496.51,2211.58 1497.47,2208.07 1498.43,2208.75 1499.39,2211.28 1500.34,2209.61 1501.3,2208.86 1502.26,2208.74 1503.22,2209.77 1504.18,2211.25 1505.13,2208 1506.09,2209.88 1507.05,2210.9 1508.01,2208.94 1508.97,2209.47 1509.92,2211.9 1510.88,2209.44 1511.84,2209.55 1512.8,2212.05 1513.75,2208.35 1514.71,2208.09 1515.67,2210.48 1516.63,2212.12 1517.59,2211.33 1518.54,2209.79 1519.5,2210.73 1520.46,2211.76 1521.42,2210.98 1522.38,2212.18 1523.33,2209.04 1524.29,2210.83 1525.25,2210.2 1526.21,2208.79 1527.16,2211.08 1528.12,2210.59 1529.08,2209.36 1530.04,2208.99 1531,2210 1531.95,2208.84 1532.91,2209.06 1533.87,2211.16 1534.83,2208.3 1535.79,2211.98 1536.74,2210.45 1537.7,2212.38 1538.66,2210.31 1539.62,2210.1 1540.57,2212.07 1541.53,2208.22 1542.49,2208.71 1543.45,2211.95 1544.41,2211.45 1545.36,2211.86 1546.32,2208.34 1547.28,2211.78 1548.24,2209.77 1549.2,2212.28 1550.15,2209.68 1551.11,2212.41 1552.07,2209.33 1553.03,2211.21 1553.98,2210.88 1554.94,2210.66 1555.9,2208.35 1556.86,2211.06 1557.82,2212.2 1558.77,2211.33 1559.73,2208.39 1560.69,2210.18 1561.65,2208.56 1562.61,2212.57 1563.56,2211.81 1564.52,2211.59 1565.48,2209.78 1566.44,2212.17 1567.39,2212.16 1568.35,2209.11 1569.31,2212.27 1570.27,2208.54 1571.23,2210.2 1572.18,2212.5 1573.14,2211.69 1574.1,2209.63 1575.06,2210.7 1576.02,2210.34 1576.97,2209.63 1577.93,2212.75 1578.89,2209.24 1579.85,2208.5 1580.8,2211.04 1581.76,2212.48 1582.72,2211.91 1583.68,2209.59 1584.64,2210.28 1585.59,2210.91 1586.55,2208.85 1587.51,2210.76 1588.47,2209.55 1589.42,2209.29 1590.38,2210.88 1591.34,2210.69 1592.3,2210.33 1593.26,2209.01 1594.21,2208.81 1595.17,2209.43 1596.13,2212.81 1597.09,2209.49 1598.05,2209.43 1599,2211.65 1599.96,2210.5 1600.92,2209.66 1601.88,2211.53 1602.84,2209.96 1603.79,2211.47 1604.75,2208.91 1605.71,2210.57 1606.67,2212.82 1607.62,2209.51 1608.58,2212.55 1609.54,2209.75 1610.5,2212.81 1611.46,2212.63 1612.41,2211.14 1613.37,2210.32 1614.33,2210.21 1615.29,2212.38 1616.24,2209.32 1617.2,2212.28 1618.16,2210.55 1619.12,2212.46 1620.08,2212.98 1621.03,2209.24 1621.99,2211.17 1622.95,2211.79 1623.91,2211.15 1624.87,2211.65 1625.82,2210.62 1626.78,2211.26 1627.74,2208.97 1628.7,2211.03 1629.65,2209.36 1630.61,2211.79 1631.57,2212.06 1632.53,2209.3 1633.49,2210.44 1634.44,2209.19 1635.4,2211.69 1636.36,2210.45 1637.32,2212.87 1638.28,2209.5 1639.23,2210.59 1640.19,2212.34 1641.15,2212.52 1642.11,2212.37 1643.07,2211.25 1644.02,2210.96 1644.98,2210.19 1645.94,2212.93 1646.9,2209.18 1647.85,2211.12 1648.81,2212.27 1649.77,2212.21 1650.73,2209.05 1651.69,2211.62 1652.64,2212.5 1653.6,2209.62 1654.56,2210.6 1655.52,2210.15 1656.47,2211.29 1657.43,2209.74 1658.39,2212.11 1659.35,2212.04 1660.31,2212.15 1661.26,2210.16 1662.22,2211.18 1663.18,2212.95 1664.14,2209.85 1665.1,2211.33 1666.05,2209.45 1667.01,2212.6 1667.97,2212.21 1668.93,2212.84 1669.88,2211.08 1670.84,2211.41 1671.8,2211.23 1672.76,2210.98 1673.72,2212.59 1674.67,2210.8 1675.63,2212.36 1676.59,2212.91 1677.55,2213.07 1678.51,2212.49 1679.46,2209.25 1680.42,2211.86 1681.38,2213.1 1682.34,2210.42 1683.3,2210.88 1684.25,2213.08 1685.21,2210.59 1686.17,2210.16 1687.13,2211.06 1688.08,2212.49 1689.04,2211.01 1690,2212.99" fill="none" stroke="#7f7f7f" stroke-width="3.6" stroke-linejoin="round"/>
<polygon points="1287.7,2109.44 1288.66,2090.13 1289.62,2071.37 1290.57,2051.43 1291.53,2032.04 1292.49,2012.1 1293.45,1994.37 1294.4,1990.73 1295.36,1989.87 1296.32,1992.04 1297.28,1992.05 1298.24,1992.65 1299.19,1992.92 1300.15,1995.42 1301.11,1996.99 1302.07,1997.58 1303.03,1997.96 1303.98,1997.75 1304.94,1999.42 1305.9,2002.2 1306.86,2002.97 1307.82,2005.31 1308.77,2006.74 1309.73,2006.08 1310.69,2009.2 1311.65,2009.35 1312.6,2011.26 1313.56,2011.02 1314.52,2013.1 1315.48,2016.97 1316.44,2018.19 1317.39,2020.42 1318.35,2020.93 1319.31,2021.09 1320.27,2024.09 1321.23,2022.72 1322.18,2025.71 1323.14,2026.75 1324.1,2026.85 1325.06,2032.4 1326.01,2032.17 1326.97,2031.29 1327.93,2033.73 1328.89,2034.28 1329.85,2035.88 1330.8,2039.97 1331.76,2039.58 1332.72,2041.02 1333.68,2044.86 1334.63,2045.53 1335.59,2047.27 1336.55,2049.61 1337.51,2048.15 1338.47,2052.44 1339.42,2054.19 1340.38,2053.9 1341.34,2054 1342.3,2055.27 1343.26,2058.19 1344.21,2059.2 1345.17,2058.31 1346.13,2061.42 1347.09,2065.03 1348.05,2061.05 1349,2062.95 1349.96,2064.66 1350.92,2068.55 1351.88,2066.98 1352.83,2070.9 1353.79,2070.49 1354.75,2073.8 1355.71,2071.29 1356.67,2076.08 1357.62,2075.84 1358.58,2074.6 1359.54,2080.5 1360.5,2078.43 1361.45,2082.07 1362.41,2080.35 1363.37,2079.23 1364.33,2081.73 1365.29,2082.96 1366.24,2085.84 1367.2,2087.39 1368.16,2086.96 1369.12,2087.34 1370.08,2091.68 1371.03,2086.37 1371.99,2089.73 1372.95,2089.78 1373.91,2092.7 1374.87,2094.66 1375.82,2091.99 1376.78,2097.72 1377.74,2097.49 1378.7,2098.17 1379.65,2097.18 1380.61,2099.03 1381.57,2095.69 1382.53,2101.33 1383.49,2100.09 1384.44,2102.2 1385.4,2100.56 1386.36,2104.59 1387.32,2102.28 1388.28,2102.4 1389.23,2101.77 1390.19,2108.21 1391.15,2105.27 1392.11,2102.94 1393.06,2109.48 1394.02,2108.52 1394.98,2109.63 1395.94,2108.96 1396.9,2111.76 1397.85,2110.62 1398.81,2107.03 1399.77,2112.01 1400.73,2109.71 1401.68,2112.04 1402.64,2114.51 1403.6,2114.89 1404.56,2110.93 1405.52,2117.93 1406.47,2117.21 1407.43,2117.44 1408.39,2114.5 1409.35,2115.7 1410.31,2116.31 1411.26,2120.77 1412.22,2120.55 1413.18,2117.18 1414.14,2115.81 1415.1,2120.56 1416.05,2118.79 1417.01,2116.48 1417.97,2120.5 1418.93,2119.84 1419.88,2123.32 1420.84,2124.68 1421.8,2118.49 1422.76,2121.93 1423.72,2119.62 1424.67,2123.26 1425.63,2127 1426.59,2123.52 1427.55,2126.18 1428.51,2125.2 1429.46,2123.12 1430.42,2128.18 1431.38,2121.85 1432.34,2127.42 1433.29,2123.44 1434.25,2127.91 1435.21,2122.99 1436.17,2123.12 1437.13,2124.89 1438.08,2129.92 1439.04,2130.46 1440,2125.79 1440.96,2128.15 1441.91,2131.52 1442.87,2130.59 1443.83,2132.34 1444.79,2127.21 1445.75,2128.13 1446.7,2128.72 1447.66,2133.54 1448.62,2128.38 1449.58,2132.79 1450.54,2130.65 1451.49,2131 1452.45,2127.41 1453.41,2133.42 1454.37,2131.05 1455.33,2132.25 1456.28,2135.41 1457.24,2134.48 1458.2,2129.93 1459.16,2135.95 1460.11,2130.44 1461.07,2129.94 1462.03,2131.82 1462.99,2131.35 1463.95,2135.33 1464.9,2130.28 1465.86,2136.54 1466.82,2135.84 1467.78,2135.68 1468.74,2136.14 1469.69,2133.5 1470.65,2131.41 1471.61,2133.11 1472.57,2137.93 1473.52,2138.21 1474.48,2136.87 1475.44,2138.88 1476.4,2132.56 1477.36,2136.66 1478.31,2136.56 1479.27,2137.1 1480.23,2138.55 1481.19,2137.87 1482.14,2139.48 1483.1,2138.08 1484.06,2135.02 1485.02,2140.08 1485.98,2138.89 1486.93,2137.5 1487.89,2134.62 1488.85,2136.73 1489.81,2140.02 1490.77,2135.07 1491.72,2133.89 1492.68,2140.64 1493.64,2138.1 1494.6,2135.85 1495.56,2135.7 1496.51,2139.27 1497.47,2136.03 1498.43,2135.11 1499.39,2137.44 1500.34,2137.12 1501.3,2137.79 1502.26,2136.04 1503.22,2137.47 1504.18,2137.86 1505.13,2136.66 1506.09,2136.24 1507.05,2141.87 1508.01,2138.88 1508.97,2138.09 1509.92,2139.66 1510.88,2137.04 1511.84,2141.1 1512.8,2141.23 1513.75,2137.63 1514.71,2142.65 1515.67,2139.52 1516.63,2137.1 1517.59,2137.28 1518.54,2138.17 1519.5,2137.87 1520.46,2137.31 1521.42,2141.56 1522.38,2141.68 1523.33,2143.86 1524.29,2140.2 1525.25,2144.63 1526.21,2143.23 1527.16,2144.93 1528.12,2143.99 1529.08,2142.57 1530.04,2145.14 1531,2145.38 1531.95,2138.49 1532.91,2145.74 1533.87,2140.71 1534.83,2143.23 1535.79,2141.2 1536.74,2143.18 1537.7,2141.29 1538.66,2143.81 1539.62,2144.93 1540.57,2143.85 1541.53,2145.48 1542.49,2146.58 1543.45,2146.08 1544.41,2143.9 1545.36,2139.79 1546.32,2140.09 1547.28,2147.01 1548.24,2143.45 1549.2,2142.49 1550.15,2147.01 1551.11,2145.68 1552.07,2140.36 1553.03,2142.38 1553.98,2146.69 1554.94,2141.21 1555.9,2142.18 1556.86,2146.69 1557.82,2142.97 1558.77,2142.01 1559.73,2147.15 1560.69,2146.36 1561.65,2143.37 1562.61,2143.97 1563.56,2148.46 1564.52,2144.98 1565.48,2141.4 1566.44,2141.95 1567.39,2144.84 1568.35,2147.36 1569.31,2144.06 1570.27,2148.73 1571.23,2144.81 1572.18,2145.49 1573.14,2147.86 1574.1,2143.48 1575.06,2147.65 1576.02,2147.87 1576.97,2144.37 1577.93,2145.11 1578.89,2149.5 1579.85,2142.06 1580.8,2143.56 1581.76,2146.47 1582.72,2146 1583.68,2143.7 1584.64,2145.05 1585.59,2142.55 1586.55,2142.49 1587.51,2147.25 1588.47,2148.52 1589.42,2150.09 1590.38,2148.41 1591.34,2148.94 1592.3,2146.57 1593.26,2146.89 1594.21,2142.94 1595.17,2145.69 1596.13,2147.65 1597.09,2146.85 1598.05,2148.4 1599,2143.33 1599.96,2144.1 1600.92,2149.79 1601.88,2149.03 1602.84,2144.78 1603.79,2146.36 1604.75,2145.29 1605.71,2144.27 1606.67,2151.07 1607.62,2151.4 1608.58,2144.02 1609.54,2146.37 1610.5,2146.35 1611.46,2144.37 1612.41,2149.02 1613.37,2149.43 1614.33,2151.04 1615.29,2145.06 1616.24,2149.09 1617.2,2148.86 1618.16,2151.63 1619.12,2146.21 1620.08,2149.59 1621.03,2151.87 1621.99,2145.31 1622.95,2147.08 1623.91,2150.13 1624.87,2150.09 1625.82,2149.75 1626.78,2150.45 1627.74,2148.87 1628.7,2148.36 1629.65,2146.63 1630.61,2149.52 1631.57,2148.01 1632.53,2145.65 1633.49,2151.04 1634.44,2151.58 1635.4,2149.6 1636.36,2149.54 1637.32,2152.78 1638.28,2151.99 1639.23,2148.79 1640.19,2152.74 1641.15,2150.61 1642.11,2147.73 1643.07,2146.17 1644.02,2152.41 1644.98,2150.28 1645.94,2151.48 1646.9,2152.3 1647.85,2147.18 1648.81,2150.68 1649.77,2152.32 1650.73,2152.75 1651.69,2152.13 1652.64,2151.06 1653.6,2149.23 1654.56,2146.97 1655.52,2150.02 1656.47,2146.9 1657.43,2151.86 1658.39,2146.49 1659.35,2149.08 1660.31,2148.3 1661.26,2152.79 1662.22,2147.32 1663.18,2150.82 1664.14,2151.21 1665.1,2149.16 1666.05,2149.7 1667.01,2149.04 1667.97,2148.25 1668.93,2149.11 1669.88,2151.38 1670.84,2153.2 1671.8,2150.46 1672.76,2154.09 1673.72,2149.01 1674.67,2148.68 1675.63,2147.18 1676.59,2150.15 1677.55,2154.27 1678.51,2152.5 1679.46,2154.5 1680.42,2149.01 1681.38,2154.33 1682.34,2148.56 1683.3,2150.28 1684.25,2150.31 1685.21,2150.27 1686.17,2149.17 1687.13,2150.29 1688.08,2154.9 1689.04,2154.24 1690,2150.77 1690,2170.84 1689.04,2173.45 1688.08,2175.82 1687.13,2176.65 1686.17,2170.53 1685.21,2175.87 1684.25,2171.86 1683.3,2171.58 1682.34,2174.36 1681.38,2170.99 1680.42,2177.43 1679.46,2176.25 1678.51,2176.3 1677.55,2176.58 1676.59,2171.69 1675.63,2172.5 1674.67,2176.5 1673.72,2171.37 1672.76,2175.75 1671.8,2175.24 1670.84,2172.49 1669.88,2174.91 1668.93,2174.23 1667.97,2176.05 1667.01,2176.14 1666.05,2171.74 1665.1,2173.86 1664.14,2176.39 1663.18,2174.3 1662.22,2171.29 1661.26,2174.73 1660.31,2170.79 1659.35,2172.01 1658.39,2171.6 1657.43,2173.48 1656.47,2174.61 1655.52,2170.49 1654.56,2169.91 1653.6,2173.74 1652.64,2175.62 1651.69,2175.12 1650.73,2176.56 1649.77,2170.07 1648.81,2171.27 1647.85,2170.23 1646.9,2175.33 1645.94,2172.15 1644.98,2174.13 1644.02,2170.14 1643.07,2169.92 1642.11,2172.46 1641.15,2170.91 1640.19,2171.49 1639.23,2175.83 1638.28,2173.07 1637.32,2169.93 1636.36,2175.74 1635.4,2169.61 1634.44,2173.78 1633.49,2174.86 1632.53,2171.79 1631.57,2172.18 1630.61,2173.25 1629.65,2174.8 1628.7,2171.2 1627.74,2173.34 1626.78,2173.73 1625.82,2169.5 1624.87,2171.35 1623.91,2174.22 1622.95,2170.71 1621.99,2172.25 1621.03,2169.17 1620.08,2171.3 1619.12,2172.63 1618.16,2169.31 1617.2,2169.78 1616.24,2171.02 1615.29,2172.9 1614.33,2170.89 1613.37,2170.22 1612.41,2168.33 1611.46,2173.7 1610.5,2170.51 1609.54,2171.52 1608.58,2169.37 1607.62,2169.46 1606.67,2174.33 1605.71,2168.41 1604.75,2170.73 1603.79,2172.35 1602.84,2173.6 1601.88,2167.3 1600.92,2171.36 1599.96,2167.71 1599,2172.45 1598.05,2169.56 1597.09,2170.55 1596.13,2173.04 1595.17,2171.46 1594.21,2169.9 1593.26,2168.5 1592.3,2170.84 1591.34,2167.66 1590.38,2168.05 1589.42,2172.67 1588.47,2167.86 1587.51,2170.04 1586.55,2167.77 1585.59,2170.97 1584.64,2169.08 1583.68,2172.23 1582.72,2169.47 1581.76,2166.26 1580.8,2167.12 1579.85,2169.23 1578.89,2167.78 1577.93,2165.81 1576.97,2172.19 1576.02,2171.04 1575.06,2165.12 1574.1,2169.51 1573.14,2167.49 1572.18,2171.19 1571.23,2169.44 1570.27,2167.24 1569.31,2171.28 1568.35,2164.78 1567.39,2166.62 1566.44,2165.95 1565.48,2164.19 1564.52,2169.74 1563.56,2164.28 1562.61,2165.89 1561.65,2168.43 1560.69,2166.95 1559.73,2170.05 1558.77,2169.34 1557.82,2167.91 1556.86,2164.45 1555.9,2170.49 1554.94,2164.33 1553.98,2166.77 1553.03,2164.31 1552.07,2166.51 1551.11,2164.43 1550.15,2167.55 1549.2,2164.38 1548.24,2169.14 1547.28,2169.18 1546.32,2163.72 1545.36,2163.6 1544.41,2165.33 1543.45,2167.01 1542.49,2166.46 1541.53,2168.92 1540.57,2169.43 1539.62,2168.73 1538.66,2168.41 1537.7,2165.21 1536.74,2162.85 1535.79,2163.05 1534.83,2164.89 1533.87,2163.29 1532.91,2165.98 1531.95,2165.26 1531,2164.24 1530.04,2163.33 1529.08,2168.61 1528.12,2164.68 1527.16,2166.31 1526.21,2164.66 1525.25,2162.58 1524.29,2163.95 1523.33,2160.96 1522.38,2164.63 1521.42,2162.07 1520.46,2165.32 1519.5,2167.38 1518.54,2166.52 1517.59,2162.51 1516.63,2160.8 1515.67,2162.96 1514.71,2164.79 1513.75,2164.96 1512.8,2166.25 1511.84,2165.3 1510.88,2160.47 1509.92,2162.14 1508.97,2163.35 1508.01,2161.91 1507.05,2165.15 1506.09,2160.1 1505.13,2159.49 1504.18,2164.48 1503.22,2161.45 1502.26,2158.56 1501.3,2162.95 1500.34,2163.88 1499.39,2161.97 1498.43,2162.51 1497.47,2160.08 1496.51,2163.15 1495.56,2163.06 1494.6,2157.82 1493.64,2159.61 1492.68,2164.36 1491.72,2157.64 1490.77,2161.73 1489.81,2163.07 1488.85,2160.27 1487.89,2159.86 1486.93,2162.83 1485.98,2162.87 1485.02,2158.91 1484.06,2159.54 1483.1,2159.83 1482.14,2157.99 1481.19,2160.96 1480.23,2158.99 1479.27,2157.87 1478.31,2158.57 1477.36,2162.23 1476.4,2158.42 1475.44,2157.04 1474.48,2159.12 1473.52,2157.33 1472.57,2155.53 1471.61,2158.66 1470.65,2156.74 1469.69,2158.3 1468.74,2159.14 1467.78,2158.29 1466.82,2154.44 1465.86,2153.07 1464.9,2152.71 1463.95,2155.41 1462.99,2159.38 1462.03,2154.64 1461.07,2154.19 1460.11,2155.94 1459.16,2153.01 1458.2,2157.33 1457.24,2155.11 1456.28,2157.62 1455.33,2152.04 1454.37,2153.3 1453.41,2157.23 1452.45,2155.41 1451.49,2156.97 1450.54,2156.92 1449.58,2156.51 1448.62,2154.15 1447.66,2149.97 1446.7,2149.4 1445.75,2153.36 1444.79,2149.01 1443.83,2149.63 1442.87,2155.12 1441.91,2155.03 1440.96,2152.06 1440,2153.88 1439.04,2150.31 1438.08,2150.47 1437.13,2149.94 1436.17,2148.21 1435.21,2151.33 1434.25,2147.59 1433.29,2147.95 1432.34,2149.26 1431.38,2150.24 1430.42,2147.13 1429.46,2150.38 1428.51,2148.18 1427.55,2147.38 1426.59,2144.62 1425.63,2148.42 1424.67,2145.64 1423.72,2142.83 1422.76,2146.02 1421.8,2143.78 1420.84,2142.28 1419.88,2146.76 1418.93,2142.16 1417.97,2140.61 1417.01,2145.71 1416.05,2144.92 1415.1,2142.37 1414.14,2144.28 1413.18,2140.28 1412.22,2142.84 1411.26,2137.75 1410.31,2142.44 1409.35,2138.29 1408.39,2140.97 1407.43,2141.89 1406.47,2139.98 1405.52,2139.14 1404.56,2140.41 1403.6,2134.53 1402.64,2139.07 1401.68,2139 1400.73,2135.44 1399.77,2135.84 1398.81,2135.3 1397.85,2130.63 1396.9,2129.14 1395.94,2131.75 1394.98,2134.56 1394.02,2131.33 1393.06,2132.75 1392.11,2131.81 1391.15,2126.07 1390.19,2124.42 1389.23,2127.15 1388.28,2129.77 1387.32,2123.94 1386.36,2126.87 1385.4,2125.71 1384.44,2121.92 1383.49,2125.46 1382.53,2121.23 1381.57,2118.81 1380.61,2116.53 1379.65,2121.42 1378.7,2120.36 1377.74,2117.54 1376.78,2116.52 1375.82,2118.03 1374.87,2112.45 1373.91,2110.6 1372.95,2111.54 1371.99,2110.13 1371.03,2108.67 1370.08,2107.07 1369.12,2106.26 1368.16,2108.64 1367.2,2107.51 1366.24,2102.8 1365.29,2105.2 1364.33,2100.66 1363.37,2104.28 1362.41,2097.25 1361.45,2101.57 1360.5,2100.68 1359.54,2096.23 1358.58,2097.36 1357.62,2095.06 1356.67,2094.38 1355.71,2090.63 1354.75,2088.77 1353.79,2088.98 1352.83,2085.26 1351.88,2084.19 1350.92,2085.48 1349.96,2084.58 1349,2084.45 1348.05,2079.25 1347.09,2079.48 1346.13,2080.11 1345.17,2073.71 1344.21,2074.44 1343.26,2072.12 1342.3,2073.75 1341.34,2071.27 1340.38,2068.57 1339.42,2069.14 1338.47,2064.26 1337.51,2062.14 1336.55,2062.67 1335.59,2062.49 1334.63,2060.62 1333.68,2057 1332.72,2055.32 1331.76,2056.22 1330.8,2053.77 1329.85,2054.04 1328.89,2049.02 1327.93,2048.9 1326.97,2045.19 1326.01,2046.6 1325.06,2043.87 1324.1,2040.78 1323.14,2040.13 1322.18,2040.87 1321.23,2039.16 1320.27,2036.51 1319.31,2032.33 1318.35,2030.64 1317.39,2030.31 1316.44,2029.66 1315.48,2029.03 1314.52,2024.42 1313.56,2024.62 1312.6,2023.12 1311.65,2022.23 1310.69,2017.86 1309.73,2017.53 1308.77,2017.76 1307.82,2013.67 1306.86,2013.26 1305.9,2012.81 1304.94,2009.66 1303.98,2009.59 1303.03,2008.63 1302.07,2005.86 1301.11,2006.99 1300.15,2004.81 1299.19,2002.08 1298.24,2001.46 1297.28,2002.37 1296.32,2000.34 1295.36,1998.63 1294.4,1998.55 1293.45,2000.83 1292.49,2021.32 1291.53,2040.69 1290.57,2060.65 1289.62,2079.43 1288.66,2098.94 1287.7,2119.07" fill="#3f63dd" fill-opacity="0.25"/>
<polyline points="1287.7,2113.24 1288.66,2093.75 1289.62,2074.5 1290.57,2056.95 1291.53,2036.09 1292.49,2017.51 1293.45,1997.77 1294.4,1993.24 1295.36,1994.98 1296.32,1996.34 1297.28,1995.79 1298.24,1998.02 1299.19,1999.87 1300.15,2000.97 1301.11,2001.76 1302.07,2001.21 1303.03,2002.39 1303.98,2004.37 1304.94,2006.41 1305.9,2005.86 1306.86,2007.72 1307.82,2011.21 1308.77,2011.82 1309.73,2013.28 1310.69,2014.93 1311.65,2015.55 1312.6,2017.48 1313.56,2019.39 1314.52,2019.88 1315.48,2022.88 1316.44,2024.26 1317.39,2023.83 1318.35,2027.73 1319.31,2025.66 1320.27,2028.21 1321.23,2028.83 1322.18,2030.89 1323.14,2035.48 1324.1,2034.43 1325.06,2034.86 1326.01,2036.46 1326.97,2038.83 1327.93,2042.46 1328.89,2042.02 1329.85,2044.23 1330.8,2047.76 1331.76,2049.24 1332.72,2050.48 1333.68,2052.61 1334.63,2053.98 1335.59,2055.97 1336.55,2056.97 1337.51,2054.38 1338.47,2057.15 1339.42,2058.27 1340.38,2059.09 1341.34,2062.45 1342.3,2062.11 1343.26,2062.77 1344.21,2068.19 1345.17,2068.07 1346.13,2070.69 1347.09,2073.46 1348.05,2070.5 1349,2072.33 1349.96,2074.37 1350.92,2073.55 1351.88,2075.86 1352.83,2076.28 1353.79,2081.53 1354.75,2081.33 1355.71,2082.04 1356.67,2084.21 1357.62,2087.02 1358.58,2085.48 1359.54,2087.47 1360.5,2090.98 1361.45,2090.33 1362.41,2088.08 1363.37,2093.27 1364.33,2093.1 1365.29,2091.22 1366.24,2096.96 1367.2,2097.21 1368.16,2096.82 1369.12,2100.95 1370.08,2101.32 1371.03,2102.6 1371.99,2100.88 1372.95,2104.47 1373.91,2102.65 1374.87,2105.89 1375.82,2102.3 1376.78,2104.38 1377.74,2103.17 1378.7,2105.18 1379.65,2110.84 1380.61,2110.5 1381.57,2107.15 1382.53,2112.55 1383.49,2114.09 1384.44,2110.09 1385.4,2116.35 1386.36,2110.53 1387.32,2117.21 1388.28,2117.8 1389.23,2118.4 1390.19,2115.11 1391.15,2114.84 1392.11,2121.1 1393.06,2119.5 1394.02,2117.84 1394.98,2120.33 1395.94,2118.77 1396.9,2117.95 1397.85,2117.8 1398.81,2125.45 1399.77,2121.02 1400.73,2125.42 1401.68,2124.29 1402.64,2126.16 1403.6,2122.41 1404.56,2127.02 1405.52,2127.3 1406.47,2127.96 1407.43,2130.1 1408.39,2127.82 1409.35,2129.14 1410.31,2127.46 1411.26,2131.41 1412.22,2127.47 1413.18,2129.14 1414.14,2127.28 1415.1,2131.26 1416.05,2133.82 1417.01,2130.81 1417.97,2129.95 1418.93,2135.29 1419.88,2130.29 1420.84,2135.17 1421.8,2135.07 1422.76,2134.17 1423.72,2136.02 1424.67,2134.28 1425.63,2134.18 1426.59,2136.61 1427.55,2134.82 1428.51,2139.48 1429.46,2135.37 1430.42,2134.52 1431.38,2140.47 1432.34,2139.34 1433.29,2133.74 1434.25,2135.32 1435.21,2134.5 1436.17,2139.19 1437.13,2141.58 1438.08,2141.12 1439.04,2139.11 1440,2142.57 1440.96,2141.49 1441.91,2142.89 1442.87,2137.86 1443.83,2141.66 1444.79,2142.33 1445.75,2143.71 1446.7,2139 1447.66,2142.37 1448.62,2138.47 1449.58,2138.22 1450.54,2143.54 1451.49,2145.37 1452.45,2139.62 1453.41,2144.83 1454.37,2145.27 1455.33,2143.81 1456.28,2139.79 1457.24,2142.64 1458.2,2142 1459.16,2147.34 1460.11,2142.64 1461.07,2143.7 1462.03,2142.97 1462.99,2145.47 1463.95,2146.14 1464.9,2147.43 1465.86,2146.22 1466.82,2148.68 1467.78,2144.32 1468.74,2142.6 1469.69,2145.04 1470.65,2146.92 1471.61,2149.77 1472.57,2149.75 1473.52,2147.98 1474.48,2144.26 1475.44,2149.46 1476.4,2143.58 1477.36,2150.02 1478.31,2146.09 1479.27,2143.8 1480.23,2145.92 1481.19,2146.52 1482.14,2145.91 1483.1,2151.2 1484.06,2147.59 1485.02,2147.78 1485.98,2147.38 1486.93,2148.56 1487.89,2148.95 1488.85,2149.55 1489.81,2147.3 1490.77,2148.01 1491.72,2147.63 1492.68,2150.76 1493.64,2149.81 1494.6,2150.78 1495.56,2149.78 1496.51,2153.02 1497.47,2146.88 1498.43,2148.18 1499.39,2152.78 1500.34,2149.9 1501.3,2148.65 1502.26,2148.54 1503.22,2150.46 1504.18,2153.18 1505.13,2147.49 1506.09,2150.91 1507.05,2152.82 1508.01,2149.42 1508.97,2150.45 1509.92,2154.86 1510.88,2150.57 1511.84,2150.84 1512.8,2155.37 1513.75,2148.87 1514.71,2148.48 1515.67,2152.82 1516.63,2155.82 1517.59,2154.48 1518.54,2151.82 1519.5,2153.58 1520.46,2155.49 1521.42,2154.17 1522.38,2156.39 1523.33,2150.87 1524.29,2154.14 1525.25,2153.1 1526.21,2150.66 1527.16,2154.8 1528.12,2154 1529.08,2151.89 1530.04,2151.29 1531,2153.17 1531.95,2151.17 1532.91,2151.63 1533.87,2155.44 1534.83,2150.42 1535.79,2157.04 1536.74,2154.37 1537.7,2157.89 1538.66,2154.27 1539.62,2153.96 1540.57,2157.53 1541.53,2150.75 1542.49,2151.68 1543.45,2157.52 1544.41,2156.69 1545.36,2157.48 1546.32,2151.29 1547.28,2157.47 1548.24,2153.95 1549.2,2158.47 1550.15,2153.91 1551.11,2158.83 1552.07,2153.43 1553.03,2156.83 1553.98,2156.3 1554.94,2155.96 1555.9,2151.93 1556.86,2156.8 1557.82,2158.89 1558.77,2157.39 1559.73,2152.22 1560.69,2155.47 1561.65,2152.65 1562.61,2159.84 1563.56,2158.53 1564.52,2158.19 1565.48,2155.05 1566.44,2159.35 1567.39,2159.38 1568.35,2154.02 1569.31,2159.68 1570.27,2153.12 1571.23,2156.12 1572.18,2160.26 1573.14,2158.87 1574.1,2155.26 1575.06,2157.22 1576.02,2156.64 1576.97,2155.43 1577.93,2161.03 1578.89,2154.84 1579.85,2153.58 1580.8,2158.14 1581.76,2160.76 1582.72,2159.78 1583.68,2155.71 1584.64,2157 1585.59,2158.16 1586.55,2154.55 1587.51,2157.99 1588.47,2155.9 1589.42,2155.49 1590.38,2158.36 1591.34,2158.07 1592.3,2157.49 1593.26,2155.17 1594.21,2154.88 1595.17,2156.02 1596.13,2162.07 1597.09,2156.23 1598.05,2156.17 1599,2160.17 1599.96,2158.16 1600.92,2156.71 1601.88,2160.09 1602.84,2157.34 1603.79,2160.07 1604.75,2155.57 1605.71,2158.55 1606.67,2162.6 1607.62,2156.76 1608.58,2162.2 1609.54,2157.27 1610.5,2162.77 1611.46,2162.48 1612.41,2159.87 1613.37,2158.46 1614.33,2158.31 1615.29,2162.21 1616.24,2156.82 1617.2,2162.13 1618.16,2159.08 1619.12,2162.52 1620.08,2163.49 1621.03,2156.88 1621.99,2160.35 1622.95,2161.5 1623.91,2160.39 1624.87,2161.33 1625.82,2159.55 1626.78,2160.73 1627.74,2156.69 1628.7,2160.4 1629.65,2157.46 1630.61,2161.83 1631.57,2162.34 1632.53,2157.47 1633.49,2159.54 1634.44,2157.35 1635.4,2161.83 1636.36,2159.67 1637.32,2164 1638.28,2158.06 1639.23,2160.03 1640.19,2163.17 1641.15,2163.53 1642.11,2163.3 1643.07,2161.35 1644.02,2160.87 1644.98,2159.55 1645.94,2164.45 1646.9,2157.81 1647.85,2161.31 1648.81,2163.39 1649.77,2163.31 1650.73,2157.74 1651.69,2162.34 1652.64,2163.93 1653.6,2158.85 1654.56,2160.62 1655.52,2159.86 1656.47,2161.92 1657.43,2159.21 1658.39,2163.45 1659.35,2163.36 1660.31,2163.58 1661.26,2160.08 1662.22,2161.92 1663.18,2165.11 1664.14,2159.63 1665.1,2162.29 1666.05,2158.99 1667.01,2164.62 1667.97,2163.95 1668.93,2165.11 1669.88,2162.01 1670.84,2162.62 1671.8,2162.34 1672.76,2161.93 1673.72,2164.83 1674.67,2161.67 1675.63,2164.48 1676.59,2165.48 1677.55,2165.81 1678.51,2164.81 1679.46,2159.08 1680.42,2163.75 1681.38,2165.97 1682.34,2161.25 1683.3,2162.09 1684.25,2166.02 1685.21,2161.63 1686.17,2160.89 1687.13,2162.52 1688.08,2165.09 1689.04,2162.5 1690,2166.04" fill="none" stroke="#3f63dd" stroke-width="3.6" stroke-linejoin="round"/>
<line x1="1526.7" y1="1985" x2="1570.7" y2="1985" stroke="#3f63dd" stroke-width="3.6"/>
<line x1="1526.7" y1="2014.8" x2="1570.7" y2="2014.8" stroke="#7f7f7f" stroke-width="3.6"/>
<text x="1586.7" y="1992.3" font-size="20.5" fill="#222">MEDRO</text>
<text x="1586.7" y="2022" font-size="20.5" fill="#222">GroupDRO</text>
<rect x="1810.8" y="1958" width="443.7" height="275" fill="#fff" stroke="#333" stroke-width="1.2"/>
<line x1="1810.8" y1="2014.8" x2="2254.5" y2="2014.8" stroke="#e3e3e3" stroke-width="1" stroke-dasharray="4 3"/>
<text x="1801.8" y="2021.8" font-size="20" fill="#222" text-anchor="end">1.2</text>
<line x1="1810.8" y1="2074" x2="2254.5" y2="2074" stroke="#e3e3e3" stroke-width="1" stroke-dasharray="4 3"/>
<text x="1801.8" y="2081" font-size="20" fill="#222" text-anchor="end">0.9</text>
<line x1="1810.8" y1="2132" x2="2254.5" y2="2132" stroke="#e3e3e3" stroke-width="1" stroke-dasharray="4 3"/>
<text x="1801.8" y="2139" font-size="20" fill="#222" text-anchor="end">0.6</text>
<line x1="1810.8" y1="2191.6" x2="2254.5" y2="2191.6" stroke="#e3e3e3" stroke-width="1" stroke-dasharray="4 3"/>
<text x="1801.8" y="2198.6" font-size="20" fill="#222" text-anchor="end">0.3</text>
<line x1="1831.3" y1="1958" x2="1831.3" y2="2233" stroke="#e3e3e3" stroke-width="1" stroke-dasharray="4 3"/>
<text x="1831.3" y="2255.7" font-size="20" fill="#222" text-anchor="middle">0</text>
<line x1="2114" y1="1958" x2="2114" y2="2233" stroke="#e3e3e3" stroke-width="1" stroke-dasharray="4 3"/>
<text x="2114" y="2255.7" font-size="20" fill="#222" text-anchor="middle">1</text>
<text x="2032.65" y="2280" font-size="20.5" fill="#222" text-anchor="middle">Iteration (×10⁴)</text>
<text x="0" y="0" font-size="20.5" fill="#222" text-anchor="middle" transform="translate(1763.8 2095.5) rotate(-90)">Max Risk Value</text>
<polygon points="1831.3,2102.67 1832.26,2104.94 1833.22,2107.58 1834.17,2108.99 1835.13,2110.81 1836.09,2111.99 1837.05,2115.21 1838,2116.61 1838.96,2116.61 1839.92,2119.36 1840.88,2119.84 1841.83,2120.77 1842.79,2121.24 1843.75,2123.81 1844.71,2125.38 1845.66,2125.87 1846.62,2126.06 1847.58,2125.58 1848.54,2126.92 1849.49,2129.31 1850.45,2129.63 1851.41,2131.48 1852.37,2132.35 1853.33,2131.06 1854.28,2133.56 1855.24,2133.01 1856.2,2134.21 1857.16,2133.18 1858.11,2134.5 1859.07,2137.62 1860.03,2138.01 1860.99,2139.42 1861.94,2139.03 1862.9,2138.25 1863.86,2140.4 1864.82,2138.02 1865.77,2140.13 1866.73,2140.22 1867.69,2139.31 1868.65,2144.05 1869.6,2142.8 1870.56,2140.86 1871.52,2142.36 1872.48,2141.89 1873.44,2142.51 1874.39,2145.73 1875.35,2144.28 1876.31,2144.74 1877.27,2147.71 1878.22,2147.37 1879.18,2148.15 1880.14,2149.55 1881.1,2147.01 1882.05,2150.47 1883.01,2151.28 1883.97,2149.97 1884.93,2149.07 1885.88,2149.41 1886.84,2151.47 1887.8,2151.55 1888.76,2149.66 1889.71,2151.95 1890.67,2154.76 1891.63,2149.68 1892.59,2150.74 1893.55,2151.6 1894.5,2154.76 1895.46,2152.23 1896.42,2155.44 1897.38,2154.14 1898.33,2156.73 1899.29,2153.38 1900.25,2157.56 1901.21,2156.6 1902.16,2154.67 1903.12,2159.89 1904.08,2157.18 1905.04,2160.12 1905.99,2157.84 1906.95,2156.18 1907.91,2158.02 1908.87,2158.65 1909.82,2160.83 1910.78,2161.77 1911.74,2160.87 1912.7,2160.74 1913.66,2164.22 1914.61,2159 1915.57,2161.6 1916.53,2161.24 1917.49,2163.43 1918.44,2164.76 1919.4,2162.08 1920.36,2166.67 1921.32,2166.12 1922.27,2166.36 1923.23,2165.23 1924.19,2166.48 1925.15,2163.44 1926.1,2167.82 1927.06,2166.55 1928.02,2168.02 1928.98,2166.47 1929.93,2169.47 1930.89,2167.43 1931.85,2167.34 1932.81,2166.61 1933.77,2171.41 1934.72,2168.89 1935.68,2166.86 1936.64,2171.74 1937.6,2170.79 1938.55,2171.46 1939.51,2170.75 1940.47,2172.74 1941.43,2171.68 1942.38,2168.73 1943.34,2172.42 1944.3,2170.49 1945.26,2172.14 1946.21,2173.9 1947.17,2174.05 1948.13,2170.87 1949.09,2176.12 1950.04,2175.45 1951,2175.51 1951.96,2173.14 1952.92,2173.95 1953.88,2174.32 1954.83,2177.63 1955.79,2177.37 1956.75,2174.71 1957.71,2173.58 1958.66,2177.12 1959.62,2175.7 1960.58,2173.88 1961.54,2176.86 1962.49,2176.3 1963.45,2178.88 1964.41,2179.85 1965.37,2175.12 1966.32,2177.67 1967.28,2175.89 1968.24,2178.59 1969.2,2181.37 1970.15,2178.71 1971.11,2180.68 1972.07,2179.91 1973.03,2178.33 1973.99,2182.1 1974.94,2177.33 1975.9,2181.48 1976.86,2178.5 1977.82,2181.82 1978.77,2178.14 1979.73,2178.23 1980.69,2179.55 1981.65,2183.27 1982.6,2183.67 1983.56,2180.22 1984.52,2181.96 1985.48,2184.46 1986.43,2183.77 1987.39,2185.07 1988.35,2181.3 1989.31,2181.99 1990.26,2182.43 1991.22,2185.99 1992.18,2182.21 1993.14,2185.46 1994.1,2183.91 1995.05,2184.19 1996.01,2181.58 1996.97,2185.99 1997.93,2184.29 1998.88,2185.19 1999.84,2187.51 2000.8,2186.86 2001.76,2183.57 2002.71,2187.97 2003.67,2184 2004.63,2183.67 2005.59,2185.06 2006.54,2184.75 2007.5,2187.65 2008.46,2184.05 2009.42,2188.59 2010.37,2188.11 2011.33,2188.03 2012.29,2188.39 2013.25,2186.53 2014.21,2185.07 2015.16,2186.32 2016.12,2189.8 2017.08,2190.03 2018.04,2189.11 2018.99,2190.58 2019.95,2186.11 2020.91,2189.07 2021.87,2189.03 2022.82,2189.45 2023.78,2190.51 2024.74,2190.07 2025.7,2191.25 2026.65,2190.29 2027.61,2188.16 2028.57,2191.77 2029.53,2190.97 2030.48,2190.03 2031.44,2188.04 2032.4,2189.56 2033.36,2191.91 2034.32,2188.47 2035.27,2187.69 2036.23,2192.44 2037.19,2190.71 2038.15,2189.18 2039.1,2189.11 2040.06,2191.64 2041.02,2189.42 2041.98,2188.81 2042.93,2190.47 2043.89,2190.29 2044.85,2190.79 2045.81,2189.62 2046.76,2190.64 2047.72,2190.95 2048.68,2190.16 2049.64,2189.91 2050.59,2193.82 2051.55,2191.79 2052.51,2191.29 2053.47,2192.41 2054.43,2190.64 2055.38,2193.46 2056.34,2193.58 2057.3,2191.15 2058.26,2194.61 2059.21,2192.52 2060.17,2190.9 2061.13,2191.07 2062.09,2191.7 2063.04,2191.53 2064,2191.19 2064.96,2194.1 2065.92,2194.21 2066.87,2195.71 2067.83,2193.28 2068.79,2196.29 2069.75,2195.38 2070.7,2196.55 2071.66,2195.95 2072.62,2195.03 2073.58,2196.77 2074.54,2196.96 2075.49,2192.38 2076.45,2197.25 2077.41,2193.93 2078.37,2195.64 2079.32,2194.32 2080.28,2195.66 2081.24,2194.44 2082.2,2196.14 2083.15,2196.9 2084.11,2196.21 2085.07,2197.32 2086.03,2198.06 2086.98,2197.76 2087.94,2196.35 2088.9,2193.68 2089.86,2193.9 2090.81,2198.47 2091.77,2196.16 2092.73,2195.55 2093.69,2198.53 2094.65,2197.69 2095.6,2194.24 2096.56,2195.59 2097.52,2198.42 2098.48,2194.88 2099.43,2195.53 2100.39,2198.48 2101.35,2196.09 2102.31,2195.5 2103.26,2198.84 2104.22,2198.35 2105.18,2196.44 2106.14,2196.85 2107.09,2199.76 2108.05,2197.54 2109.01,2195.28 2109.97,2195.65 2110.92,2197.52 2111.88,2199.15 2112.84,2197.06 2113.8,2200.06 2114.76,2197.58 2115.71,2198.04 2116.67,2199.56 2117.63,2196.8 2118.59,2199.46 2119.54,2199.62 2120.5,2197.43 2121.46,2197.91 2122.42,2200.7 2123.37,2196.03 2124.33,2197 2125.29,2198.84 2126.25,2198.56 2127.2,2197.14 2128.16,2198.01 2129.12,2196.47 2130.08,2196.45 2131.03,2199.43 2131.99,2200.24 2132.95,2201.23 2133.91,2200.2 2134.87,2200.55 2135.82,2199.09 2136.78,2199.31 2137.74,2196.88 2138.7,2198.6 2139.65,2199.82 2140.61,2199.34 2141.57,2200.31 2142.53,2197.21 2143.48,2197.7 2144.44,2201.21 2145.4,2200.75 2146.36,2198.17 2147.31,2199.15 2148.27,2198.51 2149.23,2197.91 2150.19,2202.06 2151.14,2202.27 2152.1,2197.8 2153.06,2199.25 2154.02,2199.25 2154.98,2198.07 2155.93,2200.89 2156.89,2201.15 2157.85,2202.13 2158.81,2198.54 2159.76,2200.98 2160.72,2200.85 2161.68,2202.53 2162.64,2199.29 2163.59,2201.33 2164.55,2202.7 2165.51,2198.8 2166.47,2199.87 2167.42,2201.69 2168.38,2201.68 2169.34,2201.49 2170.3,2201.91 2171.25,2200.99 2172.21,2200.7 2173.17,2199.69 2174.13,2201.41 2175.09,2200.53 2176.04,2199.16 2177,2202.33 2177.96,2202.65 2178.92,2201.51 2179.87,2201.48 2180.83,2203.38 2181.79,2202.93 2182.75,2201.07 2183.7,2203.38 2184.66,2202.16 2185.62,2200.49 2186.58,2199.6 2187.53,2203.23 2188.49,2202 2189.45,2202.7 2190.41,2203.18 2191.36,2200.24 2192.32,2202.27 2193.28,2203.22 2194.24,2203.47 2195.2,2203.12 2196.15,2202.52 2197.11,2201.48 2198.07,2200.21 2199.03,2201.95 2199.98,2200.19 2200.94,2203.02 2201.9,2199.98 2202.86,2201.46 2203.81,2201.03 2204.77,2203.57 2205.73,2200.5 2206.69,2202.48 2207.64,2202.7 2208.6,2201.56 2209.56,2201.87 2210.52,2201.51 2211.47,2201.08 2212.43,2201.57 2213.39,2202.85 2214.35,2203.87 2215.31,2202.35 2216.26,2204.38 2217.22,2201.56 2218.18,2201.39 2219.14,2200.57 2220.09,2202.22 2221.05,2204.5 2222.01,2203.53 2222.97,2204.64 2223.92,2201.63 2224.88,2204.56 2225.84,2201.4 2226.8,2202.36 2227.75,2202.38 2228.71,2202.36 2229.67,2201.77 2230.63,2202.39 2231.58,2204.9 2232.54,2204.55 2233.5,2202.68 2233.5,2213.55 2232.54,2214.97 2231.58,2216.27 2230.63,2216.73 2229.67,2213.41 2228.71,2216.33 2227.75,2214.15 2226.8,2214 2225.84,2215.54 2224.88,2213.69 2223.92,2217.24 2222.97,2216.6 2222.01,2216.65 2221.05,2216.81 2220.09,2214.12 2219.14,2214.58 2218.18,2216.8 2217.22,2213.96 2216.26,2216.41 2215.31,2216.13 2214.35,2214.61 2213.39,2215.97 2212.43,2215.6 2211.47,2216.63 2210.52,2216.69 2209.56,2214.24 2208.6,2215.43 2207.64,2216.86 2206.69,2215.7 2205.73,2214.01 2204.77,2215.96 2203.81,2213.74 2202.86,2214.44 2201.9,2214.21 2200.94,2215.29 2199.98,2215.94 2199.03,2213.6 2198.07,2213.28 2197.11,2215.47 2196.15,2216.56 2195.2,2216.28 2194.24,2217.11 2193.28,2213.4 2192.32,2214.1 2191.36,2213.5 2190.41,2216.45 2189.45,2214.63 2188.49,2215.78 2187.53,2213.48 2186.58,2213.35 2185.62,2214.83 2184.66,2213.94 2183.7,2214.28 2182.75,2216.82 2181.79,2215.22 2180.83,2213.39 2179.87,2216.8 2178.92,2213.22 2177.96,2215.66 2177,2216.3 2176.04,2214.51 2175.09,2214.75 2174.13,2215.39 2173.17,2216.3 2172.21,2214.19 2171.25,2215.46 2170.3,2215.7 2169.34,2213.2 2168.38,2214.3 2167.42,2216.01 2166.47,2213.93 2165.51,2214.85 2164.55,2213.02 2163.59,2214.3 2162.64,2215.1 2161.68,2213.12 2160.72,2213.4 2159.76,2214.15 2158.81,2215.28 2157.85,2214.08 2156.89,2213.68 2155.93,2212.54 2154.98,2215.79 2154.02,2213.87 2153.06,2214.49 2152.1,2213.18 2151.14,2213.24 2150.19,2216.2 2149.23,2212.61 2148.27,2214.02 2147.31,2215.01 2146.36,2215.79 2145.4,2211.94 2144.44,2214.42 2143.48,2212.19 2142.53,2215.1 2141.57,2213.32 2140.61,2213.94 2139.65,2215.48 2138.7,2214.5 2137.74,2213.55 2136.78,2212.68 2135.82,2214.13 2134.87,2212.16 2133.91,2212.4 2132.95,2215.28 2131.99,2212.28 2131.03,2213.64 2130.08,2212.23 2129.12,2214.22 2128.16,2213.04 2127.2,2215.01 2126.25,2213.29 2125.29,2211.27 2124.33,2211.81 2123.37,2213.14 2122.42,2212.22 2121.46,2210.98 2120.5,2215 2119.54,2214.28 2118.59,2210.53 2117.63,2213.3 2116.67,2212.02 2115.71,2214.37 2114.76,2213.26 2113.8,2211.86 2112.84,2214.43 2111.88,2210.28 2110.92,2211.45 2109.97,2211.02 2109.01,2209.88 2108.05,2213.44 2107.09,2209.92 2106.14,2210.96 2105.18,2212.58 2104.22,2211.63 2103.26,2213.62 2102.31,2213.16 2101.35,2212.23 2100.39,2209.98 2099.43,2213.89 2098.48,2209.89 2097.52,2211.47 2096.56,2209.86 2095.6,2211.29 2094.65,2209.92 2093.69,2211.95 2092.73,2209.87 2091.77,2212.97 2090.81,2213 2089.86,2209.41 2088.9,2209.32 2087.94,2210.45 2086.98,2211.55 2086.03,2211.17 2085.07,2212.79 2084.11,2213.12 2083.15,2212.65 2082.2,2212.43 2081.24,2210.3 2080.28,2208.72 2079.32,2208.84 2078.37,2210.05 2077.41,2208.97 2076.45,2210.75 2075.49,2210.26 2074.54,2209.57 2073.58,2208.95 2072.62,2212.47 2071.66,2209.82 2070.7,2210.91 2069.75,2209.78 2068.79,2208.37 2067.83,2209.28 2066.87,2207.25 2065.92,2209.71 2064.96,2207.97 2064,2210.15 2063.04,2211.53 2062.09,2210.94 2061.13,2208.2 2060.17,2207.02 2059.21,2208.47 2058.26,2209.7 2057.3,2209.8 2056.34,2210.67 2055.38,2210.01 2054.43,2206.68 2053.47,2207.81 2052.51,2208.62 2051.55,2207.61 2050.59,2209.82 2049.64,2206.33 2048.68,2205.89 2047.72,2209.32 2046.76,2207.2 2045.81,2205.19 2044.85,2208.2 2043.89,2208.83 2042.93,2207.49 2041.98,2207.85 2041.02,2206.14 2040.06,2208.25 2039.1,2208.17 2038.15,2204.5 2037.19,2205.73 2036.23,2209.02 2035.27,2204.31 2034.32,2207.15 2033.36,2208.07 2032.4,2206.09 2031.44,2205.78 2030.48,2207.85 2029.53,2207.86 2028.57,2205.05 2027.61,2205.47 2026.65,2205.66 2025.7,2204.34 2024.74,2206.42 2023.78,2205.01 2022.82,2204.2 2021.87,2204.67 2020.91,2207.26 2019.95,2204.52 2018.99,2203.53 2018.04,2204.99 2017.08,2203.7 2016.12,2202.39 2015.16,2204.61 2014.21,2203.22 2013.25,2204.32 2012.29,2204.91 2011.33,2204.28 2010.37,2201.5 2009.42,2200.5 2008.46,2200.22 2007.5,2202.15 2006.54,2205.01 2005.59,2201.57 2004.63,2201.23 2003.67,2202.49 2002.71,2200.35 2001.76,2203.48 2000.8,2201.86 1999.84,2203.68 1998.88,2199.61 1997.93,2200.52 1996.97,2203.38 1996.01,2202.06 1995.05,2203.19 1994.1,2203.16 1993.14,2202.86 1992.18,2201.13 1991.22,2198.06 1990.26,2197.65 1989.31,2200.57 1988.35,2197.37 1987.39,2197.83 1986.43,2201.9 1985.48,2201.84 1984.52,2199.66 1983.56,2201.03 1982.6,2198.4 1981.65,2198.53 1980.69,2198.17 1979.73,2196.9 1978.77,2199.25 1977.82,2196.49 1976.86,2196.79 1975.9,2197.8 1974.94,2198.57 1973.99,2196.28 1973.03,2198.75 1972.07,2197.15 1971.11,2196.6 1970.15,2194.58 1969.2,2197.48 1968.24,2195.44 1967.28,2193.39 1966.32,2195.85 1965.37,2194.23 1964.41,2193.16 1963.45,2196.62 1962.49,2193.21 1961.54,2192.12 1960.58,2196.08 1959.62,2195.57 1958.66,2193.72 1957.71,2195.27 1956.75,2192.32 1955.79,2194.38 1954.83,2190.6 1953.88,2194.3 1952.92,2191.25 1951.96,2193.42 1951,2194.26 1950.04,2192.93 1949.09,2192.43 1948.13,2193.55 1947.17,2189.18 1946.21,2192.83 1945.26,2192.94 1944.3,2190.36 1943.34,2190.85 1942.38,2190.61 1941.43,2187.18 1940.47,2186.21 1939.51,2188.44 1938.55,2190.83 1937.6,2188.53 1936.64,2189.86 1935.68,2189.36 1934.72,2185.11 1933.77,2184.06 1932.81,2186.44 1931.85,2188.75 1930.89,2184.5 1929.93,2187.15 1928.98,2186.59 1928.02,2183.9 1927.06,2187.15 1926.1,2184.1 1925.15,2182.5 1924.19,2181.01 1923.23,2185.52 1922.27,2185.08 1921.32,2183.17 1920.36,2182.77 1919.4,2184.57 1918.44,2180.24 1917.49,2179.13 1916.53,2180.49 1915.57,2179.78 1914.61,2179.04 1913.66,2178.17 1912.7,2178.03 1911.74,2180.84 1910.78,2180.45 1909.82,2176.72 1908.87,2179.66 1907.91,2176.05 1906.95,2180.25 1905.99,2174.21 1905.04,2179.18 1904.08,2179.12 1903.12,2175.54 1902.16,2177.51 1901.21,2176.06 1900.25,2176.26 1899.29,2173.31 1898.33,2172.3 1897.38,2173.38 1896.42,2170.38 1895.46,2170.15 1894.5,2172.39 1893.55,2172.36 1892.59,2173.14 1891.63,2168.65 1890.67,2169.83 1889.71,2171.42 1888.76,2165.71 1887.8,2167.44 1886.84,2166 1885.88,2168.68 1884.93,2167.08 1883.97,2165.26 1883.01,2166.86 1882.05,2162.79 1881.1,2161.6 1880.14,2163.16 1879.18,2164 1878.22,2163.08 1877.27,2160.35 1876.31,2159.63 1875.35,2161.6 1874.39,2160.09 1873.44,2161.4 1872.48,2157.21 1871.52,2158.11 1870.56,2155.28 1869.6,2157.77 1868.65,2155.94 1867.69,2153.74 1866.73,2154.06 1865.77,2155.81 1864.82,2155.01 1863.86,2153.22 1862.9,2149.85 1861.94,2149.02 1860.99,2149.59 1860.03,2149.8 1859.07,2150 1858.11,2146.1 1857.16,2147.1 1856.2,2146.33 1855.24,2146.15 1854.28,2142.38 1853.33,2142.69 1852.37,2143.53 1851.41,2139.94 1850.45,2140.02 1849.49,2140.01 1848.54,2137.22 1847.58,2137.46 1846.62,2136.74 1845.66,2134.13 1844.71,2135.33 1843.75,2133.14 1842.79,2130.31 1841.83,2129.46 1840.88,2129.99 1839.92,2127.49 1838.96,2125.15 1838,2124.21 1837.05,2121.46 1836.09,2120.87 1835.13,2119.09 1834.17,2117.78 1833.22,2115.23 1832.26,2113.24 1831.3,2111.69" fill="#7f7f7f" fill-opacity="0.25"/>
<polyline points="1831.3,2106.23 1832.26,2108.35 1833.22,2110.55 1834.17,2114.25 1835.13,2114.68 1836.09,2117.2 1837.05,2118.5 1838,2119.05 1838.96,2121.59 1839.92,2123.57 1840.88,2123.52 1841.83,2126.07 1842.79,2128.12 1843.75,2129.33 1844.71,2130.12 1845.66,2129.49 1846.62,2130.5 1847.58,2132.23 1848.54,2133.95 1849.49,2133.01 1850.45,2134.43 1851.41,2137.45 1852.37,2137.51 1853.33,2138.38 1854.28,2139.4 1855.24,2139.33 1856.2,2140.57 1857.16,2141.75 1858.11,2141.45 1859.07,2143.69 1860.03,2144.25 1860.99,2142.92 1861.94,2146.03 1862.9,2142.97 1863.86,2144.65 1864.82,2144.34 1865.77,2145.49 1866.73,2149.25 1867.69,2147.17 1868.65,2146.61 1869.6,2147.24 1870.56,2148.68 1871.52,2151.42 1872.48,2149.93 1873.44,2151.2 1874.39,2153.83 1875.35,2154.34 1876.31,2154.59 1877.27,2155.77 1878.22,2156.16 1879.18,2157.22 1880.14,2157.23 1881.1,2153.51 1882.05,2155.38 1883.01,2155.53 1883.97,2155.38 1884.93,2157.88 1885.88,2156.54 1886.84,2156.25 1887.8,2160.92 1888.76,2159.83 1889.71,2161.61 1890.67,2163.54 1891.63,2159.53 1892.59,2160.51 1893.55,2161.72 1894.5,2159.96 1895.46,2161.48 1896.42,2161.03 1897.38,2165.63 1898.33,2164.56 1899.29,2164.46 1900.25,2165.87 1901.21,2167.91 1902.16,2165.59 1903.12,2166.82 1904.08,2169.56 1905.04,2168.19 1905.99,2165.33 1906.95,2169.68 1907.91,2168.86 1908.87,2166.45 1909.82,2171.25 1910.78,2170.88 1911.74,2169.95 1912.7,2173.17 1913.66,2172.96 1914.61,2173.58 1915.57,2171.53 1916.53,2174.23 1917.49,2172.15 1918.44,2174.53 1919.4,2170.98 1920.36,2172.37 1921.32,2170.95 1922.27,2172.28 1923.23,2176.66 1924.19,2176 1925.15,2172.89 1926.1,2176.99 1927.06,2177.92 1928.02,2174.37 1928.98,2179.1 1929.93,2174.18 1930.89,2179.19 1931.85,2179.39 1932.81,2179.61 1933.77,2176.79 1934.72,2176.35 1935.68,2181.01 1936.64,2179.54 1937.6,2178.04 1938.55,2179.77 1939.51,2178.37 1940.47,2177.54 1941.43,2177.24 1942.38,2182.99 1943.34,2179.39 1944.3,2182.62 1945.26,2181.59 1946.21,2182.88 1947.17,2179.84 1948.13,2183.25 1949.09,2183.32 1950.04,2183.71 1951,2185.22 1951.96,2183.35 1952.92,2184.24 1953.88,2182.85 1954.83,2185.76 1955.79,2182.65 1956.75,2183.83 1957.71,2182.32 1958.66,2185.26 1959.62,2187.13 1960.58,2184.76 1961.54,2184.03 1962.49,2188.01 1963.45,2184.16 1964.41,2187.79 1965.37,2187.65 1966.32,2186.91 1967.28,2188.25 1968.24,2186.89 1969.2,2186.77 1970.15,2188.55 1971.11,2187.16 1972.07,2190.63 1973.03,2187.51 1973.99,2186.84 1974.94,2191.27 1975.9,2190.39 1976.86,2186.18 1977.82,2187.34 1978.77,2186.71 1979.73,2190.19 1980.69,2191.95 1981.65,2191.59 1982.6,2190.09 1983.56,2192.65 1984.52,2191.84 1985.48,2192.87 1986.43,2189.15 1987.39,2191.95 1988.35,2192.44 1989.31,2193.46 1990.26,2190 1991.22,2192.48 1992.18,2189.62 1993.14,2189.45 1994.1,2193.35 1995.05,2194.71 1996.01,2190.51 1996.97,2194.33 1997.93,2194.66 1998.88,2193.61 1999.84,2190.7 2000.8,2192.79 2001.76,2192.35 2002.71,2196.24 2003.67,2192.85 2004.63,2193.64 2005.59,2193.12 2006.54,2194.95 2007.5,2195.46 2008.46,2196.41 2009.42,2195.56 2010.37,2197.35 2011.33,2194.24 2012.29,2193.03 2013.25,2194.81 2014.21,2196.18 2015.16,2198.25 2016.12,2198.26 2017.08,2197.01 2018.04,2194.39 2018.99,2198.12 2019.95,2193.96 2020.91,2198.57 2021.87,2195.81 2022.82,2194.21 2023.78,2195.74 2024.74,2196.2 2025.7,2195.79 2026.65,2199.56 2027.61,2197.04 2028.57,2197.2 2029.53,2196.95 2030.48,2197.81 2031.44,2198.11 2032.4,2198.56 2033.36,2197.01 2034.32,2197.54 2035.27,2197.3 2036.23,2199.52 2037.19,2198.88 2038.15,2199.59 2039.1,2198.92 2040.06,2201.2 2041.02,2196.96 2041.98,2197.9 2042.93,2201.11 2043.89,2199.15 2044.85,2198.31 2045.81,2198.26 2046.76,2199.61 2047.72,2201.52 2048.68,2197.62 2049.64,2200.01 2050.59,2201.35 2051.55,2199.04 2052.51,2199.77 2053.47,2202.82 2054.43,2199.91 2055.38,2200.12 2056.34,2203.23 2057.3,2198.83 2058.26,2198.59 2059.21,2201.57 2060.17,2203.63 2061.13,2202.75 2062.09,2200.96 2063.04,2202.18 2064,2203.5 2064.96,2202.63 2065.92,2204.14 2066.87,2200.44 2067.83,2202.67 2068.79,2201.99 2069.75,2200.37 2070.7,2203.18 2071.66,2202.66 2072.62,2201.27 2073.58,2200.89 2074.54,2202.17 2075.49,2200.86 2076.45,2201.18 2077.41,2203.74 2078.37,2200.42 2079.32,2204.85 2080.28,2203.09 2081.24,2205.44 2082.2,2203.06 2083.15,2202.88 2084.11,2205.25 2085.07,2200.79 2086.03,2201.43 2086.98,2205.29 2087.94,2204.76 2088.9,2205.3 2089.86,2201.25 2090.81,2205.32 2091.77,2203.03 2092.73,2206.01 2093.69,2203.04 2094.65,2206.27 2095.6,2202.76 2096.56,2204.99 2097.52,2204.66 2098.48,2204.45 2099.43,2201.85 2100.39,2205.03 2101.35,2206.39 2102.31,2205.43 2103.26,2202.11 2104.22,2204.23 2105.18,2202.42 2106.14,2207.06 2107.09,2206.23 2108.05,2206.03 2109.01,2204.02 2109.97,2206.79 2110.92,2206.82 2111.88,2203.41 2112.84,2207.03 2113.8,2202.86 2114.76,2204.78 2115.71,2207.42 2116.67,2206.55 2117.63,2204.27 2118.59,2205.52 2119.54,2205.17 2120.5,2204.42 2121.46,2207.96 2122.42,2204.07 2123.37,2203.28 2124.33,2206.16 2125.29,2207.82 2126.25,2207.21 2127.2,2204.67 2128.16,2205.48 2129.12,2206.22 2130.08,2203.97 2131.03,2206.13 2131.99,2204.84 2132.95,2204.59 2133.91,2206.38 2134.87,2206.21 2135.82,2205.85 2136.78,2204.43 2137.74,2204.26 2138.7,2204.97 2139.65,2208.71 2140.61,2205.12 2141.57,2205.09 2142.53,2207.55 2143.48,2206.33 2144.44,2205.44 2145.4,2207.52 2146.36,2205.85 2147.31,2207.52 2148.27,2204.78 2149.23,2206.61 2150.19,2209.07 2151.14,2205.52 2152.1,2208.84 2153.06,2205.85 2154.02,2209.18 2154.98,2209.01 2155.93,2207.44 2156.89,2206.59 2157.85,2206.51 2158.81,2208.86 2159.76,2205.62 2160.72,2208.81 2161.68,2206.99 2162.64,2209.05 2163.59,2209.63 2164.55,2205.69 2165.51,2207.76 2166.47,2208.45 2167.42,2207.79 2168.38,2208.35 2169.34,2207.3 2170.3,2208 2171.25,2205.61 2172.21,2207.81 2173.17,2206.08 2174.13,2208.66 2175.09,2208.96 2176.04,2206.1 2177,2207.32 2177.96,2206.03 2178.92,2208.66 2179.87,2207.4 2180.83,2209.93 2181.79,2206.47 2182.75,2207.62 2183.7,2209.45 2184.66,2209.66 2185.62,2209.52 2186.58,2208.39 2187.53,2208.11 2188.49,2207.35 2189.45,2210.18 2190.41,2206.36 2191.36,2208.37 2192.32,2209.57 2193.28,2209.52 2194.24,2206.33 2195.2,2208.96 2196.15,2209.88 2197.11,2206.97 2198.07,2207.99 2199.03,2207.55 2199.98,2208.73 2200.94,2207.19 2201.9,2209.59 2202.86,2209.54 2203.81,2209.67 2204.77,2207.69 2205.73,2208.73 2206.69,2210.53 2207.64,2207.44 2208.6,2208.93 2209.56,2207.08 2210.52,2210.24 2211.47,2209.86 2212.43,2210.51 2213.39,2208.78 2214.35,2209.12 2215.31,2208.96 2216.26,2208.73 2217.22,2210.34 2218.18,2208.58 2219.14,2210.14 2220.09,2210.69 2221.05,2210.87 2222.01,2210.31 2222.97,2207.16 2223.92,2209.73 2224.88,2210.94 2225.84,2208.35 2226.8,2208.81 2227.75,2210.96 2228.71,2208.56 2229.67,2208.16 2230.63,2209.04 2231.58,2210.44 2232.54,2209.03 2233.5,2210.95" fill="none" stroke="#7f7f7f" stroke-width="3.6" stroke-linejoin="round"/>
<polygon points="1831.3,2018.6 1832.26,2012.21 1833.22,2009.66 1834.17,2010.36 1835.13,2015.81 1836.09,2021.88 1837.05,2028.87 1838,2029.12 1838.96,2022.94 1839.92,2023.42 1840.88,2028.78 1841.83,2034.83 1842.79,2040.33 1843.75,2048.81 1844.71,2055.97 1845.66,2061.69 1846.62,2067.05 1847.58,2071.53 1848.54,2078.58 1849.49,2087.16 1850.45,2092.88 1851.41,2099.79 1852.37,2100.23 1853.33,2097.78 1854.28,2100.75 1855.24,2099.48 1856.2,2100.74 1857.16,2098.9 1858.11,2100.42 1859.07,2104.51 1860.03,2104.79 1860.99,2106.53 1861.94,2105.76 1862.9,2104.47 1863.86,2107.35 1864.82,2103.81 1865.77,2106.67 1866.73,2106.68 1867.69,2105.28 1868.65,2111.94 1869.6,2110.09 1870.56,2107.26 1871.52,2109.36 1872.48,2108.65 1873.44,2109.51 1874.39,2114.09 1875.35,2112.01 1876.31,2112.66 1877.27,2116.92 1878.22,2116.45 1879.18,2117.58 1880.14,2119.63 1881.1,2116 1882.05,2121.01 1883.01,2122.23 1883.97,2120.39 1884.93,2119.14 1885.88,2119.68 1886.84,2122.71 1887.8,2122.88 1888.76,2120.21 1889.71,2123.58 1890.67,2127.72 1891.63,2120.45 1892.59,2122.05 1893.55,2123.37 1894.5,2128.02 1895.46,2124.44 1896.42,2129.16 1897.38,2127.36 1898.33,2131.2 1899.29,2126.28 1900.25,2132.38 1901.21,2130.93 1902.16,2127.97 1903.12,2135.82 1904.08,2131.65 1905.04,2136.11 1905.99,2132.52 1906.95,2129.82 1907.91,2132.63 1908.87,2133.55 1909.82,2136.96 1910.78,2138.39 1911.74,2136.85 1912.7,2136.66 1913.66,2142.4 1914.61,2133.87 1915.57,2138.15 1916.53,2137.59 1917.49,2141.21 1918.44,2143.42 1919.4,2139.06 1920.36,2146.61 1921.32,2145.75 1922.27,2146.17 1923.23,2144.34 1924.19,2146.42 1925.15,2141.47 1926.1,2148.68 1927.06,2146.63 1928.02,2149.06 1928.98,2146.55 1929.93,2151.49 1930.89,2148.19 1931.85,2148.06 1932.81,2146.9 1933.77,2154.79 1934.72,2150.69 1935.68,2147.38 1936.64,2155.41 1937.6,2153.89 1938.55,2155 1939.51,2153.87 1940.47,2157.16 1941.43,2155.44 1942.38,2150.63 1943.34,2156.7 1944.3,2153.55 1945.26,2156.28 1946.21,2159.19 1947.17,2159.45 1948.13,2154.26 1949.09,2162.9 1950.04,2161.81 1951,2161.93 1951.96,2158.05 1952.92,2159.4 1953.88,2160.02 1954.83,2165.47 1955.79,2165.06 1956.75,2160.7 1957.71,2158.86 1958.66,2164.69 1959.62,2162.36 1960.58,2159.38 1961.54,2164.29 1962.49,2163.38 1963.45,2167.62 1964.41,2169.23 1965.37,2161.45 1966.32,2165.66 1967.28,2162.73 1968.24,2167.17 1969.2,2171.75 1970.15,2167.38 1971.11,2170.61 1972.07,2169.36 1973.03,2166.75 1973.99,2172.95 1974.94,2165.11 1975.9,2171.94 1976.86,2167.03 1977.82,2172.48 1978.77,2166.44 1979.73,2166.57 1980.69,2168.73 1981.65,2174.86 1982.6,2175.51 1983.56,2169.82 1984.52,2172.68 1985.48,2176.79 1986.43,2175.65 1987.39,2177.78 1988.35,2171.55 1989.31,2172.68 1990.26,2173.4 1991.22,2179.24 1992.18,2173.01 1993.14,2178.35 1994.1,2175.78 1995.05,2176.22 1996.01,2171.91 1996.97,2179.16 1997.93,2176.34 1998.88,2177.8 1999.84,2181.61 2000.8,2180.52 2001.76,2175.08 2002.71,2182.32 2003.67,2175.75 2004.63,2175.19 2005.59,2177.45 2006.54,2176.92 2007.5,2181.69 2008.46,2175.72 2009.42,2183.19 2010.37,2182.38 2011.33,2182.22 2012.29,2182.79 2013.25,2179.7 2014.21,2177.26 2015.16,2179.3 2016.12,2185.01 2017.08,2185.37 2018.04,2183.82 2018.99,2186.21 2019.95,2178.81 2020.91,2183.66 2021.87,2183.58 2022.82,2184.24 2023.78,2185.97 2024.74,2185.2 2025.7,2187.11 2026.65,2185.5 2027.61,2181.96 2028.57,2187.89 2029.53,2186.54 2030.48,2184.94 2031.44,2181.63 2032.4,2184.1 2033.36,2187.95 2034.32,2182.25 2035.27,2180.91 2036.23,2188.74 2037.19,2185.84 2038.15,2183.27 2039.1,2183.13 2040.06,2187.27 2041.02,2183.57 2041.98,2182.53 2042.93,2185.24 2043.89,2184.89 2044.85,2185.69 2045.81,2183.71 2046.76,2185.37 2047.72,2185.84 2048.68,2184.5 2049.64,2184.04 2050.59,2190.47 2051.55,2187.09 2052.51,2186.23 2053.47,2188.03 2054.43,2185.07 2055.38,2189.7 2056.34,2189.86 2057.3,2185.8 2058.26,2191.49 2059.21,2187.98 2060.17,2185.27 2061.13,2185.5 2062.09,2186.52 2063.04,2186.19 2064,2185.59 2064.96,2190.36 2065.92,2190.51 2066.87,2192.96 2067.83,2188.88 2068.79,2193.84 2069.75,2192.28 2070.7,2194.18 2071.66,2193.15 2072.62,2191.58 2073.58,2194.43 2074.54,2194.71 2075.49,2187.08 2076.45,2195.11 2077.41,2189.56 2078.37,2192.36 2079.32,2190.12 2080.28,2192.3 2081.24,2190.23 2082.2,2193.01 2083.15,2194.24 2084.11,2193.06 2085.07,2194.85 2086.03,2196.05 2086.98,2195.51 2087.94,2193.13 2088.9,2188.64 2089.86,2188.97 2090.81,2196.51 2091.77,2192.64 2092.73,2191.6 2093.69,2196.5 2094.65,2195.06 2095.6,2189.29 2096.56,2191.49 2097.52,2196.15 2098.48,2190.23 2099.43,2191.28 2100.39,2196.13 2101.35,2192.12 2102.31,2191.09 2103.26,2196.61 2104.22,2195.75 2105.18,2192.55 2106.14,2193.18 2107.09,2197.98 2108.05,2194.25 2109.01,2190.44 2109.97,2191.02 2110.92,2194.1 2111.88,2196.76 2112.84,2193.25 2113.8,2198.2 2114.76,2194.04 2115.71,2194.76 2116.67,2197.25 2117.63,2192.61 2118.59,2197.01 2119.54,2197.23 2120.5,2193.54 2121.46,2194.31 2122.42,2198.91 2123.37,2191.09 2124.33,2192.67 2125.29,2195.7 2126.25,2195.2 2127.2,2192.79 2128.16,2194.19 2129.12,2191.58 2130.08,2191.52 2131.03,2196.45 2131.99,2197.76 2132.95,2199.37 2133.91,2197.62 2134.87,2198.16 2135.82,2195.69 2136.78,2196.02 2137.74,2191.93 2138.7,2194.76 2139.65,2196.77 2140.61,2195.93 2141.57,2197.51 2142.53,2192.3 2143.48,2193.08 2144.44,2198.89 2145.4,2198.1 2146.36,2193.75 2147.31,2195.35 2148.27,2194.25 2149.23,2193.21 2150.19,2200.11 2151.14,2200.43 2152.1,2192.92 2153.06,2195.3 2154.02,2195.27 2154.98,2193.26 2155.93,2197.94 2156.89,2198.34 2157.85,2199.94 2158.81,2193.91 2159.76,2197.95 2160.72,2197.71 2161.68,2200.47 2162.64,2195.03 2163.59,2198.4 2164.55,2200.66 2165.51,2194.1 2166.47,2195.85 2167.42,2198.88 2168.38,2198.82 2169.34,2198.47 2170.3,2199.15 2171.25,2197.57 2172.21,2197.05 2173.17,2195.33 2174.13,2198.17 2175.09,2196.67 2176.04,2194.34 2177,2199.62 2177.96,2200.13 2178.92,2198.18 2179.87,2198.11 2180.83,2201.26 2181.79,2200.48 2182.75,2197.33 2183.7,2201.17 2184.66,2199.08 2185.62,2196.27 2186.58,2194.74 2187.53,2200.79 2188.49,2198.7 2189.45,2199.85 2190.41,2200.63 2191.36,2195.67 2192.32,2199.03 2193.28,2200.6 2194.24,2201 2195.2,2200.38 2196.15,2199.34 2197.11,2197.57 2198.07,2195.4 2199.03,2198.31 2199.98,2195.31 2200.94,2200.03 2201.9,2194.9 2202.86,2197.36 2203.81,2196.61 2204.77,2200.86 2205.73,2195.66 2206.69,2198.96 2207.64,2199.32 2208.6,2197.37 2209.56,2197.87 2210.52,2197.24 2211.47,2196.49 2212.43,2197.28 2213.39,2199.4 2214.35,2201.1 2215.31,2198.52 2216.26,2201.9 2217.22,2197.14 2218.18,2196.83 2219.14,2195.42 2220.09,2198.17 2221.05,2201.99 2222.01,2200.33 2222.97,2202.17 2223.92,2197.07 2224.88,2201.98 2225.84,2196.64 2226.8,2198.22 2227.75,2198.24 2228.71,2198.19 2229.67,2197.17 2230.63,2198.19 2231.58,2202.41 2232.54,2201.79 2233.5,2198.61 2233.5,2216.95 2232.54,2219.37 2231.58,2221.58 2230.63,2222.37 2229.67,2216.8 2228.71,2221.74 2227.75,2218.09 2226.8,2217.86 2225.84,2220.47 2224.88,2217.39 2223.92,2223.38 2222.97,2222.33 2222.01,2222.43 2221.05,2222.72 2220.09,2218.22 2219.14,2219 2218.18,2222.77 2217.22,2218.02 2216.26,2222.16 2215.31,2221.71 2214.35,2219.18 2213.39,2221.49 2212.43,2220.89 2211.47,2222.64 2210.52,2222.77 2209.56,2218.67 2208.6,2220.7 2207.64,2223.13 2206.69,2221.2 2205.73,2218.38 2204.77,2221.69 2203.81,2217.99 2202.86,2219.18 2201.9,2218.82 2200.94,2220.66 2199.98,2221.78 2199.03,2217.88 2198.07,2217.36 2197.11,2221.07 2196.15,2222.92 2195.2,2222.48 2194.24,2223.9 2193.28,2217.7 2192.32,2218.9 2191.36,2217.92 2190.41,2222.89 2189.45,2219.86 2188.49,2221.82 2187.53,2217.99 2186.58,2217.81 2185.62,2220.32 2184.66,2218.85 2183.7,2219.45 2182.75,2223.73 2181.79,2221.07 2180.83,2218.04 2179.87,2223.78 2178.92,2217.81 2177.96,2221.93 2177,2223.04 2176.04,2220.06 2175.09,2220.49 2174.13,2221.59 2173.17,2223.16 2172.21,2219.64 2171.25,2221.8 2170.3,2222.23 2169.34,2218.08 2168.38,2219.95 2167.42,2222.84 2166.47,2219.39 2165.51,2220.97 2164.55,2217.93 2163.59,2220.1 2162.64,2221.47 2161.68,2218.19 2160.72,2218.69 2159.76,2219.98 2158.81,2221.91 2157.85,2219.93 2156.89,2219.29 2155.93,2217.42 2154.98,2222.88 2154.02,2219.7 2153.06,2220.77 2152.1,2218.62 2151.14,2218.76 2150.19,2223.74 2149.23,2217.76 2148.27,2220.16 2147.31,2221.85 2146.36,2223.17 2145.4,2216.78 2144.44,2220.96 2143.48,2217.26 2142.53,2222.16 2141.57,2219.23 2140.61,2220.28 2139.65,2222.89 2138.7,2221.3 2137.74,2219.74 2136.78,2218.33 2135.82,2220.78 2134.87,2217.53 2133.91,2217.97 2132.95,2222.8 2131.99,2217.85 2131.03,2220.15 2130.08,2217.82 2129.12,2221.18 2128.16,2219.25 2127.2,2222.58 2126.25,2219.74 2125.29,2216.41 2124.33,2217.35 2123.37,2219.59 2122.42,2218.1 2121.46,2216.07 2120.5,2222.81 2119.54,2221.65 2118.59,2215.43 2117.63,2220.1 2116.67,2218 2115.71,2221.95 2114.76,2220.13 2113.8,2217.84 2112.84,2222.16 2111.88,2215.28 2110.92,2217.27 2109.97,2216.59 2109.01,2214.73 2108.05,2220.69 2107.09,2214.89 2106.14,2216.64 2105.18,2219.39 2104.22,2217.83 2103.26,2221.18 2102.31,2220.46 2101.35,2218.95 2100.39,2215.25 2099.43,2221.79 2098.48,2215.18 2097.52,2217.84 2096.56,2215.2 2095.6,2217.61 2094.65,2215.38 2093.69,2218.8 2092.73,2215.38 2091.77,2220.57 2090.81,2220.65 2089.86,2214.73 2088.9,2214.62 2087.94,2216.54 2086.98,2218.39 2086.03,2217.81 2085.07,2220.54 2084.11,2221.12 2083.15,2220.38 2082.2,2220.05 2081.24,2216.55 2080.28,2213.98 2079.32,2214.21 2078.37,2216.26 2077.41,2214.51 2076.45,2217.5 2075.49,2216.73 2074.54,2215.61 2073.58,2214.62 2072.62,2220.51 2071.66,2216.15 2070.7,2217.99 2069.75,2216.16 2068.79,2213.86 2067.83,2215.4 2066.87,2212.08 2065.92,2216.19 2064.96,2213.34 2064,2217 2063.04,2219.32 2062.09,2218.38 2061.13,2213.88 2060.17,2211.96 2059.21,2214.4 2058.26,2216.48 2057.3,2216.68 2056.34,2218.15 2055.38,2217.09 2054.43,2211.62 2053.47,2213.52 2052.51,2214.91 2051.55,2213.27 2050.59,2216.97 2049.64,2211.23 2048.68,2210.53 2047.72,2216.23 2046.76,2212.77 2045.81,2209.47 2044.85,2214.49 2043.89,2215.57 2042.93,2213.38 2041.98,2214.01 2041.02,2211.21 2040.06,2214.74 2039.1,2214.64 2038.15,2208.6 2037.19,2210.67 2036.23,2216.15 2035.27,2208.38 2034.32,2213.12 2033.36,2214.66 2032.4,2211.42 2031.44,2210.94 2030.48,2214.39 2029.53,2214.44 2028.57,2209.82 2027.61,2210.55 2026.65,2210.89 2025.7,2208.73 2024.74,2212.2 2023.78,2209.9 2022.82,2208.59 2021.87,2209.4 2020.91,2213.69 2019.95,2209.21 2018.99,2207.59 2018.04,2210.02 2017.08,2207.92 2016.12,2205.78 2015.16,2209.48 2014.21,2207.21 2013.25,2209.05 2012.29,2210.04 2011.33,2209.03 2010.37,2204.46 2009.42,2202.83 2008.46,2202.39 2007.5,2205.6 2006.54,2210.33 2005.59,2204.67 2004.63,2204.13 2003.67,2206.24 2002.71,2202.72 2001.76,2207.9 2000.8,2205.25 1999.84,2208.26 1998.88,2201.56 1997.93,2203.08 1996.97,2207.82 1996.01,2205.65 1995.05,2207.53 1994.1,2207.49 1993.14,2207.01 1992.18,2204.17 1991.22,2199.13 1990.26,2198.46 1989.31,2203.27 1988.35,2198.02 1987.39,2198.79 1986.43,2205.49 1985.48,2205.41 1984.52,2201.83 1983.56,2204.08 1982.6,2199.75 1981.65,2199.98 1980.69,2199.38 1979.73,2197.3 1978.77,2201.16 1977.82,2196.64 1976.86,2197.13 1975.9,2198.79 1974.94,2200.06 1973.99,2196.28 1973.03,2200.35 1972.07,2197.71 1971.11,2196.81 1970.15,2193.47 1969.2,2198.25 1968.24,2194.89 1967.28,2191.5 1966.32,2195.55 1965.37,2192.87 1964.41,2191.1 1963.45,2196.79 1962.49,2191.17 1961.54,2189.36 1960.58,2195.86 1959.62,2195.01 1958.66,2191.96 1957.71,2194.49 1956.75,2189.64 1955.79,2193.01 1954.83,2186.79 1953.88,2192.84 1952.92,2187.81 1951.96,2191.37 1951,2192.73 1950.04,2190.52 1949.09,2189.67 1948.13,2191.49 1947.17,2184.3 1946.21,2190.27 1945.26,2190.44 1944.3,2186.17 1943.34,2186.95 1942.38,2186.54 1941.43,2180.89 1940.47,2179.27 1939.51,2182.89 1938.55,2186.79 1937.6,2182.99 1936.64,2185.14 1935.68,2184.29 1934.72,2177.3 1933.77,2175.55 1932.81,2179.42 1931.85,2183.18 1930.89,2176.19 1929.93,2180.5 1928.98,2179.55 1928.02,2175.12 1927.06,2180.4 1926.1,2175.37 1925.15,2172.72 1924.19,2170.25 1923.23,2177.6 1922.27,2176.86 1921.32,2173.69 1920.36,2173 1919.4,2175.92 1918.44,2168.8 1917.49,2166.94 1916.53,2169.14 1915.57,2167.94 1914.61,2166.7 1913.66,2165.25 1912.7,2164.99 1911.74,2169.56 1910.78,2168.75 1909.82,2162.56 1908.87,2167.12 1907.91,2161.21 1906.95,2167.65 1905.99,2158.02 1905.04,2165.55 1904.08,2165.24 1903.12,2159.57 1902.16,2162.34 1901.21,2159.94 1900.25,2160.01 1899.29,2155.46 1898.33,2153.79 1897.38,2155.26 1896.42,2150.81 1895.46,2150.4 1894.5,2153.54 1893.55,2153.41 1892.59,2154.45 1891.63,2147.87 1890.67,2149.49 1889.71,2151.71 1888.76,2143.39 1887.8,2145.81 1886.84,2143.65 1885.88,2147.45 1884.93,2145.08 1883.97,2142.4 1883.01,2144.64 1882.05,2138.73 1881.1,2136.96 1880.14,2139.17 1879.18,2140.33 1878.22,2138.98 1877.27,2135.03 1876.31,2133.98 1875.35,2136.79 1874.39,2134.62 1873.44,2136.5 1872.48,2130.53 1871.52,2131.84 1870.56,2127.84 1869.6,2131.42 1868.65,2128.88 1867.69,2125.82 1866.73,2126.36 1865.77,2128.95 1864.82,2127.93 1863.86,2125.53 1862.9,2120.9 1861.94,2119.92 1860.99,2120.92 1860.03,2121.44 1859.07,2122 1858.11,2116.78 1857.16,2118.52 1856.2,2117.8 1855.24,2117.96 1854.28,2113.14 1853.33,2114.11 1852.37,2115.91 1851.41,2111.64 1850.45,2107.42 1849.49,2102.11 1848.54,2092.96 1847.58,2088.08 1846.62,2081.91 1845.66,2073.17 1844.71,2069.77 1843.75,2061.73 1842.79,2052.87 1841.83,2046.83 1840.88,2042.77 1839.92,2034.61 1838.96,2034.69 1838,2039.53 1837.05,2037.43 1836.09,2034.01 1835.13,2027.11 1834.17,2022.32 1833.22,2020.04 1832.26,2023.45 1831.3,2030.79" fill="#3f63dd" fill-opacity="0.25"/>
<polyline points="1831.3,2023.54 1832.26,2016.98 1833.22,2013.83 1834.17,2017.39 1835.13,2021.18 1836.09,2028.96 1837.05,2033.4 1838,2032.64 1838.96,2029.8 1839.92,2029.14 1840.88,2033.99 1841.83,2042.09 1842.79,2049.66 1843.75,2056.26 1844.71,2062.4 1845.66,2066.84 1846.62,2073.35 1847.58,2080.8 1848.54,2088.29 1849.49,2092.51 1850.45,2099.7 1851.41,2107.93 1852.37,2107.36 1853.33,2107.95 1854.28,2108.81 1855.24,2108.37 1856.2,2109.61 1857.16,2110.83 1858.11,2110.23 1859.07,2112.85 1860.03,2113.41 1860.99,2111.6 1861.94,2115.41 1862.9,2111.48 1863.86,2113.53 1864.82,2113.08 1865.77,2114.51 1866.73,2119.25 1867.69,2116.62 1868.65,2115.92 1869.6,2116.75 1870.56,2118.62 1871.52,2122.14 1872.48,2120.32 1873.44,2121.99 1874.39,2125.42 1875.35,2126.14 1876.31,2126.56 1877.27,2128.17 1878.22,2128.77 1879.18,2130.22 1880.14,2130.36 1881.1,2125.73 1882.05,2128.24 1883.01,2128.55 1883.97,2128.5 1884.93,2131.83 1885.88,2130.25 1886.84,2130.02 1887.8,2136.15 1888.76,2134.9 1889.71,2137.33 1890.67,2139.96 1891.63,2134.96 1892.59,2136.37 1893.55,2138.08 1894.5,2135.97 1895.46,2138.07 1896.42,2137.66 1897.38,2143.74 1898.33,2142.52 1899.29,2142.54 1900.25,2144.54 1901.21,2147.41 1902.16,2144.46 1903.12,2146.27 1904.08,2150.12 1905.04,2148.41 1905.99,2144.58 1906.95,2150.74 1907.91,2149.72 1908.87,2146.42 1909.82,2153.37 1910.78,2152.96 1911.74,2151.72 1912.7,2156.5 1913.66,2156.3 1914.61,2157.29 1915.57,2154.4 1916.53,2158.43 1917.49,2155.5 1918.44,2159.05 1919.4,2153.98 1920.36,2156.1 1921.32,2154.12 1922.27,2156.15 1923.23,2162.63 1924.19,2161.76 1925.15,2157.32 1926.1,2163.39 1927.06,2164.82 1928.02,2159.74 1928.98,2166.72 1929.93,2159.64 1930.89,2167.03 1931.85,2167.4 1932.81,2167.81 1933.77,2163.79 1934.72,2163.23 1935.68,2170.1 1936.64,2168.04 1937.6,2165.93 1938.55,2168.54 1939.51,2166.56 1940.47,2165.43 1941.43,2165.07 1942.38,2173.53 1943.34,2168.36 1944.3,2173.15 1945.26,2171.72 1946.21,2173.66 1947.17,2169.3 1948.13,2174.34 1949.09,2174.52 1950.04,2175.14 1951,2177.41 1951.96,2174.75 1952.92,2176.12 1953.88,2174.14 1954.83,2178.46 1955.79,2173.98 1956.75,2175.76 1957.71,2173.61 1958.66,2177.96 1959.62,2180.74 1960.58,2177.34 1961.54,2176.33 1962.49,2182.19 1963.45,2176.61 1964.41,2181.96 1965.37,2181.81 1966.32,2180.78 1967.28,2182.79 1968.24,2180.85 1969.2,2180.71 1970.15,2183.36 1971.11,2181.37 1972.07,2186.47 1973.03,2181.96 1973.99,2181.02 1974.94,2187.53 1975.9,2186.29 1976.86,2180.17 1977.82,2181.9 1978.77,2181.01 1979.73,2186.13 1980.69,2188.74 1981.65,2188.24 1982.6,2186.07 1983.56,2189.84 1984.52,2188.69 1985.48,2190.22 1986.43,2184.8 1987.39,2188.93 1988.35,2189.67 1989.31,2191.19 1990.26,2186.14 1991.22,2189.8 1992.18,2185.63 1993.14,2185.4 1994.1,2191.13 1995.05,2193.13 1996.01,2187 1996.97,2192.61 1997.93,2193.11 1998.88,2191.58 1999.84,2187.34 2000.8,2190.41 2001.76,2189.77 2002.71,2195.49 2003.67,2190.53 2004.63,2191.7 2005.59,2190.95 2006.54,2193.64 2007.5,2194.39 2008.46,2195.79 2009.42,2194.55 2010.37,2197.18 2011.33,2192.62 2012.29,2190.86 2013.25,2193.46 2014.21,2195.48 2015.16,2198.51 2016.12,2198.52 2017.08,2196.7 2018.04,2192.84 2018.99,2198.32 2019.95,2192.21 2020.91,2198.98 2021.87,2194.92 2022.82,2192.57 2023.78,2194.81 2024.74,2195.47 2025.7,2194.88 2026.65,2200.4 2027.61,2196.69 2028.57,2196.92 2029.53,2196.54 2030.48,2197.8 2031.44,2198.23 2032.4,2198.88 2033.36,2196.6 2034.32,2197.36 2035.27,2197.01 2036.23,2200.25 2037.19,2199.3 2038.15,2200.33 2039.1,2199.33 2040.06,2202.67 2041.02,2196.42 2041.98,2197.78 2042.93,2202.5 2043.89,2199.59 2044.85,2198.34 2045.81,2198.26 2046.76,2200.23 2047.72,2203.01 2048.68,2197.27 2049.64,2200.76 2050.59,2202.71 2051.55,2199.3 2052.51,2200.36 2053.47,2204.82 2054.43,2200.52 2055.38,2200.81 2056.34,2205.38 2057.3,2198.87 2058.26,2198.5 2059.21,2202.86 2060.17,2205.88 2061.13,2204.56 2062.09,2201.91 2063.04,2203.68 2064,2205.59 2064.96,2204.29 2065.92,2206.5 2066.87,2201.03 2067.83,2204.29 2068.79,2203.26 2069.75,2200.85 2070.7,2204.96 2071.66,2204.18 2072.62,2202.1 2073.58,2201.52 2074.54,2203.38 2075.49,2201.42 2076.45,2201.88 2077.41,2205.63 2078.37,2200.7 2079.32,2207.2 2080.28,2204.59 2081.24,2208.03 2082.2,2204.49 2083.15,2204.19 2084.11,2207.67 2085.07,2201.07 2086.03,2201.98 2086.98,2207.66 2087.94,2206.84 2088.9,2207.61 2089.86,2201.61 2090.81,2207.59 2091.77,2204.18 2092.73,2208.55 2093.69,2204.14 2094.65,2208.88 2095.6,2203.67 2096.56,2206.93 2097.52,2206.42 2098.48,2206.09 2099.43,2202.22 2100.39,2206.88 2101.35,2208.87 2102.31,2207.43 2103.26,2202.49 2104.22,2205.58 2105.18,2202.89 2106.14,2209.72 2107.09,2208.47 2108.05,2208.13 2109.01,2205.14 2109.97,2209.2 2110.92,2209.22 2111.88,2204.14 2112.84,2209.48 2113.8,2203.27 2114.76,2206.09 2115.71,2209.97 2116.67,2208.66 2117.63,2205.25 2118.59,2207.08 2119.54,2206.52 2120.5,2205.38 2121.46,2210.59 2122.42,2204.81 2123.37,2203.62 2124.33,2207.85 2125.29,2210.27 2126.25,2209.35 2127.2,2205.55 2128.16,2206.73 2129.12,2207.79 2130.08,2204.43 2131.03,2207.6 2131.99,2205.66 2132.95,2205.26 2133.91,2207.9 2134.87,2207.61 2135.82,2207.06 2136.78,2204.92 2137.74,2204.63 2138.7,2205.66 2139.65,2211.18 2140.61,2205.82 2141.57,2205.75 2142.53,2209.38 2143.48,2207.54 2144.44,2206.2 2145.4,2209.25 2146.36,2206.74 2147.31,2209.19 2148.27,2205.1 2149.23,2207.78 2150.19,2211.41 2151.14,2206.12 2152.1,2211.01 2153.06,2206.55 2154.02,2211.47 2154.98,2211.2 2155.93,2208.83 2156.89,2207.54 2157.85,2207.39 2158.81,2210.86 2159.76,2206.02 2160.72,2210.74 2161.68,2208 2162.64,2211.05 2163.59,2211.88 2164.55,2205.99 2165.51,2209.05 2166.47,2210.05 2167.42,2209.04 2168.38,2209.85 2169.34,2208.25 2170.3,2209.27 2171.25,2205.7 2172.21,2208.94 2173.17,2206.34 2174.13,2210.15 2175.09,2210.58 2176.04,2206.29 2177,2208.08 2177.96,2206.15 2178.92,2210.04 2179.87,2208.14 2180.83,2211.88 2181.79,2206.69 2182.75,2208.39 2183.7,2211.09 2184.66,2211.38 2185.62,2211.15 2186.58,2209.44 2187.53,2209.01 2188.49,2207.85 2189.45,2212.04 2190.41,2206.32 2191.36,2209.3 2192.32,2211.06 2193.28,2210.96 2194.24,2206.18 2195.2,2210.09 2196.15,2211.43 2197.11,2207.07 2198.07,2208.56 2199.03,2207.89 2199.98,2209.62 2200.94,2207.3 2201.9,2210.87 2202.86,2210.77 2203.81,2210.94 2204.77,2207.96 2205.73,2209.49 2206.69,2212.16 2207.64,2207.52 2208.6,2209.73 2209.56,2206.95 2210.52,2211.64 2211.47,2211.06 2212.43,2212.01 2213.39,2209.4 2214.35,2209.89 2215.31,2209.63 2216.26,2209.26 2217.22,2211.65 2218.18,2209.01 2219.14,2211.31 2220.09,2212.12 2221.05,2212.36 2222.01,2211.52 2222.97,2206.77 2223.92,2210.6 2224.88,2212.4 2225.84,2208.5 2226.8,2209.17 2227.75,2212.37 2228.71,2208.76 2229.67,2208.13 2230.63,2209.44 2231.58,2211.52 2232.54,2209.38 2233.5,2212.25" fill="none" stroke="#3f63dd" stroke-width="3.6" stroke-linejoin="round"/>
<line x1="2070" y1="1985" x2="2114" y2="1985" stroke="#3f63dd" stroke-width="3.6"/>
<line x1="2070" y1="2014.8" x2="2114" y2="2014.8" stroke="#7f7f7f" stroke-width="3.6"/>
<text x="2130" y="1992.3" font-size="20.5" fill="#222">MEDRO</text>
<text x="2130" y="2022" font-size="20.5" fill="#222">GroupDRO</text>
<text x="3315.4" y="443" font-size="16" text-anchor="end">Worst-group accuracy (%)</text>
<rect x="2345.6" y="907" width="971.4" height="52" fill="#ecebea" rx="14"/>
<line x1="2347" y1="454" x2="3315.4" y2="454" stroke="#000" stroke-width="1.8"/>
<line x1="2347" y1="490" x2="3315.4" y2="490" stroke="#000" stroke-width="1.2"/>
<line x1="2347" y1="960.6" x2="3315.4" y2="960.6" stroke="#000" stroke-width="1.8"/>
<text x="2354" y="478.4" font-size="18.6" font-family='"Liberation Serif", serif'>Method</text>
<text x="2573" y="478.4" font-size="18.6" font-family='"Liberation Serif", serif' text-anchor="middle">Waterbirds</text>
<text x="2669" y="478.4" font-size="18.6" font-family='"Liberation Serif", serif' text-anchor="middle">CelebA</text>
<text x="2760.5" y="478.4" font-size="18.6" font-family='"Liberation Serif", serif' text-anchor="middle">CivilC.</text>
<text x="2848" y="478.4" font-size="18.6" font-family='"Liberation Serif", serif' text-anchor="middle">MultiNLI</text>
<text x="2936.8" y="478.4" font-size="18.6" font-family='"Liberation Serif", serif' text-anchor="middle">MetaShift</text>
<text x="3025.5" y="478.4" font-size="18.6" font-family='"Liberation Serif", serif' text-anchor="middle">NICO++</text>
<text x="3113" y="478.4" font-size="18.6" font-family='"Liberation Serif", serif' text-anchor="middle">CheXpert</text>
<text x="3200" y="478.4" font-size="18.6" font-family='"Liberation Serif", serif' text-anchor="middle">Living17</text>
<text x="3279.7" y="478.4" font-size="18.6" font-family='"Liberation Serif", serif' text-anchor="middle">Overall</text>
<text x="2354" y="513.6" font-size="18.6" font-family='"Liberation Serif", serif'>ERM</text>
<text x="2536" y="513.6" font-size="18.6" font-family='"Liberation Serif", serif'><tspan>69.1</tspan> <tspan font-family="DejaVu Math TeX Gyre, serif" font-size="17.11">±</tspan><tspan font-size="15.6">4.7</tspan></text>
<text x="2632.5" y="513.6" font-size="18.6" font-family='"Liberation Serif", serif'><tspan>62.6</tspan> <tspan font-family="DejaVu Math TeX Gyre, serif" font-size="17.11">±</tspan><tspan font-size="15.6">1.5</tspan></text>
<text x="2723.5" y="513.6" font-size="18.6" font-family='"Liberation Serif", serif'><tspan>63.7</tspan> <tspan font-family="DejaVu Math TeX Gyre, serif" font-size="17.11">±</tspan><tspan font-size="15.6">1.1</tspan></text>
<text x="2811.5" y="513.6" font-size="18.6" font-family='"Liberation Serif", serif'><tspan>66.8</tspan> <tspan font-family="DejaVu Math TeX Gyre, serif" font-size="17.11">±</tspan><tspan font-size="15.6">0.5</tspan></text>
<text x="2900.5" y="513.6" font-size="18.6" font-family='"Liberation Serif", serif'><tspan>82.6</tspan> <tspan font-family="DejaVu Math TeX Gyre, serif" font-size="17.11">±</tspan><tspan font-size="15.6">0.4</tspan></text>
<text x="2989" y="513.6" font-size="18.6" font-family='"Liberation Serif", serif'><tspan>37.6</tspan> <tspan font-family="DejaVu Math TeX Gyre, serif" font-size="17.11">±</tspan><tspan font-size="15.6">2.0</tspan></text>
<text x="3076.5" y="513.6" font-size="18.6" font-family='"Liberation Serif", serif'><tspan>50.2</tspan> <tspan font-family="DejaVu Math TeX Gyre, serif" font-size="17.11">±</tspan><tspan font-size="15.6">3.8</tspan></text>
<text x="3164" y="513.6" font-size="18.6" font-family='"Liberation Serif", serif'><tspan>28.2</tspan> <tspan font-family="DejaVu Math TeX Gyre, serif" font-size="17.11">±</tspan><tspan font-size="15.6">1.5</tspan></text>
<text x="3280" y="513.6" font-size="18.6" font-family='"Liberation Serif", serif' text-anchor="middle">57.6</text>
<text x="2354" y="535.29" font-size="18.6" font-family='"Liberation Serif", serif'>Mixup</text>
<text x="2536" y="535.29" font-size="18.6" font-family='"Liberation Serif", serif'><tspan>78.2</tspan> <tspan font-family="DejaVu Math TeX Gyre, serif" font-size="17.11">±</tspan><tspan font-size="15.6">0.4</tspan></text>
<text x="2632.5" y="535.29" font-size="18.6" font-family='"Liberation Serif", serif'><tspan>57.8</tspan> <tspan font-family="DejaVu Math TeX Gyre, serif" font-size="17.11">±</tspan><tspan font-size="15.6">0.8</tspan></text>
<text x="2723.5" y="535.29" font-size="18.6" font-family='"Liberation Serif", serif'><tspan>66.1</tspan> <tspan font-family="DejaVu Math TeX Gyre, serif" font-size="17.11">±</tspan><tspan font-size="15.6">1.3</tspan></text>
<text x="2811.5" y="535.29" font-size="18.6" font-family='"Liberation Serif", serif'><tspan>68.5</tspan> <tspan font-family="DejaVu Math TeX Gyre, serif" font-size="17.11">±</tspan><tspan font-size="15.6">0.6</tspan></text>
<text x="2900.5" y="535.29" font-size="18.6" font-family='"Liberation Serif", serif'><tspan>81.0</tspan> <tspan font-family="DejaVu Math TeX Gyre, serif" font-size="17.11">±</tspan><tspan font-size="15.6">0.8</tspan></text>
<text x="2989" y="535.29" font-size="18.6" font-family='"Liberation Serif", serif'><tspan text-decoration="underline">42.7</tspan> <tspan font-family="DejaVu Math TeX Gyre, serif" font-size="17.11">±</tspan><tspan font-size="15.6">1.4</tspan></text>
<text x="3076.5" y="535.29" font-size="18.6" font-family='"Liberation Serif", serif'><tspan>37.4</tspan> <tspan font-family="DejaVu Math TeX Gyre, serif" font-size="17.11">±</tspan><tspan font-size="15.6">3.5</tspan></text>
<text x="3164" y="535.29" font-size="18.6" font-family='"Liberation Serif", serif'><tspan>29.8</tspan> <tspan font-family="DejaVu Math TeX Gyre, serif" font-size="17.11">±</tspan><tspan font-size="15.6">1.8</tspan></text>
<text x="3280" y="535.29" font-size="18.6" font-family='"Liberation Serif", serif' text-anchor="middle">57.7</text>
<text x="2354" y="556.98" font-size="18.6" font-family='"Liberation Serif", serif'>GroupDRO</text>
<text x="2536" y="556.98" font-size="18.6" font-family='"Liberation Serif", serif'><tspan>78.6</tspan> <tspan font-family="DejaVu Math TeX Gyre, serif" font-size="17.11">±</tspan><tspan font-size="15.6">1.0</tspan></text>
<text x="2632.5" y="556.98" font-size="18.6" font-family='"Liberation Serif", serif'><tspan>89.0</tspan> <tspan font-family="DejaVu Math TeX Gyre, serif" font-size="17.11">±</tspan><tspan font-size="15.6">0.7</tspan></text>
<text x="2723.5" y="556.98" font-size="18.6" font-family='"Liberation Serif", serif'><tspan>70.6</tspan> <tspan font-family="DejaVu Math TeX Gyre, serif" font-size="17.11">±</tspan><tspan font-size="15.6">1.2</tspan></text>
<text x="2811.5" y="556.98" font-size="18.6" font-family='"Liberation Serif", serif'><tspan font-weight="bold">76.0</tspan> <tspan font-family="DejaVu Math TeX Gyre, serif" font-size="17.11">±</tspan><tspan font-size="15.6">0.7</tspan></text>
<text x="2900.5" y="556.98" font-size="18.6" font-family='"Liberation Serif", serif'><tspan>85.6</tspan> <tspan font-family="DejaVu Math TeX Gyre, serif" font-size="17.11">±</tspan><tspan font-size="15.6">0.4</tspan></text>
<text x="2989" y="556.98" font-size="18.6" font-family='"Liberation Serif", serif'><tspan>37.8</tspan> <tspan font-family="DejaVu Math TeX Gyre, serif" font-size="17.11">±</tspan><tspan font-size="15.6">1.8</tspan></text>
<text x="3076.5" y="556.98" font-size="18.6" font-family='"Liberation Serif", serif'><tspan>74.5</tspan> <tspan font-family="DejaVu Math TeX Gyre, serif" font-size="17.11">±</tspan><tspan font-size="15.6">0.2</tspan></text>
<text x="3164" y="556.98" font-size="18.6" font-family='"Liberation Serif", serif'><tspan>27.2</tspan> <tspan font-family="DejaVu Math TeX Gyre, serif" font-size="17.11">±</tspan><tspan font-size="15.6">1.5</tspan></text>
<text x="3280" y="556.98" font-size="18.6" font-family='"Liberation Serif", serif' text-anchor="middle">67.4</text>
<text x="2354" y="578.67" font-size="18.6" font-family='"Liberation Serif", serif'>IRM</text>
<text x="2536" y="578.67" font-size="18.6" font-family='"Liberation Serif", serif'><tspan>74.5</tspan> <tspan font-family="DejaVu Math TeX Gyre, serif" font-size="17.11">±</tspan><tspan font-size="15.6">1.5</tspan></text>
<text x="2632.5" y="578.67" font-size="18.6" font-family='"Liberation Serif", serif'><tspan>63.0</tspan> <tspan font-family="DejaVu Math TeX Gyre, serif" font-size="17.11">±</tspan><tspan font-size="15.6">2.5</tspan></text>
<text x="2723.5" y="578.67" font-size="18.6" font-family='"Liberation Serif", serif'><tspan>63.2</tspan> <tspan font-family="DejaVu Math TeX Gyre, serif" font-size="17.11">±</tspan><tspan font-size="15.6">0.8</tspan></text>
<text x="2811.5" y="578.67" font-size="18.6" font-family='"Liberation Serif", serif'><tspan>63.6</tspan> <tspan font-family="DejaVu Math TeX Gyre, serif" font-size="17.11">±</tspan><tspan font-size="15.6">1.3</tspan></text>
<text x="2900.5" y="578.67" font-size="18.6" font-family='"Liberation Serif", serif'><tspan>83.0</tspan> <tspan font-family="DejaVu Math TeX Gyre, serif" font-size="17.11">±</tspan><tspan font-size="15.6">0.1</tspan></text>
<text x="2989" y="578.67" font-size="18.6" font-family='"Liberation Serif", serif'><tspan>40.0</tspan> <tspan font-family="DejaVu Math TeX Gyre, serif" font-size="17.11">±</tspan><tspan font-size="15.6">0.0</tspan></text>
<text x="3076.5" y="578.67" font-size="18.6" font-family='"Liberation Serif", serif'><tspan>34.4</tspan> <tspan font-family="DejaVu Math TeX Gyre, serif" font-size="17.11">±</tspan><tspan font-size="15.6">1.7</tspan></text>
<text x="3164" y="578.67" font-size="18.6" font-family='"Liberation Serif", serif'><tspan>28.2</tspan> <tspan font-family="DejaVu Math TeX Gyre, serif" font-size="17.11">±</tspan><tspan font-size="15.6">1.5</tspan></text>
<text x="3280" y="578.67" font-size="18.6" font-family='"Liberation Serif", serif' text-anchor="middle">56.2</text>
<text x="2354" y="600.36" font-size="18.6" font-family='"Liberation Serif", serif'>CVaRDRO</text>
<text x="2536" y="600.36" font-size="18.6" font-family='"Liberation Serif", serif'><tspan>75.5</tspan> <tspan font-family="DejaVu Math TeX Gyre, serif" font-size="17.11">±</tspan><tspan font-size="15.6">2.2</tspan></text>
<text x="2632.5" y="600.36" font-size="18.6" font-family='"Liberation Serif", serif'><tspan>64.1</tspan> <tspan font-family="DejaVu Math TeX Gyre, serif" font-size="17.11">±</tspan><tspan font-size="15.6">2.8</tspan></text>
<text x="2723.5" y="600.36" font-size="18.6" font-family='"Liberation Serif", serif'><tspan>68.7</tspan> <tspan font-family="DejaVu Math TeX Gyre, serif" font-size="17.11">±</tspan><tspan font-size="15.6">1.3</tspan></text>
<text x="2811.5" y="600.36" font-size="18.6" font-family='"Liberation Serif", serif'><tspan>63.0</tspan> <tspan font-family="DejaVu Math TeX Gyre, serif" font-size="17.11">±</tspan><tspan font-size="15.6">1.5</tspan></text>
<text x="2900.5" y="600.36" font-size="18.6" font-family='"Liberation Serif", serif'><tspan>84.6</tspan> <tspan font-family="DejaVu Math TeX Gyre, serif" font-size="17.11">±</tspan><tspan font-size="15.6">0.0</tspan></text>
<text x="2989" y="600.36" font-size="18.6" font-family='"Liberation Serif", serif'><tspan>36.7</tspan> <tspan font-family="DejaVu Math TeX Gyre, serif" font-size="17.11">±</tspan><tspan font-size="15.6">2.7</tspan></text>
<text x="3076.5" y="600.36" font-size="18.6" font-family='"Liberation Serif", serif'><tspan>57.9</tspan> <tspan font-family="DejaVu Math TeX Gyre, serif" font-size="17.11">±</tspan><tspan font-size="15.6">0.4</tspan></text>
<text x="3164" y="600.36" font-size="18.6" font-family='"Liberation Serif", serif'><tspan>28.3</tspan> <tspan font-family="DejaVu Math TeX Gyre, serif" font-size="17.11">±</tspan><tspan font-size="15.6">0.7</tspan></text>
<text x="3280" y="600.36" font-size="18.6" font-family='"Liberation Serif", serif' text-anchor="middle">59.9</text>
<text x="2354" y="622.05" font-size="18.6" font-family='"Liberation Serif", serif'>JTT</text>
<text x="2536" y="622.05" font-size="18.6" font-family='"Liberation Serif", serif'><tspan>72.0</tspan> <tspan font-family="DejaVu Math TeX Gyre, serif" font-size="17.11">±</tspan><tspan font-size="15.6">0.3</tspan></text>
<text x="2628" y="622.05" font-size="18.6" font-family='"Liberation Serif", serif'><tspan>70.0</tspan> <tspan font-family="DejaVu Math TeX Gyre, serif" font-size="17.11">±</tspan><tspan font-size="15.6">10.2</tspan></text>
<text x="2723.5" y="622.05" font-size="18.6" font-family='"Liberation Serif", serif'><tspan>64.3</tspan> <tspan font-family="DejaVu Math TeX Gyre, serif" font-size="17.11">±</tspan><tspan font-size="15.6">1.5</tspan></text>
<text x="2811.5" y="622.05" font-size="18.6" font-family='"Liberation Serif", serif'><tspan>69.1</tspan> <tspan font-family="DejaVu Math TeX Gyre, serif" font-size="17.11">±</tspan><tspan font-size="15.6">0.1</tspan></text>
<text x="2900.5" y="622.05" font-size="18.6" font-family='"Liberation Serif", serif'><tspan>83.6</tspan> <tspan font-family="DejaVu Math TeX Gyre, serif" font-size="17.11">±</tspan><tspan font-size="15.6">0.4</tspan></text>
<text x="2989" y="622.05" font-size="18.6" font-family='"Liberation Serif", serif'><tspan>40.0</tspan> <tspan font-family="DejaVu Math TeX Gyre, serif" font-size="17.11">±</tspan><tspan font-size="15.6">0.0</tspan></text>
<text x="3076.5" y="622.05" font-size="18.6" font-family='"Liberation Serif", serif'><tspan>61.3</tspan> <tspan font-family="DejaVu Math TeX Gyre, serif" font-size="17.11">±</tspan><tspan font-size="15.6">4.9</tspan></text>
<text x="3164" y="622.05" font-size="18.6" font-family='"Liberation Serif", serif'><tspan>28.8</tspan> <tspan font-family="DejaVu Math TeX Gyre, serif" font-size="17.11">±</tspan><tspan font-size="15.6">1.1</tspan></text>
<text x="3280" y="622.05" font-size="18.6" font-family='"Liberation Serif", serif' text-anchor="middle">61.1</text>
<text x="2354" y="643.74" font-size="18.6" font-family='"Liberation Serif", serif'>LfF</text>
<text x="2536" y="643.74" font-size="18.6" font-family='"Liberation Serif", serif'><tspan>75.2</tspan> <tspan font-family="DejaVu Math TeX Gyre, serif" font-size="17.11">±</tspan><tspan font-size="15.6">0.7</tspan></text>
<text x="2632.5" y="643.74" font-size="18.6" font-family='"Liberation Serif", serif'><tspan>53.0</tspan> <tspan font-family="DejaVu Math TeX Gyre, serif" font-size="17.11">±</tspan><tspan font-size="15.6">4.3</tspan></text>
<text x="2723.5" y="643.74" font-size="18.6" font-family='"Liberation Serif", serif'><tspan>51.0</tspan> <tspan font-family="DejaVu Math TeX Gyre, serif" font-size="17.11">±</tspan><tspan font-size="15.6">6.1</tspan></text>
<text x="2811.5" y="643.74" font-size="18.6" font-family='"Liberation Serif", serif'><tspan>63.6</tspan> <tspan font-family="DejaVu Math TeX Gyre, serif" font-size="17.11">±</tspan><tspan font-size="15.6">2.9</tspan></text>
<text x="2900.5" y="643.74" font-size="18.6" font-family='"Liberation Serif", serif'><tspan>73.1</tspan> <tspan font-family="DejaVu Math TeX Gyre, serif" font-size="17.11">±</tspan><tspan font-size="15.6">1.6</tspan></text>
<text x="2989" y="643.74" font-size="18.6" font-family='"Liberation Serif", serif'><tspan>30.4</tspan> <tspan font-family="DejaVu Math TeX Gyre, serif" font-size="17.11">±</tspan><tspan font-size="15.6">1.3</tspan></text>
<text x="3076.5" y="643.74" font-size="18.6" font-family='"Liberation Serif", serif'><tspan>13.7</tspan> <tspan font-family="DejaVu Math TeX Gyre, serif" font-size="17.11">±</tspan><tspan font-size="15.6">9.8</tspan></text>
<text x="3164" y="643.74" font-size="18.6" font-family='"Liberation Serif", serif'><tspan>26.2</tspan> <tspan font-family="DejaVu Math TeX Gyre, serif" font-size="17.11">±</tspan><tspan font-size="15.6">1.1</tspan></text>
<text x="3280" y="643.74" font-size="18.6" font-family='"Liberation Serif", serif' text-anchor="middle">48.3</text>
<text x="2354" y="665.43" font-size="18.6" font-family='"Liberation Serif", serif'>LISA</text>
<text x="2536" y="665.43" font-size="18.6" font-family='"Liberation Serif", serif'><tspan text-decoration="underline">88.7</tspan> <tspan font-family="DejaVu Math TeX Gyre, serif" font-size="17.11">±</tspan><tspan font-size="15.6">0.6</tspan></text>
<text x="2632.5" y="665.43" font-size="18.6" font-family='"Liberation Serif", serif'><tspan>86.5</tspan> <tspan font-family="DejaVu Math TeX Gyre, serif" font-size="17.11">±</tspan><tspan font-size="15.6">1.2</tspan></text>
<text x="2723.5" y="665.43" font-size="18.6" font-family='"Liberation Serif", serif'><tspan text-decoration="underline">73.7</tspan> <tspan font-family="DejaVu Math TeX Gyre, serif" font-size="17.11">±</tspan><tspan font-size="15.6">0.3</tspan></text>
<text x="2811.5" y="665.43" font-size="18.6" font-family='"Liberation Serif", serif'><tspan>73.3</tspan> <tspan font-family="DejaVu Math TeX Gyre, serif" font-size="17.11">±</tspan><tspan font-size="15.6">1.0</tspan></text>
<text x="2900.5" y="665.43" font-size="18.6" font-family='"Liberation Serif", serif'><tspan>84.1</tspan> <tspan font-family="DejaVu Math TeX Gyre, serif" font-size="17.11">±</tspan><tspan font-size="15.6">0.4</tspan></text>
<text x="2989" y="665.43" font-size="18.6" font-family='"Liberation Serif", serif'><tspan text-decoration="underline">42.7</tspan> <tspan font-family="DejaVu Math TeX Gyre, serif" font-size="17.11">±</tspan><tspan font-size="15.6">2.2</tspan></text>
<text x="3076.5" y="665.43" font-size="18.6" font-family='"Liberation Serif", serif'><tspan>75.6</tspan> <tspan font-family="DejaVu Math TeX Gyre, serif" font-size="17.11">±</tspan><tspan font-size="15.6">0.6</tspan></text>
<text x="3164" y="665.43" font-size="18.6" font-family='"Liberation Serif", serif'><tspan>29.8</tspan> <tspan font-family="DejaVu Math TeX Gyre, serif" font-size="17.11">±</tspan><tspan font-size="15.6">0.9</tspan></text>
<text x="3280" y="665.43" font-size="18.6" font-family='"Liberation Serif", serif' text-anchor="middle">69.3</text>
<text x="2354" y="687.12" font-size="18.6" font-family='"Liberation Serif", serif'>MMD</text>
<text x="2536" y="687.12" font-size="18.6" font-family='"Liberation Serif", serif'><tspan>83.9</tspan> <tspan font-family="DejaVu Math TeX Gyre, serif" font-size="17.11">±</tspan><tspan font-size="15.6">1.4</tspan></text>
<text x="2632.5" y="687.12" font-size="18.6" font-family='"Liberation Serif", serif'><tspan>24.4</tspan> <tspan font-family="DejaVu Math TeX Gyre, serif" font-size="17.11">±</tspan><tspan font-size="15.6">2.0</tspan></text>
<text x="2723.5" y="687.12" font-size="18.6" font-family='"Liberation Serif", serif'><tspan>54.5</tspan> <tspan font-family="DejaVu Math TeX Gyre, serif" font-size="17.11">±</tspan><tspan font-size="15.6">1.4</tspan></text>
<text x="2811.5" y="687.12" font-size="18.6" font-family='"Liberation Serif", serif'><tspan>69.1</tspan> <tspan font-family="DejaVu Math TeX Gyre, serif" font-size="17.11">±</tspan><tspan font-size="15.6">1.5</tspan></text>
<text x="2900.5" y="687.12" font-size="18.6" font-family='"Liberation Serif", serif'><tspan text-decoration="underline">85.9</tspan> <tspan font-family="DejaVu Math TeX Gyre, serif" font-size="17.11">±</tspan><tspan font-size="15.6">0.7</tspan></text>
<text x="2989" y="687.12" font-size="18.6" font-family='"Liberation Serif", serif'><tspan>40.7</tspan> <tspan font-family="DejaVu Math TeX Gyre, serif" font-size="17.11">±</tspan><tspan font-size="15.6">0.5</tspan></text>
<text x="3076.5" y="687.12" font-size="18.6" font-family='"Liberation Serif", serif'><tspan>50.2</tspan> <tspan font-family="DejaVu Math TeX Gyre, serif" font-size="17.11">±</tspan><tspan font-size="15.6">3.8</tspan></text>
<text x="3164" y="687.12" font-size="18.6" font-family='"Liberation Serif", serif'><tspan>26.6</tspan> <tspan font-family="DejaVu Math TeX Gyre, serif" font-size="17.11">±</tspan><tspan font-size="15.6">1.8</tspan></text>
<text x="3280" y="687.12" font-size="18.6" font-family='"Liberation Serif", serif' text-anchor="middle">54.4</text>
<text x="2354" y="708.81" font-size="18.6" font-family='"Liberation Serif", serif'>ReSample</text>
<text x="2536" y="708.81" font-size="18.6" font-family='"Liberation Serif", serif'><tspan>77.7</tspan> <tspan font-family="DejaVu Math TeX Gyre, serif" font-size="17.11">±</tspan><tspan font-size="15.6">1.2</tspan></text>
<text x="2632.5" y="708.81" font-size="18.6" font-family='"Liberation Serif", serif'><tspan>87.4</tspan> <tspan font-family="DejaVu Math TeX Gyre, serif" font-size="17.11">±</tspan><tspan font-size="15.6">0.8</tspan></text>
<text x="2723.5" y="708.81" font-size="18.6" font-family='"Liberation Serif", serif'><tspan>73.3</tspan> <tspan font-family="DejaVu Math TeX Gyre, serif" font-size="17.11">±</tspan><tspan font-size="15.6">0.5</tspan></text>
<text x="2811.5" y="708.81" font-size="18.6" font-family='"Liberation Serif", serif'><tspan>72.3</tspan> <tspan font-family="DejaVu Math TeX Gyre, serif" font-size="17.11">±</tspan><tspan font-size="15.6">0.8</tspan></text>
<text x="2900.5" y="708.81" font-size="18.6" font-family='"Liberation Serif", serif'><tspan>85.6</tspan> <tspan font-family="DejaVu Math TeX Gyre, serif" font-size="17.11">±</tspan><tspan font-size="15.6">0.4</tspan></text>
<text x="2989" y="708.81" font-size="18.6" font-family='"Liberation Serif", serif'><tspan>40.0</tspan> <tspan font-family="DejaVu Math TeX Gyre, serif" font-size="17.11">±</tspan><tspan font-size="15.6">0.0</tspan></text>
<text x="3076.5" y="708.81" font-size="18.6" font-family='"Liberation Serif", serif'><tspan>75.3</tspan> <tspan font-family="DejaVu Math TeX Gyre, serif" font-size="17.11">±</tspan><tspan font-size="15.6">0.5</tspan></text>
<text x="3164" y="708.81" font-size="18.6" font-family='"Liberation Serif", serif'><tspan>30.7</tspan> <tspan font-family="DejaVu Math TeX Gyre, serif" font-size="17.11">±</tspan><tspan font-size="15.6">2.1</tspan></text>
<text x="3280" y="708.81" font-size="18.6" font-family='"Liberation Serif", serif' text-anchor="middle">67.8</text>
<text x="2354" y="730.5" font-size="18.6" font-family='"Liberation Serif", serif'>ReWeight</text>
<text x="2536" y="730.5" font-size="18.6" font-family='"Liberation Serif", serif'><tspan>86.9</tspan> <tspan font-family="DejaVu Math TeX Gyre, serif" font-size="17.11">±</tspan><tspan font-size="15.6">0.7</tspan></text>
<text x="2632.5" y="730.5" font-size="18.6" font-family='"Liberation Serif", serif'><tspan>89.7</tspan> <tspan font-family="DejaVu Math TeX Gyre, serif" font-size="17.11">±</tspan><tspan font-size="15.6">0.2</tspan></text>
<text x="2723.5" y="730.5" font-size="18.6" font-family='"Liberation Serif", serif'><tspan>72.5</tspan> <tspan font-family="DejaVu Math TeX Gyre, serif" font-size="17.11">±</tspan><tspan font-size="15.6">0.0</tspan></text>
<text x="2811.5" y="730.5" font-size="18.6" font-family='"Liberation Serif", serif'><tspan>68.8</tspan> <tspan font-family="DejaVu Math TeX Gyre, serif" font-size="17.11">±</tspan><tspan font-size="15.6">0.4</tspan></text>
<text x="2900.5" y="730.5" font-size="18.6" font-family='"Liberation Serif", serif'><tspan>85.6</tspan> <tspan font-family="DejaVu Math TeX Gyre, serif" font-size="17.11">±</tspan><tspan font-size="15.6">0.4</tspan></text>
<text x="2989" y="730.5" font-size="18.6" font-family='"Liberation Serif", serif'><tspan>41.9</tspan> <tspan font-family="DejaVu Math TeX Gyre, serif" font-size="17.11">±</tspan><tspan font-size="15.6">1.6</tspan></text>
<text x="3076.5" y="730.5" font-size="18.6" font-family='"Liberation Serif", serif'><tspan text-decoration="underline">75.7</tspan> <tspan font-family="DejaVu Math TeX Gyre, serif" font-size="17.11">±</tspan><tspan font-size="15.6">0.1</tspan></text>
<text x="3164" y="730.5" font-size="18.6" font-family='"Liberation Serif", serif'><tspan>28.2</tspan> <tspan font-family="DejaVu Math TeX Gyre, serif" font-size="17.11">±</tspan><tspan font-size="15.6">1.5</tspan></text>
<text x="3280" y="730.5" font-size="18.6" font-family='"Liberation Serif", serif' text-anchor="middle">68.7</text>
<text x="2354" y="752.19" font-size="18.6" font-family='"Liberation Serif", serif'>SqrtReWeight</text>
<text x="2536" y="752.19" font-size="18.6" font-family='"Liberation Serif", serif'><tspan>78.6</tspan> <tspan font-family="DejaVu Math TeX Gyre, serif" font-size="17.11">±</tspan><tspan font-size="15.6">0.1</tspan></text>
<text x="2632.5" y="752.19" font-size="18.6" font-family='"Liberation Serif", serif'><tspan>82.4</tspan> <tspan font-family="DejaVu Math TeX Gyre, serif" font-size="17.11">±</tspan><tspan font-size="15.6">0.5</tspan></text>
<text x="2723.5" y="752.19" font-size="18.6" font-family='"Liberation Serif", serif'><tspan>71.7</tspan> <tspan font-family="DejaVu Math TeX Gyre, serif" font-size="17.11">±</tspan><tspan font-size="15.6">0.4</tspan></text>
<text x="2811.5" y="752.19" font-size="18.6" font-family='"Liberation Serif", serif'><tspan>69.5</tspan> <tspan font-family="DejaVu Math TeX Gyre, serif" font-size="17.11">±</tspan><tspan font-size="15.6">0.7</tspan></text>
<text x="2900.5" y="752.19" font-size="18.6" font-family='"Liberation Serif", serif'><tspan>84.6</tspan> <tspan font-family="DejaVu Math TeX Gyre, serif" font-size="17.11">±</tspan><tspan font-size="15.6">0.7</tspan></text>
<text x="2989" y="752.19" font-size="18.6" font-family='"Liberation Serif", serif'><tspan>40.0</tspan> <tspan font-family="DejaVu Math TeX Gyre, serif" font-size="17.11">±</tspan><tspan font-size="15.6">0.0</tspan></text>
<text x="3076.5" y="752.19" font-size="18.6" font-family='"Liberation Serif", serif'><tspan>70.0</tspan> <tspan font-family="DejaVu Math TeX Gyre, serif" font-size="17.11">±</tspan><tspan font-size="15.6">2.3</tspan></text>
<text x="3164" y="752.19" font-size="18.6" font-family='"Liberation Serif", serif'><tspan>28.2</tspan> <tspan font-family="DejaVu Math TeX Gyre, serif" font-size="17.11">±</tspan><tspan font-size="15.6">1.5</tspan></text>
<text x="3280" y="752.19" font-size="18.6" font-family='"Liberation Serif", serif' text-anchor="middle">65.6</text>
<text x="2354" y="773.88" font-size="18.6" font-family='"Liberation Serif", serif'>CBLoss</text>
<text x="2536" y="773.88" font-size="18.6" font-family='"Liberation Serif", serif'><tspan>86.2</tspan> <tspan font-family="DejaVu Math TeX Gyre, serif" font-size="17.11">±</tspan><tspan font-size="15.6">0.3</tspan></text>
<text x="2632.5" y="773.88" font-size="18.6" font-family='"Liberation Serif", serif'><tspan>89.4</tspan> <tspan font-family="DejaVu Math TeX Gyre, serif" font-size="17.11">±</tspan><tspan font-size="15.6">0.7</tspan></text>
<text x="2723.5" y="773.88" font-size="18.6" font-family='"Liberation Serif", serif'><tspan>73.3</tspan> <tspan font-family="DejaVu Math TeX Gyre, serif" font-size="17.11">±</tspan><tspan font-size="15.6">0.2</tspan></text>
<text x="2811.5" y="773.88" font-size="18.6" font-family='"Liberation Serif", serif'><tspan>72.2</tspan> <tspan font-family="DejaVu Math TeX Gyre, serif" font-size="17.11">±</tspan><tspan font-size="15.6">0.3</tspan></text>
<text x="2900.5" y="773.88" font-size="18.6" font-family='"Liberation Serif", serif'><tspan>85.5</tspan> <tspan font-family="DejaVu Math TeX Gyre, serif" font-size="17.11">±</tspan><tspan font-size="15.6">0.4</tspan></text>
<text x="2989" y="773.88" font-size="18.6" font-family='"Liberation Serif", serif'><tspan>37.8</tspan> <tspan font-family="DejaVu Math TeX Gyre, serif" font-size="17.11">±</tspan><tspan font-size="15.6">1.8</tspan></text>
<text x="3076.5" y="773.88" font-size="18.6" font-family='"Liberation Serif", serif'><tspan>74.7</tspan> <tspan font-family="DejaVu Math TeX Gyre, serif" font-size="17.11">±</tspan><tspan font-size="15.6">0.3</tspan></text>
<text x="3164" y="773.88" font-size="18.6" font-family='"Liberation Serif", serif'><tspan>28.2</tspan> <tspan font-family="DejaVu Math TeX Gyre, serif" font-size="17.11">±</tspan><tspan font-size="15.6">1.5</tspan></text>
<text x="3280" y="773.88" font-size="18.6" font-family='"Liberation Serif", serif' text-anchor="middle">68.4</text>
<text x="2354" y="795.57" font-size="18.6" font-family='"Liberation Serif", serif'>Focal</text>
<text x="2536" y="795.57" font-size="18.6" font-family='"Liberation Serif", serif'><tspan>71.6</tspan> <tspan font-family="DejaVu Math TeX Gyre, serif" font-size="17.11">±</tspan><tspan font-size="15.6">0.8</tspan></text>
<text x="2632.5" y="795.57" font-size="18.6" font-family='"Liberation Serif", serif'><tspan>59.1</tspan> <tspan font-family="DejaVu Math TeX Gyre, serif" font-size="17.11">±</tspan><tspan font-size="15.6">2.0</tspan></text>
<text x="2723.5" y="795.57" font-size="18.6" font-family='"Liberation Serif", serif'><tspan>62.0</tspan> <tspan font-family="DejaVu Math TeX Gyre, serif" font-size="17.11">±</tspan><tspan font-size="15.6">1.0</tspan></text>
<text x="2811.5" y="795.57" font-size="18.6" font-family='"Liberation Serif", serif'><tspan>69.4</tspan> <tspan font-family="DejaVu Math TeX Gyre, serif" font-size="17.11">±</tspan><tspan font-size="15.6">0.7</tspan></text>
<text x="2900.5" y="795.57" font-size="18.6" font-family='"Liberation Serif", serif'><tspan>81.5</tspan> <tspan font-family="DejaVu Math TeX Gyre, serif" font-size="17.11">±</tspan><tspan font-size="15.6">0.0</tspan></text>
<text x="2989" y="795.57" font-size="18.6" font-family='"Liberation Serif", serif'><tspan>36.7</tspan> <tspan font-family="DejaVu Math TeX Gyre, serif" font-size="17.11">±</tspan><tspan font-size="15.6">2.7</tspan></text>
<text x="3076.5" y="795.57" font-size="18.6" font-family='"Liberation Serif", serif'><tspan>42.1</tspan> <tspan font-family="DejaVu Math TeX Gyre, serif" font-size="17.11">±</tspan><tspan font-size="15.6">4.0</tspan></text>
<text x="3164" y="795.57" font-size="18.6" font-family='"Liberation Serif", serif'><tspan>28.0</tspan> <tspan font-family="DejaVu Math TeX Gyre, serif" font-size="17.11">±</tspan><tspan font-size="15.6">1.2</tspan></text>
<text x="3280" y="795.57" font-size="18.6" font-family='"Liberation Serif", serif' text-anchor="middle">56.3</text>
<text x="2354" y="817.26" font-size="18.6" font-family='"Liberation Serif", serif'>LDAM</text>
<text x="2536" y="817.26" font-size="18.6" font-family='"Liberation Serif", serif'><tspan>71.0</tspan> <tspan font-family="DejaVu Math TeX Gyre, serif" font-size="17.11">±</tspan><tspan font-size="15.6">1.8</tspan></text>
<text x="2632.5" y="817.26" font-size="18.6" font-family='"Liberation Serif", serif'><tspan>59.6</tspan> <tspan font-family="DejaVu Math TeX Gyre, serif" font-size="17.11">±</tspan><tspan font-size="15.6">2.4</tspan></text>
<text x="2723.5" y="817.26" font-size="18.6" font-family='"Liberation Serif", serif'><tspan>37.4</tspan> <tspan font-family="DejaVu Math TeX Gyre, serif" font-size="17.11">±</tspan><tspan font-size="15.6">8.1</tspan></text>
<text x="2811.5" y="817.26" font-size="18.6" font-family='"Liberation Serif", serif'><tspan>69.6</tspan> <tspan font-family="DejaVu Math TeX Gyre, serif" font-size="17.11">±</tspan><tspan font-size="15.6">1.6</tspan></text>
<text x="2900.5" y="817.26" font-size="18.6" font-family='"Liberation Serif", serif'><tspan>83.6</tspan> <tspan font-family="DejaVu Math TeX Gyre, serif" font-size="17.11">±</tspan><tspan font-size="15.6">0.4</tspan></text>
<text x="2989" y="817.26" font-size="18.6" font-family='"Liberation Serif", serif'><tspan>42.0</tspan> <tspan font-family="DejaVu Math TeX Gyre, serif" font-size="17.11">±</tspan><tspan font-size="15.6">0.9</tspan></text>
<text x="3076.5" y="817.26" font-size="18.6" font-family='"Liberation Serif", serif'><tspan>36.4</tspan> <tspan font-family="DejaVu Math TeX Gyre, serif" font-size="17.11">±</tspan><tspan font-size="15.6">0.3</tspan></text>
<text x="3164" y="817.26" font-size="18.6" font-family='"Liberation Serif", serif'><tspan>24.7</tspan> <tspan font-family="DejaVu Math TeX Gyre, serif" font-size="17.11">±</tspan><tspan font-size="15.6">0.8</tspan></text>
<text x="3280" y="817.26" font-size="18.6" font-family='"Liberation Serif", serif' text-anchor="middle">53.0</text>
<text x="2354" y="838.95" font-size="18.6" font-family='"Liberation Serif", serif'>BSoftmax</text>
<text x="2536" y="838.95" font-size="18.6" font-family='"Liberation Serif", serif'><tspan>74.1</tspan> <tspan font-family="DejaVu Math TeX Gyre, serif" font-size="17.11">±</tspan><tspan font-size="15.6">0.9</tspan></text>
<text x="2632.5" y="838.95" font-size="18.6" font-family='"Liberation Serif", serif'><tspan>83.3</tspan> <tspan font-family="DejaVu Math TeX Gyre, serif" font-size="17.11">±</tspan><tspan font-size="15.6">0.5</tspan></text>
<text x="2723.5" y="838.95" font-size="18.6" font-family='"Liberation Serif", serif'><tspan>71.2</tspan> <tspan font-family="DejaVu Math TeX Gyre, serif" font-size="17.11">±</tspan><tspan font-size="15.6">0.4</tspan></text>
<text x="2811.5" y="838.95" font-size="18.6" font-family='"Liberation Serif", serif'><tspan>66.9</tspan> <tspan font-family="DejaVu Math TeX Gyre, serif" font-size="17.11">±</tspan><tspan font-size="15.6">0.4</tspan></text>
<text x="2900.5" y="838.95" font-size="18.6" font-family='"Liberation Serif", serif'><tspan>83.1</tspan> <tspan font-family="DejaVu Math TeX Gyre, serif" font-size="17.11">±</tspan><tspan font-size="15.6">0.7</tspan></text>
<text x="2989" y="838.95" font-size="18.6" font-family='"Liberation Serif", serif'><tspan>40.4</tspan> <tspan font-family="DejaVu Math TeX Gyre, serif" font-size="17.11">±</tspan><tspan font-size="15.6">0.3</tspan></text>
<text x="3076.5" y="838.95" font-size="18.6" font-family='"Liberation Serif", serif'><tspan>75.4</tspan> <tspan font-family="DejaVu Math TeX Gyre, serif" font-size="17.11">±</tspan><tspan font-size="15.6">0.5</tspan></text>
<text x="3164" y="838.95" font-size="18.6" font-family='"Liberation Serif", serif'><tspan>27.5</tspan> <tspan font-family="DejaVu Math TeX Gyre, serif" font-size="17.11">±</tspan><tspan font-size="15.6">0.8</tspan></text>
<text x="3280" y="838.95" font-size="18.6" font-family='"Liberation Serif", serif' text-anchor="middle">65.2</text>
<text x="2354" y="860.64" font-size="18.6" font-family='"Liberation Serif", serif'>DFR</text>
<text x="2536" y="860.64" font-size="18.6" font-family='"Liberation Serif", serif'><tspan font-weight="bold">91.0</tspan> <tspan font-family="DejaVu Math TeX Gyre, serif" font-size="17.11">±</tspan><tspan font-size="15.6">0.3</tspan></text>
<text x="2632.5" y="860.64" font-size="18.6" font-family='"Liberation Serif", serif'><tspan text-decoration="underline">90.4</tspan> <tspan font-family="DejaVu Math TeX Gyre, serif" font-size="17.11">±</tspan><tspan font-size="15.6">0.1</tspan></text>
<text x="2723.5" y="860.64" font-size="18.6" font-family='"Liberation Serif", serif'><tspan>69.6</tspan> <tspan font-family="DejaVu Math TeX Gyre, serif" font-size="17.11">±</tspan><tspan font-size="15.6">0.2</tspan></text>
<text x="2811.5" y="860.64" font-size="18.6" font-family='"Liberation Serif", serif'><tspan>68.5</tspan> <tspan font-family="DejaVu Math TeX Gyre, serif" font-size="17.11">±</tspan><tspan font-size="15.6">0.2</tspan></text>
<text x="2900.5" y="860.64" font-size="18.6" font-family='"Liberation Serif", serif'><tspan>85.4</tspan> <tspan font-family="DejaVu Math TeX Gyre, serif" font-size="17.11">±</tspan><tspan font-size="15.6">0.4</tspan></text>
<text x="2989" y="860.64" font-size="18.6" font-family='"Liberation Serif", serif'><tspan>23.7</tspan> <tspan font-family="DejaVu Math TeX Gyre, serif" font-size="17.11">±</tspan><tspan font-size="15.6">0.7</tspan></text>
<text x="3076.5" y="860.64" font-size="18.6" font-family='"Liberation Serif", serif'><tspan>71.7</tspan> <tspan font-family="DejaVu Math TeX Gyre, serif" font-size="17.11">±</tspan><tspan font-size="15.6">0.2</tspan></text>
<text x="3164" y="860.64" font-size="18.6" font-family='"Liberation Serif", serif'><tspan>29.0</tspan> <tspan font-family="DejaVu Math TeX Gyre, serif" font-size="17.11">±</tspan><tspan font-size="15.6">0.2</tspan></text>
<text x="3280" y="860.64" font-size="18.6" font-family='"Liberation Serif", serif' text-anchor="middle">66.2</text>
<text x="2354" y="882.33" font-size="18.6" font-family='"Liberation Serif", serif'>CRT</text>
<text x="2536" y="882.33" font-size="18.6" font-family='"Liberation Serif", serif'><tspan>79.7</tspan> <tspan font-family="DejaVu Math TeX Gyre, serif" font-size="17.11">±</tspan><tspan font-size="15.6">0.3</tspan></text>
<text x="2632.5" y="882.33" font-size="18.6" font-family='"Liberation Serif", serif'><tspan>87.2</tspan> <tspan font-family="DejaVu Math TeX Gyre, serif" font-size="17.11">±</tspan><tspan font-size="15.6">0.3</tspan></text>
<text x="2723.5" y="882.33" font-size="18.6" font-family='"Liberation Serif", serif'><tspan>71.1</tspan> <tspan font-family="DejaVu Math TeX Gyre, serif" font-size="17.11">±</tspan><tspan font-size="15.6">0.1</tspan></text>
<text x="2811.5" y="882.33" font-size="18.6" font-family='"Liberation Serif", serif'><tspan>70.7</tspan> <tspan font-family="DejaVu Math TeX Gyre, serif" font-size="17.11">±</tspan><tspan font-size="15.6">0.1</tspan></text>
<text x="2900.5" y="882.33" font-size="18.6" font-family='"Liberation Serif", serif'><tspan>84.1</tspan> <tspan font-family="DejaVu Math TeX Gyre, serif" font-size="17.11">±</tspan><tspan font-size="15.6">0.4</tspan></text>
<text x="2989" y="882.33" font-size="18.6" font-family='"Liberation Serif", serif'><tspan font-weight="bold">43.3</tspan> <tspan font-family="DejaVu Math TeX Gyre, serif" font-size="17.11">±</tspan><tspan font-size="15.6">2.7</tspan></text>
<text x="3076.5" y="882.33" font-size="18.6" font-family='"Liberation Serif", serif'><tspan>74.6</tspan> <tspan font-family="DejaVu Math TeX Gyre, serif" font-size="17.11">±</tspan><tspan font-size="15.6">0.3</tspan></text>
<text x="3164" y="882.33" font-size="18.6" font-family='"Liberation Serif", serif'><tspan font-weight="bold">33.9</tspan> <tspan font-family="DejaVu Math TeX Gyre, serif" font-size="17.11">±</tspan><tspan font-size="15.6">0.1</tspan></text>
<text x="3280" y="882.33" font-size="18.6" font-family='"Liberation Serif", serif' text-anchor="middle">68.1</text>
<text x="2354" y="904.02" font-size="18.6" font-family='"Liberation Serif", serif'>ReWeightCRT</text>
<text x="2536" y="904.02" font-size="18.6" font-family='"Liberation Serif", serif'><tspan>78.4</tspan> <tspan font-family="DejaVu Math TeX Gyre, serif" font-size="17.11">±</tspan><tspan font-size="15.6">0.1</tspan></text>
<text x="2632.5" y="904.02" font-size="18.6" font-family='"Liberation Serif", serif'><tspan>87.2</tspan> <tspan font-family="DejaVu Math TeX Gyre, serif" font-size="17.11">±</tspan><tspan font-size="15.6">0.3</tspan></text>
<text x="2723.5" y="904.02" font-size="18.6" font-family='"Liberation Serif", serif'><tspan>71.0</tspan> <tspan font-family="DejaVu Math TeX Gyre, serif" font-size="17.11">±</tspan><tspan font-size="15.6">0.1</tspan></text>
<text x="2811.5" y="904.02" font-size="18.6" font-family='"Liberation Serif", serif'><tspan>69.0</tspan> <tspan font-family="DejaVu Math TeX Gyre, serif" font-size="17.11">±</tspan><tspan font-size="15.6">0.2</tspan></text>
<text x="2900.5" y="904.02" font-size="18.6" font-family='"Liberation Serif", serif'><tspan>85.6</tspan> <tspan font-family="DejaVu Math TeX Gyre, serif" font-size="17.11">±</tspan><tspan font-size="15.6">0.4</tspan></text>
<text x="2989" y="904.02" font-size="18.6" font-family='"Liberation Serif", serif'><tspan>23.3</tspan> <tspan font-family="DejaVu Math TeX Gyre, serif" font-size="17.11">±</tspan><tspan font-size="15.6">1.4</tspan></text>
<text x="3076.5" y="904.02" font-size="18.6" font-family='"Liberation Serif", serif'><tspan font-weight="bold">76.0</tspan> <tspan font-family="DejaVu Math TeX Gyre, serif" font-size="17.11">±</tspan><tspan font-size="15.6">0.1</tspan></text>
<text x="3164" y="904.02" font-size="18.6" font-family='"Liberation Serif", serif'><tspan text-decoration="underline">33.7</tspan> <tspan font-family="DejaVu Math TeX Gyre, serif" font-size="17.11">±</tspan><tspan font-size="15.6">0.1</tspan></text>
<text x="3280" y="904.02" font-size="18.6" font-family='"Liberation Serif", serif' text-anchor="middle">65.5</text>
<text x="2354" y="925.71" font-size="18.6" font-family='"Liberation Serif", serif' font-weight="bold">MEDRO</text>
<text x="2536" y="925.71" font-size="18.6" font-family='"Liberation Serif", serif'><tspan>83.8</tspan> <tspan font-family="DejaVu Math TeX Gyre, serif" font-size="17.11">±</tspan><tspan font-size="15.6">1.3</tspan></text>
<text x="2632.5" y="925.71" font-size="18.6" font-family='"Liberation Serif", serif'><tspan text-decoration="underline">90.4</tspan> <tspan font-family="DejaVu Math TeX Gyre, serif" font-size="17.11">±</tspan><tspan font-size="15.6">0.4</tspan></text>
<text x="2723.5" y="925.71" font-size="18.6" font-family='"Liberation Serif", serif'><tspan>73.4</tspan> <tspan font-family="DejaVu Math TeX Gyre, serif" font-size="17.11">±</tspan><tspan font-size="15.6">0.5</tspan></text>
<text x="2811.5" y="925.71" font-size="18.6" font-family='"Liberation Serif", serif'><tspan text-decoration="underline">75.7</tspan> <tspan font-family="DejaVu Math TeX Gyre, serif" font-size="17.11">±</tspan><tspan font-size="15.6">0.8</tspan></text>
<text x="2900.5" y="925.71" font-size="18.6" font-family='"Liberation Serif", serif'><tspan text-decoration="underline">85.9</tspan> <tspan font-family="DejaVu Math TeX Gyre, serif" font-size="17.11">±</tspan><tspan font-size="15.6">0.4</tspan></text>
<text x="2989" y="925.71" font-size="18.6" font-family='"Liberation Serif", serif'><tspan>39.1</tspan> <tspan font-family="DejaVu Math TeX Gyre, serif" font-size="17.11">±</tspan><tspan font-size="15.6">2.5</tspan></text>
<text x="3076.5" y="925.71" font-size="18.6" font-family='"Liberation Serif", serif'><tspan>75.0</tspan> <tspan font-family="DejaVu Math TeX Gyre, serif" font-size="17.11">±</tspan><tspan font-size="15.6">0.4</tspan></text>
<text x="3164" y="925.71" font-size="18.6" font-family='"Liberation Serif", serif'><tspan>32.6</tspan> <tspan font-family="DejaVu Math TeX Gyre, serif" font-size="17.11">±</tspan><tspan font-size="15.6">0.7</tspan></text>
<text x="3280" y="925.71" font-size="18.6" font-family='"Liberation Serif", serif' text-anchor="middle" text-decoration="underline">69.5</text>
<text x="2354" y="947.4" font-size="18.6" font-family='"Liberation Serif", serif' font-weight="bold">MEDRO (w/ gating)</text>
<text x="2536" y="947.4" font-size="18.6" font-family='"Liberation Serif", serif'><tspan>84.1</tspan> <tspan font-family="DejaVu Math TeX Gyre, serif" font-size="17.11">±</tspan><tspan font-size="15.6">1.0</tspan></text>
<text x="2632.5" y="947.4" font-size="18.6" font-family='"Liberation Serif", serif'><tspan font-weight="bold">91.1</tspan> <tspan font-family="DejaVu Math TeX Gyre, serif" font-size="17.11">±</tspan><tspan font-size="15.6">0.2</tspan></text>
<text x="2723.5" y="947.4" font-size="18.6" font-family='"Liberation Serif", serif'><tspan font-weight="bold">74.1</tspan> <tspan font-family="DejaVu Math TeX Gyre, serif" font-size="17.11">±</tspan><tspan font-size="15.6">0.4</tspan></text>
<text x="2811.5" y="947.4" font-size="18.6" font-family='"Liberation Serif", serif'><tspan text-decoration="underline">75.7</tspan> <tspan font-family="DejaVu Math TeX Gyre, serif" font-size="17.11">±</tspan><tspan font-size="15.6">0.7</tspan></text>
<text x="2900.5" y="947.4" font-size="18.6" font-family='"Liberation Serif", serif'><tspan font-weight="bold">87.2</tspan> <tspan font-family="DejaVu Math TeX Gyre, serif" font-size="17.11">±</tspan><tspan font-size="15.6">0.7</tspan></text>
<text x="2989" y="947.4" font-size="18.6" font-family='"Liberation Serif", serif'><tspan>39.1</tspan> <tspan font-family="DejaVu Math TeX Gyre, serif" font-size="17.11">±</tspan><tspan font-size="15.6">2.5</tspan></text>
<text x="3076.5" y="947.4" font-size="18.6" font-family='"Liberation Serif", serif'><tspan>75.0</tspan> <tspan font-family="DejaVu Math TeX Gyre, serif" font-size="17.11">±</tspan><tspan font-size="15.6">0.4</tspan></text>
<text x="3164" y="947.4" font-size="18.6" font-family='"Liberation Serif", serif'><tspan>33.6</tspan> <tspan font-family="DejaVu Math TeX Gyre, serif" font-size="17.11">±</tspan><tspan font-size="15.6">0.6</tspan></text>
<text x="3280" y="947.4" font-size="18.6" font-family='"Liberation Serif", serif' text-anchor="middle" font-weight="bold">70.0</text>
<polygon points="3351,922.3 3354.64,933.49 3366.41,933.49 3356.89,940.41 3360.52,951.61 3351,944.69 3341.48,951.61 3345.11,940.41 3335.59,933.49 3347.36,933.49" fill="#ffff00" stroke="#000" stroke-width="3.1" stroke-linejoin="miter"/>
<text font-family='"DejaVu Math TeX Gyre", "DejaVu Serif", serif'><tspan x="2432" y="1108" font-size="26" letter-spacing="-1.17">𝜃</tspan><tspan x="2449.88" y="1097.08" font-size="14.98" letter-spacing="-0.67">∗</tspan><tspan x="2461.13" y="1108" font-size="26" letter-spacing="-1.17"> = {𝜙</tspan><tspan x="2524.45" y="1097.08" font-size="14.98" letter-spacing="-0.67">∗</tspan><tspan x="2535.7" y="1108" font-size="26" letter-spacing="-1.17">,</tspan><tspan x="2546.41" y="1108" font-size="26" letter-spacing="-1.17">𝜔</tspan><tspan x="2569.27" y="1113.72" font-size="18.72" letter-spacing="-0.84">1</tspan><tspan x="2569.83" y="1097.08" font-size="14.98" letter-spacing="-0.67">∗</tspan><tspan x="2581.11" y="1108" font-size="26" letter-spacing="-1.17">,</tspan><tspan x="2591.3" y="1108" font-size="26" letter-spacing="-1.17">⋯</tspan><tspan x="2616.91" y="1108" font-size="26" letter-spacing="-1.17">,</tspan><tspan x="2627.63" y="1108" font-size="26" letter-spacing="-1.17">𝜔</tspan><tspan x="2650.48" y="1113.72" font-size="18.72" letter-spacing="-0.84">𝑘</tspan><tspan x="2651.04" y="1097.08" font-size="14.98" letter-spacing="-0.67">∗</tspan><tspan x="2666.56" y="1108" font-size="26" letter-spacing="-1.17">}</tspan></text>
<text font-family='"DejaVu Math TeX Gyre", "DejaVu Serif", serif'><tspan x="2786.03" y="1155.4" font-size="25.5" letter-spacing="-1.15">𝜔</tspan><tspan x="2808.45" y="1161.01" font-size="18.36" letter-spacing="-0.83">𝑖</tspan><tspan x="2809" y="1144.69" font-size="14.69" letter-spacing="-0.66">∗</tspan><tspan x="2820.03" y="1155.4" font-size="25.5" letter-spacing="-1.15"> ∘ 𝜙</tspan><tspan x="2865.28" y="1144.69" font-size="14.69" letter-spacing="-0.66">∗</tspan><tspan x="2876.32" y="1155.4" font-size="25.5" letter-spacing="-1.15"> ≈ 𝑎𝑟𝑔</tspan></text>
<text font-family='"DejaVu Math TeX Gyre", "DejaVu Serif", serif'><tspan x="2969.85" y="1155.4" font-size="25.5" letter-spacing="-1.15">min</tspan></text>
<text font-family='"DejaVu Math TeX Gyre", "DejaVu Serif", serif'><tspan x="2961.71" y="1176.4" font-size="17.16" letter-spacing="-0.77">𝑓:𝒳→𝒴</tspan></text>
<text font-family='"DejaVu Math TeX Gyre", "DejaVu Serif", serif'><tspan x="3035.33" y="1155.4" font-size="25.8" letter-spacing="-1.16">𝔼</tspan><tspan x="3055.02" y="1161.08" font-size="18.58" letter-spacing="-0.84">(𝑥,𝑦)~𝒫</tspan><tspan x="3129.86" y="1153.27" font-size="13.37" letter-spacing="-0.6">𝑖</tspan><tspan x="3134.37" y="1155.4" font-size="25.8" letter-spacing="-1.16">[ℓ(𝑓(𝑥),</tspan><tspan x="3231.07" y="1155.4" font-size="25.8" letter-spacing="-1.16">𝑦)]</tspan></text>
<text font-family='"DejaVu Math TeX Gyre", "DejaVu Serif", serif'><tspan x="2584.34" y="1250" font-size="27.2" letter-spacing="-1.22" fill="#33475b">ℛ</tspan><tspan x="2606.62" y="1255.98" font-size="19.58" letter-spacing="-0.88">𝑖𝑗</tspan><tspan x="2624" y="1250" font-size="27.2" letter-spacing="-1.22">(𝜃</tspan><tspan x="2653.01" y="1238.58" font-size="15.67" letter-spacing="-0.71">∗</tspan><tspan x="2664.78" y="1250" font-size="27.2" letter-spacing="-1.22">) ≈ </tspan><tspan x="2710.1" y="1250" font-size="27.2" letter-spacing="-1.22" fill="#33475b">ℛ</tspan><tspan x="2732.37" y="1255.98" font-size="19.58" letter-spacing="-0.88">𝑖𝑖</tspan><tspan x="2746.27" y="1250" font-size="27.2" letter-spacing="-1.22">(𝜃</tspan><tspan x="2775.28" y="1238.58" font-size="15.67" letter-spacing="-0.71">∗</tspan><tspan x="2787.05" y="1250" font-size="27.2" letter-spacing="-1.22">) ⇒ 𝒫</tspan><tspan x="2860.19" y="1238.58" font-size="19.58" letter-spacing="-0.88">𝑖</tspan><tspan x="2867.55" y="1250" font-size="27.2" letter-spacing="-1.22">(𝑌|𝜙</tspan><tspan x="2925.75" y="1238.58" font-size="15.67" letter-spacing="-0.71">∗</tspan><tspan x="2937.51" y="1250" font-size="27.2" letter-spacing="-1.22">(𝑥)) = 𝒫</tspan><tspan x="3043.7" y="1238.58" font-size="19.58" letter-spacing="-0.88">𝑗</tspan><tspan x="3054.54" y="1250" font-size="27.2" letter-spacing="-1.22">(𝑌|𝜙</tspan><tspan x="3112.74" y="1238.58" font-size="15.67" letter-spacing="-0.71">∗</tspan><tspan x="3124.51" y="1250" font-size="27.2" letter-spacing="-1.22">(𝑥))</tspan></text>
<text font-family='"DejaVu Math TeX Gyre", "DejaVu Serif", serif'><tspan x="2384.8" y="1291.6" font-size="26" letter-spacing="-1.17">∴</tspan></text>
<text font-family='"DejaVu Math TeX Gyre", "DejaVu Serif", serif'><tspan x="2408.58" y="1291.6" font-size="25.5" letter-spacing="-1.15" fill="#6b5a2e">𝐾</tspan><tspan x="2432.7" y="1280.89" font-size="18.36" letter-spacing="-0.83" fill="#6b5a2e">2</tspan></text>
<text font-family='"DejaVu Math TeX Gyre", "DejaVu Serif", serif'><tspan x="3354.32" y="1291.6" font-size="26" letter-spacing="-1.17">𝜙</tspan><tspan x="3374.49" y="1280.68" font-size="14.98" letter-spacing="-0.67">∗</tspan></text>
<line x1="2344" y1="1451.8" x2="2867" y2="1451.8" stroke="#000" stroke-width="1.3"/>
<line x1="2344" y1="1504.6" x2="2867" y2="1504.6" stroke="#000" stroke-width="0.9"/>
<line x1="2344" y1="1747.4" x2="2867" y2="1747.4" stroke="#000" stroke-width="1.3"/>
<line x1="2487.7" y1="1477.8" x2="2665" y2="1477.8" stroke="#666" stroke-width="0.8"/>
<line x1="2681.5" y1="1477.8" x2="2858.8" y2="1477.8" stroke="#666" stroke-width="0.8"/>
<text x="2353.7" y="1478.8" font-size="16.4" font-family='"Liberation Serif", serif'>Method</text>
<text x="2576" y="1469.8" font-size="16.4" font-family='"Liberation Serif", serif' text-anchor="middle">(a) Camelyon17</text>
<text x="2770" y="1469.8" font-size="16.4" font-family='"Liberation Serif", serif' text-anchor="middle">(b) iWildCam</text>
<text x="2528" y="1495.8" font-size="16.4" font-family='"Liberation Serif", serif' text-anchor="middle">Validation</text>
<text x="2624.7" y="1495.8" font-size="16.4" font-family='"Liberation Serif", serif' text-anchor="middle">Test</text>
<text x="2721.9" y="1495.8" font-size="16.4" font-family='"Liberation Serif", serif' text-anchor="middle">Validation</text>
<text x="2818.5" y="1495.8" font-size="16.4" font-family='"Liberation Serif", serif' text-anchor="middle">Test</text>
<text x="2353.7" y="1522.4" font-size="16.4" font-family='"Liberation Serif", serif'>ERM (scratch)</text>
<text x="2489" y="1522.4" font-size="16.4" font-family='"Liberation Serif", serif'><tspan>84.9</tspan> (<tspan font-family="DejaVu Math TeX Gyre, serif" font-size="16.07">±</tspan>3.1)</text>
<text x="2585.9" y="1522.4" font-size="16.4" font-family='"Liberation Serif", serif'><tspan>70.8</tspan> (<tspan font-family="DejaVu Math TeX Gyre, serif" font-size="16.07">±</tspan>7.2)</text>
<text x="2721.9" y="1522.4" font-size="16.4" font-family='"Liberation Serif", serif' text-anchor="middle">-</text>
<text x="2818.5" y="1522.4" font-size="16.4" font-family='"Liberation Serif", serif' text-anchor="middle">-</text>
<text x="2353.7" y="1540.39" font-size="16.4" font-family='"Liberation Serif", serif'>ERM (ImageNet)</text>
<text x="2489" y="1540.39" font-size="16.4" font-family='"Liberation Serif", serif'><tspan text-decoration="underline">91.3</tspan> (<tspan font-family="DejaVu Math TeX Gyre, serif" font-size="16.07">±</tspan>0.2)</text>
<text x="2585.9" y="1540.39" font-size="16.4" font-family='"Liberation Serif", serif'><tspan>84.2</tspan> (<tspan font-family="DejaVu Math TeX Gyre, serif" font-size="16.07">±</tspan>2.1)</text>
<text x="2683.3" y="1540.39" font-size="16.4" font-family='"Liberation Serif", serif'><tspan font-weight="bold">37.4</tspan> (<tspan font-family="DejaVu Math TeX Gyre, serif" font-size="16.07">±</tspan>1.3)</text>
<text x="2780.3" y="1540.39" font-size="16.4" font-family='"Liberation Serif", serif'><tspan>31.0</tspan> (<tspan font-family="DejaVu Math TeX Gyre, serif" font-size="16.07">±</tspan>1.3)</text>
<text x="2353.7" y="1558.38" font-size="16.4" font-family='"Liberation Serif", serif'>CORAL</text>
<text x="2489" y="1558.38" font-size="16.4" font-family='"Liberation Serif", serif'><tspan>86.2</tspan> (<tspan font-family="DejaVu Math TeX Gyre, serif" font-size="16.07">±</tspan>1.4)</text>
<text x="2585.9" y="1558.38" font-size="16.4" font-family='"Liberation Serif", serif'><tspan>59.5</tspan> (<tspan font-family="DejaVu Math TeX Gyre, serif" font-size="16.07">±</tspan>7.7)</text>
<text x="2683.3" y="1558.38" font-size="16.4" font-family='"Liberation Serif", serif'><tspan text-decoration="underline">37.0</tspan> (<tspan font-family="DejaVu Math TeX Gyre, serif" font-size="16.07">±</tspan>1.2)</text>
<text x="2780.3" y="1558.38" font-size="16.4" font-family='"Liberation Serif", serif'><tspan font-weight="bold">32.8</tspan> (<tspan font-family="DejaVu Math TeX Gyre, serif" font-size="16.07">±</tspan>0.1)</text>
<text x="2353.7" y="1576.37" font-size="16.4" font-family='"Liberation Serif", serif'>IRM</text>
<text x="2489" y="1576.37" font-size="16.4" font-family='"Liberation Serif", serif'><tspan>86.2</tspan> (<tspan font-family="DejaVu Math TeX Gyre, serif" font-size="16.07">±</tspan>1.4)</text>
<text x="2585.9" y="1576.37" font-size="16.4" font-family='"Liberation Serif", serif'><tspan>64.2</tspan> (<tspan font-family="DejaVu Math TeX Gyre, serif" font-size="16.07">±</tspan>8.1)</text>
<text x="2683.3" y="1576.37" font-size="16.4" font-family='"Liberation Serif", serif'><tspan>20.2</tspan> (<tspan font-family="DejaVu Math TeX Gyre, serif" font-size="16.07">±</tspan>7.6)</text>
<text x="2780.3" y="1576.37" font-size="16.4" font-family='"Liberation Serif", serif'><tspan>15.1</tspan> (<tspan font-family="DejaVu Math TeX Gyre, serif" font-size="16.07">±</tspan>4.9)</text>
<text x="2353.7" y="1594.36" font-size="16.4" font-family='"Liberation Serif", serif'>GroupDRO</text>
<text x="2489" y="1594.36" font-size="16.4" font-family='"Liberation Serif", serif'><tspan>85.5</tspan> (<tspan font-family="DejaVu Math TeX Gyre, serif" font-size="16.07">±</tspan>2.4)</text>
<text x="2585.9" y="1594.36" font-size="16.4" font-family='"Liberation Serif", serif'><tspan>68.4</tspan> (<tspan font-family="DejaVu Math TeX Gyre, serif" font-size="16.07">±</tspan>7.3)</text>
<text x="2683.3" y="1594.36" font-size="16.4" font-family='"Liberation Serif", serif'><tspan>26.3</tspan> (<tspan font-family="DejaVu Math TeX Gyre, serif" font-size="16.07">±</tspan>0.2)</text>
<text x="2780.3" y="1594.36" font-size="16.4" font-family='"Liberation Serif", serif'><tspan>23.9</tspan> (<tspan font-family="DejaVu Math TeX Gyre, serif" font-size="16.07">±</tspan>2.1)</text>
<text x="2353.7" y="1612.35" font-size="16.4" font-family='"Liberation Serif", serif'>DANN</text>
<text x="2528" y="1612.35" font-size="16.4" font-family='"Liberation Serif", serif' text-anchor="middle">-</text>
<text x="2624.7" y="1612.35" font-size="16.4" font-family='"Liberation Serif", serif' text-anchor="middle">-</text>
<text x="2721.9" y="1612.35" font-size="16.4" font-family='"Liberation Serif", serif' text-anchor="middle">-</text>
<text x="2780.3" y="1612.35" font-size="16.4" font-family='"Liberation Serif", serif'><tspan text-decoration="underline">31.9</tspan> (<tspan font-family="DejaVu Math TeX Gyre, serif" font-size="16.07">±</tspan>1.4)</text>
<text x="2353.7" y="1630.34" font-size="16.4" font-family='"Liberation Serif", serif'>VREx</text>
<text x="2489" y="1630.34" font-size="16.4" font-family='"Liberation Serif", serif'><tspan>82.3</tspan> (<tspan font-family="DejaVu Math TeX Gyre, serif" font-size="16.07">±</tspan>1.3)</text>
<text x="2585.9" y="1630.34" font-size="16.4" font-family='"Liberation Serif", serif'><tspan>71.5</tspan> (<tspan font-family="DejaVu Math TeX Gyre, serif" font-size="16.07">±</tspan>8.3)</text>
<text x="2721.9" y="1630.34" font-size="16.4" font-family='"Liberation Serif", serif' text-anchor="middle">-</text>
<text x="2818.5" y="1630.34" font-size="16.4" font-family='"Liberation Serif", serif' text-anchor="middle">-</text>
<text x="2353.7" y="1648.33" font-size="16.4" font-family='"Liberation Serif", serif'>LISA</text>
<text x="2489" y="1648.33" font-size="16.4" font-family='"Liberation Serif", serif'><tspan>81.8</tspan> (<tspan font-family="DejaVu Math TeX Gyre, serif" font-size="16.07">±</tspan>1.3)</text>
<text x="2585.9" y="1648.33" font-size="16.4" font-family='"Liberation Serif", serif'><tspan>77.1</tspan> (<tspan font-family="DejaVu Math TeX Gyre, serif" font-size="16.07">±</tspan>6.5)</text>
<text x="2721.9" y="1648.33" font-size="16.4" font-family='"Liberation Serif", serif' text-anchor="middle">-</text>
<text x="2818.5" y="1648.33" font-size="16.4" font-family='"Liberation Serif", serif' text-anchor="middle">-</text>
<text x="2353.7" y="1666.32" font-size="16.4" font-family='"Liberation Serif", serif'>Fish</text>
<text x="2489" y="1666.32" font-size="16.4" font-family='"Liberation Serif", serif'><tspan>82.5</tspan> (<tspan font-family="DejaVu Math TeX Gyre, serif" font-size="16.07">±</tspan>1.2)</text>
<text x="2585.9" y="1666.32" font-size="16.4" font-family='"Liberation Serif", serif'><tspan>79.5</tspan> (<tspan font-family="DejaVu Math TeX Gyre, serif" font-size="16.07">±</tspan>6.0)</text>
<text x="2683.3" y="1666.32" font-size="16.4" font-family='"Liberation Serif", serif'><tspan>25.8</tspan> (<tspan font-family="DejaVu Math TeX Gyre, serif" font-size="16.07">±</tspan>0.5)</text>
<text x="2780.3" y="1666.32" font-size="16.4" font-family='"Liberation Serif", serif'><tspan>24.2</tspan> (<tspan font-family="DejaVu Math TeX Gyre, serif" font-size="16.07">±</tspan>0.9)</text>
<text x="2353.7" y="1684.31" font-size="16.4" font-family='"Liberation Serif", serif'>SWAD</text>
<text x="2489" y="1684.31" font-size="16.4" font-family='"Liberation Serif", serif'><tspan>88.1</tspan> (<tspan font-family="DejaVu Math TeX Gyre, serif" font-size="16.07">±</tspan>1.5)</text>
<text x="2585.9" y="1684.31" font-size="16.4" font-family='"Liberation Serif", serif'><tspan>83.9</tspan> (<tspan font-family="DejaVu Math TeX Gyre, serif" font-size="16.07">±</tspan>0.9)</text>
<text x="2683.3" y="1684.31" font-size="16.4" font-family='"Liberation Serif", serif'><tspan>31.6</tspan> (<tspan font-family="DejaVu Math TeX Gyre, serif" font-size="16.07">±</tspan>0.2)</text>
<text x="2780.3" y="1684.31" font-size="16.4" font-family='"Liberation Serif", serif'><tspan>29.1</tspan> (<tspan font-family="DejaVu Math TeX Gyre, serif" font-size="16.07">±</tspan>0.1)</text>
<text x="2353.7" y="1702.3" font-size="16.4" font-family='"Liberation Serif", serif'>L2A-OT</text>
<text x="2489" y="1702.3" font-size="16.4" font-family='"Liberation Serif", serif'><tspan>86.3</tspan> (<tspan font-family="DejaVu Math TeX Gyre, serif" font-size="16.07">±</tspan>3.4)</text>
<text x="2585.9" y="1702.3" font-size="16.4" font-family='"Liberation Serif", serif'><tspan>77.5</tspan> (<tspan font-family="DejaVu Math TeX Gyre, serif" font-size="16.07">±</tspan>6.7)</text>
<text x="2683.3" y="1702.3" font-size="16.4" font-family='"Liberation Serif", serif'><tspan>22.8</tspan> (<tspan font-family="DejaVu Math TeX Gyre, serif" font-size="16.07">±</tspan>2.9)</text>
<text x="2780.3" y="1702.3" font-size="16.4" font-family='"Liberation Serif", serif'><tspan>18.1</tspan> (<tspan font-family="DejaVu Math TeX Gyre, serif" font-size="16.07">±</tspan>3.2)</text>
<text x="2353.7" y="1720.29" font-size="16.4" font-family='"Liberation Serif", serif'>HeckmanDG</text>
<text x="2489" y="1720.29" font-size="16.4" font-family='"Liberation Serif", serif'><tspan>90.6</tspan> (<tspan font-family="DejaVu Math TeX Gyre, serif" font-size="16.07">±</tspan>2.4)</text>
<text x="2585.9" y="1720.29" font-size="16.4" font-family='"Liberation Serif", serif'><tspan text-decoration="underline">87.3</tspan> (<tspan font-family="DejaVu Math TeX Gyre, serif" font-size="16.07">±</tspan>2.4)</text>
<text x="2683.3" y="1720.29" font-size="16.4" font-family='"Liberation Serif", serif'><tspan>34.5</tspan> (<tspan font-family="DejaVu Math TeX Gyre, serif" font-size="16.07">±</tspan>0.9)</text>
<text x="2780.3" y="1720.29" font-size="16.4" font-family='"Liberation Serif", serif'><tspan>31.8</tspan> (<tspan font-family="DejaVu Math TeX Gyre, serif" font-size="16.07">±</tspan>0.3)</text>
<text x="2353.7" y="1738.28" font-size="16.4" font-family='"Liberation Serif", serif' font-weight="bold">MEDRO (ours)</text>
<text x="2489" y="1738.28" font-size="16.4" font-family='"Liberation Serif", serif'><tspan font-weight="bold">92.6</tspan> (<tspan font-family="DejaVu Math TeX Gyre, serif" font-size="16.07">±</tspan>0.5)</text>
<text x="2585.9" y="1738.28" font-size="16.4" font-family='"Liberation Serif", serif'><tspan font-weight="bold">87.8</tspan> (<tspan font-family="DejaVu Math TeX Gyre, serif" font-size="16.07">±</tspan>1.9)</text>
<text x="2683.3" y="1738.28" font-size="16.4" font-family='"Liberation Serif", serif'><tspan>34.1</tspan> (<tspan font-family="DejaVu Math TeX Gyre, serif" font-size="16.07">±</tspan>0.7)</text>
<text x="2780.3" y="1738.28" font-size="16.4" font-family='"Liberation Serif", serif'><tspan>31.5</tspan> (<tspan font-family="DejaVu Math TeX Gyre, serif" font-size="16.07">±</tspan>0.8)</text>
<line x1="2875" y1="1452.3" x2="3404.5" y2="1452.3" stroke="#000" stroke-width="1.3"/>
<line x1="2875" y1="1503.8" x2="3404.5" y2="1503.8" stroke="#000" stroke-width="0.9"/>
<line x1="2875" y1="1668.4" x2="3404.5" y2="1668.4" stroke="#000" stroke-width="1.3"/>
<line x1="3007" y1="1478.3" x2="3193.5" y2="1478.3" stroke="#666" stroke-width="0.8"/>
<line x1="3209.8" y1="1478.3" x2="3396" y2="1478.3" stroke="#666" stroke-width="0.8"/>
<text x="2884.8" y="1478.6" font-size="15.85" font-family='"Liberation Serif", serif'>Method</text>
<text x="3100" y="1470" font-size="15.85" font-family='"Liberation Serif", serif' text-anchor="middle">Average Corr.</text>
<text x="3302.7" y="1470" font-size="15.85" font-family='"Liberation Serif", serif' text-anchor="middle">Worst-Group Corr.</text>
<text x="3049.9" y="1495" font-size="15.85" font-family='"Liberation Serif", serif' text-anchor="middle">Validation</text>
<text x="3150.6" y="1495" font-size="15.85" font-family='"Liberation Serif", serif' text-anchor="middle">Test</text>
<text x="3252" y="1495" font-size="15.85" font-family='"Liberation Serif", serif' text-anchor="middle">Validation</text>
<text x="3353.4" y="1495" font-size="15.85" font-family='"Liberation Serif", serif' text-anchor="middle">Test</text>
<text x="2884.8" y="1521" font-size="15.85" font-family='"Liberation Serif", serif'>ERM</text>
<text x="3008.3" y="1521" font-size="15.85" font-family='"Liberation Serif", serif'><tspan text-decoration="underline">0.80</tspan> (<tspan font-family="DejaVu Math TeX Gyre, serif" font-size="15.53">±</tspan>0.04)</text>
<text x="3109.6" y="1521" font-size="15.85" font-family='"Liberation Serif", serif'><tspan>0.78</tspan> (<tspan font-family="DejaVu Math TeX Gyre, serif" font-size="15.53">±</tspan>0.03)</text>
<text x="3210.8" y="1521" font-size="15.85" font-family='"Liberation Serif", serif'><tspan>0.51</tspan> (<tspan font-family="DejaVu Math TeX Gyre, serif" font-size="15.53">±</tspan>0.06)</text>
<text x="3312.4" y="1521" font-size="15.85" font-family='"Liberation Serif", serif'><tspan>0.45</tspan> (<tspan font-family="DejaVu Math TeX Gyre, serif" font-size="15.53">±</tspan>0.06)</text>
<text x="2884.8" y="1538.36" font-size="15.85" font-family='"Liberation Serif", serif'>CORAL</text>
<text x="3008.3" y="1538.36" font-size="15.85" font-family='"Liberation Serif", serif'><tspan text-decoration="underline">0.80</tspan> (<tspan font-family="DejaVu Math TeX Gyre, serif" font-size="15.53">±</tspan>0.04)</text>
<text x="3109.6" y="1538.36" font-size="15.85" font-family='"Liberation Serif", serif'><tspan>0.77</tspan> (<tspan font-family="DejaVu Math TeX Gyre, serif" font-size="15.53">±</tspan>0.05)</text>
<text x="3210.8" y="1538.36" font-size="15.85" font-family='"Liberation Serif", serif'><tspan text-decoration="underline">0.52</tspan> (<tspan font-family="DejaVu Math TeX Gyre, serif" font-size="15.53">±</tspan>0.06)</text>
<text x="3312.4" y="1538.36" font-size="15.85" font-family='"Liberation Serif", serif'><tspan>0.44</tspan> (<tspan font-family="DejaVu Math TeX Gyre, serif" font-size="15.53">±</tspan>0.06)</text>
<text x="2884.8" y="1555.72" font-size="15.85" font-family='"Liberation Serif", serif'>IRM</text>
<text x="3008.3" y="1555.72" font-size="15.85" font-family='"Liberation Serif", serif'><tspan font-weight="bold">0.81</tspan> (<tspan font-family="DejaVu Math TeX Gyre, serif" font-size="15.53">±</tspan>0.03)</text>
<text x="3109.6" y="1555.72" font-size="15.85" font-family='"Liberation Serif", serif'><tspan>0.77</tspan> (<tspan font-family="DejaVu Math TeX Gyre, serif" font-size="15.53">±</tspan>0.05)</text>
<text x="3210.8" y="1555.72" font-size="15.85" font-family='"Liberation Serif", serif'><tspan font-weight="bold">0.53</tspan> (<tspan font-family="DejaVu Math TeX Gyre, serif" font-size="15.53">±</tspan>0.06)</text>
<text x="3312.4" y="1555.72" font-size="15.85" font-family='"Liberation Serif", serif'><tspan>0.43</tspan> (<tspan font-family="DejaVu Math TeX Gyre, serif" font-size="15.53">±</tspan>0.07)</text>
<text x="2884.8" y="1573.08" font-size="15.85" font-family='"Liberation Serif", serif'>GroupDRO</text>
<text x="3008.3" y="1573.08" font-size="15.85" font-family='"Liberation Serif", serif'><tspan>0.78</tspan> (<tspan font-family="DejaVu Math TeX Gyre, serif" font-size="15.53">±</tspan>0.05)</text>
<text x="3109.6" y="1573.08" font-size="15.85" font-family='"Liberation Serif", serif'><tspan>0.75</tspan> (<tspan font-family="DejaVu Math TeX Gyre, serif" font-size="15.53">±</tspan>0.07)</text>
<text x="3210.8" y="1573.08" font-size="15.85" font-family='"Liberation Serif", serif'><tspan>0.46</tspan> (<tspan font-family="DejaVu Math TeX Gyre, serif" font-size="15.53">±</tspan>0.07)</text>
<text x="3312.4" y="1573.08" font-size="15.85" font-family='"Liberation Serif", serif'><tspan>0.39</tspan> (<tspan font-family="DejaVu Math TeX Gyre, serif" font-size="15.53">±</tspan>0.06)</text>
<text x="2884.8" y="1590.44" font-size="15.85" font-family='"Liberation Serif", serif'>DANN</text>
<text x="3008.3" y="1590.44" font-size="15.85" font-family='"Liberation Serif", serif'><tspan>0.77</tspan> (<tspan font-family="DejaVu Math TeX Gyre, serif" font-size="15.53">±</tspan>0.04)</text>
<text x="3109.6" y="1590.44" font-size="15.85" font-family='"Liberation Serif", serif'><tspan>0.69</tspan> (<tspan font-family="DejaVu Math TeX Gyre, serif" font-size="15.53">±</tspan>0.04)</text>
<text x="3210.8" y="1590.44" font-size="15.85" font-family='"Liberation Serif", serif'><tspan>0.44</tspan> (<tspan font-family="DejaVu Math TeX Gyre, serif" font-size="15.53">±</tspan>0.11)</text>
<text x="3312.4" y="1590.44" font-size="15.85" font-family='"Liberation Serif", serif'><tspan>0.33</tspan> (<tspan font-family="DejaVu Math TeX Gyre, serif" font-size="15.53">±</tspan>0.10)</text>
<text x="2884.8" y="1607.8" font-size="15.85" font-family='"Liberation Serif", serif'>Fish</text>
<text x="3008.3" y="1607.8" font-size="15.85" font-family='"Liberation Serif", serif'><tspan font-weight="bold">0.81</tspan> (<tspan font-family="DejaVu Math TeX Gyre, serif" font-size="15.53">±</tspan>0.01)</text>
<text x="3109.6" y="1607.8" font-size="15.85" font-family='"Liberation Serif", serif'><tspan font-weight="bold">0.81</tspan> (<tspan font-family="DejaVu Math TeX Gyre, serif" font-size="15.53">±</tspan>0.01)</text>
<text x="3252" y="1607.8" font-size="15.85" font-family='"Liberation Serif", serif' text-anchor="middle">–</text>
<text x="3353.4" y="1607.8" font-size="15.85" font-family='"Liberation Serif", serif' text-anchor="middle">–</text>
<text x="2884.8" y="1625.16" font-size="15.85" font-family='"Liberation Serif", serif'>SWAD</text>
<text x="3008.3" y="1625.16" font-size="15.85" font-family='"Liberation Serif", serif'><tspan>0.78</tspan> (<tspan font-family="DejaVu Math TeX Gyre, serif" font-size="15.53">±</tspan>0.03)</text>
<text x="3109.6" y="1625.16" font-size="15.85" font-family='"Liberation Serif", serif'><tspan>0.77</tspan> (<tspan font-family="DejaVu Math TeX Gyre, serif" font-size="15.53">±</tspan>0.04)</text>
<text x="3210.8" y="1625.16" font-size="15.85" font-family='"Liberation Serif", serif'><tspan>0.48</tspan> (<tspan font-family="DejaVu Math TeX Gyre, serif" font-size="15.53">±</tspan>0.09)</text>
<text x="3312.4" y="1625.16" font-size="15.85" font-family='"Liberation Serif", serif'><tspan>0.45</tspan> (<tspan font-family="DejaVu Math TeX Gyre, serif" font-size="15.53">±</tspan>0.11)</text>
<text x="2884.8" y="1642.52" font-size="15.85" font-family='"Liberation Serif", serif'>HeckmanDG</text>
<text x="3008.3" y="1642.52" font-size="15.85" font-family='"Liberation Serif", serif'><tspan font-weight="bold">0.81</tspan> (<tspan font-family="DejaVu Math TeX Gyre, serif" font-size="15.53">±</tspan>0.03)</text>
<text x="3109.6" y="1642.52" font-size="15.85" font-family='"Liberation Serif", serif'><tspan font-weight="bold">0.81</tspan> (<tspan font-family="DejaVu Math TeX Gyre, serif" font-size="15.53">±</tspan>0.03)</text>
<text x="3210.8" y="1642.52" font-size="15.85" font-family='"Liberation Serif", serif'><tspan font-weight="bold">0.53</tspan> (<tspan font-family="DejaVu Math TeX Gyre, serif" font-size="15.53">±</tspan>0.06)</text>
<text x="3312.4" y="1642.52" font-size="15.85" font-family='"Liberation Serif", serif'><tspan font-weight="bold">0.51</tspan> (<tspan font-family="DejaVu Math TeX Gyre, serif" font-size="15.53">±</tspan>0.04)</text>
<text x="2884.8" y="1659.88" font-size="15.85" font-family='"Liberation Serif", serif' font-weight="bold">MEDRO (ours)</text>
<text x="3008.3" y="1659.88" font-size="15.85" font-family='"Liberation Serif", serif'><tspan text-decoration="underline">0.80</tspan> (<tspan font-family="DejaVu Math TeX Gyre, serif" font-size="15.53">±</tspan>0.04)</text>
<text x="3109.6" y="1659.88" font-size="15.85" font-family='"Liberation Serif", serif'><tspan text-decoration="underline">0.80</tspan> (<tspan font-family="DejaVu Math TeX Gyre, serif" font-size="15.53">±</tspan>0.03)</text>
<text x="3210.8" y="1659.88" font-size="15.85" font-family='"Liberation Serif", serif'><tspan>0.50</tspan> (<tspan font-family="DejaVu Math TeX Gyre, serif" font-size="15.53">±</tspan>0.06)</text>
<text x="3312.4" y="1659.88" font-size="15.85" font-family='"Liberation Serif", serif'><tspan text-decoration="underline">0.49</tspan> (<tspan font-family="DejaVu Math TeX Gyre, serif" font-size="15.53">±</tspan>0.03)</text>
<rect x="2334.37" y="1765.47" width="350.2" height="162.12" fill="#fff" stroke="#333" stroke-width="0.8"/>
<rect x="2334.37" y="1765.47" width="214.53" height="17.63" fill="#b7dba0" stroke="#333" stroke-width="0.6"/>
<rect x="2548.89" y="1765.47" width="67.1" height="17.63" fill="#b7dba0" stroke="#333" stroke-width="0.6"/>
<rect x="2615.99" y="1765.47" width="68.57" height="17.63" fill="#a9cbea" stroke="#333" stroke-width="0.6"/>
<line x1="2548.89" y1="1765.47" x2="2548.89" y2="1927.59" stroke="#333" stroke-width="0.6"/>
<line x1="2615.99" y1="1765.47" x2="2615.99" y2="1927.59" stroke="#333" stroke-width="0.6"/>
<text x="2441.63" y="1778.69" font-size="10.5" fill="#111" text-anchor="middle">Train</text>
<text x="2582.44" y="1778.69" font-size="10.5" fill="#111" text-anchor="middle">Val (OOD)</text>
<text x="2650.28" y="1778.69" font-size="10.5" fill="#111" text-anchor="middle">Test (OOD)</text>
<text x="2379.92" y="1794.37" font-size="8.2" fill="#111" text-anchor="middle"><tspan font-weight="bold">d</tspan> = Hospital 1</text>
<svg x="2350.53" y="1799.75" width="58.77" height="56.82" viewBox="15 5 117.55 113.63" preserveAspectRatio="none"><rect x="0" y="0" width="177.55" height="173.63" fill="url(#pK)"/></svg>
<svg x="2350.53" y="1864.41" width="58.77" height="57.79" viewBox="32 34 117.55 115.59" preserveAspectRatio="none"><rect x="0" y="0" width="177.55" height="175.59" fill="url(#pM)"/></svg>
<text x="2447.51" y="1794.37" font-size="8.2" fill="#111" text-anchor="middle"><tspan font-weight="bold">d</tspan> = Hospital 2</text>
<svg x="2418.12" y="1799.75" width="58.77" height="56.82" viewBox="49 13 117.55 113.63" preserveAspectRatio="none"><rect x="0" y="0" width="177.55" height="173.63" fill="url(#pL)"/></svg>
<svg x="2418.12" y="1864.41" width="58.77" height="57.79" viewBox="16 42 117.55 115.59" preserveAspectRatio="none"><rect x="0" y="0" width="177.55" height="175.59" fill="url(#pP)"/></svg>
<text x="2515.1" y="1794.37" font-size="8.2" fill="#111" text-anchor="middle"><tspan font-weight="bold">d</tspan> = Hospital 3</text>
<svg x="2485.71" y="1799.75" width="58.77" height="56.82" viewBox="33 21 117.55 113.63" preserveAspectRatio="none"><rect x="0" y="0" width="177.55" height="173.63" fill="url(#pL)"/></svg>
<svg x="2485.71" y="1864.41" width="58.77" height="57.79" viewBox="0 0 117.55 115.59" preserveAspectRatio="none"><rect x="0" y="0" width="177.55" height="175.59" fill="url(#pN)"/></svg>
<text x="2583.18" y="1794.37" font-size="8.2" fill="#111" text-anchor="middle"><tspan font-weight="bold">d</tspan> = Hospital 4</text>
<svg x="2553.79" y="1799.75" width="58.77" height="56.82" viewBox="17 29 117.55 113.63" preserveAspectRatio="none"><rect x="0" y="0" width="177.55" height="173.63" fill="url(#pO)"/></svg>
<svg x="2553.79" y="1864.41" width="58.77" height="57.79" viewBox="34 8 117.55 115.59" preserveAspectRatio="none"><rect x="0" y="0" width="177.55" height="175.59" fill="url(#pP)"/></svg>
<text x="2651.26" y="1794.37" font-size="8.2" fill="#111" text-anchor="middle"><tspan font-weight="bold">d</tspan> = Hospital 5</text>
<svg x="2621.87" y="1799.75" width="58.77" height="56.82" viewBox="1 37 117.55 113.63" preserveAspectRatio="none"><rect x="0" y="0" width="177.55" height="173.63" fill="url(#pQ)"/></svg>
<svg x="2621.87" y="1864.41" width="58.77" height="57.79" viewBox="18 16 117.55 115.59" preserveAspectRatio="none"><rect x="0" y="0" width="177.55" height="175.59" fill="url(#pR)"/></svg>
<text x="0" y="0" font-size="8.2" fill="#111" text-anchor="middle" transform="translate(2347.1 1829.14) rotate(-90)">y = Normal</text>
<text x="0" y="0" font-size="8.2" fill="#111" text-anchor="middle" transform="translate(2347.1 1893.79) rotate(-90)">y = Tumor</text>
<rect x="2692.4" y="1765.47" width="317.38" height="163.59" fill="#fff" stroke="#999" stroke-width="0.6"/>
<rect x="2692.4" y="1765.47" width="229.22" height="13.71" fill="#b7dba0" stroke="#999" stroke-width="0.5"/>
<rect x="2921.62" y="1765.47" width="88.16" height="13.71" fill="#a9cbea" stroke="#999" stroke-width="0.5"/>
<line x1="2921.62" y1="1765.47" x2="2921.62" y2="1929.06" stroke="#999" stroke-width="0.6"/>
<text x="2807.01" y="1775.26" font-size="8.2" fill="#111" text-anchor="middle">Train</text>
<text x="2965.7" y="1775.26" font-size="8.2" fill="#111" text-anchor="middle">Test (OOD)</text>
<text x="2729.63" y="1789.96" font-size="7.8" fill="#111" text-anchor="middle"><tspan font-weight="bold" font-style="italic" font-family="Liberation Serif, serif">d</tspan> = Location 1</text>
<svg x="2698.28" y="1795.84" width="62.69" height="47.02" viewBox="0 0 100 100" preserveAspectRatio="none"><g filter="url(#bl)">
<rect x="-20" y="-20" width="140" height="140" fill="#e6e6e6"/>
<polygon points="0,30 20,18 40,12 55,22 70,8 85,20 100,14 100,100 0,100" fill="#8a8a8a"/>
<ellipse cx="23.8" cy="44.49" rx="6.22" ry="7.62" fill="#5a5a5a" fill-opacity="0.6" transform="rotate(80 23.8 44.49)"/>
<ellipse cx="58.09" cy="47.25" rx="9.45" ry="6.82" fill="#a8a8a8" fill-opacity="0.6" transform="rotate(70 58.09 47.25)"/>
<ellipse cx="23.43" cy="64.8" rx="6.82" ry="9.02" fill="#6e6e6e" fill-opacity="0.6" transform="rotate(60 23.43 64.8)"/>
<ellipse cx="39.71" cy="58.75" rx="5.39" ry="4.91" fill="#5a5a5a" fill-opacity="0.6" transform="rotate(66 39.71 58.75)"/>
<ellipse cx="38.99" cy="20.68" rx="8.66" ry="4.96" fill="#a8a8a8" fill-opacity="0.6" transform="rotate(75 38.99 20.68)"/>
<ellipse cx="4.28" cy="55.1" rx="8.94" ry="5.62" fill="#6e6e6e" fill-opacity="0.6" transform="rotate(76 4.28 55.1)"/>
<ellipse cx="71.88" cy="59.55" rx="8.28" ry="9.53" fill="#5a5a5a" fill-opacity="0.6" transform="rotate(50 71.88 59.55)"/>
<ellipse cx="72.81" cy="45.96" rx="9.78" ry="4.8" fill="#a8a8a8" fill-opacity="0.6" transform="rotate(46 72.81 45.96)"/>
<ellipse cx="9.75" cy="26.12" rx="5.3" ry="9.79" fill="#6e6e6e" fill-opacity="0.6" transform="rotate(55 9.75 26.12)"/>
<ellipse cx="77.9" cy="58.49" rx="6.53" ry="9" fill="#5a5a5a" fill-opacity="0.6" transform="rotate(73 77.9 58.49)"/>
<ellipse cx="35.09" cy="46.33" rx="7.51" ry="9.43" fill="#a8a8a8" fill-opacity="0.6" transform="rotate(87 35.09 46.33)"/>
<ellipse cx="91.57" cy="21.29" rx="5.68" ry="7.63" fill="#6e6e6e" fill-opacity="0.6" transform="rotate(89 91.57 21.29)"/>
<ellipse cx="16.31" cy="58.73" rx="9.79" ry="9.43" fill="#5a5a5a" fill-opacity="0.6" transform="rotate(72 16.31 58.73)"/>
<ellipse cx="10.41" cy="49.5" rx="7.8" ry="9.93" fill="#a8a8a8" fill-opacity="0.6" transform="rotate(34 10.41 49.5)"/>
<ellipse cx="28.5" cy="22.86" rx="9.12" ry="9.94" fill="#6e6e6e" fill-opacity="0.6" transform="rotate(11 28.5 22.86)"/>
<ellipse cx="34.41" cy="23" rx="9.38" ry="4.12" fill="#5a5a5a" fill-opacity="0.6" transform="rotate(54 34.41 23)"/>
<ellipse cx="76.88" cy="59.27" rx="4.27" ry="7.69" fill="#a8a8a8" fill-opacity="0.6" transform="rotate(5 76.88 59.27)"/>
<ellipse cx="37.78" cy="46.39" rx="7.31" ry="9.53" fill="#6e6e6e" fill-opacity="0.6" transform="rotate(35 37.78 46.39)"/>
<rect x="-5" y="66" width="110" height="40" fill="#4a4a4a"/>
<rect x="40" y="68" width="65" height="8" fill="#9a9a9a" fill-opacity="0.8"/>
<ellipse cx="12" cy="84" rx="9" ry="10" fill="#0e0e0e"/>
<ellipse cx="30" cy="82" rx="9" ry="10" fill="#0e0e0e"/>
<ellipse cx="55" cy="86" rx="9" ry="10" fill="#0e0e0e"/>
</g>
<rect x="0" y="0" width="100" height="2.2" fill="#1a1a1a"/><rect x="0" y="97.8" width="100" height="2.2" fill="#1a1a1a"/>
</svg>
<svg x="2698.28" y="1861.47" width="62.69" height="47.51" viewBox="0 0 100 100" preserveAspectRatio="none"><g filter="url(#bl)">
<rect x="-20" y="-20" width="140" height="140" fill="#8a8a8a"/>
<polygon points="0,0 45,0 30,40 0,60" fill="#e4e4e4"/>
<polygon points="60,0 100,0 100,50 80,60 70,20" fill="#d0d0d0"/>
<polygon points="20,100 35,40 55,30 75,60 90,100" fill="#6a6a6a"/>
<polygon points="0,100 10,60 28,70 22,100" fill="#3a3a3a"/>
<polygon points="78,0 88,0 92,80 84,85" fill="#2a2a2a"/>
<rect x="-5" y="85" width="110" height="20" fill="#555555" fill-opacity="0.8"/>
</g>
<rect x="0" y="0" width="100" height="2.2" fill="#1a1a1a"/><rect x="0" y="97.8" width="100" height="2.2" fill="#1a1a1a"/>
</svg>
<text x="2729.63" y="1850.2" font-size="6.6" fill="#222" text-anchor="middle">Vulturine</text>
<text x="2729.63" y="1858.53" font-size="6.6" fill="#222" text-anchor="middle">Guineafowl</text>
<text x="2729.63" y="1916.81" font-size="6.6" fill="#222" text-anchor="middle">Cow</text>
<text x="2802.11" y="1789.96" font-size="7.8" fill="#111" text-anchor="middle"><tspan font-weight="bold" font-style="italic" font-family="Liberation Serif, serif">d</tspan> = Location 2</text>
<svg x="2770.77" y="1795.84" width="62.69" height="47.02" viewBox="0 0 100 100" preserveAspectRatio="none"><g filter="url(#bl)">
<rect x="-20" y="-20" width="140" height="140" fill="#86b4df"/>
<ellipse cx="30" cy="10" rx="12" ry="3" fill="#e8f0f8" fill-opacity="0.8"/>
<ellipse cx="70" cy="14" rx="14" ry="3" fill="#e8f0f8" fill-opacity="0.7"/>
<rect x="-5" y="42" width="110" height="12" fill="#8a9a7a"/>
<rect x="-5" y="52" width="110" height="60" fill="#b3a478"/>
<ellipse cx="62.29" cy="88.19" rx="6.98" ry="7.71" fill="#a8986c" fill-opacity="0.6" transform="rotate(83 62.29 88.19)"/>
<ellipse cx="92.23" cy="61.1" rx="5.33" ry="7.72" fill="#c0b288" fill-opacity="0.6" transform="rotate(83 92.23 61.1)"/>
<ellipse cx="5.19" cy="65.96" rx="4.86" ry="7.34" fill="#a8986c" fill-opacity="0.6" transform="rotate(48 5.19 65.96)"/>
<ellipse cx="54.38" cy="81.81" rx="3.07" ry="4.08" fill="#c0b288" fill-opacity="0.6" transform="rotate(35 54.38 81.81)"/>
<ellipse cx="18.21" cy="92.96" rx="4.95" ry="6.81" fill="#a8986c" fill-opacity="0.6" transform="rotate(9 18.21 92.96)"/>
<ellipse cx="13.88" cy="83.46" rx="3.63" ry="3.01" fill="#c0b288" fill-opacity="0.6"/>
<ellipse cx="20.95" cy="68.19" rx="7.91" ry="7.36" fill="#a8986c" fill-opacity="0.6" transform="rotate(37 20.95 68.19)"/>
<ellipse cx="31.37" cy="67.56" rx="7.38" ry="6.13" fill="#c0b288" fill-opacity="0.6" transform="rotate(23 31.37 67.56)"/>
<ellipse cx="94.1" cy="86.24" rx="7.83" ry="7.47" fill="#a8986c" fill-opacity="0.6" transform="rotate(38 94.1 86.24)"/>
<ellipse cx="2.16" cy="75.77" rx="7.68" ry="4.32" fill="#c0b288" fill-opacity="0.6" transform="rotate(42 2.16 75.77)"/>
<ellipse cx="30.14" cy="82.92" rx="3.02" ry="6.39" fill="#a8986c" fill-opacity="0.6" transform="rotate(43 30.14 82.92)"/>
<ellipse cx="6.6" cy="73.5" rx="4.53" ry="6.48" fill="#c0b288" fill-opacity="0.6" transform="rotate(23 6.6 73.5)"/>
<ellipse cx="48.12" cy="86.78" rx="3.29" ry="7.88" fill="#a8986c" fill-opacity="0.6" transform="rotate(2 48.12 86.78)"/>
<ellipse cx="94.92" cy="73.59" rx="5.02" ry="5.75" fill="#c0b288" fill-opacity="0.6" transform="rotate(53 94.92 73.59)"/>
<ellipse cx="14" cy="46" rx="12" ry="17" fill="#65584a"/>
<ellipse cx="63" cy="46" rx="16" ry="16" fill="#65584a"/>
<ellipse cx="92" cy="48" rx="9" ry="16" fill="#65584a"/>
<ellipse cx="42" cy="54" rx="9" ry="9" fill="#65584a"/>
<ellipse cx="32" cy="52" rx="5" ry="7" fill="#65584a"/>
<rect x="8" y="55" width="4" height="14" fill="#5a4e42"/>
<rect x="18" y="55" width="4" height="14" fill="#5a4e42"/>
<rect x="54" y="55" width="4" height="14" fill="#5a4e42"/>
<rect x="70" y="55" width="4" height="14" fill="#5a4e42"/>
<rect x="90" y="55" width="4" height="14" fill="#5a4e42"/>
</g>
<rect x="0" y="0" width="100" height="2.2" fill="#1a1a1a"/><rect x="0" y="97.8" width="100" height="2.2" fill="#1a1a1a"/>
</svg>
<svg x="2770.77" y="1861.47" width="62.69" height="47.51" viewBox="0 0 100 100" preserveAspectRatio="none"><g filter="url(#bl)">
<rect x="-20" y="-20" width="140" height="140" fill="#7fb0e0"/>
<ellipse cx="25" cy="18" rx="10" ry="3" fill="#eef4fa" fill-opacity="0.8"/>
<ellipse cx="65" cy="22" rx="9" ry="3" fill="#eef4fa" fill-opacity="0.8"/>
<ellipse cx="90" cy="15" rx="7" ry="2.5" fill="#eef4fa" fill-opacity="0.8"/>
<rect x="-5" y="33" width="110" height="12" fill="#6f8f62"/>
<rect x="-5" y="44" width="110" height="12" fill="#a9b0b0"/>
<rect x="-5" y="55" width="110" height="50" fill="#b3a476"/>
<ellipse cx="45.24" cy="82.15" rx="7.62" ry="5.33" fill="#a7986a" fill-opacity="0.6" transform="rotate(65 45.24 82.15)"/>
<ellipse cx="85.5" cy="68.84" rx="7.02" ry="5.38" fill="#c2b48a" fill-opacity="0.6" transform="rotate(78 85.5 68.84)"/>
<ellipse cx="79.3" cy="65.39" rx="4.52" ry="3.45" fill="#a7986a" fill-opacity="0.6" transform="rotate(88 79.3 65.39)"/>
<ellipse cx="63.45" cy="83.44" rx="4.98" ry="5.26" fill="#c2b48a" fill-opacity="0.6" transform="rotate(78 63.45 83.44)"/>
<ellipse cx="65.01" cy="84.43" rx="7.16" ry="3.32" fill="#a7986a" fill-opacity="0.6" transform="rotate(4 65.01 84.43)"/>
<ellipse cx="19.02" cy="70.71" rx="3.15" ry="5.32" fill="#c2b48a" fill-opacity="0.6" transform="rotate(56 19.02 70.71)"/>
<ellipse cx="59.1" cy="69.03" rx="4.17" ry="4.47" fill="#a7986a" fill-opacity="0.6"/>
<ellipse cx="66.24" cy="78.46" rx="4.39" ry="7.99" fill="#c2b48a" fill-opacity="0.6" transform="rotate(10 66.24 78.46)"/>
<ellipse cx="70.78" cy="73.35" rx="4.15" ry="4.45" fill="#a7986a" fill-opacity="0.6" transform="rotate(8 70.78 73.35)"/>
<ellipse cx="56.31" cy="65.89" rx="3.54" ry="4.45" fill="#c2b48a" fill-opacity="0.6" transform="rotate(8 56.31 65.89)"/>
<ellipse cx="95.8" cy="92.5" rx="3" ry="4.05" fill="#a7986a" fill-opacity="0.6" transform="rotate(6 95.8 92.5)"/>
<ellipse cx="47" cy="97.29" rx="4.99" ry="3.37" fill="#c2b48a" fill-opacity="0.6" transform="rotate(80 47 97.29)"/>
<ellipse cx="12" cy="53" rx="5.5" ry="3.5" fill="#a06a4a"/>
<ellipse cx="22" cy="53" rx="5.5" ry="3.5" fill="#a87a5a"/>
<ellipse cx="38" cy="53" rx="5.5" ry="3.5" fill="#e6dcc8"/>
<ellipse cx="50" cy="53" rx="5.5" ry="3.5" fill="#e6dcc8"/>
<ellipse cx="62" cy="53" rx="5.5" ry="3.5" fill="#c8b8a0"/>
<ellipse cx="76" cy="53" rx="5.5" ry="3.5" fill="#a06a4a"/>
<ellipse cx="88" cy="53" rx="5.5" ry="3.5" fill="#b08a6a"/>
</g>
<rect x="0" y="0" width="100" height="2.2" fill="#1a1a1a"/><rect x="0" y="97.8" width="100" height="2.2" fill="#1a1a1a"/>
</svg>
<text x="2802.11" y="1850.2" font-size="6.6" fill="#222" text-anchor="middle">African Bush</text>
<text x="2802.11" y="1858.53" font-size="6.6" fill="#222" text-anchor="middle">Elephant</text>
<text x="2802.11" y="1916.81" font-size="6.6" fill="#222" text-anchor="middle">Cow</text>
<text x="2882.44" y="1789.96" font-size="7.8" fill="#111" text-anchor="middle"><tspan font-weight="bold" font-style="italic" font-family="Liberation Serif, serif">d</tspan> = Location 245</text>
<svg x="2851.09" y="1795.84" width="62.69" height="47.02" viewBox="0 0 100 100" preserveAspectRatio="none"><g filter="url(#bl)">
<rect x="-20" y="-20" width="140" height="140" fill="#16262b"/>
<ellipse cx="32.38" cy="15.08" rx="10.86" ry="5.65" fill="#0c1619" fill-opacity="0.7" transform="rotate(68 32.38 15.08)"/>
<ellipse cx="9.41" cy="58.28" rx="13.19" ry="6.93" fill="#24383d" fill-opacity="0.7" transform="rotate(11 9.41 58.28)"/>
<ellipse cx="43.36" cy="6.99" rx="5.82" ry="8.82" fill="#2f4a40" fill-opacity="0.7" transform="rotate(72 43.36 6.99)"/>
<ellipse cx="12.38" cy="22.32" rx="10.65" ry="13.53" fill="#0c1619" fill-opacity="0.7" transform="rotate(73 12.38 22.32)"/>
<ellipse cx="58.55" cy="4.96" rx="6.99" ry="10.01" fill="#24383d" fill-opacity="0.7" transform="rotate(17 58.55 4.96)"/>
<ellipse cx="28.96" cy="14.43" rx="6.06" ry="7.78" fill="#2f4a40" fill-opacity="0.7" transform="rotate(87 28.96 14.43)"/>
<ellipse cx="18.07" cy="58.16" rx="10.75" ry="8.35" fill="#0c1619" fill-opacity="0.7" transform="rotate(70 18.07 58.16)"/>
<ellipse cx="71.21" cy="56.44" rx="10.57" ry="9.47" fill="#24383d" fill-opacity="0.7" transform="rotate(68 71.21 56.44)"/>
<ellipse cx="42.76" cy="31.41" rx="10.27" ry="9.08" fill="#2f4a40" fill-opacity="0.7" transform="rotate(38 42.76 31.41)"/>
<ellipse cx="24.84" cy="17.98" rx="12.02" ry="5.74" fill="#0c1619" fill-opacity="0.7" transform="rotate(38 24.84 17.98)"/>
<ellipse cx="52.52" cy="87.51" rx="11.57" ry="7.59" fill="#24383d" fill-opacity="0.7" transform="rotate(9 52.52 87.51)"/>
<ellipse cx="11.81" cy="41.81" rx="11.81" ry="6.37" fill="#2f4a40" fill-opacity="0.7" transform="rotate(62 11.81 41.81)"/>
<ellipse cx="42.17" cy="96.2" rx="5.7" ry="10.02" fill="#0c1619" fill-opacity="0.7" transform="rotate(40 42.17 96.2)"/>
<ellipse cx="34.01" cy="35.02" rx="9.47" ry="12.17" fill="#24383d" fill-opacity="0.7" transform="rotate(8 34.01 35.02)"/>
<rect x="12" y="-5" width="6" height="80" fill="#0b1416" fill-opacity="0.8"/>
<rect x="45" y="-5" width="6" height="80" fill="#0b1416" fill-opacity="0.8"/>
<rect x="82" y="-5" width="6" height="80" fill="#0b1416" fill-opacity="0.8"/>
<ellipse cx="31" cy="35" rx="12" ry="14" fill="#9fb0b0" fill-opacity="0.5"/>
<ellipse cx="31" cy="35" rx="5" ry="6" fill="#ffffff"/>
<polygon points="52,24 62,30 64,42 56,38" fill="#a5e03c"/>
<rect x="-5" y="75" width="110" height="30" fill="#0d1a1e" fill-opacity="0.8"/>
</g>
<rect x="0" y="0" width="100" height="2.2" fill="#1a1a1a"/><rect x="0" y="97.8" width="100" height="2.2" fill="#1a1a1a"/>
</svg>
<svg x="2851.09" y="1861.47" width="62.69" height="47.51" viewBox="0 0 100 100" preserveAspectRatio="none"><g filter="url(#bl)">
<rect x="-20" y="-20" width="140" height="140" fill="#6f8a58"/>
<ellipse cx="25.9" cy="47.97" rx="9.47" ry="10.79" fill="#dcebc4" fill-opacity="0.75" transform="rotate(23 25.9 47.97)"/>
<ellipse cx="65.2" cy="46.63" rx="10.95" ry="9.13" fill="#a7c68a" fill-opacity="0.75" transform="rotate(23 65.2 46.63)"/>
<ellipse cx="13.02" cy="37.19" rx="5.71" ry="6.36" fill="#eaf3dc" fill-opacity="0.75" transform="rotate(55 13.02 37.19)"/>
<ellipse cx="12.63" cy="47.89" rx="11.98" ry="11.94" fill="#dcebc4" fill-opacity="0.75" transform="rotate(18 12.63 47.89)"/>
<ellipse cx="8.5" cy="55.59" rx="11.11" ry="6.1" fill="#a7c68a" fill-opacity="0.75" transform="rotate(57 8.5 55.59)"/>
<ellipse cx="74.48" cy="66.45" rx="10.35" ry="6.05" fill="#eaf3dc" fill-opacity="0.75" transform="rotate(29 74.48 66.45)"/>
<ellipse cx="48.68" cy="52.85" rx="8.51" ry="7.44" fill="#dcebc4" fill-opacity="0.75" transform="rotate(46 48.68 52.85)"/>
<ellipse cx="88.86" cy="44.71" rx="9.24" ry="6.77" fill="#a7c68a" fill-opacity="0.75" transform="rotate(76 88.86 44.71)"/>
<ellipse cx="79.83" cy="69" rx="9.53" ry="8.43" fill="#eaf3dc" fill-opacity="0.75" transform="rotate(17 79.83 69)"/>
<ellipse cx="44.04" cy="51.03" rx="8.29" ry="6.35" fill="#dcebc4" fill-opacity="0.75" transform="rotate(22 44.04 51.03)"/>
<ellipse cx="52.27" cy="17.73" rx="7.68" ry="8.84" fill="#a7c68a" fill-opacity="0.75" transform="rotate(50 52.27 17.73)"/>
<ellipse cx="88.93" cy="40.4" rx="8.4" ry="8.52" fill="#eaf3dc" fill-opacity="0.75" transform="rotate(24 88.93 40.4)"/>
<ellipse cx="70.15" cy="9.18" rx="7.44" ry="9.03" fill="#dcebc4" fill-opacity="0.75" transform="rotate(59 70.15 9.18)"/>
<ellipse cx="38.97" cy="50.32" rx="11.46" ry="4.35" fill="#a7c68a" fill-opacity="0.75" transform="rotate(18 38.97 50.32)"/>
<ellipse cx="49.8" cy="48.87" rx="7.56" ry="6.03" fill="#eaf3dc" fill-opacity="0.75" transform="rotate(52 49.8 48.87)"/>
<ellipse cx="73.63" cy="17.59" rx="10.08" ry="6.8" fill="#dcebc4" fill-opacity="0.75" transform="rotate(90 73.63 17.59)"/>
<ellipse cx="85.37" cy="26.23" rx="9.73" ry="5.1" fill="#a7c68a" fill-opacity="0.75" transform="rotate(90 85.37 26.23)"/>
<ellipse cx="60.35" cy="50.59" rx="5.69" ry="8.94" fill="#eaf3dc" fill-opacity="0.75" transform="rotate(74 60.35 50.59)"/>
<rect x="14" y="-5" width="5" height="90" fill="#3a3022" fill-opacity="0.9"/>
<rect x="26" y="-5" width="3" height="90" fill="#3a3022" fill-opacity="0.9"/>
<rect x="50" y="-5" width="6" height="90" fill="#3a3022" fill-opacity="0.9"/>
<rect x="78" y="-5" width="5" height="90" fill="#3a3022" fill-opacity="0.9"/>
<rect x="90" y="-5" width="4" height="90" fill="#3a3022" fill-opacity="0.9"/>
<rect x="-5" y="78" width="110" height="30" fill="#2b2330" fill-opacity="0.85"/>
<ellipse cx="97.91" cy="70.35" rx="7.68" ry="4.79" fill="#6a5a7a" fill-opacity="0.7" transform="rotate(30 97.91 70.35)"/>
<ellipse cx="41.01" cy="96.38" rx="7.41" ry="8.29" fill="#8a7a6a" fill-opacity="0.7" transform="rotate(47 41.01 96.38)"/>
<ellipse cx="54.38" cy="80.14" rx="7.54" ry="5.4" fill="#4a3a4a" fill-opacity="0.7" transform="rotate(33 54.38 80.14)"/>
<ellipse cx="60.66" cy="98.05" rx="5.03" ry="5.78" fill="#6a5a7a" fill-opacity="0.7" transform="rotate(40 60.66 98.05)"/>
<ellipse cx="53.4" cy="97.75" rx="6.56" ry="5.16" fill="#8a7a6a" fill-opacity="0.7" transform="rotate(58 53.4 97.75)"/>
<ellipse cx="90.44" cy="84.69" rx="6.31" ry="8" fill="#4a3a4a" fill-opacity="0.7" transform="rotate(56 90.44 84.69)"/>
<ellipse cx="74.18" cy="97.91" rx="7.23" ry="6.03" fill="#6a5a7a" fill-opacity="0.7" transform="rotate(8 74.18 97.91)"/>
<ellipse cx="69.42" cy="98.35" rx="4.09" ry="4.7" fill="#8a7a6a" fill-opacity="0.7" transform="rotate(22 69.42 98.35)"/>
</g>
<rect x="0" y="0" width="100" height="2.2" fill="#1a1a1a"/><rect x="0" y="97.8" width="100" height="2.2" fill="#1a1a1a"/>
</svg>
<text x="2882.44" y="1850.2" font-size="6.6" fill="#222" text-anchor="middle">unknown</text>
<text x="2882.44" y="1916.81" font-size="6.6" fill="#222" text-anchor="middle">Southern Pig-Tailed</text>
<text x="2882.44" y="1925.14" font-size="6.6" fill="#222" text-anchor="middle">Macaque</text>
<text x="2959.34" y="1789.96" font-size="7.8" fill="#111" text-anchor="middle"><tspan font-weight="bold" font-style="italic" font-family="Liberation Serif, serif">d</tspan> = Location 246</text>
<svg x="2927.99" y="1795.84" width="62.69" height="47.02" viewBox="0 0 100 100" preserveAspectRatio="none"><g filter="url(#bl)">
<rect x="-20" y="-20" width="140" height="140" fill="#6f7d3c"/>
<polygon points="0,0 60,0 30,40 0,45" fill="#222f16"/>
<polygon points="50,0 100,0 100,40 70,35" fill="#3f5a25"/>
<ellipse cx="46.3" cy="59.27" rx="2.69" ry="6.33" fill="#c9c6a0" fill-opacity="0.75"/>
<ellipse cx="33.83" cy="65.14" rx="5.02" ry="3.67" fill="#8a7d55" fill-opacity="0.75" transform="rotate(78 33.83 65.14)"/>
<ellipse cx="70.01" cy="82.33" rx="2.85" ry="6.73" fill="#9ab04a" fill-opacity="0.75" transform="rotate(54 70.01 82.33)"/>
<ellipse cx="15.72" cy="50.47" rx="2.55" ry="4.53" fill="#4f5f2a" fill-opacity="0.75" transform="rotate(75 15.72 50.47)"/>
<ellipse cx="6.33" cy="79.75" rx="5.95" ry="6.44" fill="#c9c6a0" fill-opacity="0.75" transform="rotate(37 6.33 79.75)"/>
<ellipse cx="20.5" cy="49.58" rx="5.96" ry="6.45" fill="#8a7d55" fill-opacity="0.75" transform="rotate(34 20.5 49.58)"/>
<ellipse cx="91.14" cy="60.78" rx="3.71" ry="2.22" fill="#9ab04a" fill-opacity="0.75" transform="rotate(90 91.14 60.78)"/>
<ellipse cx="88.64" cy="92.16" rx="2.27" ry="3.89" fill="#4f5f2a" fill-opacity="0.75" transform="rotate(62 88.64 92.16)"/>
<ellipse cx="13.91" cy="50.39" rx="5.68" ry="6.25" fill="#c9c6a0" fill-opacity="0.75" transform="rotate(76 13.91 50.39)"/>
<ellipse cx="0.39" cy="84.68" rx="2.99" ry="6.26" fill="#8a7d55" fill-opacity="0.75" transform="rotate(42 0.39 84.68)"/>
<ellipse cx="0.83" cy="40.43" rx="4.7" ry="2.09" fill="#9ab04a" fill-opacity="0.75" transform="rotate(10 0.83 40.43)"/>
<ellipse cx="57.3" cy="69.94" rx="2.99" ry="2.34" fill="#4f5f2a" fill-opacity="0.75" transform="rotate(24 57.3 69.94)"/>
<ellipse cx="63.87" cy="41.07" rx="4.9" ry="2.86" fill="#c9c6a0" fill-opacity="0.75" transform="rotate(77 63.87 41.07)"/>
<ellipse cx="71.96" cy="37.68" rx="3.35" ry="5.42" fill="#8a7d55" fill-opacity="0.75" transform="rotate(19 71.96 37.68)"/>
<ellipse cx="74.51" cy="82.9" rx="4.88" ry="2.17" fill="#9ab04a" fill-opacity="0.75" transform="rotate(90 74.51 82.9)"/>
<ellipse cx="40.24" cy="93.9" rx="2.81" ry="4.52" fill="#4f5f2a" fill-opacity="0.75" transform="rotate(46 40.24 93.9)"/>
<ellipse cx="84.57" cy="68.93" rx="4.83" ry="5.44" fill="#c9c6a0" fill-opacity="0.75" transform="rotate(44 84.57 68.93)"/>
<ellipse cx="11" cy="92.31" rx="3.83" ry="3.05" fill="#8a7d55" fill-opacity="0.75" transform="rotate(25 11 92.31)"/>
<ellipse cx="98.61" cy="72.34" rx="2.09" ry="6" fill="#9ab04a" fill-opacity="0.75" transform="rotate(42 98.61 72.34)"/>
<ellipse cx="0.06" cy="42.26" rx="3.11" ry="3.35" fill="#4f5f2a" fill-opacity="0.75" transform="rotate(11 0.06 42.26)"/>
<ellipse cx="30.72" cy="53.52" rx="4.59" ry="2.28" fill="#c9c6a0" fill-opacity="0.75" transform="rotate(48 30.72 53.52)"/>
<ellipse cx="78.07" cy="87.49" rx="4.49" ry="5.55" fill="#8a7d55" fill-opacity="0.75" transform="rotate(31 78.07 87.49)"/>
<ellipse cx="56.6" cy="39.31" rx="5.24" ry="2.48" fill="#9ab04a" fill-opacity="0.75" transform="rotate(51 56.6 39.31)"/>
<ellipse cx="50.99" cy="97.13" rx="4.8" ry="2.7" fill="#4f5f2a" fill-opacity="0.75" transform="rotate(37 50.99 97.13)"/>
<ellipse cx="17.11" cy="89.81" rx="3.29" ry="2.25" fill="#c9c6a0" fill-opacity="0.75" transform="rotate(22 17.11 89.81)"/>
<ellipse cx="26.3" cy="45.67" rx="2.6" ry="2.74" fill="#8a7d55" fill-opacity="0.75" transform="rotate(6 26.3 45.67)"/>
<polyline points="30,0 36,45" fill="none" stroke="#2a1f14" stroke-width="3"/>
</g>
<rect x="0" y="0" width="100" height="2.2" fill="#1a1a1a"/><rect x="0" y="97.8" width="100" height="2.2" fill="#1a1a1a"/>
</svg>
<svg x="2927.99" y="1861.47" width="62.69" height="47.51" viewBox="0 0 100 100" preserveAspectRatio="none"><g filter="url(#bl)">
<rect x="-20" y="-20" width="140" height="140" fill="#8c7c58"/>
<rect x="-5" y="-5" width="110" height="28" fill="#4f7a35"/>
<ellipse cx="52.2" cy="28.23" rx="9.8" ry="6.45" fill="#3f6a2a" fill-opacity="0.7" transform="rotate(90 52.2 28.23)"/>
<ellipse cx="70.42" cy="23.15" rx="5.55" ry="5.13" fill="#6f9a45" fill-opacity="0.7" transform="rotate(49 70.42 23.15)"/>
<ellipse cx="81.52" cy="14.68" rx="9.3" ry="9.01" fill="#3f6a2a" fill-opacity="0.7" transform="rotate(81 81.52 14.68)"/>
<ellipse cx="84.63" cy="33.08" rx="7.01" ry="9.99" fill="#6f9a45" fill-opacity="0.7" transform="rotate(7 84.63 33.08)"/>
<ellipse cx="13.99" cy="27.71" rx="5.98" ry="9.41" fill="#3f6a2a" fill-opacity="0.7" transform="rotate(68 13.99 27.71)"/>
<ellipse cx="55.89" cy="33.43" rx="6.05" ry="7.7" fill="#6f9a45" fill-opacity="0.7" transform="rotate(81 55.89 33.43)"/>
<ellipse cx="6.92" cy="14.34" rx="7.54" ry="9.29" fill="#3f6a2a" fill-opacity="0.7" transform="rotate(81 6.92 14.34)"/>
<ellipse cx="99.63" cy="4.96" rx="9.06" ry="9.07" fill="#6f9a45" fill-opacity="0.7" transform="rotate(43 99.63 4.96)"/>
<ellipse cx="1.78" cy="13.03" rx="5.26" ry="8.76" fill="#3f6a2a" fill-opacity="0.7" transform="rotate(45 1.78 13.03)"/>
<ellipse cx="5.03" cy="16.7" rx="7.9" ry="5.03" fill="#6f9a45" fill-opacity="0.7" transform="rotate(51 5.03 16.7)"/>
<ellipse cx="67.71" cy="86.02" rx="4.08" ry="4.05" fill="#b5a57a" fill-opacity="0.7" transform="rotate(50 67.71 86.02)"/>
<ellipse cx="34.72" cy="69.4" rx="4.34" ry="4.38" fill="#6a5a3a" fill-opacity="0.7" transform="rotate(13 34.72 69.4)"/>
<ellipse cx="26.04" cy="56.28" rx="3.07" ry="2.43" fill="#a08a5a" fill-opacity="0.7" transform="rotate(41 26.04 56.28)"/>
<ellipse cx="89.72" cy="36.49" rx="4.47" ry="5.52" fill="#7a8a4a" fill-opacity="0.7" transform="rotate(25 89.72 36.49)"/>
<ellipse cx="11.39" cy="64.61" rx="5.46" ry="2.29" fill="#b5a57a" fill-opacity="0.7" transform="rotate(12 11.39 64.61)"/>
<ellipse cx="41.44" cy="41.46" rx="4.91" ry="5.02" fill="#6a5a3a" fill-opacity="0.7" transform="rotate(50 41.44 41.46)"/>
<ellipse cx="44.03" cy="99.3" rx="4.28" ry="4.01" fill="#a08a5a" fill-opacity="0.7" transform="rotate(20 44.03 99.3)"/>
<ellipse cx="79.2" cy="97" rx="2.93" ry="4.18" fill="#7a8a4a" fill-opacity="0.7" transform="rotate(13 79.2 97)"/>
<ellipse cx="80.15" cy="60.37" rx="2.55" ry="4.51" fill="#b5a57a" fill-opacity="0.7" transform="rotate(13 80.15 60.37)"/>
<ellipse cx="54.72" cy="64.77" rx="5.83" ry="5.62" fill="#6a5a3a" fill-opacity="0.7" transform="rotate(76 54.72 64.77)"/>
<ellipse cx="11.98" cy="66.21" rx="4" ry="3.48" fill="#a08a5a" fill-opacity="0.7" transform="rotate(69 11.98 66.21)"/>
<ellipse cx="86.61" cy="92.88" rx="2.98" ry="2.1" fill="#7a8a4a" fill-opacity="0.7" transform="rotate(48 86.61 92.88)"/>
<ellipse cx="45.18" cy="78.93" rx="4.61" ry="5.74" fill="#b5a57a" fill-opacity="0.7" transform="rotate(60 45.18 78.93)"/>
<ellipse cx="28.37" cy="61.22" rx="4.94" ry="3.84" fill="#6a5a3a" fill-opacity="0.7" transform="rotate(38 28.37 61.22)"/>
<ellipse cx="30.83" cy="84.76" rx="2.31" ry="3.25" fill="#a08a5a" fill-opacity="0.7" transform="rotate(53 30.83 84.76)"/>
<ellipse cx="10.13" cy="39.32" rx="4.02" ry="4.63" fill="#7a8a4a" fill-opacity="0.7" transform="rotate(2 10.13 39.32)"/>
<ellipse cx="17.52" cy="77.18" rx="2.3" ry="2.51" fill="#b5a57a" fill-opacity="0.7" transform="rotate(55 17.52 77.18)"/>
<ellipse cx="28.58" cy="65.36" rx="2.45" ry="4.48" fill="#6a5a3a" fill-opacity="0.7" transform="rotate(87 28.58 65.36)"/>
<ellipse cx="81.08" cy="62.88" rx="5.78" ry="2.61" fill="#a08a5a" fill-opacity="0.7" transform="rotate(49 81.08 62.88)"/>
<ellipse cx="62.08" cy="53.84" rx="4.55" ry="2.16" fill="#7a8a4a" fill-opacity="0.7" transform="rotate(69 62.08 53.84)"/>
<ellipse cx="58.89" cy="97.3" rx="2.84" ry="4.04" fill="#b5a57a" fill-opacity="0.7" transform="rotate(7 58.89 97.3)"/>
<ellipse cx="2.46" cy="53.26" rx="5.42" ry="2.26" fill="#6a5a3a" fill-opacity="0.7" transform="rotate(37 2.46 53.26)"/>
<ellipse cx="46" cy="55" rx="21" ry="20" fill="#0f120f"/>
<polygon points="55,45 75,25 85,28 70,55" fill="#0f120f"/>
<ellipse cx="80" cy="30" rx="6" ry="6" fill="#0f120f"/>
<ellipse cx="87" cy="33" rx="2" ry="2" fill="#e8d020"/>
<polygon points="40,70 46,72 44,95 41,95" fill="#1a1a14"/>
<ellipse cx="32" cy="68" rx="7" ry="9" fill="#e8e4d0"/>
</g>
<rect x="0" y="0" width="100" height="2.2" fill="#1a1a1a"/><rect x="0" y="97.8" width="100" height="2.2" fill="#1a1a1a"/>
</svg>
<text x="2959.34" y="1850.2" font-size="6.6" fill="#222" text-anchor="middle">Wild Horse</text>
<text x="2959.34" y="1916.81" font-size="6.6" fill="#222" text-anchor="middle">Great Curassow</text>
<text x="2843.26" y="1852.65" font-size="8" fill="#333" text-anchor="middle">…</text>
<text x="3000.97" y="1852.65" font-size="8" fill="#333" text-anchor="middle">…</text>
<rect x="3047.99" y="1763.51" width="214.53" height="16.65" fill="#b7dba0" stroke="#555" stroke-width="0.6"/>
<rect x="3262.51" y="1763.51" width="143.51" height="16.65" fill="#a9cbea" stroke="#555" stroke-width="0.6"/>
<rect x="3016.64" y="1780.16" width="389.38" height="147.43" fill="#fff" stroke="#555" stroke-width="0.7"/>
<line x1="3047.99" y1="1780.16" x2="3047.99" y2="1927.59" stroke="#555" stroke-width="0.6"/>
<line x1="3262.51" y1="1780.16" x2="3262.51" y2="1927.59" stroke="#555" stroke-width="0.6"/>
<line x1="3016.64" y1="1852.16" x2="3406.02" y2="1852.16" stroke="#555" stroke-width="0.6"/>
<line x1="3016.64" y1="1901.63" x2="3406.02" y2="1901.63" stroke="#555" stroke-width="0.6"/>
<text x="3155.25" y="1776.24" font-size="9.5" fill="#111" text-anchor="middle">Train</text>
<text x="3334.27" y="1776.24" font-size="9.5" fill="#111" text-anchor="middle">Test</text>
<svg x="3047.99" y="1780.16" width="71.51" height="72" viewBox="0 0 100 100" preserveAspectRatio="none"><g filter="url(#bl2)">
<rect x="-20" y="-20" width="140" height="140" fill="#5f4e44"/>
<ellipse cx="16.49" cy="68.98" rx="13.62" ry="11.75" fill="#3f322c" fill-opacity="0.55" transform="rotate(27 16.49 68.98)"/>
<ellipse cx="98.97" cy="47.46" rx="17.56" ry="8.2" fill="#6f5a4c" fill-opacity="0.55" transform="rotate(67 98.97 47.46)"/>
<ellipse cx="23.61" cy="0.32" rx="10.45" ry="13.02" fill="#4a3c34" fill-opacity="0.55" transform="rotate(8 23.61 0.32)"/>
<ellipse cx="14.49" cy="75.13" rx="17.06" ry="14.33" fill="#7a6656" fill-opacity="0.55" transform="rotate(55 14.49 75.13)"/>
<ellipse cx="99.76" cy="73.87" rx="16.5" ry="13.39" fill="#3f322c" fill-opacity="0.55" transform="rotate(4 99.76 73.87)"/>
<ellipse cx="95.68" cy="54.01" rx="14.33" ry="13.79" fill="#6f5a4c" fill-opacity="0.55" transform="rotate(47 95.68 54.01)"/>
<ellipse cx="2.32" cy="74.1" rx="7.06" ry="15.7" fill="#4a3c34" fill-opacity="0.55" transform="rotate(2 2.32 74.1)"/>
<ellipse cx="45.31" cy="55.2" rx="10.12" ry="11.82" fill="#7a6656" fill-opacity="0.55" transform="rotate(23 45.31 55.2)"/>
<ellipse cx="66.51" cy="46.99" rx="15.84" ry="6.9" fill="#3f322c" fill-opacity="0.55" transform="rotate(25 66.51 46.99)"/>
<ellipse cx="20.86" cy="96.88" rx="16.73" ry="15.06" fill="#6f5a4c" fill-opacity="0.55" transform="rotate(74 20.86 96.88)"/>
<ellipse cx="98.88" cy="7.09" rx="12.72" ry="12.71" fill="#4a3c34" fill-opacity="0.55" transform="rotate(49 98.88 7.09)"/>
<ellipse cx="20.11" cy="92.32" rx="16.65" ry="10.92" fill="#7a6656" fill-opacity="0.55" transform="rotate(46 20.11 92.32)"/>
<ellipse cx="95.45" cy="50.14" rx="9.82" ry="11.81" fill="#3f322c" fill-opacity="0.55" transform="rotate(34 95.45 50.14)"/>
<ellipse cx="2.68" cy="9.33" rx="14.62" ry="17.91" fill="#6f5a4c" fill-opacity="0.55" transform="rotate(63 2.68 9.33)"/>
<ellipse cx="0.28" cy="7.01" rx="13.19" ry="12.27" fill="#4a3c34" fill-opacity="0.55" transform="rotate(73 0.28 7.01)"/>
<ellipse cx="60.89" cy="55.65" rx="13.47" ry="8.17" fill="#7a6656" fill-opacity="0.55" transform="rotate(21 60.89 55.65)"/>
<ellipse cx="62.65" cy="83.37" rx="9.99" ry="15.14" fill="#3f322c" fill-opacity="0.55" transform="rotate(39 62.65 83.37)"/>
<ellipse cx="24.58" cy="16.87" rx="17.08" ry="8.09" fill="#6f5a4c" fill-opacity="0.55" transform="rotate(54 24.58 16.87)"/>
<ellipse cx="37.49" cy="68.34" rx="14.11" ry="16.78" fill="#4a3c34" fill-opacity="0.55" transform="rotate(30 37.49 68.34)"/>
<ellipse cx="40.7" cy="98.91" rx="17.54" ry="13.09" fill="#7a6656" fill-opacity="0.55" transform="rotate(44 40.7 98.91)"/>
<polyline points="10,5 40,30 55,70 70,100" fill="none" stroke="#7d6a5c" stroke-width="2.5" stroke-opacity="0.7"/>
<polyline points="85,0 90,50 100,80" fill="none" stroke="#3a2e2a" stroke-width="3" stroke-opacity="0.7"/>
<ellipse cx="35" cy="80" rx="22" ry="14" fill="#2f2622" fill-opacity="0.6"/>
</g>
</svg>
<svg x="3119.5" y="1780.16" width="71.51" height="72" viewBox="0 0 100 100" preserveAspectRatio="none"><g filter="url(#bl2)">
<rect x="-20" y="-20" width="140" height="140" fill="#66766a"/>
<ellipse cx="92.49" cy="94.86" rx="18.71" ry="9" fill="#58685c" fill-opacity="0.5" transform="rotate(75 92.49 94.86)"/>
<ellipse cx="30.67" cy="37.92" rx="12.3" ry="16.71" fill="#77867a" fill-opacity="0.5" transform="rotate(34 30.67 37.92)"/>
<ellipse cx="44.46" cy="22.1" rx="13.46" ry="8.3" fill="#4f5f55" fill-opacity="0.5" transform="rotate(10 44.46 22.1)"/>
<ellipse cx="98.13" cy="49.82" rx="8.23" ry="15.53" fill="#58685c" fill-opacity="0.5" transform="rotate(55 98.13 49.82)"/>
<ellipse cx="35.9" cy="5.76" rx="17.4" ry="15.07" fill="#77867a" fill-opacity="0.5" transform="rotate(84 35.9 5.76)"/>
<ellipse cx="17.19" cy="21.6" rx="16.82" ry="14.79" fill="#4f5f55" fill-opacity="0.5" transform="rotate(47 17.19 21.6)"/>
<ellipse cx="96.86" cy="28.13" rx="19.7" ry="14.88" fill="#58685c" fill-opacity="0.5" transform="rotate(60 96.86 28.13)"/>
<ellipse cx="17.76" cy="48.31" rx="17.5" ry="16.11" fill="#77867a" fill-opacity="0.5" transform="rotate(20 17.76 48.31)"/>
<ellipse cx="18.2" cy="17.85" rx="11.88" ry="17.79" fill="#4f5f55" fill-opacity="0.5" transform="rotate(25 18.2 17.85)"/>
<ellipse cx="58.23" cy="8.23" rx="13.11" ry="14.82" fill="#58685c" fill-opacity="0.5" transform="rotate(73 58.23 8.23)"/>
<ellipse cx="28.06" cy="59" rx="9.31" ry="18.8" fill="#77867a" fill-opacity="0.5" transform="rotate(69 28.06 59)"/>
<ellipse cx="30.48" cy="77.76" rx="14.59" ry="11.1" fill="#4f5f55" fill-opacity="0.5" transform="rotate(13 30.48 77.76)"/>
<ellipse cx="61.97" cy="11.94" rx="17.54" ry="13.92" fill="#58685c" fill-opacity="0.5" transform="rotate(42 61.97 11.94)"/>
<ellipse cx="54.55" cy="91.87" rx="15.11" ry="19.35" fill="#77867a" fill-opacity="0.5" transform="rotate(21 54.55 91.87)"/>
<ellipse cx="48.85" cy="71.34" rx="7.22" ry="4.07" fill="#c0c6b8" fill-opacity="0.75" transform="rotate(39 48.85 71.34)"/>
<ellipse cx="61.82" cy="27.12" rx="7.76" ry="4.28" fill="#a8b0a4" fill-opacity="0.75" transform="rotate(39 61.82 27.12)"/>
<ellipse cx="58.24" cy="29.81" rx="7.29" ry="5.88" fill="#c0c6b8" fill-opacity="0.75" transform="rotate(25 58.24 29.81)"/>
<ellipse cx="55.62" cy="64.72" rx="6.12" ry="7.12" fill="#a8b0a4" fill-opacity="0.75" transform="rotate(23 55.62 64.72)"/>
<ellipse cx="57.44" cy="50.69" rx="5.62" ry="7.42" fill="#c0c6b8" fill-opacity="0.75" transform="rotate(81 57.44 50.69)"/>
<ellipse cx="63.9" cy="55.03" rx="4.78" ry="4.77" fill="#a8b0a4" fill-opacity="0.75" transform="rotate(86 63.9 55.03)"/>
<ellipse cx="38.05" cy="48.04" rx="3.35" ry="5.82" fill="#c0c6b8" fill-opacity="0.75" transform="rotate(65 38.05 48.04)"/>
<ellipse cx="61.79" cy="61.47" rx="7.84" ry="5.71" fill="#a8b0a4" fill-opacity="0.75" transform="rotate(9 61.79 61.47)"/>
<ellipse cx="70.86" cy="36.04" rx="5.12" ry="5.8" fill="#c0c6b8" fill-opacity="0.75" transform="rotate(55 70.86 36.04)"/>
<ellipse cx="70.23" cy="55.57" rx="6.27" ry="5.21" fill="#a8b0a4" fill-opacity="0.75" transform="rotate(63 70.23 55.57)"/>
<polyline points="100,5 80,30 68,45 75,65 62,80 70,100" fill="none" stroke="#34463e" stroke-width="2.8" stroke-opacity="0.85"/>
<ellipse cx="85" cy="75" rx="14" ry="18" fill="#7a6e66" fill-opacity="0.5"/>
</g>
</svg>
<svg x="3191.01" y="1780.16" width="71.51" height="72" viewBox="0 0 100 100" preserveAspectRatio="none"><g filter="url(#bl2)">
<rect x="-20" y="-20" width="140" height="140" fill="#8a7468"/>
<ellipse cx="77.15" cy="70.14" rx="13.61" ry="6.77" fill="#9a857a" fill-opacity="0.5" transform="rotate(8 77.15 70.14)"/>
<ellipse cx="51.54" cy="53.96" rx="7.28" ry="12.51" fill="#7a665c" fill-opacity="0.5" transform="rotate(51 51.54 53.96)"/>
<ellipse cx="46.92" cy="90.97" rx="9.42" ry="5.64" fill="#a08a80" fill-opacity="0.5" transform="rotate(81 46.92 90.97)"/>
<ellipse cx="72.24" cy="7.87" rx="12.55" ry="11.97" fill="#9a857a" fill-opacity="0.5" transform="rotate(6 72.24 7.87)"/>
<ellipse cx="77.74" cy="99.27" rx="5.11" ry="13.77" fill="#7a665c" fill-opacity="0.5" transform="rotate(82 77.74 99.27)"/>
<ellipse cx="66.1" cy="13.75" rx="13.46" ry="10.49" fill="#a08a80" fill-opacity="0.5" transform="rotate(29 66.1 13.75)"/>
<ellipse cx="80.78" cy="52.42" rx="5.89" ry="8.53" fill="#9a857a" fill-opacity="0.5" transform="rotate(38 80.78 52.42)"/>
<ellipse cx="94.24" cy="79.58" rx="5.34" ry="11.12" fill="#7a665c" fill-opacity="0.5" transform="rotate(10 94.24 79.58)"/>
<ellipse cx="46.06" cy="70.75" rx="7.39" ry="13.98" fill="#a08a80" fill-opacity="0.5" transform="rotate(22 46.06 70.75)"/>
<ellipse cx="98.41" cy="65.03" rx="9.07" ry="6.36" fill="#9a857a" fill-opacity="0.5" transform="rotate(73 98.41 65.03)"/>
<ellipse cx="72.35" cy="6.5" rx="13.97" ry="12.85" fill="#7a665c" fill-opacity="0.5" transform="rotate(59 72.35 6.5)"/>
<ellipse cx="57.93" cy="36.09" rx="12.03" ry="6.6" fill="#a08a80" fill-opacity="0.5" transform="rotate(45 57.93 36.09)"/>
<polygon points="-5,-5 20,-5 34,25 38,50 36,65 48,85 55,105 -5,105" fill="#123842"/>
<ellipse cx="15" cy="45" rx="14" ry="20" fill="#1c5050" fill-opacity="0.5"/>
<ellipse cx="42" cy="66" rx="6" ry="7" fill="#1a2426" fill-opacity="0.9"/>
<polyline points="60,0 100,40" fill="none" stroke="#6f5f58" stroke-width="2" stroke-opacity="0.6"/>
<rect x="78" y="32" width="14" height="6" fill="#4a5a7a" fill-opacity="0.6"/>
</g>
</svg>
<svg x="3262.51" y="1780.16" width="71.51" height="72" viewBox="0 0 100 100" preserveAspectRatio="none"><g filter="url(#bl2)">
<rect x="-20" y="-20" width="140" height="140" fill="#6b6142"/>
<ellipse cx="54.81" cy="34.58" rx="14.45" ry="8.89" fill="#5a5434" fill-opacity="0.55" transform="rotate(65 54.81 34.58)"/>
<ellipse cx="92.73" cy="39.29" rx="6.19" ry="6.32" fill="#7a6e4e" fill-opacity="0.55" transform="rotate(56 92.73 39.29)"/>
<ellipse cx="65.22" cy="80.31" rx="6.86" ry="10.98" fill="#4d4a2e" fill-opacity="0.55" transform="rotate(77 65.22 80.31)"/>
<ellipse cx="54.23" cy="83.61" rx="7.99" ry="15.77" fill="#807456" fill-opacity="0.55" transform="rotate(28 54.23 83.61)"/>
<ellipse cx="43.39" cy="40.81" rx="13.93" ry="11.63" fill="#5a5434" fill-opacity="0.55" transform="rotate(25 43.39 40.81)"/>
<ellipse cx="54.36" cy="42.24" rx="8.78" ry="13.5" fill="#7a6e4e" fill-opacity="0.55" transform="rotate(52 54.36 42.24)"/>
<ellipse cx="95.86" cy="47.25" rx="7.44" ry="9.07" fill="#4d4a2e" fill-opacity="0.55" transform="rotate(38 95.86 47.25)"/>
<ellipse cx="58.71" cy="64.52" rx="9.97" ry="12.18" fill="#807456" fill-opacity="0.55" transform="rotate(12 58.71 64.52)"/>
<ellipse cx="73.11" cy="88.97" rx="14.57" ry="8.64" fill="#5a5434" fill-opacity="0.55" transform="rotate(88 73.11 88.97)"/>
<ellipse cx="34.07" cy="6.93" rx="9.98" ry="10.15" fill="#7a6e4e" fill-opacity="0.55" transform="rotate(83 34.07 6.93)"/>
<ellipse cx="42.6" cy="28.13" rx="12.17" ry="7.56" fill="#4d4a2e" fill-opacity="0.55" transform="rotate(89 42.6 28.13)"/>
<ellipse cx="97.33" cy="63.5" rx="13.31" ry="12.74" fill="#807456" fill-opacity="0.55" transform="rotate(85 97.33 63.5)"/>
<ellipse cx="27.84" cy="97.23" rx="6.22" ry="15.24" fill="#5a5434" fill-opacity="0.55" transform="rotate(70 27.84 97.23)"/>
<ellipse cx="13.59" cy="15.08" rx="15.16" ry="15.6" fill="#7a6e4e" fill-opacity="0.55" transform="rotate(6 13.59 15.08)"/>
<ellipse cx="72.45" cy="75.98" rx="9.08" ry="6.07" fill="#4d4a2e" fill-opacity="0.55" transform="rotate(80 72.45 75.98)"/>
<ellipse cx="51.83" cy="5.85" rx="6.39" ry="13.65" fill="#807456" fill-opacity="0.55" transform="rotate(19 51.83 5.85)"/>
<polyline points="20,0 28,40 22,100" fill="none" stroke="#3f4428" stroke-width="4" stroke-opacity="0.7"/>
<polyline points="45,0 50,50 40,100" fill="none" stroke="#4a4c2e" stroke-width="3" stroke-opacity="0.6"/>
<ellipse cx="55.43" cy="38.93" rx="3.87" ry="4.89" fill="#a39c88" fill-opacity="0.7" transform="rotate(17 55.43 38.93)"/>
<ellipse cx="88.26" cy="53.73" rx="4.99" ry="2.99" fill="#b0aa98" fill-opacity="0.7" transform="rotate(4 88.26 53.73)"/>
<ellipse cx="78.18" cy="39.78" rx="4.37" ry="4.07" fill="#a39c88" fill-opacity="0.7" transform="rotate(52 78.18 39.78)"/>
<ellipse cx="62.17" cy="55.76" rx="2.91" ry="5.2" fill="#b0aa98" fill-opacity="0.7" transform="rotate(51 62.17 55.76)"/>
<ellipse cx="66.95" cy="42.21" rx="3.87" ry="4.59" fill="#a39c88" fill-opacity="0.7" transform="rotate(31 66.95 42.21)"/>
<ellipse cx="62.36" cy="42.59" rx="4.55" ry="4.42" fill="#b0aa98" fill-opacity="0.7" transform="rotate(6 62.36 42.59)"/>
<ellipse cx="84.35" cy="47.44" rx="3.21" ry="5.43" fill="#a39c88" fill-opacity="0.7" transform="rotate(48 84.35 47.44)"/>
<ellipse cx="56.06" cy="60.73" rx="5.54" ry="4.78" fill="#b0aa98" fill-opacity="0.7" transform="rotate(27 56.06 60.73)"/>
<ellipse cx="62.27" cy="50.13" rx="3.79" ry="3.66" fill="#a39c88" fill-opacity="0.7" transform="rotate(28 62.27 50.13)"/>
<ellipse cx="71.87" cy="44.22" rx="3.53" ry="4.5" fill="#b0aa98" fill-opacity="0.7" transform="rotate(61 71.87 44.22)"/>
<ellipse cx="77.64" cy="64.27" rx="5.86" ry="5.92" fill="#a39c88" fill-opacity="0.7" transform="rotate(12 77.64 64.27)"/>
<ellipse cx="82.64" cy="45.72" rx="3.12" ry="4.68" fill="#b0aa98" fill-opacity="0.7" transform="rotate(69 82.64 45.72)"/>
</g>
</svg>
<svg x="3334.02" y="1780.16" width="72" height="72" viewBox="0 0 100 100" preserveAspectRatio="none"><g filter="url(#bl2)">
<rect x="-20" y="-20" width="140" height="140" fill="#3f7c4c"/>
<ellipse cx="57.03" cy="63.22" rx="14.17" ry="8.77" fill="#35703f" fill-opacity="0.55" transform="rotate(83 57.03 63.22)"/>
<ellipse cx="88.03" cy="53.27" rx="11.27" ry="15.79" fill="#4a8a58" fill-opacity="0.55" transform="rotate(78 88.03 53.27)"/>
<ellipse cx="94.35" cy="32.1" rx="12.87" ry="10.81" fill="#2f6238" fill-opacity="0.55" transform="rotate(36 94.35 32.1)"/>
<ellipse cx="94.36" cy="63.56" rx="9.01" ry="9.09" fill="#35703f" fill-opacity="0.55" transform="rotate(63 94.36 63.56)"/>
<ellipse cx="89.89" cy="74.31" rx="14.6" ry="12.77" fill="#4a8a58" fill-opacity="0.55" transform="rotate(35 89.89 74.31)"/>
<ellipse cx="92.8" cy="55.56" rx="12.81" ry="7.17" fill="#2f6238" fill-opacity="0.55" transform="rotate(7 92.8 55.56)"/>
<ellipse cx="31.93" cy="88.77" rx="15.95" ry="15.91" fill="#35703f" fill-opacity="0.55" transform="rotate(8 31.93 88.77)"/>
<ellipse cx="74.98" cy="12.32" rx="9.22" ry="8.43" fill="#4a8a58" fill-opacity="0.55" transform="rotate(34 74.98 12.32)"/>
<ellipse cx="32.01" cy="35.39" rx="12.59" ry="11.55" fill="#2f6238" fill-opacity="0.55" transform="rotate(49 32.01 35.39)"/>
<ellipse cx="18.54" cy="11.01" rx="6.33" ry="14.73" fill="#35703f" fill-opacity="0.55" transform="rotate(87 18.54 11.01)"/>
<ellipse cx="55.97" cy="12.38" rx="7.49" ry="7.2" fill="#4a8a58" fill-opacity="0.55" transform="rotate(40 55.97 12.38)"/>
<ellipse cx="0.3" cy="41" rx="9.48" ry="14.67" fill="#2f6238" fill-opacity="0.55" transform="rotate(86 0.3 41)"/>
<ellipse cx="65.37" cy="45.78" rx="10.73" ry="9.58" fill="#35703f" fill-opacity="0.55" transform="rotate(68 65.37 45.78)"/>
<ellipse cx="45.43" cy="86.09" rx="10.86" ry="6.1" fill="#4a8a58" fill-opacity="0.55" transform="rotate(48 45.43 86.09)"/>
<ellipse cx="37.92" cy="78.05" rx="7.11" ry="14.73" fill="#2f6238" fill-opacity="0.55" transform="rotate(1 37.92 78.05)"/>
<ellipse cx="93.69" cy="63.47" rx="13.23" ry="14.73" fill="#35703f" fill-opacity="0.55" transform="rotate(89 93.69 63.47)"/>
<polygon points="80,-5 105,-5 105,105 60,105 75,70 90,40" fill="#245232" fill-opacity="0.8"/>
<polyline points="10,10 40,30 55,60 60,100" fill="none" stroke="#2a5a36" stroke-width="2" stroke-opacity="0.7"/>
<ellipse cx="78" cy="38" rx="4" ry="7" fill="#8cc870" fill-opacity="0.9" transform="rotate(20 78 38)"/>
<ellipse cx="82" cy="55" rx="3" ry="6" fill="#7ab862" fill-opacity="0.8" transform="rotate(10 82 55)"/>
</g>
</svg>
<rect x="3047.99" y="1780.16" width="358.03" height="72" fill="none" stroke="#555" stroke-width="0.6"/>
<text x="3083.25" y="1875.18" font-size="9" fill="#222" text-anchor="middle">Angola /</text>
<text x="3083.25" y="1886.45" font-size="9" fill="#222" text-anchor="middle">urban</text>
<text x="3083.25" y="1918.28" font-size="9" fill="#222" text-anchor="middle">0.259</text>
<text x="3150.84" y="1875.18" font-size="9" fill="#222" text-anchor="middle">Angola /</text>
<text x="3150.84" y="1886.45" font-size="9" fill="#222" text-anchor="middle">rural</text>
<text x="3150.84" y="1918.28" font-size="9" fill="#222" text-anchor="middle">-1.106</text>
<text x="3223.82" y="1875.18" font-size="9" fill="#222" text-anchor="middle">Angola /</text>
<text x="3223.82" y="1886.45" font-size="9" fill="#222" text-anchor="middle">urban</text>
<text x="3225.29" y="1918.28" font-size="9" fill="#222" text-anchor="middle">2.347</text>
<text x="3295.82" y="1875.18" font-size="9" fill="#222" text-anchor="middle">Kenya /</text>
<text x="3295.82" y="1886.45" font-size="9" fill="#222" text-anchor="middle">urban</text>
<text x="3286.51" y="1918.28" font-size="9" fill="#222" text-anchor="middle">0.827</text>
<text x="3364.88" y="1875.18" font-size="9" fill="#222" text-anchor="middle">Kenya /</text>
<text x="3364.88" y="1886.45" font-size="9" fill="#222" text-anchor="middle">rural</text>
<text x="3357.53" y="1918.28" font-size="9" fill="#222" text-anchor="middle">0.130</text>
<text x="0" y="0" font-size="6.4" fill="#111" text-anchor="middle" transform="translate(3030.11 1815.92) rotate(-90)">Satellite image</text>
<text x="0" y="0" font-size="6.4" fill="#111" text-anchor="middle" transform="translate(3037.46 1815.92) rotate(-90)">(x)</text>
<text x="0" y="0" font-size="6.4" fill="#111" text-anchor="middle" transform="translate(3026.44 1876.65) rotate(-90)">Country /</text>
<text x="0" y="0" font-size="6.4" fill="#111" text-anchor="middle" transform="translate(3033.78 1876.65) rotate(-90)">Urban-rural</text>
<text x="0" y="0" font-size="6.4" fill="#111" text-anchor="middle" transform="translate(3041.13 1876.65) rotate(-90)">(d)</text>
<text x="0" y="0" font-size="6.4" fill="#111" text-anchor="middle" transform="translate(3026.44 1914.85) rotate(-90)">Asset</text>
<text x="0" y="0" font-size="6.4" fill="#111" text-anchor="middle" transform="translate(3033.78 1914.85) rotate(-90)">index</text>
<text x="0" y="0" font-size="6.4" fill="#111" text-anchor="middle" transform="translate(3041.13 1914.85) rotate(-90)">(y)</text>
<text x="2508.7" y="1946.6" font-size="16" text-anchor="middle" text-decoration="underline">Camelyon17</text>
<text x="2848.6" y="1946.6" font-size="16" text-anchor="middle" text-decoration="underline">iWildCam</text>
<text x="3223.8" y="1946.6" font-size="16" text-anchor="middle" text-decoration="underline">PovertyMap</text>
<rect x="2338" y="1967.8" width="1059" height="4.4" fill="#000"/>
<path d="M3191.1 2041.8h48.2v6.99h-48.2zM3246.05 2041.8h41.33v6.99h-41.33zM3294.13 2041.8h6.99v6.99h-6.99zM3314.74 2041.8h6.99v6.99h-6.99zM3328.48 2041.8h6.99v6.99h-6.99zM3342.22 2041.8h48.2v6.99h-48.2zM3191.1 2048.67h6.99v6.99h-6.99zM3232.31 2048.67h6.99v6.99h-6.99zM3246.05 2048.67h20.73v6.99h-20.73zM3280.4 2048.67h6.99v6.99h-6.99zM3307.87 2048.67h6.99v6.99h-6.99zM3321.61 2048.67h13.86v6.99h-13.86zM3342.22 2048.67h6.99v6.99h-6.99zM3383.43 2048.67h6.99v6.99h-6.99zM3191.1 2055.54h6.99v6.99h-6.99zM3204.84 2055.54h20.73v6.99h-20.73zM3232.31 2055.54h6.99v6.99h-6.99zM3246.05 2055.54h6.99v6.99h-6.99zM3266.66 2055.54h27.6v6.99h-27.6zM3301 2055.54h6.99v6.99h-6.99zM3321.61 2055.54h13.86v6.99h-13.86zM3342.22 2055.54h6.99v6.99h-6.99zM3355.96 2055.54h20.73v6.99h-20.73zM3383.43 2055.54h6.99v6.99h-6.99zM3191.1 2062.41h6.99v6.99h-6.99zM3204.84 2062.41h20.73v6.99h-20.73zM3232.31 2062.41h6.99v6.99h-6.99zM3259.79 2062.41h13.86v6.99h-13.86zM3280.4 2062.41h6.99v6.99h-6.99zM3301 2062.41h13.86v6.99h-13.86zM3342.22 2062.41h6.99v6.99h-6.99zM3355.96 2062.41h20.73v6.99h-20.73zM3383.43 2062.41h6.99v6.99h-6.99zM3191.1 2069.28h6.99v6.99h-6.99zM3204.84 2069.28h20.73v6.99h-20.73zM3232.31 2069.28h6.99v6.99h-6.99zM3246.05 2069.28h27.6v6.99h-27.6zM3280.4 2069.28h48.2v6.99h-48.2zM3342.22 2069.28h6.99v6.99h-6.99zM3355.96 2069.28h20.73v6.99h-20.73zM3383.43 2069.28h6.99v6.99h-6.99zM3191.1 2076.14h6.99v6.99h-6.99zM3232.31 2076.14h6.99v6.99h-6.99zM3259.79 2076.14h6.99v6.99h-6.99zM3273.53 2076.14h13.86v6.99h-13.86zM3328.48 2076.14h6.99v6.99h-6.99zM3342.22 2076.14h6.99v6.99h-6.99zM3383.43 2076.14h6.99v6.99h-6.99zM3191.1 2083.01h48.2v6.99h-48.2zM3246.05 2083.01h6.99v6.99h-6.99zM3259.79 2083.01h6.99v6.99h-6.99zM3273.53 2083.01h6.99v6.99h-6.99zM3287.27 2083.01h6.99v6.99h-6.99zM3301 2083.01h6.99v6.99h-6.99zM3314.74 2083.01h6.99v6.99h-6.99zM3328.48 2083.01h6.99v6.99h-6.99zM3342.22 2083.01h48.2v6.99h-48.2zM3252.92 2089.88h6.99v6.99h-6.99zM3280.4 2089.88h13.86v6.99h-13.86zM3301 2089.88h6.99v6.99h-6.99zM3314.74 2089.88h13.86v6.99h-13.86zM3191.1 2096.75h6.99v6.99h-6.99zM3211.71 2096.75h48.2v6.99h-48.2zM3266.66 2096.75h34.46v6.99h-34.46zM3307.87 2096.75h6.99v6.99h-6.99zM3321.61 2096.75h6.99v6.99h-6.99zM3335.35 2096.75h6.99v6.99h-6.99zM3355.96 2096.75h6.99v6.99h-6.99zM3369.69 2096.75h20.73v6.99h-20.73zM3197.97 2103.62h6.99v6.99h-6.99zM3239.18 2103.62h41.33v6.99h-41.33zM3287.27 2103.62h41.33v6.99h-41.33zM3335.35 2103.62h6.99v6.99h-6.99zM3349.09 2103.62h13.86v6.99h-13.86zM3369.69 2103.62h13.86v6.99h-13.86zM3197.97 2110.49h13.86v6.99h-13.86zM3225.44 2110.49h20.73v6.99h-20.73zM3252.92 2110.49h27.6v6.99h-27.6zM3287.27 2110.49h13.86v6.99h-13.86zM3328.48 2110.49h13.86v6.99h-13.86zM3349.09 2110.49h6.99v6.99h-6.99zM3369.69 2110.49h6.99v6.99h-6.99zM3191.1 2117.36h6.99v6.99h-6.99zM3204.84 2117.36h6.99v6.99h-6.99zM3218.58 2117.36h6.99v6.99h-6.99zM3246.05 2117.36h6.99v6.99h-6.99zM3287.27 2117.36h27.6v6.99h-27.6zM3321.61 2117.36h13.86v6.99h-13.86zM3362.82 2117.36h6.99v6.99h-6.99zM3383.43 2117.36h6.99v6.99h-6.99zM3218.58 2124.23h6.99v6.99h-6.99zM3232.31 2124.23h6.99v6.99h-6.99zM3252.92 2124.23h27.6v6.99h-27.6zM3328.48 2124.23h6.99v6.99h-6.99zM3342.22 2124.23h13.86v6.99h-13.86zM3383.43 2124.23h6.99v6.99h-6.99zM3191.1 2131.1h6.99v6.99h-6.99zM3204.84 2131.1h6.99v6.99h-6.99zM3225.44 2131.1h6.99v6.99h-6.99zM3246.05 2131.1h6.99v6.99h-6.99zM3259.79 2131.1h13.86v6.99h-13.86zM3280.4 2131.1h6.99v6.99h-6.99zM3294.13 2131.1h13.86v6.99h-13.86zM3342.22 2131.1h48.2v6.99h-48.2zM3191.1 2137.97h34.46v6.99h-34.46zM3232.31 2137.97h20.73v6.99h-20.73zM3259.79 2137.97h6.99v6.99h-6.99zM3294.13 2137.97h34.46v6.99h-34.46zM3342.22 2137.97h20.73v6.99h-20.73zM3369.69 2137.97h6.99v6.99h-6.99zM3383.43 2137.97h6.99v6.99h-6.99zM3191.1 2144.83h6.99v6.99h-6.99zM3246.05 2144.83h13.86v6.99h-13.86zM3287.27 2144.83h6.99v6.99h-6.99zM3314.74 2144.83h13.86v6.99h-13.86zM3335.35 2144.83h27.6v6.99h-27.6zM3369.69 2144.83h6.99v6.99h-6.99zM3383.43 2144.83h6.99v6.99h-6.99zM3211.71 2151.7h6.99v6.99h-6.99zM3232.31 2151.7h6.99v6.99h-6.99zM3321.61 2151.7h13.86v6.99h-13.86zM3349.09 2151.7h6.99v6.99h-6.99zM3362.82 2151.7h6.99v6.99h-6.99zM3191.1 2158.57h13.86v6.99h-13.86zM3211.71 2158.57h6.99v6.99h-6.99zM3225.44 2158.57h6.99v6.99h-6.99zM3239.18 2158.57h6.99v6.99h-6.99zM3259.79 2158.57h27.6v6.99h-27.6zM3307.87 2158.57h6.99v6.99h-6.99zM3321.61 2158.57h6.99v6.99h-6.99zM3335.35 2158.57h6.99v6.99h-6.99zM3355.96 2158.57h6.99v6.99h-6.99zM3369.69 2158.57h13.86v6.99h-13.86zM3191.1 2165.44h27.6v6.99h-27.6zM3225.44 2165.44h20.73v6.99h-20.73zM3252.92 2165.44h27.6v6.99h-27.6zM3287.27 2165.44h13.86v6.99h-13.86zM3307.87 2165.44h6.99v6.99h-6.99zM3321.61 2165.44h6.99v6.99h-6.99zM3342.22 2165.44h27.6v6.99h-27.6zM3383.43 2165.44h6.99v6.99h-6.99zM3191.1 2172.31h34.46v6.99h-34.46zM3266.66 2172.31h20.73v6.99h-20.73zM3301 2172.31h6.99v6.99h-6.99zM3342.22 2172.31h6.99v6.99h-6.99zM3355.96 2172.31h20.73v6.99h-20.73zM3191.1 2179.18h13.86v6.99h-13.86zM3211.71 2179.18h6.99v6.99h-6.99zM3225.44 2179.18h41.33v6.99h-41.33zM3307.87 2179.18h6.99v6.99h-6.99zM3321.61 2179.18h61.94v6.99h-61.94zM3246.05 2186.05h13.86v6.99h-13.86zM3273.53 2186.05h6.99v6.99h-6.99zM3294.13 2186.05h41.33v6.99h-41.33zM3355.96 2186.05h13.86v6.99h-13.86zM3191.1 2192.92h48.2v6.99h-48.2zM3246.05 2192.92h13.86v6.99h-13.86zM3273.53 2192.92h6.99v6.99h-6.99zM3294.13 2192.92h6.99v6.99h-6.99zM3307.87 2192.92h6.99v6.99h-6.99zM3321.61 2192.92h13.86v6.99h-13.86zM3342.22 2192.92h6.99v6.99h-6.99zM3355.96 2192.92h13.86v6.99h-13.86zM3191.1 2199.79h6.99v6.99h-6.99zM3232.31 2199.79h6.99v6.99h-6.99zM3246.05 2199.79h34.46v6.99h-34.46zM3307.87 2199.79h6.99v6.99h-6.99zM3321.61 2199.79h13.86v6.99h-13.86zM3355.96 2199.79h6.99v6.99h-6.99zM3191.1 2206.66h6.99v6.99h-6.99zM3204.84 2206.66h20.73v6.99h-20.73zM3232.31 2206.66h6.99v6.99h-6.99zM3246.05 2206.66h61.94v6.99h-61.94zM3314.74 2206.66h55.07v6.99h-55.07zM3376.56 2206.66h6.99v6.99h-6.99zM3191.1 2213.52h6.99v6.99h-6.99zM3204.84 2213.52h20.73v6.99h-20.73zM3232.31 2213.52h6.99v6.99h-6.99zM3246.05 2213.52h6.99v6.99h-6.99zM3259.79 2213.52h6.99v6.99h-6.99zM3273.53 2213.52h6.99v6.99h-6.99zM3287.27 2213.52h27.6v6.99h-27.6zM3328.48 2213.52h13.86v6.99h-13.86zM3349.09 2213.52h6.99v6.99h-6.99zM3383.43 2213.52h6.99v6.99h-6.99zM3191.1 2220.39h6.99v6.99h-6.99zM3204.84 2220.39h20.73v6.99h-20.73zM3232.31 2220.39h6.99v6.99h-6.99zM3252.92 2220.39h6.99v6.99h-6.99zM3294.13 2220.39h6.99v6.99h-6.99zM3307.87 2220.39h6.99v6.99h-6.99zM3335.35 2220.39h6.99v6.99h-6.99zM3349.09 2220.39h13.86v6.99h-13.86zM3369.69 2220.39h20.73v6.99h-20.73zM3191.1 2227.26h6.99v6.99h-6.99zM3232.31 2227.26h6.99v6.99h-6.99zM3259.79 2227.26h20.73v6.99h-20.73zM3287.27 2227.26h6.99v6.99h-6.99zM3301 2227.26h6.99v6.99h-6.99zM3349.09 2227.26h6.99v6.99h-6.99zM3362.82 2227.26h13.86v6.99h-13.86zM3383.43 2227.26h6.99v6.99h-6.99zM3191.1 2234.13h48.2v6.99h-48.2zM3246.05 2234.13h6.99v6.99h-6.99zM3259.79 2234.13h34.46v6.99h-34.46zM3321.61 2234.13h13.86v6.99h-13.86z" fill="#000"/>
</svg>
</div>
</body></html>
